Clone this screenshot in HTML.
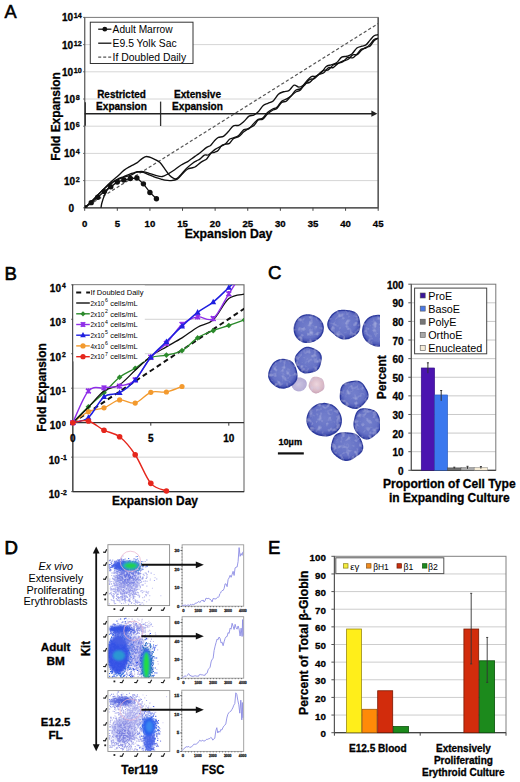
<!DOCTYPE html>
<html><head><meta charset="utf-8"><style>
html,body{margin:0;padding:0;background:#fff;width:520px;height:782px;overflow:hidden}
svg{display:block}
text{font-family:"Liberation Sans", sans-serif}
text[font-weight="bold"]{stroke:#000;stroke-width:0.3px;paint-order:stroke}
</style></head><body>
<svg width="520" height="782" viewBox="0 0 520 782" font-family='"Liberation Sans", sans-serif'>
<rect width="520" height="782" fill="#fff"/>
<text x="4.6" y="17.8" font-size="18.2" stroke="#000" stroke-width="0.55">A</text>
<line x1="84.7" y1="180.6" x2="378.2" y2="180.6" stroke="#d6d6d6" stroke-width="1"/>
<line x1="84.7" y1="153.4" x2="378.2" y2="153.4" stroke="#d6d6d6" stroke-width="1"/>
<line x1="84.7" y1="126.2" x2="378.2" y2="126.2" stroke="#d6d6d6" stroke-width="1"/>
<line x1="84.7" y1="99" x2="378.2" y2="99" stroke="#d6d6d6" stroke-width="1"/>
<line x1="84.7" y1="71.8" x2="378.2" y2="71.8" stroke="#d6d6d6" stroke-width="1"/>
<line x1="84.7" y1="44.6" x2="378.2" y2="44.6" stroke="#d6d6d6" stroke-width="1"/>
<rect x="84.7" y="17.4" width="293.5" height="190.4" fill="none" stroke="#7a7a7a" stroke-width="1"/>
<line x1="378.2" y1="17.4" x2="378.2" y2="207.8" stroke="#555" stroke-width="1.4"/>
<line x1="84.7" y1="207.8" x2="378.2" y2="207.8" stroke="#444" stroke-width="1.3"/>
<line x1="84.7" y1="17.4" x2="84.7" y2="207.8" stroke="#666" stroke-width="1.1"/>
<line x1="83.2" y1="207.8" x2="84.7" y2="207.8" stroke="#555" stroke-width="1"/>
<line x1="83.2" y1="180.6" x2="84.7" y2="180.6" stroke="#555" stroke-width="1"/>
<line x1="83.2" y1="153.4" x2="84.7" y2="153.4" stroke="#555" stroke-width="1"/>
<line x1="83.2" y1="126.2" x2="84.7" y2="126.2" stroke="#555" stroke-width="1"/>
<line x1="83.2" y1="99" x2="84.7" y2="99" stroke="#555" stroke-width="1"/>
<line x1="83.2" y1="71.8" x2="84.7" y2="71.8" stroke="#555" stroke-width="1"/>
<line x1="83.2" y1="44.6" x2="84.7" y2="44.6" stroke="#555" stroke-width="1"/>
<line x1="83.2" y1="17.4" x2="84.7" y2="17.4" stroke="#555" stroke-width="1"/>
<line x1="84.7" y1="207.8" x2="84.7" y2="210.8" stroke="#444" stroke-width="1"/>
<line x1="117.31" y1="207.8" x2="117.31" y2="210.8" stroke="#444" stroke-width="1"/>
<line x1="149.92" y1="207.8" x2="149.92" y2="210.8" stroke="#444" stroke-width="1"/>
<line x1="182.53" y1="207.8" x2="182.53" y2="210.8" stroke="#444" stroke-width="1"/>
<line x1="215.14" y1="207.8" x2="215.14" y2="210.8" stroke="#444" stroke-width="1"/>
<line x1="247.76" y1="207.8" x2="247.76" y2="210.8" stroke="#444" stroke-width="1"/>
<line x1="280.37" y1="207.8" x2="280.37" y2="210.8" stroke="#444" stroke-width="1"/>
<line x1="312.98" y1="207.8" x2="312.98" y2="210.8" stroke="#444" stroke-width="1"/>
<line x1="345.59" y1="207.8" x2="345.59" y2="210.8" stroke="#444" stroke-width="1"/>
<line x1="378.2" y1="207.8" x2="378.2" y2="210.8" stroke="#444" stroke-width="1"/>
<text x="71.3" y="212.3" font-size="10" font-weight="bold" text-anchor="middle">0</text>
<text x="71.8" y="184.6" font-size="10" font-weight="bold" text-anchor="middle">10<tspan font-size="7.2" dx="0.6" dy="-3.1">2</tspan></text>
<text x="71.8" y="157.4" font-size="10" font-weight="bold" text-anchor="middle">10<tspan font-size="7.2" dx="0.6" dy="-3.1">4</tspan></text>
<text x="71.8" y="130.2" font-size="10" font-weight="bold" text-anchor="middle">10<tspan font-size="7.2" dx="0.6" dy="-3.1">6</tspan></text>
<text x="71.8" y="103" font-size="10" font-weight="bold" text-anchor="middle">10<tspan font-size="7.2" dx="0.6" dy="-3.1">8</tspan></text>
<text x="71.8" y="75.8" font-size="10" font-weight="bold" text-anchor="middle">10<tspan font-size="7.2" dx="0.6" dy="-3.1">10</tspan></text>
<text x="71.8" y="48.6" font-size="10" font-weight="bold" text-anchor="middle">10<tspan font-size="7.2" dx="0.6" dy="-3.1">12</tspan></text>
<text x="71.8" y="21.4" font-size="10" font-weight="bold" text-anchor="middle">10<tspan font-size="7.2" dx="0.6" dy="-3.1">14</tspan></text>
<text x="84.7" y="227" font-size="9.6" font-weight="bold" text-anchor="middle">0</text>
<text x="117.31" y="227" font-size="9.6" font-weight="bold" text-anchor="middle">5</text>
<text x="149.92" y="227" font-size="9.6" font-weight="bold" text-anchor="middle">10</text>
<text x="182.53" y="227" font-size="9.6" font-weight="bold" text-anchor="middle">15</text>
<text x="215.14" y="227" font-size="9.6" font-weight="bold" text-anchor="middle">20</text>
<text x="247.76" y="227" font-size="9.6" font-weight="bold" text-anchor="middle">25</text>
<text x="280.37" y="227" font-size="9.6" font-weight="bold" text-anchor="middle">30</text>
<text x="312.98" y="227" font-size="9.6" font-weight="bold" text-anchor="middle">35</text>
<text x="345.59" y="227" font-size="9.6" font-weight="bold" text-anchor="middle">40</text>
<text x="378.2" y="227" font-size="9.6" font-weight="bold" text-anchor="middle">45</text>
<text x="228.5" y="237.6" font-size="12.4" font-weight="bold" text-anchor="middle" textLength="87.7" lengthAdjust="spacingAndGlyphs">Expansion Day</text>
<text transform="translate(59.6,116.5) rotate(-90)" x="0" y="0" font-size="12.4" font-weight="bold" text-anchor="middle" textLength="88.5" lengthAdjust="spacingAndGlyphs">Fold Expansion</text>
<line x1="85.3" y1="102.3" x2="85.3" y2="125.8" stroke="#333" stroke-width="1.3"/>
<line x1="160.6" y1="101.6" x2="160.6" y2="126" stroke="#333" stroke-width="1.3"/>
<line x1="84.7" y1="113.7" x2="373" y2="113.7" stroke="#222" stroke-width="1.5"/>
<path d="M377.4,113.7 L371.4,110.6 L371.4,116.8 Z" fill="#222"/>
<text x="121.5" y="98.4" font-size="10.2" font-weight="bold" text-anchor="middle" textLength="48.6" lengthAdjust="spacingAndGlyphs">Restricted</text>
<text x="121.5" y="110" font-size="10.2" font-weight="bold" text-anchor="middle" textLength="50.8" lengthAdjust="spacingAndGlyphs">Expansion</text>
<text x="197.5" y="98.4" font-size="10.2" font-weight="bold" text-anchor="middle" textLength="47" lengthAdjust="spacingAndGlyphs">Extensive</text>
<text x="197.5" y="110" font-size="10.2" font-weight="bold" text-anchor="middle" textLength="50.8" lengthAdjust="spacingAndGlyphs">Expansion</text>
<clipPath id="clipA"><rect x="84.7" y="17.4" width="293.5" height="190.4"/></clipPath>
<g clip-path="url(#clipA)" fill="none">
<line x1="84.7" y1="207.8" x2="378.2" y2="23.57" stroke="#555" stroke-width="1.2" stroke-dasharray="3.2,2.2"/>
<path d="M84.7,207.8 C85.79,206.85 89.05,204.17 91.22,202.09 C93.4,200 95.57,197.55 97.74,195.29 C99.92,193.02 102.09,190.71 104.27,188.49 C106.44,186.27 108.61,183.95 110.79,181.96 C112.96,179.97 115.14,178.45 117.31,176.52 C119.49,174.59 121.66,172.1 123.83,170.4 C126.01,168.7 128.18,167.57 130.36,166.32 C132.53,165.07 134.92,164.21 136.88,162.92 C138.83,161.63 140.47,159.63 142.1,158.57 C143.73,157.5 144.81,156.53 146.66,156.53 C148.51,156.53 151.01,157.62 153.18,158.57 C155.36,159.52 157.75,160.49 159.71,162.24 C161.66,163.99 163.29,166.89 164.92,169.04 C166.55,171.19 167.75,173.53 169.49,175.16 C171.23,176.79 173.62,178.72 175.36,178.83 C177.1,178.95 178.08,177.59 179.92,175.84 C181.77,174.09 184.27,170.51 186.45,168.36 C188.62,166.21 191.28,164.17 192.97,162.92 C194.65,161.67 195.36,161.56 196.56,160.88 C197.75,160.2 198.84,159.8 200.14,158.84 C201.45,157.88 202.97,155.79 204.38,155.1 C205.8,154.42 206.83,155.69 208.62,154.73 C210.42,153.77 212.97,150.82 215.14,149.35 C217.32,147.87 219.93,146.82 221.67,145.89 C223.41,144.96 224.28,144.89 225.58,143.77 C226.88,142.66 228.19,140.19 229.49,139.21 C230.8,138.22 231.88,138.49 233.41,137.86 C234.93,137.23 236.89,136.8 238.62,135.43 C240.36,134.06 242.1,130.75 243.84,129.62 C245.58,128.49 247.43,129.65 249.06,128.65 C250.69,127.66 252.1,125.18 253.63,123.64 C255.15,122.1 256.67,120.33 258.19,119.42 C259.71,118.51 261.21,119.32 262.76,118.16 C264.31,117.01 265.91,113.96 267.49,112.47 C269.06,110.98 270.64,110.1 272.21,109.23 C273.79,108.35 275.37,108.59 276.94,107.24 C278.52,105.9 280.12,102.53 281.67,101.17 C283.22,99.82 284.71,99.93 286.24,99.12 C287.76,98.3 289.28,97.71 290.8,96.26 C292.32,94.82 293.81,91.68 295.37,90.44 C296.93,89.21 298.56,89.81 300.15,88.85 C301.75,87.89 303.34,86.24 304.93,84.67 C306.53,83.1 308.16,80.43 309.72,79.45 C311.27,78.46 312.76,79.63 314.28,78.74 C315.8,77.86 317.33,75.54 318.85,74.13 C320.37,72.73 321.84,71.02 323.41,70.32 C324.99,69.63 326.67,70.86 328.31,69.96 C329.94,69.07 331.57,66.07 333.2,64.96 C334.83,63.86 336.46,63.9 338.09,63.34 C339.72,62.78 341.35,62.57 342.98,61.58 C344.61,60.59 346.24,58.01 347.87,57.38 C349.5,56.76 351.22,58.4 352.76,57.83 C354.3,57.25 355.66,55.39 357.11,53.94 C358.56,52.48 360.01,50.06 361.46,49.1 C362.91,48.14 364.39,48.95 365.81,48.17 C367.22,47.4 368.56,45.91 369.94,44.46 C371.32,43.01 372.69,40.51 374.07,39.48 C375.45,38.46 377.51,38.51 378.2,38.32" stroke="#111" stroke-width="1.35"/>
<path d="M84.7,207.8 C85.79,206.78 89.05,203.83 91.22,201.68 C93.4,199.53 95.57,197.03 97.74,194.88 C99.92,192.73 102.09,190.69 104.27,188.76 C106.44,186.83 108.61,184.79 110.79,183.32 C112.96,181.85 115.14,180.94 117.31,179.92 C119.49,178.9 121.66,177.95 123.83,177.2 C126.01,176.45 128.18,176.27 130.36,175.43 C132.53,174.59 134.7,172.8 136.88,172.17 C139.05,171.53 141.23,171.4 143.4,171.62 C145.57,171.85 147.75,172.85 149.92,173.53 C152.1,174.21 154.38,175.21 156.44,175.7 C158.51,176.2 160.36,176.84 162.31,176.52 C164.27,176.2 166.12,174.93 168.18,173.8 C170.25,172.67 172.53,171.19 174.71,169.72 C176.88,168.25 179.05,166.32 181.23,164.96 C183.4,163.6 186.07,162.56 187.75,161.56 C189.44,160.56 190.14,159.84 191.34,158.98 C192.53,158.11 193.46,157.43 194.93,156.39 C196.39,155.35 198.19,154.22 200.14,152.72 C202.1,151.22 204.93,148.58 206.67,147.37 C208.4,146.16 209.27,146.57 210.58,145.46 C211.88,144.34 213.19,142 214.49,140.66 C215.8,139.32 216.92,138.13 218.41,137.41 C219.89,136.69 221.74,137.32 223.41,136.35 C225.07,135.37 226.74,133.32 228.41,131.57 C230.07,129.82 231.7,126.88 233.41,125.83 C235.11,124.79 236.89,126.05 238.62,125.32 C240.36,124.59 242.1,122.98 243.84,121.46 C245.58,119.94 247.4,117.25 249.06,116.18 C250.72,115.11 252.21,115.79 253.79,115.03 C255.36,114.26 256.94,113.19 258.52,111.6 C260.09,110 261.67,106.81 263.25,105.43 C264.82,104.05 266.32,104.05 267.97,103.3 C269.63,102.55 271.45,102.44 273.19,100.94 C274.93,99.43 276.67,95.79 278.41,94.26 C280.15,92.73 281.89,92.34 283.63,91.74 C285.37,91.14 287.11,91.73 288.85,90.65 C290.58,89.56 292.43,85.83 294.06,85.24 C295.69,84.65 297.22,87.01 298.63,87.1 C300.04,87.2 301.24,86.76 302.54,85.81 C303.85,84.85 304.99,82.93 306.46,81.39 C307.92,79.85 309.72,77.43 311.35,76.57 C312.98,75.71 314.59,76.87 316.24,76.24 C317.89,75.61 319.57,74.4 321.24,72.78 C322.91,71.16 324.57,67.86 326.24,66.53 C327.91,65.21 329.54,65.45 331.24,64.83 C332.94,64.2 334.72,64.07 336.46,62.79 C338.2,61.52 339.94,58.27 341.68,57.18 C343.41,56.09 345.19,56.8 346.89,56.26 C348.6,55.72 350.23,55.33 351.89,53.95 C353.56,52.58 355.23,49.29 356.89,47.99 C358.56,46.7 360.38,46.69 361.89,46.18 C363.41,45.66 364.61,45.91 365.97,44.91 C367.33,43.9 368.69,41.68 370.05,40.16 C371.41,38.63 372.76,36.65 374.12,35.75 C375.48,34.85 377.52,34.93 378.2,34.77" stroke="#111" stroke-width="1.35"/>
<path d="M100.68,211.88 C100.84,210.52 100.95,206.67 101.66,203.72 C102.36,200.77 103.72,196.92 104.92,194.2 C106.11,191.48 107.53,189.37 108.83,187.4 C110.14,185.43 111.33,183.73 112.75,182.37 C114.16,181.01 115.46,180.21 117.31,179.24 C119.16,178.27 121.66,177.43 123.83,176.52 C126.01,175.61 128.67,174.42 130.36,173.8 C132.04,173.18 132.75,173.12 133.94,172.78 C135.14,172.44 135.95,171.82 137.53,171.76 C139.11,171.7 141.33,171.87 143.4,172.44 C145.47,173.01 148.24,174.48 149.92,175.16 C151.61,175.84 152.31,176.07 153.51,176.52 C154.71,176.97 155.85,177.46 157.1,177.88 C158.35,178.3 159.71,178.65 161.01,179.04 C162.31,179.42 163.29,179.93 164.92,180.19 C166.55,180.45 168.73,180.78 170.79,180.6 C172.86,180.42 175.36,180.26 177.32,179.1 C179.27,177.95 180.79,175.34 182.53,173.66 C184.27,171.99 186.28,169.98 187.75,169.04 C189.22,168.1 190.14,168.36 191.34,168.02 C192.53,167.68 193.68,167.68 194.93,167 C196.18,166.32 197.53,164.91 198.84,163.94 C200.14,162.97 201.45,161.99 202.75,161.16 C204.06,160.33 205.36,160.19 206.67,158.95 C207.97,157.7 209.27,154.8 210.58,153.69 C211.88,152.59 213.24,152.86 214.49,152.32 C215.74,151.78 216.88,151.61 218.08,150.47 C219.28,149.34 220.42,146.59 221.67,145.53 C222.92,144.47 224.28,144.51 225.58,144.14 C226.88,143.77 228.19,144.23 229.49,143.33 C230.8,142.43 231.88,139.84 233.41,138.73 C234.93,137.62 236.89,137.82 238.62,136.67 C240.36,135.51 242.1,133.25 243.84,131.81 C245.58,130.38 247.43,129.04 249.06,128.05 C250.69,127.05 252.1,127.18 253.63,125.85 C255.15,124.52 256.67,121.2 258.19,120.08 C259.71,118.96 261.21,120.11 262.76,119.11 C264.31,118.11 265.91,115.51 267.49,114.07 C269.06,112.64 270.64,111.42 272.21,110.48 C273.79,109.53 275.37,109.76 276.94,108.42 C278.52,107.07 280.12,103.6 281.67,102.4 C283.22,101.2 284.71,102.23 286.24,101.2 C287.76,100.17 289.28,97.72 290.8,96.23 C292.32,94.73 293.81,93.24 295.37,92.24 C296.93,91.24 298.56,91.62 300.15,90.22 C301.75,88.82 303.34,85.12 304.93,83.82 C306.53,82.51 308.16,83.38 309.72,82.39 C311.27,81.4 312.76,79.21 314.28,77.87 C315.8,76.52 317.33,75.13 318.85,74.33 C320.37,73.53 321.84,74.15 323.41,73.06 C324.99,71.97 326.67,68.72 328.31,67.8 C329.94,66.89 331.57,68.31 333.2,67.57 C334.83,66.82 336.46,64.43 338.09,63.34 C339.72,62.24 341.35,61.64 342.98,61 C344.61,60.36 346.24,60.53 347.87,59.52 C349.5,58.5 351.22,55.7 352.76,54.9 C354.3,54.09 355.66,55.44 357.11,54.67 C358.56,53.91 360.01,51.51 361.46,50.29 C362.91,49.07 364.39,48.05 365.81,47.36 C367.22,46.67 368.56,47.28 369.94,46.17 C371.32,45.06 372.69,42 374.07,40.69 C375.45,39.37 377.51,38.69 378.2,38.29" stroke="#111" stroke-width="1.35"/>
<path d="M84.7,207.8 L91.22,202.63 L97.74,197.19 L104.27,191.62 L110.79,186.86 L117.31,181.96 L123.83,180.06 L130.36,178.56 L136.88,178.02 L143.4,183.86 L149.92,192.43 L156.44,198.82" stroke="#111" stroke-width="1.3"/>
<circle cx="84.7" cy="207.8" r="2.7" fill="#111"/>
<circle cx="91.22" cy="202.63" r="2.7" fill="#111"/>
<circle cx="97.74" cy="197.19" r="2.7" fill="#111"/>
<circle cx="104.27" cy="191.62" r="2.7" fill="#111"/>
<circle cx="110.79" cy="186.86" r="2.7" fill="#111"/>
<circle cx="117.31" cy="181.96" r="2.7" fill="#111"/>
<circle cx="123.83" cy="180.06" r="2.7" fill="#111"/>
<circle cx="130.36" cy="178.56" r="2.7" fill="#111"/>
<circle cx="136.88" cy="178.02" r="2.7" fill="#111"/>
<circle cx="143.4" cy="183.86" r="2.7" fill="#111"/>
<circle cx="149.92" cy="192.43" r="2.7" fill="#111"/>
<circle cx="156.44" cy="198.82" r="2.7" fill="#111"/>
</g>
<rect x="90.3" y="22.2" width="102.7" height="41.3" fill="#fff" stroke="#333" stroke-width="1"/>
<line x1="98.2" y1="29.2" x2="111.4" y2="29.2" stroke="#111" stroke-width="1.3"/>
<circle cx="104.8" cy="29.2" r="2.4" fill="#111"/>
<line x1="98.2" y1="43.2" x2="111.4" y2="43.2" stroke="#111" stroke-width="1.3"/>
<line x1="98.2" y1="57.2" x2="111.4" y2="57.2" stroke="#555" stroke-width="1.2" stroke-dasharray="3,2"/>
<text x="112.6" y="32.9" font-size="10.3" textLength="60" lengthAdjust="spacingAndGlyphs">Adult Marrow</text>
<text x="112.6" y="46.9" font-size="10.3" textLength="64" lengthAdjust="spacingAndGlyphs">E9.5 Yolk Sac</text>
<text x="112.6" y="60.9" font-size="10.3" textLength="73.5" lengthAdjust="spacingAndGlyphs">If Doubled Daily</text>
<text x="4.4" y="280.4" font-size="18.6" stroke="#000" stroke-width="0.6">B</text>
<line x1="72.8" y1="319.27" x2="244" y2="319.27" stroke="#d2d2d2" stroke-width="1"/>
<line x1="72.8" y1="353.74" x2="244" y2="353.74" stroke="#d2d2d2" stroke-width="1"/>
<line x1="72.8" y1="388.21" x2="244" y2="388.21" stroke="#d2d2d2" stroke-width="1"/>
<line x1="72.8" y1="457.15" x2="244" y2="457.15" stroke="#d2d2d2" stroke-width="1"/>
<rect x="72.8" y="284.8" width="171.2" height="206.82" fill="none" stroke="#6a6a6a" stroke-width="1.1"/>
<line x1="72.8" y1="422.68" x2="244" y2="422.68" stroke="#333" stroke-width="1.3"/>
<line x1="72.8" y1="491.62" x2="244" y2="491.62" stroke="#333" stroke-width="1.3"/>
<line x1="72.8" y1="284.8" x2="72.8" y2="491.62" stroke="#444" stroke-width="1.2"/>
<line x1="72.8" y1="422.68" x2="72.8" y2="425.68" stroke="#333" stroke-width="1"/>
<line x1="150.8" y1="422.68" x2="150.8" y2="425.68" stroke="#333" stroke-width="1"/>
<line x1="228.8" y1="422.68" x2="228.8" y2="425.68" stroke="#333" stroke-width="1"/>
<line x1="71.3" y1="491.62" x2="72.8" y2="491.62" stroke="#444" stroke-width="1"/>
<line x1="71.3" y1="457.15" x2="72.8" y2="457.15" stroke="#444" stroke-width="1"/>
<line x1="71.3" y1="422.68" x2="72.8" y2="422.68" stroke="#444" stroke-width="1"/>
<line x1="71.3" y1="388.21" x2="72.8" y2="388.21" stroke="#444" stroke-width="1"/>
<line x1="71.3" y1="353.74" x2="72.8" y2="353.74" stroke="#444" stroke-width="1"/>
<line x1="71.3" y1="319.27" x2="72.8" y2="319.27" stroke="#444" stroke-width="1"/>
<line x1="71.3" y1="284.8" x2="72.8" y2="284.8" stroke="#444" stroke-width="1"/>
<text x="57.8" y="498.42" font-size="10" font-weight="bold" text-anchor="middle">10<tspan font-size="6.8" dx="1.0" dy="-3.5">-2</tspan></text>
<text x="57.8" y="463.95" font-size="10" font-weight="bold" text-anchor="middle">10<tspan font-size="6.8" dx="1.0" dy="-3.5">-1</tspan></text>
<text x="57.8" y="429.48" font-size="10" font-weight="bold" text-anchor="middle">10<tspan font-size="6.8" dx="1.0" dy="-3.5">0</tspan></text>
<text x="57.8" y="395.01" font-size="10" font-weight="bold" text-anchor="middle">10<tspan font-size="6.8" dx="1.0" dy="-3.5">1</tspan></text>
<text x="57.8" y="360.54" font-size="10" font-weight="bold" text-anchor="middle">10<tspan font-size="6.8" dx="1.0" dy="-3.5">2</tspan></text>
<text x="57.8" y="326.07" font-size="10" font-weight="bold" text-anchor="middle">10<tspan font-size="6.8" dx="1.0" dy="-3.5">3</tspan></text>
<text x="57.8" y="291.6" font-size="10" font-weight="bold" text-anchor="middle">10<tspan font-size="6.8" dx="1.0" dy="-3.5">4</tspan></text>
<text x="72.8" y="441.8" font-size="10" font-weight="bold" text-anchor="middle">0</text>
<text x="150.8" y="441.8" font-size="10" font-weight="bold" text-anchor="middle">5</text>
<text x="228.8" y="441.8" font-size="10" font-weight="bold" text-anchor="middle">10</text>
<text x="155" y="505.2" font-size="12.6" font-weight="bold" text-anchor="middle" textLength="86" lengthAdjust="spacingAndGlyphs">Expansion Day</text>
<text transform="translate(45.8,387.5) rotate(-90)" x="0" y="0" font-size="12.4" font-weight="bold" text-anchor="middle" textLength="88.3" lengthAdjust="spacingAndGlyphs">Fold Expansion</text>
<clipPath id="clipB"><rect x="68.8" y="284.8" width="175.2" height="210.82"/></clipPath>
<g clip-path="url(#clipB)" fill="none">
<line x1="72.8" y1="422.68" x2="244.4" y2="308.54" stroke="#111" stroke-width="2" stroke-dasharray="5,3.4"/>
<path d="M72.8,422.68 C75.4,420.84 83.2,414.12 88.4,411.65 C93.6,409.18 98.8,409.81 104,407.86 C109.2,405.9 114.4,400.73 119.6,399.93 C124.8,399.13 130,404.3 135.2,403.03 C140.4,401.77 145.6,394.18 150.8,392.35 C156,390.51 161.2,392.98 166.4,392 C171.6,391.03 179.4,387.41 182,386.49" stroke="#f39a2e" stroke-width="1.3"/>
<circle cx="72.8" cy="422.68" r="2.6" fill="#f39a2e"/>
<circle cx="88.4" cy="411.65" r="2.6" fill="#f39a2e"/>
<circle cx="104" cy="407.86" r="2.6" fill="#f39a2e"/>
<circle cx="119.6" cy="399.93" r="2.6" fill="#f39a2e"/>
<circle cx="135.2" cy="403.03" r="2.6" fill="#f39a2e"/>
<circle cx="150.8" cy="392.35" r="2.6" fill="#f39a2e"/>
<circle cx="166.4" cy="392" r="2.6" fill="#f39a2e"/>
<circle cx="182" cy="386.49" r="2.6" fill="#f39a2e"/>
<path d="M72.8,422.68 C75.4,420.04 83.2,411.82 88.4,406.82 C93.6,401.83 98.8,397.63 104,392.69 C109.2,387.75 114.4,381.26 119.6,377.18 C124.8,373.1 130,371.49 135.2,368.22 C140.4,364.94 145.6,359.71 150.8,357.53 C156,355.35 161.2,356.27 166.4,355.12 C171.6,353.97 176.8,353.51 182,350.64 C187.2,347.77 192.4,341.22 197.6,337.88 C202.8,334.55 208,332.71 213.2,330.65 C218.4,328.58 223.6,327.26 228.8,325.47 C234,323.69 241.8,320.88 244.4,319.96" stroke="#2b8a2b" stroke-width="1.4"/>
<path d="M72.8,419.88 L75.6,422.68 L72.8,425.48 L70,422.68 Z" fill="#2b8a2b"/>
<path d="M88.4,404.02 L91.2,406.82 L88.4,409.62 L85.6,406.82 Z" fill="#2b8a2b"/>
<path d="M104,389.89 L106.8,392.69 L104,395.49 L101.2,392.69 Z" fill="#2b8a2b"/>
<path d="M119.6,374.38 L122.4,377.18 L119.6,379.98 L116.8,377.18 Z" fill="#2b8a2b"/>
<path d="M135.2,365.42 L138,368.22 L135.2,371.02 L132.4,368.22 Z" fill="#2b8a2b"/>
<path d="M150.8,354.73 L153.6,357.53 L150.8,360.33 L148,357.53 Z" fill="#2b8a2b"/>
<path d="M166.4,352.32 L169.2,355.12 L166.4,357.92 L163.6,355.12 Z" fill="#2b8a2b"/>
<path d="M182,347.84 L184.8,350.64 L182,353.44 L179.2,350.64 Z" fill="#2b8a2b"/>
<path d="M197.6,335.08 L200.4,337.88 L197.6,340.68 L194.8,337.88 Z" fill="#2b8a2b"/>
<path d="M213.2,327.85 L216,330.65 L213.2,333.45 L210.4,330.65 Z" fill="#2b8a2b"/>
<path d="M228.8,322.67 L231.6,325.47 L228.8,328.27 L226,325.47 Z" fill="#2b8a2b"/>
<path d="M244.4,317.16 L247.2,319.96 L244.4,322.76 L241.6,319.96 Z" fill="#2b8a2b"/>
<path d="M72.8,422.68 C75.4,420.09 83.2,412.45 88.4,407.17 C93.6,401.88 98.8,394.7 104,390.97 C109.2,387.23 114.4,388.21 119.6,384.76 C124.8,381.32 130,375.05 135.2,370.29 C140.4,365.52 145.6,360.06 150.8,356.15 C156,352.25 161.2,349.89 166.4,346.85 C171.6,343.8 176.8,341.16 182,337.88 C187.2,334.61 192.4,330.19 197.6,327.2 C202.8,324.21 208,324.73 213.2,319.96 C218.4,315.19 223.6,302.9 228.8,298.59 C234,294.28 241.8,294.85 244.4,294.11" stroke="#111" stroke-width="1.3"/>
<path d="M72.8,422.68 C75.4,417.39 83.2,396.77 88.4,390.97 C93.6,385.17 98.8,388.67 104,387.87 C109.2,387.06 114.4,387.46 119.6,386.14 C124.8,384.82 130,384.76 135.2,379.94 C140.4,375.11 145.6,363.28 150.8,357.19 C156,351.1 161.2,348.86 166.4,343.4 C171.6,337.94 176.8,328.86 182,324.44 C187.2,320.02 192.4,317.83 197.6,316.86 C202.8,315.88 208,322.43 213.2,318.58 C218.4,314.73 223.6,301.98 228.8,293.76 C234,285.55 241.8,273.37 244.4,269.29" stroke="#8f2ee8" stroke-width="1.4"/>
<path d="M70.4,420.28 L75.2,425.08 M75.2,420.28 L70.4,425.08 M72.8,420.04 L72.8,425.32" stroke="#8f2ee8" stroke-width="1.6" fill="none"/>
<path d="M86,388.57 L90.8,393.37 M90.8,388.57 L86,393.37 M88.4,388.33 L88.4,393.61" stroke="#8f2ee8" stroke-width="1.6" fill="none"/>
<path d="M101.6,385.47 L106.4,390.27 M106.4,385.47 L101.6,390.27 M104,385.23 L104,390.51" stroke="#8f2ee8" stroke-width="1.6" fill="none"/>
<path d="M117.2,383.74 L122,388.54 M122,383.74 L117.2,388.54 M119.6,383.5 L119.6,388.78" stroke="#8f2ee8" stroke-width="1.6" fill="none"/>
<path d="M132.8,377.54 L137.6,382.34 M137.6,377.54 L132.8,382.34 M135.2,377.3 L135.2,382.58" stroke="#8f2ee8" stroke-width="1.6" fill="none"/>
<path d="M148.4,354.79 L153.2,359.59 M153.2,354.79 L148.4,359.59 M150.8,354.55 L150.8,359.83" stroke="#8f2ee8" stroke-width="1.6" fill="none"/>
<path d="M164,341 L168.8,345.8 M168.8,341 L164,345.8 M166.4,340.76 L166.4,346.04" stroke="#8f2ee8" stroke-width="1.6" fill="none"/>
<path d="M179.6,322.04 L184.4,326.84 M184.4,322.04 L179.6,326.84 M182,321.8 L182,327.08" stroke="#8f2ee8" stroke-width="1.6" fill="none"/>
<path d="M195.2,314.46 L200,319.26 M200,314.46 L195.2,319.26 M197.6,314.22 L197.6,319.5" stroke="#8f2ee8" stroke-width="1.6" fill="none"/>
<path d="M210.8,316.18 L215.6,320.98 M215.6,316.18 L210.8,320.98 M213.2,315.94 L213.2,321.22" stroke="#8f2ee8" stroke-width="1.6" fill="none"/>
<path d="M226.4,291.36 L231.2,296.16 M231.2,291.36 L226.4,296.16 M228.8,291.12 L228.8,296.4" stroke="#8f2ee8" stroke-width="1.6" fill="none"/>
<path d="M242,266.89 L246.8,271.69 M246.8,266.89 L242,271.69 M244.4,266.65 L244.4,271.93" stroke="#8f2ee8" stroke-width="1.6" fill="none"/>
<path d="M72.8,422.68 C75.4,421.82 83.2,421.82 88.4,417.51 C93.6,413.2 98.8,400.96 104,396.83 C109.2,392.69 114.4,395.51 119.6,392.69 C124.8,389.88 130,385.85 135.2,379.94 C140.4,374.02 145.6,363.56 150.8,357.19 C156,350.81 161.2,346.85 166.4,341.68 C171.6,336.5 176.8,331.05 182,326.16 C187.2,321.28 192.4,316.4 197.6,312.38 C202.8,308.35 208,306.17 213.2,302.04 C218.4,297.9 223.6,292.44 228.8,287.56 C234,282.67 241.8,275.21 244.4,272.74" stroke="#1f1fe0" stroke-width="1.5"/>
<path d="M72.8,419.38 L75.8,424.93 L69.8,424.93 Z" fill="#1f1fe0"/>
<path d="M88.4,414.21 L91.4,419.76 L85.4,419.76 Z" fill="#1f1fe0"/>
<path d="M104,393.53 L107,399.08 L101,399.08 Z" fill="#1f1fe0"/>
<path d="M119.6,389.39 L122.6,394.94 L116.6,394.94 Z" fill="#1f1fe0"/>
<path d="M135.2,376.64 L138.2,382.19 L132.2,382.19 Z" fill="#1f1fe0"/>
<path d="M150.8,353.89 L153.8,359.44 L147.8,359.44 Z" fill="#1f1fe0"/>
<path d="M166.4,338.38 L169.4,343.93 L163.4,343.93 Z" fill="#1f1fe0"/>
<path d="M182,322.86 L185,328.41 L179,328.41 Z" fill="#1f1fe0"/>
<path d="M197.6,309.08 L200.6,314.63 L194.6,314.63 Z" fill="#1f1fe0"/>
<path d="M213.2,298.74 L216.2,304.29 L210.2,304.29 Z" fill="#1f1fe0"/>
<path d="M228.8,284.26 L231.8,289.81 L225.8,289.81 Z" fill="#1f1fe0"/>
<path d="M244.4,269.44 L247.4,274.99 L241.4,274.99 Z" fill="#1f1fe0"/>
<path d="M72.8,422.68 C75.4,422.39 83.2,419.69 88.4,420.96 C93.6,422.22 98.8,427.62 104,430.26 C109.2,432.91 114.4,432.73 119.6,436.81 C124.8,440.89 130,446.98 135.2,454.74 C140.4,462.49 145.6,477.31 150.8,483.35 C156,489.38 163.8,489.67 166.4,490.93" stroke="#e5261c" stroke-width="1.4"/>
<circle cx="72.8" cy="422.68" r="2.8" fill="#e5261c"/>
<circle cx="88.4" cy="420.96" r="2.8" fill="#e5261c"/>
<circle cx="104" cy="430.26" r="2.8" fill="#e5261c"/>
<circle cx="119.6" cy="436.81" r="2.8" fill="#e5261c"/>
<circle cx="135.2" cy="454.74" r="2.8" fill="#e5261c"/>
<circle cx="150.8" cy="483.35" r="2.8" fill="#e5261c"/>
<circle cx="166.4" cy="490.93" r="2.8" fill="#e5261c"/>
</g>
<rect x="73.4" y="285.4" width="71.4" height="76" fill="#fff"/>
<line x1="76.2" y1="292.5" x2="81.2" y2="292.5" stroke="#111" stroke-width="2"/>
<line x1="86.2" y1="292.5" x2="90" y2="292.5" stroke="#111" stroke-width="2"/>
<text x="90.6" y="295.3" font-size="7.8" textLength="52.8" lengthAdjust="spacingAndGlyphs">If Doubled Daily</text>
<line x1="76.2" y1="303" x2="89.8" y2="303" stroke="#111" stroke-width="1.4"/>
<text x="90.4" y="305.7" font-size="7.6" textLength="13.9" lengthAdjust="spacingAndGlyphs">2x10</text>
<text x="105" y="302.2" font-size="5.2">6</text>
<text x="110.2" y="305.7" font-size="7.6" textLength="27.4" lengthAdjust="spacingAndGlyphs">cells/mL</text>
<line x1="76.2" y1="313.8" x2="89.8" y2="313.8" stroke="#2b8a2b" stroke-width="1.4"/>
<path d="M83,311.2 L85.6,313.8 L83,316.4 L80.4,313.8 Z" fill="#2b8a2b"/>
<text x="90.4" y="316.5" font-size="7.6" textLength="13.9" lengthAdjust="spacingAndGlyphs">2x10</text>
<text x="105" y="313" font-size="5.2">2</text>
<text x="110.2" y="316.5" font-size="7.6" textLength="27.4" lengthAdjust="spacingAndGlyphs">cells/mL</text>
<line x1="76.2" y1="324.5" x2="89.8" y2="324.5" stroke="#8f2ee8" stroke-width="1.4"/>
<path d="M80.8,322.3 L85.2,326.7 M85.2,322.3 L80.8,326.7 M83,322.08 L83,326.92" stroke="#8f2ee8" stroke-width="1.6" fill="none"/>
<text x="90.4" y="327.2" font-size="7.6" textLength="13.9" lengthAdjust="spacingAndGlyphs">2x10</text>
<text x="105" y="323.7" font-size="5.2">4</text>
<text x="110.2" y="327.2" font-size="7.6" textLength="27.4" lengthAdjust="spacingAndGlyphs">cells/mL</text>
<line x1="76.2" y1="335.2" x2="89.8" y2="335.2" stroke="#1f1fe0" stroke-width="1.4"/>
<path d="M83,332.12 L85.8,337.3 L80.2,337.3 Z" fill="#1f1fe0"/>
<text x="90.4" y="337.9" font-size="7.6" textLength="13.9" lengthAdjust="spacingAndGlyphs">2x10</text>
<text x="105" y="334.4" font-size="5.2">5</text>
<text x="110.2" y="337.9" font-size="7.6" textLength="27.4" lengthAdjust="spacingAndGlyphs">cells/mL</text>
<line x1="76.2" y1="345.9" x2="89.8" y2="345.9" stroke="#f39a2e" stroke-width="1.4"/>
<circle cx="83" cy="345.9" r="2.6" fill="#f39a2e"/>
<text x="90.4" y="348.6" font-size="7.6" textLength="13.9" lengthAdjust="spacingAndGlyphs">4x10</text>
<text x="105" y="345.1" font-size="5.2">6</text>
<text x="110.2" y="348.6" font-size="7.6" textLength="27.4" lengthAdjust="spacingAndGlyphs">cells/mL</text>
<line x1="76.2" y1="356.7" x2="89.8" y2="356.7" stroke="#e5261c" stroke-width="1.4"/>
<circle cx="83" cy="356.7" r="2.6" fill="#e5261c"/>
<text x="90.4" y="359.4" font-size="7.6" textLength="13.9" lengthAdjust="spacingAndGlyphs">2x10</text>
<text x="105" y="355.9" font-size="5.2">7</text>
<text x="110.2" y="359.4" font-size="7.6" textLength="27.4" lengthAdjust="spacingAndGlyphs">cells/mL</text>
<text x="268" y="279.4" font-size="18.6" stroke="#000" stroke-width="0.6">C</text>
<defs>
<radialGradient id="cellg" cx="50%" cy="45%" r="55%">
<stop offset="0" stop-color="#7480cc"/><stop offset="0.7" stop-color="#6672c6"/><stop offset="0.9" stop-color="#4c58b6"/><stop offset="1" stop-color="#303ea0"/>
</radialGradient>
<radialGradient id="pink1" cx="50%" cy="50%" r="55%"><stop offset="0" stop-color="#cbc3e0"/><stop offset="0.8" stop-color="#b7aed6"/><stop offset="1" stop-color="#a89ccc"/></radialGradient>
<radialGradient id="pink2" cx="50%" cy="45%" r="55%"><stop offset="0" stop-color="#ecd6de"/><stop offset="0.75" stop-color="#d9b9c6"/><stop offset="1" stop-color="#c9a2b6"/></radialGradient>
<filter id="ctex" x="-10%" y="-10%" width="120%" height="120%">
<feTurbulence type="fractalNoise" baseFrequency="0.22" numOctaves="2" seed="7" result="n"/>
<feColorMatrix in="n" type="matrix" values="0 0 0 0 0.62  0 0 0 0 0.66  0 0 0 0 0.9  0 0 0 1.0 -0.5" result="w"/>
<feComposite in="w" in2="SourceGraphic" operator="in" result="wi"/>
<feMerge result="m"><feMergeNode in="SourceGraphic"/><feMergeNode in="wi"/></feMerge>
<feGaussianBlur in="m" stdDeviation="0.45"/>
</filter>
<clipPath id="clipImgC"><rect x="250" y="300" width="130" height="170"/></clipPath>
</defs>
<g clip-path="url(#clipImgC)"><g filter="url(#ctex)">
<path d="M306.75,384.3 C306.72,384.48 306.66,385.03 306.57,385.39 C306.48,385.74 306.36,386.09 306.21,386.43 C306.07,386.77 305.9,387.1 305.72,387.41 C305.53,387.73 305.32,388.03 305.09,388.32 C304.86,388.61 304.61,388.9 304.34,389.16 C304.08,389.42 303.79,389.68 303.48,389.91 C303.17,390.13 302.84,390.35 302.5,390.54 C302.15,390.73 301.78,390.89 301.4,391.03 C301.03,391.16 300.63,391.27 300.23,391.35 C299.83,391.42 299.41,391.46 299,391.46 C298.59,391.47 298.17,391.44 297.77,391.37 C297.36,391.31 296.96,391.2 296.58,391.07 C296.2,390.94 295.83,390.77 295.48,390.58 C295.13,390.39 294.8,390.17 294.5,389.94 C294.19,389.7 293.91,389.44 293.64,389.17 C293.38,388.9 293.14,388.61 292.92,388.31 C292.7,388.02 292.51,387.71 292.33,387.39 C292.15,387.07 291.99,386.75 291.86,386.41 C291.72,386.07 291.6,385.73 291.52,385.38 C291.43,385.03 291.36,384.66 291.33,384.3 C291.3,383.94 291.3,383.56 291.33,383.2 C291.36,382.83 291.43,382.45 291.53,382.09 C291.64,381.73 291.78,381.37 291.96,381.04 C292.13,380.7 292.35,380.37 292.6,380.07 C292.84,379.77 293.12,379.49 293.43,379.23 C293.73,378.98 294.06,378.75 294.41,378.55 C294.75,378.36 295.12,378.19 295.49,378.04 C295.87,377.9 296.26,377.79 296.64,377.7 C297.03,377.62 297.43,377.56 297.82,377.52 C298.21,377.48 298.61,377.47 299,377.48 C299.39,377.49 299.78,377.52 300.17,377.57 C300.56,377.62 300.95,377.69 301.33,377.79 C301.71,377.88 302.09,378 302.45,378.14 C302.82,378.28 303.18,378.45 303.52,378.64 C303.86,378.83 304.2,379.05 304.5,379.3 C304.81,379.54 305.1,379.81 305.35,380.1 C305.61,380.39 305.84,380.71 306.03,381.04 C306.22,381.38 306.37,381.73 306.49,382.09 C306.61,382.44 306.69,382.82 306.73,383.19 C306.77,383.56 306.75,384.11 306.75,384.3Z" fill="url(#pink1)"/>
<path d="M324.31,385 C324.32,385.22 324.4,385.87 324.39,386.31 C324.38,386.75 324.35,387.21 324.25,387.65 C324.16,388.08 324.01,388.52 323.82,388.91 C323.62,389.3 323.35,389.68 323.07,390 C322.79,390.33 322.45,390.61 322.11,390.87 C321.78,391.12 321.42,391.33 321.07,391.54 C320.72,391.75 320.36,391.93 320.01,392.11 C319.65,392.3 319.3,392.48 318.93,392.65 C318.57,392.81 318.2,392.99 317.81,393.12 C317.42,393.24 317.01,393.36 316.6,393.41 C316.19,393.46 315.76,393.47 315.35,393.41 C314.94,393.35 314.52,393.23 314.14,393.07 C313.75,392.9 313.38,392.67 313.04,392.43 C312.7,392.2 312.38,391.91 312.07,391.63 C311.77,391.35 311.48,391.05 311.2,390.75 C310.91,390.45 310.63,390.14 310.37,389.82 C310.11,389.49 309.84,389.15 309.62,388.79 C309.39,388.42 309.17,388.03 309.02,387.62 C308.87,387.21 308.75,386.77 308.69,386.33 C308.64,385.9 308.64,385.44 308.69,385 C308.73,384.56 308.84,384.13 308.96,383.71 C309.08,383.3 309.24,382.9 309.4,382.51 C309.55,382.12 309.72,381.74 309.9,381.36 C310.07,380.99 310.24,380.61 310.44,380.23 C310.63,379.86 310.83,379.47 311.07,379.12 C311.32,378.77 311.58,378.41 311.89,378.11 C312.2,377.81 312.55,377.53 312.92,377.32 C313.3,377.12 313.71,376.97 314.12,376.87 C314.52,376.77 314.96,376.74 315.37,376.74 C315.78,376.73 316.2,376.78 316.6,376.83 C317,376.88 317.39,376.96 317.79,377.04 C318.18,377.12 318.56,377.2 318.95,377.3 C319.34,377.41 319.73,377.51 320.11,377.67 C320.49,377.82 320.88,377.99 321.23,378.22 C321.58,378.44 321.93,378.71 322.22,379.02 C322.51,379.33 322.77,379.69 322.99,380.06 C323.2,380.43 323.37,380.85 323.52,381.25 C323.66,381.65 323.76,382.07 323.87,382.49 C323.97,382.9 324.04,383.31 324.12,383.73 C324.19,384.15 324.28,384.79 324.31,385Z" fill="url(#pink2)"/>
<path d="M323.26,328.6 C323.21,328.98 323.14,330.14 322.97,330.88 C322.8,331.62 322.56,332.35 322.26,333.04 C321.96,333.73 321.6,334.4 321.19,335.02 C320.79,335.64 320.32,336.23 319.83,336.77 C319.34,337.32 318.81,337.82 318.26,338.29 C317.71,338.75 317.12,339.18 316.53,339.57 C315.93,339.96 315.31,340.31 314.67,340.63 C314.04,340.94 313.38,341.23 312.71,341.47 C312.04,341.71 311.35,341.92 310.65,342.08 C309.95,342.24 309.23,342.36 308.5,342.42 C307.77,342.48 307.03,342.49 306.29,342.44 C305.56,342.39 304.81,342.28 304.08,342.1 C303.36,341.93 302.63,341.69 301.94,341.39 C301.25,341.08 300.57,340.71 299.95,340.29 C299.32,339.86 298.73,339.37 298.19,338.84 C297.65,338.31 297.15,337.72 296.72,337.1 C296.28,336.48 295.9,335.81 295.58,335.13 C295.26,334.46 295,333.74 294.8,333.02 C294.59,332.3 294.45,331.56 294.36,330.82 C294.27,330.09 294.24,329.34 294.26,328.6 C294.28,327.86 294.36,327.12 294.49,326.4 C294.62,325.67 294.8,324.95 295.03,324.25 C295.26,323.56 295.54,322.87 295.88,322.21 C296.21,321.56 296.6,320.92 297.03,320.32 C297.46,319.73 297.95,319.16 298.47,318.64 C298.99,318.12 299.57,317.64 300.17,317.22 C300.78,316.8 301.43,316.42 302.09,316.11 C302.76,315.8 303.46,315.54 304.16,315.34 C304.86,315.14 305.59,315 306.32,314.91 C307.04,314.82 307.77,314.79 308.5,314.81 C309.23,314.83 309.95,314.9 310.67,315.02 C311.38,315.13 312.09,315.3 312.78,315.51 C313.48,315.72 314.16,315.97 314.83,316.27 C315.49,316.57 316.14,316.91 316.77,317.3 C317.39,317.69 318,318.13 318.56,318.61 C319.13,319.09 319.68,319.62 320.17,320.18 C320.65,320.75 321.11,321.37 321.5,322.02 C321.89,322.67 322.23,323.37 322.5,324.08 C322.77,324.8 322.97,325.55 323.1,326.3 C323.23,327.06 323.23,328.22 323.26,328.6Z" fill="url(#cellg)" stroke="#2d3b9e" stroke-width="1.3"/>
<path d="M359.28,321.58 C359.33,321.93 359.48,322.97 359.54,323.68 C359.61,324.4 359.69,325.12 359.69,325.86 C359.69,326.59 359.67,327.36 359.54,328.11 C359.41,328.86 359.22,329.63 358.92,330.36 C358.62,331.08 358.21,331.8 357.73,332.46 C357.26,333.11 356.67,333.73 356.05,334.29 C355.44,334.84 354.74,335.34 354.03,335.8 C353.33,336.26 352.57,336.67 351.81,337.03 C351.04,337.4 350.25,337.74 349.44,338.01 C348.63,338.28 347.79,338.52 346.95,338.67 C346.11,338.82 345.23,338.92 344.39,338.9 C343.54,338.89 342.67,338.78 341.86,338.59 C341.06,338.4 340.27,338.1 339.55,337.75 C338.82,337.41 338.16,336.97 337.53,336.53 C336.9,336.1 336.34,335.61 335.77,335.15 C335.21,334.69 334.69,334.22 334.14,333.76 C333.6,333.3 333.05,332.85 332.5,332.37 C331.95,331.89 331.37,331.41 330.84,330.87 C330.32,330.32 329.78,329.74 329.35,329.1 C328.93,328.47 328.54,327.76 328.29,327.04 C328.04,326.32 327.89,325.53 327.85,324.76 C327.82,323.99 327.92,323.2 328.08,322.43 C328.25,321.67 328.53,320.91 328.84,320.19 C329.16,319.46 329.55,318.76 329.96,318.08 C330.38,317.4 330.83,316.74 331.33,316.11 C331.83,315.47 332.35,314.85 332.94,314.29 C333.53,313.72 334.17,313.17 334.85,312.7 C335.54,312.24 336.29,311.82 337.07,311.49 C337.84,311.16 338.67,310.92 339.49,310.74 C340.3,310.56 341.15,310.47 341.97,310.42 C342.79,310.36 343.61,310.38 344.41,310.4 C345.22,310.42 346.01,310.48 346.8,310.55 C347.6,310.62 348.39,310.7 349.19,310.83 C349.98,310.96 350.8,311.09 351.58,311.32 C352.36,311.55 353.15,311.82 353.87,312.18 C354.58,312.55 355.28,313 355.86,313.52 C356.45,314.04 356.96,314.65 357.38,315.29 C357.8,315.93 358.11,316.64 358.37,317.33 C358.62,318.03 358.78,318.76 358.94,319.46 C359.09,320.17 359.23,321.22 359.28,321.58Z" fill="url(#cellg)" stroke="#2d3b9e" stroke-width="1.3"/>
<path d="M394.52,330.8 C394.52,331.21 394.61,332.46 394.52,333.27 C394.43,334.09 394.26,334.92 394,335.71 C393.74,336.5 393.39,337.27 392.98,337.99 C392.57,338.71 392.07,339.4 391.54,340.03 C391.01,340.67 390.41,341.26 389.79,341.81 C389.17,342.35 388.51,342.85 387.83,343.31 C387.14,343.77 386.42,344.18 385.68,344.54 C384.94,344.9 384.17,345.22 383.39,345.46 C382.6,345.71 381.79,345.9 380.97,346.01 C380.16,346.12 379.32,346.16 378.5,346.14 C377.68,346.11 376.85,346 376.06,345.84 C375.26,345.69 374.47,345.46 373.7,345.19 C372.94,344.92 372.2,344.59 371.48,344.23 C370.76,343.87 370.06,343.47 369.39,343.02 C368.72,342.58 368.07,342.09 367.46,341.56 C366.85,341.03 366.27,340.45 365.76,339.82 C365.24,339.2 364.77,338.52 364.38,337.81 C363.99,337.11 363.66,336.35 363.41,335.58 C363.16,334.81 362.99,334.01 362.88,333.21 C362.77,332.41 362.75,331.6 362.76,330.8 C362.78,330 362.87,329.2 362.99,328.41 C363.12,327.61 363.29,326.83 363.51,326.05 C363.74,325.28 364.01,324.51 364.34,323.77 C364.67,323.02 365.05,322.28 365.5,321.6 C365.96,320.91 366.48,320.24 367.05,319.64 C367.63,319.05 368.28,318.49 368.97,318.01 C369.66,317.54 370.41,317.13 371.18,316.79 C371.94,316.45 372.75,316.19 373.56,315.99 C374.37,315.78 375.2,315.65 376.02,315.57 C376.85,315.49 377.68,315.46 378.5,315.49 C379.32,315.52 380.14,315.6 380.95,315.73 C381.75,315.87 382.56,316.06 383.33,316.32 C384.1,316.57 384.86,316.89 385.58,317.26 C386.29,317.64 386.98,318.08 387.62,318.56 C388.26,319.05 388.86,319.59 389.41,320.17 C389.96,320.74 390.47,321.36 390.93,322 C391.4,322.63 391.83,323.3 392.21,323.99 C392.6,324.68 392.96,325.39 393.27,326.12 C393.58,326.86 393.86,327.62 394.07,328.4 C394.28,329.18 394.45,330.4 394.52,330.8Z" fill="url(#cellg)" stroke="#2d3b9e" stroke-width="1.3"/>
<path d="M320.01,364.43 C319.91,364.73 319.66,365.67 319.41,366.27 C319.16,366.87 318.88,367.48 318.51,368.02 C318.14,368.57 317.7,369.09 317.22,369.54 C316.73,369.98 316.16,370.36 315.58,370.68 C315.01,371 314.38,371.24 313.76,371.46 C313.14,371.67 312.5,371.82 311.87,371.98 C311.24,372.13 310.62,372.26 309.97,372.38 C309.33,372.5 308.69,372.62 308.02,372.69 C307.36,372.76 306.67,372.82 305.98,372.8 C305.3,372.77 304.59,372.69 303.92,372.51 C303.25,372.33 302.58,372.06 301.98,371.72 C301.38,371.37 300.82,370.91 300.33,370.43 C299.84,369.95 299.41,369.39 299.02,368.83 C298.64,368.28 298.31,367.68 297.99,367.11 C297.67,366.53 297.39,365.95 297.11,365.36 C296.82,364.77 296.54,364.19 296.29,363.57 C296.05,362.96 295.8,362.33 295.63,361.69 C295.47,361.04 295.34,360.35 295.31,359.68 C295.29,359.01 295.35,358.31 295.5,357.66 C295.65,357.01 295.92,356.36 296.22,355.77 C296.53,355.17 296.93,354.62 297.34,354.1 C297.74,353.59 298.21,353.12 298.65,352.66 C299.1,352.19 299.56,351.76 300.02,351.33 C300.48,350.89 300.94,350.46 301.44,350.05 C301.94,349.63 302.45,349.21 303,348.86 C303.56,348.51 304.16,348.17 304.78,347.93 C305.41,347.69 306.08,347.52 306.75,347.44 C307.42,347.36 308.12,347.38 308.79,347.45 C309.45,347.53 310.12,347.7 310.76,347.89 C311.4,348.07 312.02,348.32 312.63,348.57 C313.25,348.81 313.84,349.08 314.44,349.36 C315.04,349.65 315.65,349.93 316.24,350.27 C316.82,350.6 317.43,350.96 317.97,351.39 C318.51,351.82 319.04,352.31 319.48,352.85 C319.91,353.39 320.28,354.01 320.55,354.65 C320.82,355.29 320.99,355.99 321.08,356.67 C321.17,357.34 321.16,358.05 321.12,358.72 C321.08,359.39 320.96,360.05 320.85,360.69 C320.74,361.33 320.6,361.95 320.46,362.57 C320.32,363.2 320.08,364.12 320.01,364.43Z" fill="url(#cellg)" stroke="#2d3b9e" stroke-width="1.3"/>
<path d="M296.76,373.8 C296.79,374.17 296.93,375.27 296.91,376.02 C296.89,376.76 296.83,377.54 296.66,378.27 C296.5,379.01 296.25,379.75 295.92,380.43 C295.59,381.11 295.17,381.77 294.7,382.36 C294.23,382.95 293.67,383.49 293.1,383.98 C292.54,384.47 291.92,384.89 291.29,385.29 C290.67,385.69 290.02,386.04 289.36,386.36 C288.7,386.68 288.02,386.97 287.33,387.22 C286.64,387.46 285.93,387.67 285.2,387.81 C284.48,387.95 283.74,388.05 283,388.06 C282.26,388.07 281.51,388.01 280.79,387.88 C280.06,387.75 279.34,387.53 278.65,387.28 C277.96,387.02 277.3,386.68 276.66,386.33 C276.02,385.97 275.41,385.57 274.82,385.14 C274.22,384.72 273.65,384.26 273.1,383.77 C272.55,383.28 272.01,382.76 271.52,382.2 C271.04,381.63 270.56,381.03 270.18,380.38 C269.79,379.73 269.45,379.03 269.21,378.31 C268.98,377.59 268.82,376.83 268.75,376.07 C268.68,375.32 268.72,374.54 268.81,373.8 C268.9,373.06 269.08,372.32 269.29,371.61 C269.49,370.91 269.76,370.23 270.04,369.56 C270.31,368.89 270.61,368.25 270.93,367.61 C271.25,366.97 271.58,366.33 271.95,365.72 C272.33,365.1 272.72,364.48 273.17,363.9 C273.63,363.33 274.12,362.76 274.68,362.26 C275.23,361.77 275.85,361.31 276.49,360.94 C277.14,360.57 277.85,360.26 278.56,360.02 C279.27,359.79 280.02,359.64 280.76,359.54 C281.5,359.43 282.25,359.4 283,359.41 C283.75,359.42 284.5,359.49 285.23,359.6 C285.97,359.7 286.71,359.86 287.43,360.07 C288.15,360.29 288.86,360.55 289.53,360.89 C290.2,361.22 290.86,361.63 291.44,362.09 C292.03,362.56 292.58,363.1 293.05,363.68 C293.52,364.25 293.93,364.9 294.29,365.54 C294.64,366.19 294.93,366.87 295.19,367.55 C295.45,368.22 295.66,368.91 295.85,369.59 C296.05,370.28 296.23,370.97 296.38,371.67 C296.53,372.37 296.7,373.44 296.76,373.8Z" fill="url(#cellg)" stroke="#2d3b9e" stroke-width="1.3"/>
<path d="M367.94,394.5 C367.93,394.85 368,395.92 367.88,396.6 C367.76,397.29 367.51,397.98 367.22,398.61 C366.93,399.25 366.52,399.85 366.13,400.42 C365.73,400.99 365.27,401.52 364.82,402.05 C364.38,402.58 363.93,403.09 363.46,403.61 C362.99,404.12 362.53,404.65 362,405.15 C361.48,405.64 360.94,406.16 360.33,406.58 C359.72,407.01 359.05,407.41 358.35,407.69 C357.64,407.97 356.87,408.17 356.11,408.25 C355.35,408.33 354.55,408.29 353.8,408.18 C353.05,408.08 352.3,407.85 351.6,407.62 C350.89,407.38 350.22,407.08 349.56,406.79 C348.91,406.5 348.28,406.2 347.64,405.89 C347.01,405.58 346.37,405.29 345.75,404.94 C345.13,404.6 344.49,404.25 343.91,403.82 C343.34,403.39 342.76,402.92 342.3,402.38 C341.83,401.84 341.42,401.22 341.12,400.59 C340.83,399.96 340.63,399.25 340.5,398.57 C340.37,397.89 340.36,397.19 340.35,396.51 C340.35,395.83 340.42,395.16 340.46,394.5 C340.51,393.84 340.57,393.2 340.63,392.53 C340.7,391.87 340.74,391.21 340.85,390.53 C340.95,389.86 341.06,389.15 341.27,388.48 C341.48,387.81 341.74,387.11 342.11,386.49 C342.48,385.87 342.95,385.27 343.48,384.77 C344.02,384.27 344.66,383.84 345.31,383.49 C345.96,383.13 346.69,382.87 347.39,382.63 C348.09,382.4 348.81,382.24 349.52,382.08 C350.23,381.91 350.93,381.78 351.64,381.65 C352.35,381.52 353.07,381.38 353.8,381.3 C354.53,381.21 355.29,381.13 356.04,381.16 C356.79,381.18 357.57,381.25 358.3,381.44 C359.03,381.63 359.76,381.92 360.4,382.28 C361.05,382.65 361.64,383.14 362.16,383.65 C362.69,384.15 363.12,384.75 363.54,385.32 C363.95,385.89 364.28,386.5 364.63,387.08 C364.98,387.66 365.29,388.24 365.62,388.82 C365.95,389.4 366.29,389.97 366.59,390.58 C366.9,391.19 367.22,391.81 367.45,392.46 C367.67,393.12 367.86,394.16 367.94,394.5Z" fill="url(#cellg)" stroke="#2d3b9e" stroke-width="1.3"/>
<path d="M340.85,424.26 C340.71,424.65 340.36,425.86 340.01,426.62 C339.66,427.38 339.24,428.11 338.76,428.8 C338.29,429.49 337.74,430.15 337.16,430.76 C336.57,431.37 335.92,431.94 335.24,432.45 C334.55,432.97 333.82,433.43 333.05,433.84 C332.29,434.24 331.48,434.6 330.65,434.88 C329.82,435.17 328.95,435.39 328.08,435.55 C327.21,435.71 326.31,435.8 325.42,435.82 C324.53,435.85 323.62,435.81 322.73,435.72 C321.84,435.62 320.94,435.46 320.06,435.24 C319.19,435.02 318.32,434.74 317.48,434.41 C316.64,434.07 315.81,433.68 315.02,433.23 C314.23,432.78 313.47,432.27 312.76,431.71 C312.05,431.15 311.38,430.52 310.78,429.86 C310.18,429.19 309.63,428.47 309.17,427.71 C308.7,426.96 308.3,426.16 307.99,425.35 C307.68,424.54 307.44,423.69 307.28,422.85 C307.13,422.01 307.05,421.16 307.04,420.32 C307.03,419.48 307.09,418.63 307.21,417.81 C307.33,416.99 307.52,416.18 307.77,415.4 C308.01,414.61 308.31,413.84 308.67,413.1 C309.02,412.36 309.43,411.64 309.89,410.96 C310.36,410.27 310.88,409.62 311.44,409.01 C312.01,408.4 312.63,407.82 313.29,407.29 C313.95,406.77 314.66,406.28 315.41,405.85 C316.15,405.43 316.94,405.04 317.75,404.72 C318.57,404.41 319.42,404.14 320.29,403.94 C321.16,403.74 322.06,403.6 322.96,403.54 C323.86,403.47 324.79,403.47 325.7,403.55 C326.61,403.63 327.54,403.79 328.43,404.02 C329.32,404.25 330.21,404.56 331.04,404.94 C331.88,405.31 332.69,405.77 333.45,406.27 C334.2,406.78 334.92,407.35 335.57,407.96 C336.23,408.57 336.84,409.23 337.38,409.92 C337.93,410.61 338.43,411.33 338.87,412.08 C339.3,412.82 339.69,413.6 340.02,414.39 C340.34,415.17 340.62,415.98 340.82,416.8 C341.03,417.62 341.18,418.45 341.25,419.29 C341.32,420.12 341.33,420.97 341.27,421.79 C341.2,422.62 340.92,423.85 340.85,424.26Z" fill="url(#cellg)" stroke="#2d3b9e" stroke-width="1.3"/>
<path d="M379.56,420.03 C379.65,420.42 379.93,421.56 380.05,422.34 C380.18,423.12 380.29,423.91 380.31,424.69 C380.34,425.48 380.32,426.29 380.2,427.05 C380.08,427.81 379.87,428.57 379.59,429.26 C379.31,429.95 378.92,430.6 378.5,431.18 C378.09,431.77 377.59,432.27 377.1,432.75 C376.61,433.23 376.08,433.64 375.58,434.06 C375.07,434.48 374.57,434.86 374.06,435.27 C373.55,435.68 373.05,436.1 372.52,436.51 C371.98,436.92 371.43,437.36 370.83,437.71 C370.24,438.06 369.59,438.42 368.92,438.63 C368.25,438.84 367.52,438.99 366.8,439 C366.09,439 365.33,438.88 364.63,438.66 C363.93,438.44 363.23,438.08 362.58,437.69 C361.93,437.29 361.32,436.79 360.74,436.29 C360.15,435.79 359.61,435.24 359.09,434.69 C358.56,434.14 358.05,433.57 357.57,432.98 C357.09,432.38 356.62,431.77 356.2,431.12 C355.78,430.46 355.38,429.77 355.07,429.05 C354.76,428.33 354.5,427.56 354.34,426.79 C354.17,426.03 354.09,425.22 354.07,424.45 C354.05,423.68 354.13,422.9 354.22,422.16 C354.31,421.41 354.47,420.69 354.62,419.98 C354.76,419.26 354.93,418.57 355.11,417.86 C355.29,417.16 355.46,416.45 355.69,415.75 C355.91,415.04 356.14,414.31 356.46,413.64 C356.77,412.96 357.13,412.27 357.58,411.69 C358.03,411.11 358.56,410.57 359.13,410.16 C359.71,409.75 360.37,409.44 361.03,409.22 C361.7,409 362.41,408.91 363.1,408.86 C363.79,408.81 364.49,408.87 365.17,408.91 C365.85,408.96 366.52,409.05 367.18,409.14 C367.85,409.23 368.5,409.31 369.17,409.43 C369.84,409.54 370.52,409.65 371.2,409.84 C371.87,410.03 372.57,410.25 373.23,410.58 C373.89,410.9 374.55,411.3 375.14,411.79 C375.73,412.27 376.28,412.86 376.76,413.49 C377.23,414.11 377.64,414.83 378,415.54 C378.36,416.25 378.64,417.01 378.9,417.76 C379.16,418.51 379.45,419.65 379.56,420.03Z" fill="url(#cellg)" stroke="#2d3b9e" stroke-width="1.3"/>
<path d="M362.57,446 C362.58,446.37 362.7,447.49 362.61,448.21 C362.52,448.94 362.31,449.69 362.01,450.37 C361.7,451.05 361.25,451.7 360.76,452.29 C360.27,452.87 359.66,453.39 359.07,453.88 C358.48,454.37 357.84,454.79 357.23,455.22 C356.62,455.65 356.02,456.05 355.41,456.47 C354.8,456.89 354.21,457.33 353.57,457.75 C352.94,458.17 352.29,458.63 351.58,459 C350.87,459.37 350.1,459.75 349.31,459.99 C348.51,460.23 347.64,460.4 346.8,460.43 C345.96,460.46 345.08,460.37 344.26,460.19 C343.44,460.01 342.63,459.69 341.89,459.36 C341.15,459.02 340.46,458.58 339.79,458.16 C339.13,457.74 338.51,457.28 337.9,456.83 C337.29,456.38 336.69,455.93 336.11,455.45 C335.53,454.97 334.94,454.49 334.41,453.96 C333.88,453.42 333.36,452.85 332.95,452.24 C332.54,451.62 332.19,450.95 331.95,450.26 C331.72,449.58 331.59,448.85 331.53,448.14 C331.48,447.43 331.55,446.7 331.63,446 C331.71,445.3 331.88,444.61 332.03,443.93 C332.18,443.25 332.35,442.59 332.54,441.9 C332.72,441.22 332.89,440.53 333.13,439.84 C333.36,439.15 333.61,438.43 333.96,437.76 C334.32,437.08 334.74,436.39 335.27,435.81 C335.8,435.23 336.44,434.67 337.14,434.25 C337.84,433.83 338.66,433.5 339.46,433.27 C340.27,433.05 341.15,432.95 341.98,432.88 C342.81,432.81 343.64,432.84 344.45,432.86 C345.25,432.88 346.02,432.94 346.8,432.98 C347.58,433.02 348.33,433.05 349.11,433.1 C349.89,433.15 350.68,433.18 351.47,433.28 C352.27,433.39 353.09,433.52 353.86,433.75 C354.63,433.99 355.41,434.29 356.1,434.69 C356.79,435.08 357.43,435.58 357.99,436.11 C358.54,436.64 359.01,437.27 359.43,437.89 C359.85,438.51 360.18,439.17 360.5,439.83 C360.82,440.48 361.1,441.15 361.36,441.82 C361.62,442.49 361.88,443.16 362.08,443.86 C362.28,444.56 362.49,445.64 362.57,446Z" fill="url(#cellg)" stroke="#2d3b9e" stroke-width="1.3"/>
</g></g>
<text x="278.4" y="445" font-size="9" font-weight="bold" textLength="23.7" lengthAdjust="spacingAndGlyphs">10&#181;m</text>
<rect x="277.9" y="452.3" width="25.9" height="2.2" fill="#111"/>
<line x1="411.3" y1="451.69" x2="495.8" y2="451.69" stroke="#c9c9c9" stroke-width="1"/>
<line x1="411.3" y1="433.08" x2="495.8" y2="433.08" stroke="#c9c9c9" stroke-width="1"/>
<line x1="411.3" y1="414.47" x2="495.8" y2="414.47" stroke="#c9c9c9" stroke-width="1"/>
<line x1="411.3" y1="395.86" x2="495.8" y2="395.86" stroke="#c9c9c9" stroke-width="1"/>
<line x1="411.3" y1="377.25" x2="495.8" y2="377.25" stroke="#c9c9c9" stroke-width="1"/>
<line x1="411.3" y1="358.64" x2="495.8" y2="358.64" stroke="#c9c9c9" stroke-width="1"/>
<line x1="411.3" y1="340.03" x2="495.8" y2="340.03" stroke="#c9c9c9" stroke-width="1"/>
<line x1="411.3" y1="321.42" x2="495.8" y2="321.42" stroke="#c9c9c9" stroke-width="1"/>
<line x1="411.3" y1="302.81" x2="495.8" y2="302.81" stroke="#c9c9c9" stroke-width="1"/>
<rect x="411.3" y="284.2" width="84.5" height="186.1" fill="none" stroke="#777" stroke-width="1"/>
<line x1="411.3" y1="284.2" x2="411.3" y2="470.3" stroke="#555" stroke-width="1.1"/>
<line x1="411.3" y1="470.3" x2="495.8" y2="470.3" stroke="#444" stroke-width="1.3"/>
<line x1="408.3" y1="470.3" x2="411.3" y2="470.3" stroke="#555" stroke-width="1"/>
<text x="403.6" y="474.9" font-size="10" font-weight="bold" text-anchor="end">0</text>
<line x1="408.3" y1="451.69" x2="411.3" y2="451.69" stroke="#555" stroke-width="1"/>
<text x="403.6" y="456.29" font-size="10" font-weight="bold" text-anchor="end">10</text>
<line x1="408.3" y1="433.08" x2="411.3" y2="433.08" stroke="#555" stroke-width="1"/>
<text x="403.6" y="437.68" font-size="10" font-weight="bold" text-anchor="end">20</text>
<line x1="408.3" y1="414.47" x2="411.3" y2="414.47" stroke="#555" stroke-width="1"/>
<text x="403.6" y="419.07" font-size="10" font-weight="bold" text-anchor="end">30</text>
<line x1="408.3" y1="395.86" x2="411.3" y2="395.86" stroke="#555" stroke-width="1"/>
<text x="403.6" y="400.46" font-size="10" font-weight="bold" text-anchor="end">40</text>
<line x1="408.3" y1="377.25" x2="411.3" y2="377.25" stroke="#555" stroke-width="1"/>
<text x="403.6" y="381.85" font-size="10" font-weight="bold" text-anchor="end">50</text>
<line x1="408.3" y1="358.64" x2="411.3" y2="358.64" stroke="#555" stroke-width="1"/>
<text x="403.6" y="363.24" font-size="10" font-weight="bold" text-anchor="end">60</text>
<line x1="408.3" y1="340.03" x2="411.3" y2="340.03" stroke="#555" stroke-width="1"/>
<text x="403.6" y="344.63" font-size="10" font-weight="bold" text-anchor="end">70</text>
<line x1="408.3" y1="321.42" x2="411.3" y2="321.42" stroke="#555" stroke-width="1"/>
<text x="403.6" y="326.02" font-size="10" font-weight="bold" text-anchor="end">80</text>
<line x1="408.3" y1="302.81" x2="411.3" y2="302.81" stroke="#555" stroke-width="1"/>
<text x="403.6" y="307.41" font-size="10" font-weight="bold" text-anchor="end">90</text>
<line x1="408.3" y1="284.2" x2="411.3" y2="284.2" stroke="#555" stroke-width="1"/>
<text x="403.6" y="288.8" font-size="10" font-weight="bold" text-anchor="end">100</text>
<rect x="421.2" y="367.94" width="13.5" height="102.36" fill="#4b14b0" stroke="#2c0a78" stroke-width="0.5"/>
<rect x="434.7" y="394.93" width="13" height="75.37" fill="#3b78ee" stroke="#2450b0" stroke-width="0.5"/>
<rect x="447.7" y="467.88" width="13.3" height="2.42" fill="#6e6e6e" stroke="#444" stroke-width="0.5"/>
<rect x="461" y="467.69" width="13.2" height="2.61" fill="#a9a9a9" stroke="#666" stroke-width="0.5"/>
<rect x="474.2" y="467.32" width="13.4" height="2.98" fill="#f6ecd6" stroke="#888" stroke-width="0.5"/>
<line x1="427.9" y1="362.8" x2="427.9" y2="373.2" stroke="#333" stroke-width="1"/>
<line x1="426.9" y1="362.8" x2="428.9" y2="362.8" stroke="#333" stroke-width="1"/>
<line x1="441.2" y1="390.5" x2="441.2" y2="400.9" stroke="#333" stroke-width="1"/>
<line x1="440.2" y1="390.5" x2="442.2" y2="390.5" stroke="#333" stroke-width="1"/>
<line x1="454.3" y1="467.2" x2="454.3" y2="468.5" stroke="#333" stroke-width="1"/>
<line x1="453.3" y1="467.2" x2="455.3" y2="467.2" stroke="#333" stroke-width="1"/>
<line x1="467.5" y1="466.3" x2="467.5" y2="468.8" stroke="#333" stroke-width="1"/>
<line x1="466.5" y1="466.3" x2="468.5" y2="466.3" stroke="#333" stroke-width="1"/>
<line x1="480.9" y1="466.6" x2="480.9" y2="468.6" stroke="#333" stroke-width="1"/>
<line x1="479.9" y1="466.6" x2="481.9" y2="466.6" stroke="#333" stroke-width="1"/>
<rect x="414.6" y="288.1" width="72.1" height="65.7" fill="#fff" stroke="#444" stroke-width="1"/>
<rect x="420.2" y="293" width="5" height="5" fill="#3a159a" stroke="#555" stroke-width="0.6"/>
<text x="428.2" y="299.8" font-size="10.8">ProE</text>
<rect x="420.2" y="306.1" width="5" height="5" fill="#4b7ae6" stroke="#555" stroke-width="0.6"/>
<text x="428.2" y="312.9" font-size="10.8">BasoE</text>
<rect x="420.2" y="319.2" width="5" height="5" fill="#777" stroke="#555" stroke-width="0.6"/>
<text x="428.2" y="326" font-size="10.8">PolyE</text>
<rect x="420.2" y="332.3" width="5" height="5" fill="#a8a8a8" stroke="#555" stroke-width="0.6"/>
<text x="428.2" y="339.1" font-size="10.8">OrthoE</text>
<rect x="420.2" y="345.4" width="5" height="5" fill="#f6ecd8" stroke="#555" stroke-width="0.6"/>
<text x="428.2" y="352.2" font-size="10.8">Enucleated</text>
<text transform="translate(385.6,377.2) rotate(-90)" font-size="12" font-weight="bold" text-anchor="middle" textLength="43.9" lengthAdjust="spacingAndGlyphs">Percent</text>
<text x="449.3" y="487.6" font-size="12" font-weight="bold" text-anchor="middle" textLength="132.7" lengthAdjust="spacingAndGlyphs">Proportion of Cell Type</text>
<text x="449.3" y="502" font-size="12" font-weight="bold" text-anchor="middle">in Expanding Culture</text>
<text x="4.4" y="553.5" font-size="18.6" stroke="#000" stroke-width="0.75">D</text>
<text x="55.8" y="569.6" font-size="10.8" font-style="italic" text-anchor="middle" textLength="34.6" lengthAdjust="spacingAndGlyphs">Ex vivo</text>
<text x="55.8" y="581.6" font-size="10.8" text-anchor="middle" textLength="54.6" lengthAdjust="spacingAndGlyphs">Extensively</text>
<text x="55.6" y="593.6" font-size="10.8" text-anchor="middle" textLength="58.1" lengthAdjust="spacingAndGlyphs">Proliferating</text>
<text x="55.5" y="605.4" font-size="10.8" text-anchor="middle" textLength="64" lengthAdjust="spacingAndGlyphs">Erythroblasts</text>
<text x="55.6" y="651.3" font-size="11.8" font-weight="bold" text-anchor="middle" textLength="29.6" lengthAdjust="spacingAndGlyphs">Adult</text>
<text x="55.6" y="665" font-size="11.8" font-weight="bold" text-anchor="middle">BM</text>
<text x="55.6" y="725.6" font-size="11.8" font-weight="bold" text-anchor="middle" textLength="29.6" lengthAdjust="spacingAndGlyphs">E12.5</text>
<text x="55.6" y="739" font-size="11.8" font-weight="bold" text-anchor="middle">FL</text>
<text transform="translate(90.2,648.6) rotate(-90)" font-size="12.2" font-weight="bold" text-anchor="middle" textLength="15" lengthAdjust="spacingAndGlyphs">Kit</text>
<line x1="96.2" y1="552" x2="96.2" y2="746" stroke="#111" stroke-width="1.8"/>
<path d="M96.2,546.6 L92.8,553.6 L99.6,553.6 Z" fill="#111"/>
<path d="M96.2,751.2 L92.8,744.2 L99.6,744.2 Z" fill="#111"/>
<text x="139.6" y="774" font-size="12" font-weight="bold" text-anchor="middle" textLength="36.5" lengthAdjust="spacingAndGlyphs">Ter119</text>
<text x="213.1" y="774.1" font-size="12" font-weight="bold" text-anchor="middle" textLength="22.6" lengthAdjust="spacingAndGlyphs">FSC</text>
<defs><filter id="fblur" x="-20%" y="-20%" width="140%" height="140%"><feGaussianBlur stdDeviation="1.3"/></filter></defs>
<clipPath id="clipD0"><rect x="107.9" y="544.7" width="61.7" height="60.9"/></clipPath>
<g clip-path="url(#clipD0)"><g filter="url(#fblur)"><ellipse cx="126.9" cy="580.7" rx="13" ry="14" fill="#b4b6f0" opacity="0.5"/></g>
<path fill="#8c94e7" d="M116.2 579.7h1.1v1.1h-1.1zM132.7 582.9h1.1v1.1h-1.1zM113.7 578.6h1.1v1.1h-1.1zM137.8 579.4h1.1v1.1h-1.1zM133.5 584.4h1.1v1.1h-1.1zM117.3 571.3h1.1v1.1h-1.1zM119.4 568.4h1.1v1.1h-1.1zM134.5 583.0h1.1v1.1h-1.1zM126.4 564.9h1.1v1.1h-1.1zM115.1 580.5h1.1v1.1h-1.1zM127.6 565.9h1.1v1.1h-1.1zM137.9 578.5h1.1v1.1h-1.1zM136.2 570.6h1.1v1.1h-1.1zM137.9 573.1h1.1v1.1h-1.1zM137.6 574.1h1.1v1.1h-1.1zM127.6 584.1h1.1v1.1h-1.1zM137.6 579.6h1.1v1.1h-1.1zM117.3 579.7h1.1v1.1h-1.1zM126.4 566.5h1.1v1.1h-1.1zM132.2 568.0h1.1v1.1h-1.1zM132.9 585.2h1.1v1.1h-1.1zM118.1 570.2h1.1v1.1h-1.1zM128.6 584.3h1.1v1.1h-1.1zM123.2 584.5h1.1v1.1h-1.1zM138.9 579.3h1.1v1.1h-1.1zM138.5 573.5h1.1v1.1h-1.1zM136.7 581.6h1.1v1.1h-1.1zM120.6 568.3h1.1v1.1h-1.1zM137.9 576.6h1.1v1.1h-1.1zM116.1 581.3h1.1v1.1h-1.1zM116.8 579.0h1.1v1.1h-1.1zM124.9 584.5h1.1v1.1h-1.1zM115.3 578.5h1.1v1.1h-1.1zM123.9 584.4h1.1v1.1h-1.1zM127.6 585.2h1.1v1.1h-1.1zM137.4 578.9h1.1v1.1h-1.1zM122.5 567.1h1.1v1.1h-1.1zM117.0 568.8h1.1v1.1h-1.1zM139.1 573.0h1.1v1.1h-1.1zM124.5 586.4h1.1v1.1h-1.1zM127.5 565.8h1.1v1.1h-1.1zM137.0 572.6h1.1v1.1h-1.1zM137.9 572.3h1.1v1.1h-1.1zM139.3 572.3h1.1v1.1h-1.1zM136.1 571.5h1.1v1.1h-1.1zM118.6 584.2h1.1v1.1h-1.1zM137.4 578.4h1.1v1.1h-1.1zM138.0 571.2h1.1v1.1h-1.1zM123.2 567.1h1.1v1.1h-1.1zM129.4 565.2h1.1v1.1h-1.1zM118.2 568.5h1.1v1.1h-1.1zM137.0 582.0h1.1v1.1h-1.1zM120.2 584.2h1.1v1.1h-1.1zM139.7 576.0h1.1v1.1h-1.1zM137.9 569.5h1.1v1.1h-1.1zM123.8 567.2h1.1v1.1h-1.1zM122.8 585.5h1.1v1.1h-1.1zM116.2 575.5h1.1v1.1h-1.1zM120.1 566.2h1.1v1.1h-1.1zM132.9 566.1h1.1v1.1h-1.1zM132.5 585.1h1.1v1.1h-1.1zM130.9 567.1h1.1v1.1h-1.1zM117.7 571.1h1.1v1.1h-1.1zM116.9 571.6h1.1v1.1h-1.1zM121.2 566.8h1.1v1.1h-1.1zM119.2 581.9h1.1v1.1h-1.1zM117.0 570.7h1.1v1.1h-1.1zM117.5 580.5h1.1v1.1h-1.1zM115.6 575.0h1.1v1.1h-1.1zM113.7 575.7h1.1v1.1h-1.1zM140.2 573.0h1.1v1.1h-1.1zM118.7 584.3h1.1v1.1h-1.1zM126.6 584.9h1.1v1.1h-1.1zM139.7 577.1h1.1v1.1h-1.1zM117.2 580.9h1.1v1.1h-1.1zM130.7 584.2h1.1v1.1h-1.1zM113.7 578.9h1.1v1.1h-1.1zM118.5 581.7h1.1v1.1h-1.1zM116.9 572.7h1.1v1.1h-1.1zM137.9 571.3h1.1v1.1h-1.1zM114.7 572.1h1.1v1.1h-1.1zM129.9 584.6h1.1v1.1h-1.1zM136.2 581.3h1.1v1.1h-1.1zM119.5 569.0h1.1v1.1h-1.1zM132.8 583.9h1.1v1.1h-1.1zM125.9 567.4h1.1v1.1h-1.1zM139.5 574.4h1.1v1.1h-1.1zM119.5 569.4h1.1v1.1h-1.1zM121.9 566.6h1.1v1.1h-1.1zM119.6 582.1h1.1v1.1h-1.1zM113.5 575.7h1.1v1.1h-1.1zM115.8 570.6h1.1v1.1h-1.1zM138.1 579.0h1.1v1.1h-1.1zM114.7 576.9h1.1v1.1h-1.1zM120.2 583.0h1.1v1.1h-1.1zM116.9 580.6h1.1v1.1h-1.1zM116.3 579.7h1.1v1.1h-1.1zM121.0 582.8h1.1v1.1h-1.1zM133.7 567.4h1.1v1.1h-1.1zM120.0 566.8h1.1v1.1h-1.1z"/><path fill="#357ec8" d="M134.7 561.0h1.1v1.1h-1.1zM126.1 569.3h1.1v1.1h-1.1zM122.9 561.1h1.1v1.1h-1.1zM138.8 563.4h1.1v1.1h-1.1zM132.1 561.0h1.1v1.1h-1.1zM136.0 569.3h1.1v1.1h-1.1zM138.4 561.3h1.1v1.1h-1.1zM128.8 569.5h1.1v1.1h-1.1zM137.2 569.8h1.1v1.1h-1.1zM139.3 563.4h1.1v1.1h-1.1zM140.3 568.3h1.1v1.1h-1.1zM130.2 561.4h1.1v1.1h-1.1zM142.2 564.9h1.1v1.1h-1.1zM123.5 568.8h1.1v1.1h-1.1zM134.6 561.0h1.1v1.1h-1.1zM129.4 561.2h1.1v1.1h-1.1zM139.1 567.9h1.1v1.1h-1.1zM142.9 564.8h1.1v1.1h-1.1zM119.6 564.5h1.1v1.1h-1.1zM140.9 562.7h1.1v1.1h-1.1zM138.8 568.3h1.1v1.1h-1.1zM121.4 568.3h1.1v1.1h-1.1zM121.4 563.5h1.1v1.1h-1.1zM123.8 568.9h1.1v1.1h-1.1zM120.5 567.1h1.1v1.1h-1.1zM122.0 562.8h1.1v1.1h-1.1zM141.9 565.9h1.1v1.1h-1.1zM124.5 561.4h1.1v1.1h-1.1zM117.8 564.5h1.1v1.1h-1.1zM134.8 570.7h1.1v1.1h-1.1zM126.7 569.3h1.1v1.1h-1.1zM134.5 569.6h1.1v1.1h-1.1zM123.6 561.1h1.1v1.1h-1.1zM143.0 564.5h1.1v1.1h-1.1zM121.5 567.7h1.1v1.1h-1.1zM136.5 561.8h1.1v1.1h-1.1zM142.2 564.5h1.1v1.1h-1.1zM125.4 562.1h1.1v1.1h-1.1zM125.6 560.5h1.1v1.1h-1.1zM138.0 569.7h1.1v1.1h-1.1zM141.7 564.3h1.1v1.1h-1.1zM135.4 561.5h1.1v1.1h-1.1zM123.0 562.4h1.1v1.1h-1.1zM120.7 566.3h1.1v1.1h-1.1zM138.7 567.5h1.1v1.1h-1.1zM132.4 569.8h1.1v1.1h-1.1zM128.8 560.3h1.1v1.1h-1.1zM121.3 566.7h1.1v1.1h-1.1zM138.8 567.6h1.1v1.1h-1.1zM123.8 569.0h1.1v1.1h-1.1zM139.1 569.5h1.1v1.1h-1.1zM119.9 566.9h1.1v1.1h-1.1zM124.2 568.8h1.1v1.1h-1.1zM121.4 564.4h1.1v1.1h-1.1zM123.2 562.2h1.1v1.1h-1.1zM133.2 560.7h1.1v1.1h-1.1zM138.6 568.3h1.1v1.1h-1.1zM119.5 566.8h1.1v1.1h-1.1zM121.2 566.6h1.1v1.1h-1.1zM118.6 563.9h1.1v1.1h-1.1zM119.3 568.0h1.1v1.1h-1.1zM123.6 562.6h1.1v1.1h-1.1zM121.1 567.8h1.1v1.1h-1.1zM123.0 561.7h1.1v1.1h-1.1zM140.8 563.5h1.1v1.1h-1.1zM123.7 569.2h1.1v1.1h-1.1zM118.6 563.5h1.1v1.1h-1.1z"/><path fill="#3a6ae6" d="M130.4 571.9h1.1v1.1h-1.1zM117.4 564.6h1.1v1.1h-1.1zM136.1 571.3h1.1v1.1h-1.1zM118.0 560.1h1.1v1.1h-1.1zM122.7 561.0h1.1v1.1h-1.1zM132.4 572.5h1.1v1.1h-1.1zM115.5 566.9h1.1v1.1h-1.1zM142.3 568.8h1.1v1.1h-1.1zM135.4 559.7h1.1v1.1h-1.1zM127.3 573.7h1.1v1.1h-1.1zM141.3 561.0h1.1v1.1h-1.1zM115.5 567.3h1.1v1.1h-1.1zM146.5 565.9h1.1v1.1h-1.1zM138.1 572.7h1.1v1.1h-1.1zM119.9 560.9h1.1v1.1h-1.1zM134.9 571.3h1.1v1.1h-1.1zM146.4 564.8h1.1v1.1h-1.1zM122.9 570.4h1.1v1.1h-1.1zM122.2 570.1h1.1v1.1h-1.1zM122.7 559.3h1.1v1.1h-1.1zM135.5 558.9h1.1v1.1h-1.1zM131.9 575.4h1.1v1.1h-1.1zM128.1 558.0h1.1v1.1h-1.1zM126.5 572.1h1.1v1.1h-1.1zM136.6 555.9h1.1v1.1h-1.1zM137.1 558.4h1.1v1.1h-1.1z"/><path fill="#bcbdf0" d="M145.9 595.2h1.1v1.1h-1.1zM120.3 569.2h1.1v1.1h-1.1zM145.7 591.8h1.1v1.1h-1.1zM140.6 602.4h1.1v1.1h-1.1zM113.6 602.1h1.1v1.1h-1.1zM109.7 581.5h1.1v1.1h-1.1zM125.5 571.5h1.1v1.1h-1.1zM115.0 576.0h1.1v1.1h-1.1zM111.1 574.9h1.1v1.1h-1.1zM146.7 591.7h1.1v1.1h-1.1zM113.4 575.1h1.1v1.1h-1.1zM118.6 571.7h1.1v1.1h-1.1zM135.0 576.6h1.1v1.1h-1.1zM108.8 583.3h1.1v1.1h-1.1zM116.1 573.0h1.1v1.1h-1.1zM135.5 575.4h1.1v1.1h-1.1zM136.1 602.0h1.1v1.1h-1.1zM133.3 572.0h1.1v1.1h-1.1zM131.8 574.9h1.1v1.1h-1.1zM124.2 570.8h1.1v1.1h-1.1zM139.1 603.9h1.1v1.1h-1.1zM143.4 590.8h1.1v1.1h-1.1zM142.1 602.2h1.1v1.1h-1.1zM132.9 575.6h1.1v1.1h-1.1zM115.1 602.9h1.1v1.1h-1.1zM123.0 569.5h1.1v1.1h-1.1zM109.2 581.3h1.1v1.1h-1.1zM116.0 576.2h1.1v1.1h-1.1zM145.6 590.8h1.1v1.1h-1.1zM138.0 578.3h1.1v1.1h-1.1zM142.4 584.8h1.1v1.1h-1.1zM142.2 597.1h1.1v1.1h-1.1zM123.6 573.5h1.1v1.1h-1.1zM142.2 592.0h1.1v1.1h-1.1zM139.1 601.9h1.1v1.1h-1.1zM135.7 576.3h1.1v1.1h-1.1zM145.0 594.3h1.1v1.1h-1.1zM114.5 572.5h1.1v1.1h-1.1zM121.0 570.7h1.1v1.1h-1.1zM125.4 572.6h1.1v1.1h-1.1zM140.1 604.1h1.1v1.1h-1.1zM110.7 599.1h1.1v1.1h-1.1zM132.8 573.8h1.1v1.1h-1.1zM129.7 570.7h1.1v1.1h-1.1zM137.1 576.7h1.1v1.1h-1.1zM121.5 574.2h1.1v1.1h-1.1zM117.7 569.7h1.1v1.1h-1.1zM109.3 578.6h1.1v1.1h-1.1zM148.1 591.2h1.1v1.1h-1.1zM117.0 571.8h1.1v1.1h-1.1zM118.9 573.1h1.1v1.1h-1.1zM146.3 585.6h1.1v1.1h-1.1zM147.5 591.7h1.1v1.1h-1.1zM142.6 584.1h1.1v1.1h-1.1zM144.0 596.3h1.1v1.1h-1.1zM138.3 601.6h1.1v1.1h-1.1zM143.2 580.8h1.1v1.1h-1.1zM111.5 599.8h1.1v1.1h-1.1zM144.6 582.7h1.1v1.1h-1.1zM121.5 574.2h1.1v1.1h-1.1zM145.6 594.1h1.1v1.1h-1.1zM127.8 573.4h1.1v1.1h-1.1zM114.1 603.1h1.1v1.1h-1.1zM136.8 602.6h1.1v1.1h-1.1zM108.8 603.3h1.1v1.1h-1.1zM143.6 599.8h1.1v1.1h-1.1zM141.8 592.1h1.1v1.1h-1.1zM137.3 601.8h1.1v1.1h-1.1zM128.1 571.9h1.1v1.1h-1.1zM109.1 582.7h1.1v1.1h-1.1zM134.9 603.7h1.1v1.1h-1.1zM109.7 580.7h1.1v1.1h-1.1zM147.4 593.1h1.1v1.1h-1.1zM141.4 584.3h1.1v1.1h-1.1zM111.6 599.8h1.1v1.1h-1.1zM113.3 572.8h1.1v1.1h-1.1z"/><path fill="#717ce2" d="M121.5 579.6h1.1v1.1h-1.1zM127.1 581.3h1.1v1.1h-1.1zM128.9 578.9h1.1v1.1h-1.1zM122.6 572.3h1.1v1.1h-1.1zM125.7 580.1h1.1v1.1h-1.1zM121.8 578.6h1.1v1.1h-1.1zM129.6 578.2h1.1v1.1h-1.1zM120.8 574.6h1.1v1.1h-1.1zM120.8 577.2h1.1v1.1h-1.1zM123.9 570.8h1.1v1.1h-1.1zM124.3 579.9h1.1v1.1h-1.1zM131.9 573.7h1.1v1.1h-1.1zM126.4 570.4h1.1v1.1h-1.1zM122.6 573.6h1.1v1.1h-1.1zM121.1 571.9h1.1v1.1h-1.1zM129.9 570.8h1.1v1.1h-1.1zM129.2 572.2h1.1v1.1h-1.1zM119.6 574.0h1.1v1.1h-1.1zM120.0 578.2h1.1v1.1h-1.1zM123.7 579.9h1.1v1.1h-1.1zM133.4 578.4h1.1v1.1h-1.1zM121.4 574.5h1.1v1.1h-1.1zM120.4 573.3h1.1v1.1h-1.1zM122.0 572.3h1.1v1.1h-1.1zM122.2 574.9h1.1v1.1h-1.1zM129.4 579.3h1.1v1.1h-1.1zM121.6 575.7h1.1v1.1h-1.1zM120.2 578.3h1.1v1.1h-1.1zM126.5 580.2h1.1v1.1h-1.1zM119.7 576.0h1.1v1.1h-1.1zM128.9 572.2h1.1v1.1h-1.1zM122.0 578.8h1.1v1.1h-1.1zM132.0 573.7h1.1v1.1h-1.1zM129.7 571.6h1.1v1.1h-1.1zM121.5 576.8h1.1v1.1h-1.1zM133.2 574.7h1.1v1.1h-1.1zM128.3 571.1h1.1v1.1h-1.1zM121.7 577.3h1.1v1.1h-1.1zM122.2 576.9h1.1v1.1h-1.1zM122.5 573.3h1.1v1.1h-1.1zM131.7 576.6h1.1v1.1h-1.1zM133.2 574.4h1.1v1.1h-1.1zM124.2 571.1h1.1v1.1h-1.1zM130.7 570.9h1.1v1.1h-1.1zM133.0 573.6h1.1v1.1h-1.1zM122.1 573.8h1.1v1.1h-1.1zM132.1 572.8h1.1v1.1h-1.1zM126.2 581.2h1.1v1.1h-1.1zM127.2 580.0h1.1v1.1h-1.1zM120.6 572.7h1.1v1.1h-1.1zM126.3 579.9h1.1v1.1h-1.1zM124.7 581.1h1.1v1.1h-1.1zM126.5 581.5h1.1v1.1h-1.1zM132.3 577.9h1.1v1.1h-1.1zM132.0 577.0h1.1v1.1h-1.1zM131.0 572.9h1.1v1.1h-1.1zM119.9 576.5h1.1v1.1h-1.1zM123.1 578.3h1.1v1.1h-1.1zM122.5 574.9h1.1v1.1h-1.1zM132.5 576.1h1.1v1.1h-1.1zM124.9 579.1h1.1v1.1h-1.1zM131.2 573.1h1.1v1.1h-1.1zM133.9 575.1h1.1v1.1h-1.1zM131.0 577.8h1.1v1.1h-1.1zM119.7 576.7h1.1v1.1h-1.1zM126.8 581.5h1.1v1.1h-1.1zM133.1 578.8h1.1v1.1h-1.1zM120.0 576.6h1.1v1.1h-1.1zM122.9 578.8h1.1v1.1h-1.1zM132.5 579.3h1.1v1.1h-1.1zM123.6 580.7h1.1v1.1h-1.1zM122.0 571.4h1.1v1.1h-1.1zM121.5 572.1h1.1v1.1h-1.1zM127.7 581.5h1.1v1.1h-1.1zM123.6 571.1h1.1v1.1h-1.1zM121.3 575.6h1.1v1.1h-1.1zM132.1 577.3h1.1v1.1h-1.1zM125.4 579.8h1.1v1.1h-1.1zM121.9 575.7h1.1v1.1h-1.1zM125.9 572.3h1.1v1.1h-1.1zM123.3 571.4h1.1v1.1h-1.1zM134.3 575.6h1.1v1.1h-1.1zM121.3 571.9h1.1v1.1h-1.1zM124.0 572.5h1.1v1.1h-1.1zM121.2 573.5h1.1v1.1h-1.1zM132.0 576.0h1.1v1.1h-1.1zM133.0 573.0h1.1v1.1h-1.1zM122.4 574.9h1.1v1.1h-1.1zM121.0 576.8h1.1v1.1h-1.1zM121.7 579.7h1.1v1.1h-1.1zM127.6 579.3h1.1v1.1h-1.1zM122.5 575.3h1.1v1.1h-1.1zM123.8 579.3h1.1v1.1h-1.1zM125.8 570.6h1.1v1.1h-1.1zM130.8 577.5h1.1v1.1h-1.1zM123.7 572.6h1.1v1.1h-1.1zM132.9 578.3h1.1v1.1h-1.1zM128.6 580.1h1.1v1.1h-1.1zM119.9 576.3h1.1v1.1h-1.1zM119.6 576.6h1.1v1.1h-1.1zM121.9 578.1h1.1v1.1h-1.1zM127.8 580.4h1.1v1.1h-1.1zM131.9 572.4h1.1v1.1h-1.1z"/><path fill="#9aa0e9" d="M137.2 584.6h1.1v1.1h-1.1zM139.8 565.7h1.1v1.1h-1.1zM123.9 563.3h1.1v1.1h-1.1zM132.5 564.6h1.1v1.1h-1.1zM142.7 573.7h1.1v1.1h-1.1zM108.5 580.2h1.1v1.1h-1.1zM109.5 569.3h1.1v1.1h-1.1zM140.7 569.6h1.1v1.1h-1.1zM141.7 567.4h1.1v1.1h-1.1zM132.7 562.9h1.1v1.1h-1.1zM131.2 586.9h1.1v1.1h-1.1zM126.5 587.4h1.1v1.1h-1.1zM122.4 564.3h1.1v1.1h-1.1zM138.5 582.7h1.1v1.1h-1.1zM129.2 564.8h1.1v1.1h-1.1zM119.5 586.7h1.1v1.1h-1.1zM144.7 572.5h1.1v1.1h-1.1zM112.7 578.7h1.1v1.1h-1.1zM116.6 585.5h1.1v1.1h-1.1zM141.1 581.2h1.1v1.1h-1.1zM141.8 577.5h1.1v1.1h-1.1zM141.2 569.3h1.1v1.1h-1.1zM132.0 563.6h1.1v1.1h-1.1zM139.8 585.7h1.1v1.1h-1.1zM135.7 584.8h1.1v1.1h-1.1zM136.5 563.4h1.1v1.1h-1.1zM135.4 565.5h1.1v1.1h-1.1zM121.7 564.9h1.1v1.1h-1.1zM138.0 567.8h1.1v1.1h-1.1zM133.4 561.8h1.1v1.1h-1.1zM117.3 585.0h1.1v1.1h-1.1zM113.4 571.4h1.1v1.1h-1.1zM110.7 569.4h1.1v1.1h-1.1zM138.0 567.1h1.1v1.1h-1.1zM130.9 564.5h1.1v1.1h-1.1zM131.6 586.3h1.1v1.1h-1.1zM140.0 580.0h1.1v1.1h-1.1zM129.6 564.9h1.1v1.1h-1.1zM119.9 585.9h1.1v1.1h-1.1zM142.4 577.7h1.1v1.1h-1.1zM141.4 578.3h1.1v1.1h-1.1zM114.5 565.9h1.1v1.1h-1.1zM138.0 568.3h1.1v1.1h-1.1zM117.6 567.1h1.1v1.1h-1.1zM121.2 585.7h1.1v1.1h-1.1zM140.0 570.6h1.1v1.1h-1.1zM120.0 585.5h1.1v1.1h-1.1zM120.0 585.5h1.1v1.1h-1.1zM129.3 564.7h1.1v1.1h-1.1zM135.0 586.2h1.1v1.1h-1.1zM112.8 578.4h1.1v1.1h-1.1zM127.8 561.6h1.1v1.1h-1.1zM143.6 574.7h1.1v1.1h-1.1zM129.7 562.2h1.1v1.1h-1.1zM135.4 564.8h1.1v1.1h-1.1zM145.7 577.9h1.1v1.1h-1.1zM140.3 581.9h1.1v1.1h-1.1zM126.4 561.6h1.1v1.1h-1.1zM126.0 564.7h1.1v1.1h-1.1zM131.5 564.0h1.1v1.1h-1.1zM116.2 566.6h1.1v1.1h-1.1zM130.8 586.3h1.1v1.1h-1.1zM144.8 580.4h1.1v1.1h-1.1zM140.0 579.6h1.1v1.1h-1.1zM112.0 577.7h1.1v1.1h-1.1zM110.0 570.1h1.1v1.1h-1.1zM115.8 583.4h1.1v1.1h-1.1zM142.1 578.5h1.1v1.1h-1.1zM137.0 584.5h1.1v1.1h-1.1zM132.0 565.0h1.1v1.1h-1.1zM124.0 587.4h1.1v1.1h-1.1zM142.4 576.6h1.1v1.1h-1.1zM129.3 586.7h1.1v1.1h-1.1zM109.7 569.3h1.1v1.1h-1.1zM114.1 569.6h1.1v1.1h-1.1zM112.4 585.2h1.1v1.1h-1.1z"/><path fill="#b1b3ee" d="M139.8 587.1h1.1v1.1h-1.1zM119.4 601.3h1.1v1.1h-1.1zM117.5 579.4h1.1v1.1h-1.1zM133.3 600.2h1.1v1.1h-1.1zM138.5 580.4h1.1v1.1h-1.1zM113.0 597.9h1.1v1.1h-1.1zM130.9 602.8h1.1v1.1h-1.1zM111.0 583.2h1.1v1.1h-1.1zM113.1 594.9h1.1v1.1h-1.1zM114.9 579.5h1.1v1.1h-1.1zM113.4 600.3h1.1v1.1h-1.1zM111.2 580.9h1.1v1.1h-1.1zM138.5 588.7h1.1v1.1h-1.1zM133.8 579.1h1.1v1.1h-1.1zM137.4 582.4h1.1v1.1h-1.1zM116.7 599.9h1.1v1.1h-1.1zM120.1 576.9h1.1v1.1h-1.1zM124.3 575.1h1.1v1.1h-1.1zM116.0 580.2h1.1v1.1h-1.1zM118.1 576.2h1.1v1.1h-1.1zM118.8 577.9h1.1v1.1h-1.1zM134.9 601.1h1.1v1.1h-1.1zM113.0 596.8h1.1v1.1h-1.1zM133.6 603.0h1.1v1.1h-1.1zM118.3 600.1h1.1v1.1h-1.1zM113.2 599.8h1.1v1.1h-1.1zM110.7 583.7h1.1v1.1h-1.1zM118.7 578.5h1.1v1.1h-1.1zM110.2 586.5h1.1v1.1h-1.1zM139.1 595.4h1.1v1.1h-1.1zM118.4 599.9h1.1v1.1h-1.1zM111.7 594.9h1.1v1.1h-1.1zM138.2 594.6h1.1v1.1h-1.1zM110.8 591.7h1.1v1.1h-1.1zM128.1 577.1h1.1v1.1h-1.1zM110.2 593.2h1.1v1.1h-1.1zM125.3 577.3h1.1v1.1h-1.1zM135.2 601.9h1.1v1.1h-1.1zM126.4 574.4h1.1v1.1h-1.1zM122.2 575.3h1.1v1.1h-1.1zM135.1 599.8h1.1v1.1h-1.1zM129.5 601.1h1.1v1.1h-1.1zM113.8 582.9h1.1v1.1h-1.1zM123.2 602.7h1.1v1.1h-1.1zM134.9 580.3h1.1v1.1h-1.1zM138.8 596.6h1.1v1.1h-1.1zM138.5 583.6h1.1v1.1h-1.1zM112.3 595.8h1.1v1.1h-1.1zM114.0 583.1h1.1v1.1h-1.1zM114.8 581.8h1.1v1.1h-1.1zM133.7 580.3h1.1v1.1h-1.1zM136.4 583.1h1.1v1.1h-1.1zM109.8 587.7h1.1v1.1h-1.1zM111.2 589.3h1.1v1.1h-1.1zM121.0 602.9h1.1v1.1h-1.1zM128.9 601.1h1.1v1.1h-1.1zM113.8 600.6h1.1v1.1h-1.1zM111.9 596.2h1.1v1.1h-1.1zM133.0 576.3h1.1v1.1h-1.1zM125.8 577.1h1.1v1.1h-1.1zM129.4 576.9h1.1v1.1h-1.1zM129.8 576.3h1.1v1.1h-1.1zM137.0 600.4h1.1v1.1h-1.1zM134.6 599.2h1.1v1.1h-1.1zM125.7 575.7h1.1v1.1h-1.1zM109.4 593.0h1.1v1.1h-1.1zM120.6 575.0h1.1v1.1h-1.1zM113.0 581.5h1.1v1.1h-1.1zM110.4 592.9h1.1v1.1h-1.1zM126.8 576.7h1.1v1.1h-1.1zM111.6 585.9h1.1v1.1h-1.1zM111.0 594.1h1.1v1.1h-1.1zM113.0 578.7h1.1v1.1h-1.1zM117.0 578.1h1.1v1.1h-1.1zM109.0 593.2h1.1v1.1h-1.1zM117.2 599.3h1.1v1.1h-1.1zM140.3 590.6h1.1v1.1h-1.1zM113.4 600.7h1.1v1.1h-1.1zM113.2 596.0h1.1v1.1h-1.1zM141.5 590.1h1.1v1.1h-1.1zM138.3 582.6h1.1v1.1h-1.1zM138.7 585.2h1.1v1.1h-1.1zM121.8 574.5h1.1v1.1h-1.1zM117.9 577.1h1.1v1.1h-1.1zM111.1 588.0h1.1v1.1h-1.1zM138.8 596.1h1.1v1.1h-1.1zM137.7 591.9h1.1v1.1h-1.1zM111.2 589.1h1.1v1.1h-1.1zM113.1 583.1h1.1v1.1h-1.1zM116.3 598.6h1.1v1.1h-1.1zM128.0 603.8h1.1v1.1h-1.1zM114.1 579.8h1.1v1.1h-1.1zM131.2 602.0h1.1v1.1h-1.1zM137.2 594.6h1.1v1.1h-1.1zM139.0 595.6h1.1v1.1h-1.1zM125.1 602.2h1.1v1.1h-1.1zM138.4 588.7h1.1v1.1h-1.1zM113.7 596.5h1.1v1.1h-1.1zM137.7 592.5h1.1v1.1h-1.1zM118.2 579.5h1.1v1.1h-1.1zM110.1 589.3h1.1v1.1h-1.1zM131.2 577.4h1.1v1.1h-1.1zM119.7 578.1h1.1v1.1h-1.1zM135.7 600.6h1.1v1.1h-1.1zM110.0 592.5h1.1v1.1h-1.1z"/><path fill="#4964e6" d="M126.7 565.2h1.1v1.1h-1.1zM124.0 567.3h1.1v1.1h-1.1zM128.4 566.0h1.1v1.1h-1.1zM117.2 566.0h1.1v1.1h-1.1zM126.3 564.8h1.1v1.1h-1.1zM123.9 567.7h1.1v1.1h-1.1zM121.4 567.2h1.1v1.1h-1.1zM127.2 565.6h1.1v1.1h-1.1zM121.3 563.3h1.1v1.1h-1.1zM122.3 563.3h1.1v1.1h-1.1zM126.8 567.1h1.1v1.1h-1.1zM128.1 565.8h1.1v1.1h-1.1zM128.2 565.6h1.1v1.1h-1.1zM124.9 563.5h1.1v1.1h-1.1zM120.4 563.4h1.1v1.1h-1.1zM117.3 563.1h1.1v1.1h-1.1zM117.9 566.5h1.1v1.1h-1.1zM117.9 566.0h1.1v1.1h-1.1zM117.4 566.9h1.1v1.1h-1.1zM124.5 563.4h1.1v1.1h-1.1zM121.0 563.1h1.1v1.1h-1.1zM118.0 564.1h1.1v1.1h-1.1zM118.3 564.2h1.1v1.1h-1.1zM119.4 567.4h1.1v1.1h-1.1zM128.5 566.1h1.1v1.1h-1.1zM119.9 567.2h1.1v1.1h-1.1zM116.0 565.4h1.1v1.1h-1.1zM123.5 567.3h1.1v1.1h-1.1zM116.4 564.7h1.1v1.1h-1.1zM121.2 567.6h1.1v1.1h-1.1zM116.2 566.4h1.1v1.1h-1.1zM120.0 563.1h1.1v1.1h-1.1zM123.5 566.9h1.1v1.1h-1.1zM122.5 567.3h1.1v1.1h-1.1zM118.6 563.1h1.1v1.1h-1.1zM121.8 567.5h1.1v1.1h-1.1zM125.4 566.0h1.1v1.1h-1.1zM114.7 564.9h1.1v1.1h-1.1zM120.6 566.7h1.1v1.1h-1.1zM125.2 567.1h1.1v1.1h-1.1zM118.8 562.8h1.1v1.1h-1.1zM128.2 565.4h1.1v1.1h-1.1zM116.3 563.4h1.1v1.1h-1.1zM126.2 566.1h1.1v1.1h-1.1zM127.1 565.9h1.1v1.1h-1.1zM125.6 566.5h1.1v1.1h-1.1zM117.8 567.4h1.1v1.1h-1.1zM122.2 562.7h1.1v1.1h-1.1zM118.3 566.1h1.1v1.1h-1.1zM120.5 563.2h1.1v1.1h-1.1zM127.7 563.9h1.1v1.1h-1.1zM126.1 564.5h1.1v1.1h-1.1zM115.2 564.6h1.1v1.1h-1.1zM123.8 563.5h1.1v1.1h-1.1zM126.4 564.8h1.1v1.1h-1.1zM116.8 565.4h1.1v1.1h-1.1zM124.9 567.6h1.1v1.1h-1.1zM118.2 566.5h1.1v1.1h-1.1zM124.6 566.8h1.1v1.1h-1.1zM122.1 566.8h1.1v1.1h-1.1zM118.3 566.0h1.1v1.1h-1.1zM115.3 564.4h1.1v1.1h-1.1zM126.2 567.4h1.1v1.1h-1.1z"/><path fill="#a6a8ec" d="M121.5 598.7h1.1v1.1h-1.1zM136.0 586.3h1.1v1.1h-1.1zM127.1 578.4h1.1v1.1h-1.1zM120.2 597.3h1.1v1.1h-1.1zM112.8 590.7h1.1v1.1h-1.1zM136.3 587.2h1.1v1.1h-1.1zM128.5 598.4h1.1v1.1h-1.1zM114.7 589.1h1.1v1.1h-1.1zM114.9 584.6h1.1v1.1h-1.1zM132.6 596.7h1.1v1.1h-1.1zM126.4 580.7h1.1v1.1h-1.1zM133.2 597.8h1.1v1.1h-1.1zM135.6 585.2h1.1v1.1h-1.1zM125.9 579.6h1.1v1.1h-1.1zM134.5 594.0h1.1v1.1h-1.1zM129.3 580.5h1.1v1.1h-1.1zM137.0 591.7h1.1v1.1h-1.1zM132.4 580.3h1.1v1.1h-1.1zM129.1 599.5h1.1v1.1h-1.1zM131.3 579.8h1.1v1.1h-1.1zM125.4 599.8h1.1v1.1h-1.1zM122.2 598.6h1.1v1.1h-1.1zM114.1 584.2h1.1v1.1h-1.1zM117.5 595.9h1.1v1.1h-1.1zM130.6 581.6h1.1v1.1h-1.1zM115.7 591.2h1.1v1.1h-1.1zM115.4 591.5h1.1v1.1h-1.1zM118.8 597.1h1.1v1.1h-1.1zM125.9 580.0h1.1v1.1h-1.1zM135.6 593.4h1.1v1.1h-1.1zM134.0 583.3h1.1v1.1h-1.1zM129.7 582.1h1.1v1.1h-1.1zM112.6 588.5h1.1v1.1h-1.1zM117.2 580.4h1.1v1.1h-1.1zM128.6 600.0h1.1v1.1h-1.1zM126.1 579.7h1.1v1.1h-1.1zM133.0 581.4h1.1v1.1h-1.1zM136.8 586.1h1.1v1.1h-1.1zM116.6 584.1h1.1v1.1h-1.1zM129.6 581.7h1.1v1.1h-1.1zM114.6 592.5h1.1v1.1h-1.1zM116.0 595.6h1.1v1.1h-1.1zM124.7 600.7h1.1v1.1h-1.1zM134.0 592.7h1.1v1.1h-1.1zM133.4 594.2h1.1v1.1h-1.1zM133.2 583.9h1.1v1.1h-1.1zM122.1 599.2h1.1v1.1h-1.1zM134.6 583.9h1.1v1.1h-1.1zM136.8 588.9h1.1v1.1h-1.1zM119.8 579.9h1.1v1.1h-1.1zM135.4 591.8h1.1v1.1h-1.1zM129.7 581.4h1.1v1.1h-1.1zM118.2 596.9h1.1v1.1h-1.1zM127.6 599.8h1.1v1.1h-1.1zM128.3 598.7h1.1v1.1h-1.1zM115.6 592.6h1.1v1.1h-1.1zM130.4 596.7h1.1v1.1h-1.1zM123.3 599.2h1.1v1.1h-1.1zM114.8 587.6h1.1v1.1h-1.1zM114.7 584.7h1.1v1.1h-1.1zM130.2 580.6h1.1v1.1h-1.1zM119.3 599.6h1.1v1.1h-1.1zM135.8 589.6h1.1v1.1h-1.1zM115.1 585.1h1.1v1.1h-1.1zM118.1 597.9h1.1v1.1h-1.1zM134.2 585.4h1.1v1.1h-1.1zM135.8 585.8h1.1v1.1h-1.1zM126.3 578.4h1.1v1.1h-1.1zM121.5 599.7h1.1v1.1h-1.1zM124.4 598.3h1.1v1.1h-1.1zM131.2 581.0h1.1v1.1h-1.1zM133.2 594.7h1.1v1.1h-1.1zM112.3 589.1h1.1v1.1h-1.1zM133.7 592.7h1.1v1.1h-1.1zM134.1 588.1h1.1v1.1h-1.1zM134.5 589.2h1.1v1.1h-1.1zM134.3 590.3h1.1v1.1h-1.1zM115.9 584.8h1.1v1.1h-1.1zM113.9 585.1h1.1v1.1h-1.1zM129.6 579.2h1.1v1.1h-1.1zM121.4 598.2h1.1v1.1h-1.1zM135.9 594.0h1.1v1.1h-1.1zM116.2 583.1h1.1v1.1h-1.1zM114.5 591.2h1.1v1.1h-1.1zM127.6 600.4h1.1v1.1h-1.1zM119.6 580.4h1.1v1.1h-1.1zM113.4 588.3h1.1v1.1h-1.1zM135.8 583.9h1.1v1.1h-1.1zM130.9 582.7h1.1v1.1h-1.1zM113.8 590.8h1.1v1.1h-1.1zM113.6 593.8h1.1v1.1h-1.1zM134.3 596.1h1.1v1.1h-1.1zM132.4 596.2h1.1v1.1h-1.1zM116.3 594.3h1.1v1.1h-1.1zM128.4 581.0h1.1v1.1h-1.1zM134.4 589.8h1.1v1.1h-1.1zM132.2 598.5h1.1v1.1h-1.1zM134.8 592.9h1.1v1.1h-1.1zM120.6 578.7h1.1v1.1h-1.1zM124.2 600.3h1.1v1.1h-1.1zM123.7 598.8h1.1v1.1h-1.1zM132.9 595.9h1.1v1.1h-1.1zM130.9 581.8h1.1v1.1h-1.1zM117.2 596.8h1.1v1.1h-1.1zM129.4 598.3h1.1v1.1h-1.1zM118.1 583.2h1.1v1.1h-1.1zM132.5 594.7h1.1v1.1h-1.1zM119.8 580.4h1.1v1.1h-1.1zM122.5 579.0h1.1v1.1h-1.1zM115.8 598.0h1.1v1.1h-1.1zM116.7 583.5h1.1v1.1h-1.1zM124.6 599.0h1.1v1.1h-1.1zM125.6 580.3h1.1v1.1h-1.1zM128.0 579.3h1.1v1.1h-1.1zM126.0 581.3h1.1v1.1h-1.1zM124.3 598.5h1.1v1.1h-1.1zM129.4 600.8h1.1v1.1h-1.1zM122.7 581.0h1.1v1.1h-1.1zM123.0 578.4h1.1v1.1h-1.1zM133.0 597.1h1.1v1.1h-1.1zM135.5 586.5h1.1v1.1h-1.1zM134.9 587.5h1.1v1.1h-1.1z"/><path fill="#9b9eea" d="M129.2 595.6h1.1v1.1h-1.1zM130.4 593.1h1.1v1.1h-1.1zM133.9 588.7h1.1v1.1h-1.1zM131.7 587.7h1.1v1.1h-1.1zM129.8 585.4h1.1v1.1h-1.1zM125.1 597.2h1.1v1.1h-1.1zM123.9 584.6h1.1v1.1h-1.1zM121.8 581.8h1.1v1.1h-1.1zM122.3 596.6h1.1v1.1h-1.1zM122.1 582.6h1.1v1.1h-1.1zM119.6 591.2h1.1v1.1h-1.1zM131.6 594.3h1.1v1.1h-1.1zM120.1 582.6h1.1v1.1h-1.1zM121.5 593.3h1.1v1.1h-1.1zM124.5 595.6h1.1v1.1h-1.1zM124.1 594.5h1.1v1.1h-1.1zM127.1 597.0h1.1v1.1h-1.1zM128.4 586.2h1.1v1.1h-1.1zM130.5 586.6h1.1v1.1h-1.1zM122.9 585.4h1.1v1.1h-1.1zM120.8 586.4h1.1v1.1h-1.1zM129.8 594.6h1.1v1.1h-1.1zM122.5 583.6h1.1v1.1h-1.1zM119.6 588.2h1.1v1.1h-1.1zM118.2 587.8h1.1v1.1h-1.1zM121.8 597.1h1.1v1.1h-1.1zM117.5 588.9h1.1v1.1h-1.1zM124.0 595.8h1.1v1.1h-1.1zM128.5 594.2h1.1v1.1h-1.1zM120.9 584.1h1.1v1.1h-1.1zM117.6 593.9h1.1v1.1h-1.1zM130.1 589.3h1.1v1.1h-1.1zM123.1 582.9h1.1v1.1h-1.1zM130.1 590.3h1.1v1.1h-1.1zM132.1 593.9h1.1v1.1h-1.1zM130.7 587.8h1.1v1.1h-1.1zM117.0 589.3h1.1v1.1h-1.1zM131.9 590.1h1.1v1.1h-1.1zM120.4 586.5h1.1v1.1h-1.1zM119.9 593.5h1.1v1.1h-1.1zM117.3 587.1h1.1v1.1h-1.1zM117.6 587.1h1.1v1.1h-1.1zM119.0 583.7h1.1v1.1h-1.1zM130.7 587.1h1.1v1.1h-1.1zM126.2 596.3h1.1v1.1h-1.1zM121.5 585.3h1.1v1.1h-1.1zM132.8 591.8h1.1v1.1h-1.1zM117.6 587.7h1.1v1.1h-1.1zM129.6 594.9h1.1v1.1h-1.1zM124.9 582.4h1.1v1.1h-1.1zM117.7 590.2h1.1v1.1h-1.1zM132.3 590.9h1.1v1.1h-1.1zM124.4 598.0h1.1v1.1h-1.1zM116.9 593.8h1.1v1.1h-1.1zM129.3 586.2h1.1v1.1h-1.1zM129.7 594.6h1.1v1.1h-1.1zM132.5 588.3h1.1v1.1h-1.1zM121.7 595.9h1.1v1.1h-1.1zM129.3 596.1h1.1v1.1h-1.1zM118.2 590.7h1.1v1.1h-1.1zM125.7 584.7h1.1v1.1h-1.1zM129.9 588.8h1.1v1.1h-1.1zM117.6 592.5h1.1v1.1h-1.1zM116.7 590.2h1.1v1.1h-1.1zM121.2 584.6h1.1v1.1h-1.1zM126.5 596.5h1.1v1.1h-1.1zM130.5 586.9h1.1v1.1h-1.1zM117.0 587.6h1.1v1.1h-1.1zM118.6 585.9h1.1v1.1h-1.1zM124.2 584.3h1.1v1.1h-1.1zM133.6 590.3h1.1v1.1h-1.1zM117.1 587.5h1.1v1.1h-1.1zM117.1 590.7h1.1v1.1h-1.1zM120.2 593.1h1.1v1.1h-1.1zM133.2 593.1h1.1v1.1h-1.1zM122.5 595.0h1.1v1.1h-1.1zM120.9 596.3h1.1v1.1h-1.1zM119.0 586.1h1.1v1.1h-1.1zM117.6 589.9h1.1v1.1h-1.1zM131.5 592.5h1.1v1.1h-1.1zM130.7 586.4h1.1v1.1h-1.1zM119.5 584.5h1.1v1.1h-1.1zM125.6 595.2h1.1v1.1h-1.1zM131.1 589.9h1.1v1.1h-1.1zM116.4 588.9h1.1v1.1h-1.1zM122.2 593.7h1.1v1.1h-1.1zM123.8 597.6h1.1v1.1h-1.1zM129.3 595.9h1.1v1.1h-1.1zM119.8 591.8h1.1v1.1h-1.1zM123.6 582.0h1.1v1.1h-1.1zM119.1 589.6h1.1v1.1h-1.1zM121.3 594.5h1.1v1.1h-1.1zM132.8 590.7h1.1v1.1h-1.1zM128.2 593.9h1.1v1.1h-1.1zM116.5 589.2h1.1v1.1h-1.1zM120.2 596.0h1.1v1.1h-1.1zM126.6 596.2h1.1v1.1h-1.1zM125.4 595.7h1.1v1.1h-1.1zM128.4 585.0h1.1v1.1h-1.1zM129.3 595.0h1.1v1.1h-1.1zM123.6 596.2h1.1v1.1h-1.1zM116.7 587.1h1.1v1.1h-1.1zM130.4 583.0h1.1v1.1h-1.1z"/><path fill="#7f88e4" d="M137.2 577.6h1.1v1.1h-1.1zM118.1 577.4h1.1v1.1h-1.1zM131.8 582.2h1.1v1.1h-1.1zM117.1 575.6h1.1v1.1h-1.1zM126.0 582.3h1.1v1.1h-1.1zM135.4 578.8h1.1v1.1h-1.1zM126.1 583.2h1.1v1.1h-1.1zM116.7 576.9h1.1v1.1h-1.1zM127.0 567.8h1.1v1.1h-1.1zM133.8 571.2h1.1v1.1h-1.1zM118.8 572.0h1.1v1.1h-1.1zM124.7 569.2h1.1v1.1h-1.1zM132.8 582.4h1.1v1.1h-1.1zM135.3 580.0h1.1v1.1h-1.1zM119.4 576.9h1.1v1.1h-1.1zM118.9 577.6h1.1v1.1h-1.1zM119.9 580.0h1.1v1.1h-1.1zM131.3 581.9h1.1v1.1h-1.1zM118.3 580.0h1.1v1.1h-1.1zM133.4 570.6h1.1v1.1h-1.1zM122.4 570.4h1.1v1.1h-1.1zM134.5 577.9h1.1v1.1h-1.1zM121.7 570.7h1.1v1.1h-1.1zM134.6 572.3h1.1v1.1h-1.1zM134.7 577.1h1.1v1.1h-1.1zM130.8 569.4h1.1v1.1h-1.1zM134.7 570.3h1.1v1.1h-1.1zM119.3 580.4h1.1v1.1h-1.1zM127.4 583.6h1.1v1.1h-1.1zM132.6 569.9h1.1v1.1h-1.1zM126.2 583.2h1.1v1.1h-1.1zM122.7 582.5h1.1v1.1h-1.1zM120.1 572.3h1.1v1.1h-1.1zM136.5 578.8h1.1v1.1h-1.1zM136.1 572.1h1.1v1.1h-1.1zM135.5 575.2h1.1v1.1h-1.1zM117.3 577.2h1.1v1.1h-1.1zM133.0 579.6h1.1v1.1h-1.1zM121.8 581.3h1.1v1.1h-1.1zM121.9 569.8h1.1v1.1h-1.1zM130.8 568.4h1.1v1.1h-1.1zM134.1 581.7h1.1v1.1h-1.1zM131.5 582.1h1.1v1.1h-1.1zM133.6 582.0h1.1v1.1h-1.1zM118.3 574.8h1.1v1.1h-1.1zM125.4 569.4h1.1v1.1h-1.1zM136.3 578.6h1.1v1.1h-1.1zM116.4 576.8h1.1v1.1h-1.1zM133.7 569.6h1.1v1.1h-1.1zM135.6 579.7h1.1v1.1h-1.1zM134.8 574.4h1.1v1.1h-1.1zM132.6 581.9h1.1v1.1h-1.1zM129.0 582.2h1.1v1.1h-1.1zM126.7 567.5h1.1v1.1h-1.1zM124.2 583.3h1.1v1.1h-1.1zM127.8 581.8h1.1v1.1h-1.1zM134.9 577.1h1.1v1.1h-1.1zM117.6 577.8h1.1v1.1h-1.1zM133.7 578.9h1.1v1.1h-1.1zM121.1 579.7h1.1v1.1h-1.1zM122.7 581.1h1.1v1.1h-1.1zM118.6 578.6h1.1v1.1h-1.1zM135.8 572.2h1.1v1.1h-1.1zM128.0 569.8h1.1v1.1h-1.1zM123.4 581.8h1.1v1.1h-1.1zM124.5 583.5h1.1v1.1h-1.1zM125.5 569.8h1.1v1.1h-1.1zM127.0 569.7h1.1v1.1h-1.1zM134.7 570.5h1.1v1.1h-1.1zM119.2 574.8h1.1v1.1h-1.1zM118.5 577.9h1.1v1.1h-1.1zM126.0 569.3h1.1v1.1h-1.1zM134.0 581.5h1.1v1.1h-1.1zM120.9 579.8h1.1v1.1h-1.1zM130.2 582.5h1.1v1.1h-1.1zM126.4 582.7h1.1v1.1h-1.1zM129.8 568.0h1.1v1.1h-1.1zM117.3 574.2h1.1v1.1h-1.1zM126.1 583.2h1.1v1.1h-1.1zM133.1 572.1h1.1v1.1h-1.1zM131.9 569.5h1.1v1.1h-1.1zM123.3 582.4h1.1v1.1h-1.1zM133.2 571.3h1.1v1.1h-1.1zM119.4 578.0h1.1v1.1h-1.1zM118.3 580.1h1.1v1.1h-1.1zM120.2 578.8h1.1v1.1h-1.1zM120.5 579.6h1.1v1.1h-1.1zM124.2 582.6h1.1v1.1h-1.1zM117.4 577.6h1.1v1.1h-1.1zM133.0 571.4h1.1v1.1h-1.1zM135.1 572.7h1.1v1.1h-1.1zM135.5 571.7h1.1v1.1h-1.1zM116.9 578.2h1.1v1.1h-1.1zM130.6 568.7h1.1v1.1h-1.1zM132.2 582.6h1.1v1.1h-1.1zM129.7 582.6h1.1v1.1h-1.1zM123.1 569.4h1.1v1.1h-1.1zM123.1 568.7h1.1v1.1h-1.1zM125.0 581.4h1.1v1.1h-1.1zM119.3 574.2h1.1v1.1h-1.1zM128.9 583.2h1.1v1.1h-1.1zM126.4 581.9h1.1v1.1h-1.1z"/><path fill="#26bb6e" d="M128.0 564.7h1.1v1.1h-1.1zM131.6 567.0h1.1v1.1h-1.1zM134.2 565.2h1.1v1.1h-1.1zM125.7 565.9h1.1v1.1h-1.1zM126.7 566.5h1.1v1.1h-1.1zM134.6 566.4h1.1v1.1h-1.1zM128.3 567.4h1.1v1.1h-1.1zM129.3 564.0h1.1v1.1h-1.1zM133.8 567.1h1.1v1.1h-1.1zM127.3 564.4h1.1v1.1h-1.1zM133.8 565.6h1.1v1.1h-1.1zM132.3 564.0h1.1v1.1h-1.1zM130.8 567.2h1.1v1.1h-1.1zM132.9 567.2h1.1v1.1h-1.1zM129.9 566.7h1.1v1.1h-1.1zM126.0 564.5h1.1v1.1h-1.1zM133.9 564.1h1.1v1.1h-1.1zM133.8 565.2h1.1v1.1h-1.1zM130.5 566.8h1.1v1.1h-1.1zM133.1 566.5h1.1v1.1h-1.1zM129.2 563.8h1.1v1.1h-1.1zM134.1 565.4h1.1v1.1h-1.1zM133.2 565.3h1.1v1.1h-1.1zM132.9 567.0h1.1v1.1h-1.1zM130.0 567.0h1.1v1.1h-1.1zM128.4 566.6h1.1v1.1h-1.1zM132.0 564.4h1.1v1.1h-1.1zM133.7 566.0h1.1v1.1h-1.1zM128.9 566.7h1.1v1.1h-1.1zM133.0 564.2h1.1v1.1h-1.1zM133.8 566.4h1.1v1.1h-1.1zM126.1 564.8h1.1v1.1h-1.1zM135.3 565.7h1.1v1.1h-1.1zM127.1 564.6h1.1v1.1h-1.1zM133.9 565.6h1.1v1.1h-1.1zM132.5 564.4h1.1v1.1h-1.1zM131.8 566.6h1.1v1.1h-1.1zM133.6 565.3h1.1v1.1h-1.1zM133.3 563.8h1.1v1.1h-1.1zM129.2 564.4h1.1v1.1h-1.1zM127.8 564.0h1.1v1.1h-1.1zM126.7 566.0h1.1v1.1h-1.1zM125.4 565.5h1.1v1.1h-1.1zM129.5 566.7h1.1v1.1h-1.1zM134.9 565.1h1.1v1.1h-1.1zM128.7 566.5h1.1v1.1h-1.1zM130.7 567.2h1.1v1.1h-1.1zM130.7 563.3h1.1v1.1h-1.1zM127.7 565.0h1.1v1.1h-1.1zM127.6 565.4h1.1v1.1h-1.1zM127.6 564.4h1.1v1.1h-1.1zM133.6 564.1h1.1v1.1h-1.1zM127.8 566.4h1.1v1.1h-1.1zM126.7 566.0h1.1v1.1h-1.1zM129.7 564.2h1.1v1.1h-1.1z"/><path fill="#22d050" d="M129.8 565.6h1.1v1.1h-1.1zM129.0 566.1h1.1v1.1h-1.1zM132.7 565.4h1.1v1.1h-1.1zM129.5 564.8h1.1v1.1h-1.1zM128.7 565.1h1.1v1.1h-1.1zM130.9 564.7h1.1v1.1h-1.1zM128.6 566.2h1.1v1.1h-1.1zM131.5 566.2h1.1v1.1h-1.1zM132.6 565.8h1.1v1.1h-1.1zM132.3 565.9h1.1v1.1h-1.1zM128.6 566.0h1.1v1.1h-1.1zM129.1 565.5h1.1v1.1h-1.1zM129.5 564.6h1.1v1.1h-1.1zM132.1 565.2h1.1v1.1h-1.1zM132.1 565.2h1.1v1.1h-1.1zM128.0 565.6h1.1v1.1h-1.1zM128.1 565.9h1.1v1.1h-1.1zM131.2 566.5h1.1v1.1h-1.1zM129.4 565.0h1.1v1.1h-1.1zM128.7 565.1h1.1v1.1h-1.1zM129.2 566.5h1.1v1.1h-1.1zM131.2 565.7h1.1v1.1h-1.1zM130.3 565.2h1.1v1.1h-1.1z"/><path fill="#687ae7" d="M110.6 566.6h1.1v1.1h-1.1zM122.9 569.6h1.1v1.1h-1.1zM128.6 568.9h1.1v1.1h-1.1zM127.6 569.3h1.1v1.1h-1.1zM115.8 560.8h1.1v1.1h-1.1zM109.8 567.1h1.1v1.1h-1.1zM117.0 561.8h1.1v1.1h-1.1zM134.6 565.1h1.1v1.1h-1.1zM109.7 564.0h1.1v1.1h-1.1zM134.6 566.4h1.1v1.1h-1.1zM133.4 567.4h1.1v1.1h-1.1zM131.6 562.7h1.1v1.1h-1.1zM124.8 569.5h1.1v1.1h-1.1zM128.0 568.4h1.1v1.1h-1.1zM128.6 561.9h1.1v1.1h-1.1zM122.7 569.8h1.1v1.1h-1.1zM115.8 561.2h1.1v1.1h-1.1zM113.9 561.3h1.1v1.1h-1.1zM125.2 569.3h1.1v1.1h-1.1zM135.5 566.2h1.1v1.1h-1.1zM109.0 563.9h1.1v1.1h-1.1zM114.5 561.9h1.1v1.1h-1.1zM132.1 566.4h1.1v1.1h-1.1zM134.7 566.7h1.1v1.1h-1.1zM127.7 561.0h1.1v1.1h-1.1zM114.7 561.8h1.1v1.1h-1.1zM119.9 569.9h1.1v1.1h-1.1zM130.2 567.7h1.1v1.1h-1.1zM127.9 561.6h1.1v1.1h-1.1zM133.2 563.7h1.1v1.1h-1.1zM123.2 569.1h1.1v1.1h-1.1zM114.9 568.1h1.1v1.1h-1.1zM111.0 563.1h1.1v1.1h-1.1zM134.1 563.7h1.1v1.1h-1.1zM127.6 561.6h1.1v1.1h-1.1zM114.0 567.8h1.1v1.1h-1.1zM125.7 569.6h1.1v1.1h-1.1zM122.5 561.2h1.1v1.1h-1.1zM118.5 569.6h1.1v1.1h-1.1zM118.9 560.6h1.1v1.1h-1.1zM115.3 568.2h1.1v1.1h-1.1zM110.9 566.8h1.1v1.1h-1.1zM125.2 561.3h1.1v1.1h-1.1zM128.6 568.3h1.1v1.1h-1.1zM130.0 567.8h1.1v1.1h-1.1zM127.9 561.5h1.1v1.1h-1.1zM133.5 564.8h1.1v1.1h-1.1zM111.2 566.3h1.1v1.1h-1.1zM133.5 562.6h1.1v1.1h-1.1zM132.6 563.4h1.1v1.1h-1.1zM129.9 568.4h1.1v1.1h-1.1zM118.8 569.4h1.1v1.1h-1.1zM132.7 564.7h1.1v1.1h-1.1zM117.5 561.7h1.1v1.1h-1.1zM109.7 566.7h1.1v1.1h-1.1zM128.3 568.7h1.1v1.1h-1.1zM131.6 567.1h1.1v1.1h-1.1zM116.7 561.8h1.1v1.1h-1.1zM108.6 564.2h1.1v1.1h-1.1zM122.1 560.8h1.1v1.1h-1.1zM108.6 565.6h1.1v1.1h-1.1zM113.9 561.4h1.1v1.1h-1.1zM132.3 563.8h1.1v1.1h-1.1z"/><path fill="#3092aa" d="M136.5 562.7h1.1v1.1h-1.1zM128.0 562.6h1.1v1.1h-1.1zM134.9 562.7h1.1v1.1h-1.1zM137.4 563.5h1.1v1.1h-1.1zM138.6 566.3h1.1v1.1h-1.1zM121.7 565.0h1.1v1.1h-1.1zM126.4 568.5h1.1v1.1h-1.1zM134.9 568.2h1.1v1.1h-1.1zM133.0 568.4h1.1v1.1h-1.1zM123.3 563.9h1.1v1.1h-1.1zM124.6 567.6h1.1v1.1h-1.1zM127.0 568.9h1.1v1.1h-1.1zM137.7 567.1h1.1v1.1h-1.1zM139.6 566.1h1.1v1.1h-1.1zM133.2 568.5h1.1v1.1h-1.1zM125.1 568.2h1.1v1.1h-1.1zM138.3 565.4h1.1v1.1h-1.1zM137.5 564.5h1.1v1.1h-1.1zM122.9 564.7h1.1v1.1h-1.1zM137.7 564.3h1.1v1.1h-1.1zM136.2 567.9h1.1v1.1h-1.1zM123.5 567.8h1.1v1.1h-1.1zM138.4 567.5h1.1v1.1h-1.1zM133.6 561.9h1.1v1.1h-1.1zM138.9 565.9h1.1v1.1h-1.1zM123.2 567.3h1.1v1.1h-1.1zM128.0 568.6h1.1v1.1h-1.1zM136.6 562.9h1.1v1.1h-1.1zM130.0 562.3h1.1v1.1h-1.1zM122.1 567.3h1.1v1.1h-1.1zM136.0 568.0h1.1v1.1h-1.1zM128.2 568.5h1.1v1.1h-1.1zM133.8 568.9h1.1v1.1h-1.1zM136.4 567.2h1.1v1.1h-1.1zM134.7 563.1h1.1v1.1h-1.1zM124.3 568.5h1.1v1.1h-1.1zM134.8 562.0h1.1v1.1h-1.1zM134.4 568.3h1.1v1.1h-1.1zM124.3 563.7h1.1v1.1h-1.1zM131.9 568.7h1.1v1.1h-1.1zM138.8 564.8h1.1v1.1h-1.1zM122.3 567.5h1.1v1.1h-1.1zM130.1 569.1h1.1v1.1h-1.1zM127.4 561.8h1.1v1.1h-1.1zM133.5 569.3h1.1v1.1h-1.1zM130.3 569.3h1.1v1.1h-1.1zM132.1 568.6h1.1v1.1h-1.1zM127.0 562.7h1.1v1.1h-1.1zM132.4 562.3h1.1v1.1h-1.1zM123.5 566.9h1.1v1.1h-1.1zM123.6 564.5h1.1v1.1h-1.1zM121.8 564.7h1.1v1.1h-1.1zM134.6 562.9h1.1v1.1h-1.1zM127.4 568.9h1.1v1.1h-1.1zM132.0 568.7h1.1v1.1h-1.1zM132.2 562.4h1.1v1.1h-1.1zM123.2 564.7h1.1v1.1h-1.1zM139.5 565.5h1.1v1.1h-1.1zM132.3 568.6h1.1v1.1h-1.1zM134.4 562.9h1.1v1.1h-1.1zM137.7 563.6h1.1v1.1h-1.1zM125.4 563.0h1.1v1.1h-1.1zM128.0 562.1h1.1v1.1h-1.1z"/><path fill="#6470e0" d="M124.3 574.2h1.1v1.1h-1.1zM128.0 574.8h1.1v1.1h-1.1zM125.5 575.5h1.1v1.1h-1.1zM127.8 575.8h1.1v1.1h-1.1zM129.0 578.0h1.1v1.1h-1.1zM125.4 574.7h1.1v1.1h-1.1zM123.9 574.9h1.1v1.1h-1.1zM127.5 576.5h1.1v1.1h-1.1zM130.2 576.0h1.1v1.1h-1.1zM129.1 573.9h1.1v1.1h-1.1zM127.6 575.7h1.1v1.1h-1.1zM127.1 578.8h1.1v1.1h-1.1zM127.7 574.8h1.1v1.1h-1.1zM126.4 574.2h1.1v1.1h-1.1zM127.1 574.3h1.1v1.1h-1.1zM128.1 578.4h1.1v1.1h-1.1zM125.5 578.4h1.1v1.1h-1.1zM125.9 573.9h1.1v1.1h-1.1zM128.9 577.5h1.1v1.1h-1.1zM129.5 576.0h1.1v1.1h-1.1zM124.6 577.0h1.1v1.1h-1.1zM129.2 577.1h1.1v1.1h-1.1zM124.8 576.4h1.1v1.1h-1.1zM129.5 575.3h1.1v1.1h-1.1zM124.8 575.9h1.1v1.1h-1.1zM129.2 574.9h1.1v1.1h-1.1zM123.9 574.2h1.1v1.1h-1.1zM128.7 576.7h1.1v1.1h-1.1zM127.6 573.6h1.1v1.1h-1.1zM125.4 575.5h1.1v1.1h-1.1zM130.4 577.1h1.1v1.1h-1.1zM124.1 576.2h1.1v1.1h-1.1zM128.6 578.2h1.1v1.1h-1.1zM129.2 573.3h1.1v1.1h-1.1zM124.9 574.4h1.1v1.1h-1.1zM126.8 573.0h1.1v1.1h-1.1zM126.6 573.0h1.1v1.1h-1.1zM125.6 575.8h1.1v1.1h-1.1zM125.8 574.9h1.1v1.1h-1.1zM125.4 578.4h1.1v1.1h-1.1z"/><path fill="#9094e8" d="M122.4 591.1h1.1v1.1h-1.1zM124.2 586.1h1.1v1.1h-1.1zM125.9 588.1h1.1v1.1h-1.1zM123.3 592.5h1.1v1.1h-1.1zM127.7 589.7h1.1v1.1h-1.1zM120.6 588.9h1.1v1.1h-1.1zM128.4 591.7h1.1v1.1h-1.1zM125.3 591.2h1.1v1.1h-1.1zM127.4 587.5h1.1v1.1h-1.1zM122.9 586.9h1.1v1.1h-1.1zM126.3 592.8h1.1v1.1h-1.1zM123.0 588.9h1.1v1.1h-1.1zM125.6 588.6h1.1v1.1h-1.1zM121.5 590.2h1.1v1.1h-1.1zM121.9 586.7h1.1v1.1h-1.1zM127.3 585.8h1.1v1.1h-1.1zM124.3 591.9h1.1v1.1h-1.1zM128.6 587.7h1.1v1.1h-1.1zM129.1 589.7h1.1v1.1h-1.1zM123.4 586.7h1.1v1.1h-1.1zM128.8 592.5h1.1v1.1h-1.1zM123.1 590.9h1.1v1.1h-1.1zM123.2 590.0h1.1v1.1h-1.1zM122.5 593.1h1.1v1.1h-1.1zM126.4 591.9h1.1v1.1h-1.1zM127.7 589.1h1.1v1.1h-1.1zM129.4 590.3h1.1v1.1h-1.1zM128.6 590.8h1.1v1.1h-1.1zM123.8 590.1h1.1v1.1h-1.1zM124.0 593.1h1.1v1.1h-1.1zM126.0 592.6h1.1v1.1h-1.1zM127.0 591.5h1.1v1.1h-1.1zM123.3 592.4h1.1v1.1h-1.1zM127.7 589.1h1.1v1.1h-1.1zM121.5 589.8h1.1v1.1h-1.1zM124.4 592.8h1.1v1.1h-1.1zM120.8 587.5h1.1v1.1h-1.1zM121.1 592.5h1.1v1.1h-1.1z"/><path fill="#3a5ae6" d="M119.1 565.0h1.1v1.1h-1.1zM120.4 564.7h1.1v1.1h-1.1zM121.9 565.8h1.1v1.1h-1.1zM122.5 565.0h1.1v1.1h-1.1zM122.4 566.4h1.1v1.1h-1.1zM125.3 564.5h1.1v1.1h-1.1zM122.2 566.4h1.1v1.1h-1.1zM125.4 565.2h1.1v1.1h-1.1zM124.3 564.8h1.1v1.1h-1.1zM119.2 566.0h1.1v1.1h-1.1zM124.1 565.7h1.1v1.1h-1.1zM123.5 564.3h1.1v1.1h-1.1zM120.3 565.6h1.1v1.1h-1.1zM119.6 564.2h1.1v1.1h-1.1zM123.9 564.4h1.1v1.1h-1.1zM125.3 565.5h1.1v1.1h-1.1zM124.3 564.3h1.1v1.1h-1.1zM120.7 566.1h1.1v1.1h-1.1zM119.3 566.3h1.1v1.1h-1.1zM123.3 565.0h1.1v1.1h-1.1zM120.2 564.3h1.1v1.1h-1.1zM123.8 564.6h1.1v1.1h-1.1zM119.0 565.4h1.1v1.1h-1.1zM118.8 564.2h1.1v1.1h-1.1zM121.2 565.9h1.1v1.1h-1.1zM122.3 566.4h1.1v1.1h-1.1zM120.6 565.1h1.1v1.1h-1.1zM120.7 566.6h1.1v1.1h-1.1zM125.6 564.6h1.1v1.1h-1.1zM125.1 565.6h1.1v1.1h-1.1z"/><path fill="#596fe6" d="M129.6 567.4h1.1v1.1h-1.1zM114.1 563.2h1.1v1.1h-1.1zM120.5 562.5h1.1v1.1h-1.1zM115.2 562.4h1.1v1.1h-1.1zM114.8 567.7h1.1v1.1h-1.1zM117.0 563.0h1.1v1.1h-1.1zM116.4 562.3h1.1v1.1h-1.1zM126.1 568.0h1.1v1.1h-1.1zM113.5 565.5h1.1v1.1h-1.1zM116.2 567.9h1.1v1.1h-1.1zM117.6 562.8h1.1v1.1h-1.1zM127.1 567.2h1.1v1.1h-1.1zM120.8 568.0h1.1v1.1h-1.1zM122.8 568.8h1.1v1.1h-1.1zM121.1 568.8h1.1v1.1h-1.1zM112.1 566.6h1.1v1.1h-1.1zM129.0 566.8h1.1v1.1h-1.1zM117.4 568.2h1.1v1.1h-1.1zM123.9 562.5h1.1v1.1h-1.1zM114.8 566.9h1.1v1.1h-1.1zM130.3 564.2h1.1v1.1h-1.1zM120.6 561.5h1.1v1.1h-1.1zM124.2 568.3h1.1v1.1h-1.1zM112.7 565.6h1.1v1.1h-1.1zM125.9 568.4h1.1v1.1h-1.1zM114.8 566.9h1.1v1.1h-1.1zM123.4 568.0h1.1v1.1h-1.1zM129.0 567.2h1.1v1.1h-1.1zM121.6 568.6h1.1v1.1h-1.1zM113.2 564.1h1.1v1.1h-1.1zM112.0 566.0h1.1v1.1h-1.1zM121.5 568.4h1.1v1.1h-1.1zM128.0 567.2h1.1v1.1h-1.1zM112.9 564.8h1.1v1.1h-1.1zM126.8 562.8h1.1v1.1h-1.1zM114.4 564.0h1.1v1.1h-1.1zM124.6 568.0h1.1v1.1h-1.1zM117.5 567.4h1.1v1.1h-1.1zM130.1 563.7h1.1v1.1h-1.1zM116.9 562.0h1.1v1.1h-1.1zM132.0 565.2h1.1v1.1h-1.1zM128.0 563.6h1.1v1.1h-1.1zM117.2 562.7h1.1v1.1h-1.1zM118.2 561.8h1.1v1.1h-1.1zM118.5 561.7h1.1v1.1h-1.1zM129.3 563.7h1.1v1.1h-1.1zM115.7 567.8h1.1v1.1h-1.1zM114.7 563.2h1.1v1.1h-1.1zM130.6 566.1h1.1v1.1h-1.1zM124.1 568.4h1.1v1.1h-1.1zM124.0 562.5h1.1v1.1h-1.1zM119.7 561.5h1.1v1.1h-1.1zM112.4 564.8h1.1v1.1h-1.1zM111.3 565.0h1.1v1.1h-1.1zM116.1 568.3h1.1v1.1h-1.1zM121.6 568.0h1.1v1.1h-1.1z"/><path fill="#a8acec" d="M115.3 563.3h1.1v1.1h-1.1zM133.2 558.3h1.1v1.1h-1.1zM122.4 555.5h1.1v1.1h-1.1zM137.0 562.2h1.1v1.1h-1.1zM134.7 591.8h1.1v1.1h-1.1zM134.2 558.3h1.1v1.1h-1.1zM146.5 580.7h1.1v1.1h-1.1zM108.9 584.0h1.1v1.1h-1.1zM136.3 588.9h1.1v1.1h-1.1zM129.2 560.2h1.1v1.1h-1.1zM146.4 576.9h1.1v1.1h-1.1zM121.1 557.6h1.1v1.1h-1.1zM144.6 560.9h1.1v1.1h-1.1zM115.7 561.8h1.1v1.1h-1.1zM135.5 556.2h1.1v1.1h-1.1zM114.8 589.6h1.1v1.1h-1.1zM142.4 561.2h1.1v1.1h-1.1zM147.9 570.8h1.1v1.1h-1.1zM148.0 571.3h1.1v1.1h-1.1zM113.9 562.1h1.1v1.1h-1.1zM145.9 572.7h1.1v1.1h-1.1zM146.3 574.3h1.1v1.1h-1.1zM133.6 560.9h1.1v1.1h-1.1zM120.7 559.3h1.1v1.1h-1.1zM146.4 576.3h1.1v1.1h-1.1zM113.5 588.7h1.1v1.1h-1.1zM153.9 579.9h1.1v1.1h-1.1zM112.2 559.6h1.1v1.1h-1.1zM156.2 578.5h1.1v1.1h-1.1zM112.7 593.1h1.1v1.1h-1.1zM150.6 572.6h1.1v1.1h-1.1zM122.8 593.2h1.1v1.1h-1.1z"/><path fill="#7885e7" d="M135.0 562.4h1.1v1.1h-1.1zM140.7 565.2h1.1v1.1h-1.1zM135.0 568.4h1.1v1.1h-1.1zM131.3 561.5h1.1v1.1h-1.1zM129.4 559.9h1.1v1.1h-1.1zM136.4 567.1h1.1v1.1h-1.1zM117.4 559.6h1.1v1.1h-1.1zM116.5 571.1h1.1v1.1h-1.1zM138.7 565.5h1.1v1.1h-1.1zM136.0 563.4h1.1v1.1h-1.1zM135.4 567.1h1.1v1.1h-1.1zM117.0 559.5h1.1v1.1h-1.1zM137.1 565.3h1.1v1.1h-1.1zM129.3 560.1h1.1v1.1h-1.1zM137.2 562.2h1.1v1.1h-1.1zM114.6 560.8h1.1v1.1h-1.1zM118.1 560.2h1.1v1.1h-1.1zM128.9 560.0h1.1v1.1h-1.1zM114.2 560.8h1.1v1.1h-1.1zM133.4 570.1h1.1v1.1h-1.1zM137.7 562.7h1.1v1.1h-1.1zM117.3 559.9h1.1v1.1h-1.1zM109.2 568.2h1.1v1.1h-1.1zM125.4 570.9h1.1v1.1h-1.1zM129.4 571.0h1.1v1.1h-1.1zM123.5 559.4h1.1v1.1h-1.1zM134.9 563.0h1.1v1.1h-1.1zM131.2 569.3h1.1v1.1h-1.1zM110.5 561.8h1.1v1.1h-1.1zM127.3 560.2h1.1v1.1h-1.1zM134.0 561.7h1.1v1.1h-1.1zM120.6 558.4h1.1v1.1h-1.1zM119.7 570.6h1.1v1.1h-1.1zM124.6 558.4h1.1v1.1h-1.1zM120.1 558.8h1.1v1.1h-1.1zM118.7 559.1h1.1v1.1h-1.1zM139.9 566.7h1.1v1.1h-1.1zM124.5 570.7h1.1v1.1h-1.1zM118.9 560.1h1.1v1.1h-1.1zM109.2 570.1h1.1v1.1h-1.1zM136.0 568.8h1.1v1.1h-1.1zM126.7 570.5h1.1v1.1h-1.1zM121.9 572.0h1.1v1.1h-1.1zM123.6 559.4h1.1v1.1h-1.1zM135.5 561.9h1.1v1.1h-1.1zM133.5 568.4h1.1v1.1h-1.1zM136.1 563.9h1.1v1.1h-1.1zM114.3 570.4h1.1v1.1h-1.1zM129.4 560.9h1.1v1.1h-1.1zM121.3 559.6h1.1v1.1h-1.1zM116.3 560.5h1.1v1.1h-1.1zM121.0 570.6h1.1v1.1h-1.1zM111.5 560.7h1.1v1.1h-1.1zM109.9 569.0h1.1v1.1h-1.1zM108.6 567.2h1.1v1.1h-1.1zM131.6 561.6h1.1v1.1h-1.1z"/><path fill="#2ba78c" d="M129.4 562.5h1.1v1.1h-1.1zM125.5 564.4h1.1v1.1h-1.1zM124.2 564.5h1.1v1.1h-1.1zM128.1 563.0h1.1v1.1h-1.1zM125.4 566.1h1.1v1.1h-1.1zM133.7 567.6h1.1v1.1h-1.1zM136.9 566.5h1.1v1.1h-1.1zM124.8 563.9h1.1v1.1h-1.1zM124.4 566.1h1.1v1.1h-1.1zM131.1 568.3h1.1v1.1h-1.1zM124.6 566.6h1.1v1.1h-1.1zM125.6 563.7h1.1v1.1h-1.1zM125.9 564.1h1.1v1.1h-1.1zM131.1 567.7h1.1v1.1h-1.1zM137.0 565.3h1.1v1.1h-1.1zM134.0 563.2h1.1v1.1h-1.1zM125.2 564.3h1.1v1.1h-1.1zM125.2 566.8h1.1v1.1h-1.1zM130.6 562.9h1.1v1.1h-1.1zM130.0 563.2h1.1v1.1h-1.1zM125.3 566.5h1.1v1.1h-1.1zM135.7 563.6h1.1v1.1h-1.1zM125.1 563.7h1.1v1.1h-1.1zM128.8 568.1h1.1v1.1h-1.1zM135.7 564.8h1.1v1.1h-1.1zM125.6 563.8h1.1v1.1h-1.1zM134.0 567.8h1.1v1.1h-1.1zM126.1 566.7h1.1v1.1h-1.1zM124.6 564.3h1.1v1.1h-1.1zM124.9 565.4h1.1v1.1h-1.1zM135.5 565.5h1.1v1.1h-1.1zM124.5 566.6h1.1v1.1h-1.1zM126.1 563.6h1.1v1.1h-1.1zM132.7 568.1h1.1v1.1h-1.1zM126.1 564.2h1.1v1.1h-1.1zM125.4 567.3h1.1v1.1h-1.1zM124.5 567.1h1.1v1.1h-1.1zM125.4 563.6h1.1v1.1h-1.1zM124.8 564.9h1.1v1.1h-1.1zM133.9 567.3h1.1v1.1h-1.1zM126.3 564.1h1.1v1.1h-1.1zM135.9 566.4h1.1v1.1h-1.1zM130.3 563.1h1.1v1.1h-1.1zM125.2 567.5h1.1v1.1h-1.1zM136.6 565.2h1.1v1.1h-1.1zM126.0 567.4h1.1v1.1h-1.1zM124.9 564.9h1.1v1.1h-1.1zM126.3 563.1h1.1v1.1h-1.1zM125.4 564.5h1.1v1.1h-1.1zM133.6 563.4h1.1v1.1h-1.1zM128.0 563.2h1.1v1.1h-1.1zM125.8 567.6h1.1v1.1h-1.1zM135.4 566.9h1.1v1.1h-1.1zM135.4 566.9h1.1v1.1h-1.1zM128.1 563.1h1.1v1.1h-1.1zM133.6 563.6h1.1v1.1h-1.1zM127.0 567.4h1.1v1.1h-1.1zM129.6 567.9h1.1v1.1h-1.1zM129.0 562.6h1.1v1.1h-1.1zM133.4 563.1h1.1v1.1h-1.1zM123.8 566.2h1.1v1.1h-1.1zM127.6 563.7h1.1v1.1h-1.1zM135.6 564.0h1.1v1.1h-1.1z"/><path fill="#8890e8" d="M113.7 572.5h1.1v1.1h-1.1zM109.4 559.8h1.1v1.1h-1.1zM108.9 560.1h1.1v1.1h-1.1zM139.6 570.0h1.1v1.1h-1.1zM137.7 560.1h1.1v1.1h-1.1zM137.7 573.4h1.1v1.1h-1.1zM109.8 559.6h1.1v1.1h-1.1zM118.9 575.8h1.1v1.1h-1.1zM135.5 570.5h1.1v1.1h-1.1zM145.3 566.3h1.1v1.1h-1.1zM111.5 572.5h1.1v1.1h-1.1zM116.3 572.3h1.1v1.1h-1.1zM143.1 566.1h1.1v1.1h-1.1zM146.3 559.5h1.1v1.1h-1.1z"/><path fill="#c8c8f2" d="M117.3 568.1h1.1v1.1h-1.1zM123.1 563.8h1.1v1.1h-1.1zM154.5 577.1h1.1v1.1h-1.1zM149.8 578.4h1.1v1.1h-1.1zM124.3 564.7h1.1v1.1h-1.1zM153.6 574.0h1.1v1.1h-1.1zM146.1 601.2h1.1v1.1h-1.1zM160.3 595.2h1.1v1.1h-1.1zM146.8 574.0h1.1v1.1h-1.1zM141.6 565.5h1.1v1.1h-1.1zM148.6 599.3h1.1v1.1h-1.1zM128.9 568.2h1.1v1.1h-1.1zM120.6 564.3h1.1v1.1h-1.1zM126.3 567.5h1.1v1.1h-1.1zM149.6 579.7h1.1v1.1h-1.1zM149.2 595.1h1.1v1.1h-1.1zM115.0 569.5h1.1v1.1h-1.1zM131.4 566.0h1.1v1.1h-1.1zM128.3 564.0h1.1v1.1h-1.1zM151.9 587.7h1.1v1.1h-1.1zM143.1 603.7h1.1v1.1h-1.1zM116.9 560.3h1.1v1.1h-1.1zM132.9 562.0h1.1v1.1h-1.1zM120.0 565.3h1.1v1.1h-1.1z"/>
<g filter="url(#fblur)"><ellipse cx="122.9" cy="565.7" rx="10" ry="4.5" fill="#3c5ae6" opacity="0.95"/><ellipse cx="130.4" cy="565.7" rx="9.5" ry="4.4" fill="#2f7ae0" opacity="1"/><ellipse cx="130.4" cy="565.7" rx="7.5" ry="3.4" fill="#2cb4b0" opacity="1"/><ellipse cx="130.9" cy="565.7" rx="6" ry="2.8" fill="#22d050" opacity="1"/></g>
</g>
<rect x="107.9" y="544.7" width="61.7" height="60.9" fill="none" stroke="#8a8a8a" stroke-width="0.9"/>
<circle cx="130.4" cy="561.4" r="10.2" fill="none" stroke="#e8b4ce" stroke-width="0.75"/>
<path d="M103.1,552.1 L105.3,552.3 L106.7,549.3" stroke="#222" stroke-width="1.2" fill="none"/>
<path d="M103.1,565.1 L105.3,565.3 L106.7,562.3" stroke="#222" stroke-width="1.2" fill="none"/>
<path d="M103.1,579.1 L105.3,579.3 L106.7,576.3" stroke="#222" stroke-width="1.2" fill="none"/>
<path d="M103.1,594.7 L105.3,594.9 L106.7,591.9" stroke="#222" stroke-width="1.2" fill="none"/>
<rect x="104.3" y="598.5" width="1.8" height="1.8" fill="#222"/>
<rect x="113.5" y="608.2" width="1.8" height="1.8" fill="#222"/>
<path d="M119.8,610.2 L122,610.4 L123.6,607.4" stroke="#222" stroke-width="1.2" fill="none"/>
<path d="M134.2,610.2 L136.4,610.4 L138,607.4" stroke="#222" stroke-width="1.2" fill="none"/>
<path d="M147.9,610.2 L150.1,610.4 L151.7,607.4" stroke="#222" stroke-width="1.2" fill="none"/>
<path d="M160.9,610.2 L163.1,610.4 L164.7,607.4" stroke="#222" stroke-width="1.2" fill="none"/>
<clipPath id="clipD1"><rect x="107.9" y="616.5" width="61.9" height="61.4"/></clipPath>
<g clip-path="url(#clipD1)"><g filter="url(#fblur)"><ellipse cx="134.9" cy="651.5" rx="9" ry="16" fill="#a0a4ec" opacity="0.6"/></g>
<path fill="#336ee0" d="M110.8 658.1h1.1v1.1h-1.1zM127.4 656.1h1.1v1.1h-1.1zM112.7 667.9h1.1v1.1h-1.1zM129.1 652.0h1.1v1.1h-1.1zM118.0 636.1h1.1v1.1h-1.1zM120.2 676.0h1.1v1.1h-1.1zM127.4 643.0h1.1v1.1h-1.1zM116.1 638.4h1.1v1.1h-1.1zM112.4 667.2h1.1v1.1h-1.1zM123.9 668.1h1.1v1.1h-1.1zM117.6 634.7h1.1v1.1h-1.1zM121.7 637.4h1.1v1.1h-1.1zM122.4 672.6h1.1v1.1h-1.1zM111.5 663.4h1.1v1.1h-1.1zM121.7 673.5h1.1v1.1h-1.1zM128.9 654.5h1.1v1.1h-1.1zM119.2 671.5h1.1v1.1h-1.1zM127.0 660.0h1.1v1.1h-1.1zM109.2 661.8h1.1v1.1h-1.1zM118.2 672.9h1.1v1.1h-1.1zM120.4 637.5h1.1v1.1h-1.1zM115.3 637.9h1.1v1.1h-1.1zM112.0 669.5h1.1v1.1h-1.1zM119.7 637.6h1.1v1.1h-1.1zM117.0 636.1h1.1v1.1h-1.1zM110.6 651.6h1.1v1.1h-1.1zM129.1 653.2h1.1v1.1h-1.1zM109.0 652.5h1.1v1.1h-1.1zM110.7 649.9h1.1v1.1h-1.1zM112.7 666.8h1.1v1.1h-1.1zM127.6 666.3h1.1v1.1h-1.1zM108.8 653.0h1.1v1.1h-1.1zM121.4 634.6h1.1v1.1h-1.1zM123.3 637.4h1.1v1.1h-1.1zM128.1 649.7h1.1v1.1h-1.1zM110.6 664.8h1.1v1.1h-1.1zM119.8 675.1h1.1v1.1h-1.1zM128.2 645.3h1.1v1.1h-1.1zM128.5 652.2h1.1v1.1h-1.1zM129.4 653.6h1.1v1.1h-1.1zM115.0 635.2h1.1v1.1h-1.1zM108.8 655.3h1.1v1.1h-1.1zM127.9 656.7h1.1v1.1h-1.1zM118.5 636.9h1.1v1.1h-1.1zM124.8 670.4h1.1v1.1h-1.1zM120.1 673.3h1.1v1.1h-1.1zM124.6 638.7h1.1v1.1h-1.1zM114.7 673.6h1.1v1.1h-1.1zM126.0 663.3h1.1v1.1h-1.1zM127.3 651.3h1.1v1.1h-1.1zM128.7 650.3h1.1v1.1h-1.1zM115.9 672.7h1.1v1.1h-1.1zM116.5 675.1h1.1v1.1h-1.1zM121.3 635.0h1.1v1.1h-1.1zM117.8 636.3h1.1v1.1h-1.1zM109.5 650.3h1.1v1.1h-1.1zM119.8 636.1h1.1v1.1h-1.1zM111.6 645.7h1.1v1.1h-1.1zM125.0 666.4h1.1v1.1h-1.1zM114.5 670.4h1.1v1.1h-1.1zM117.8 672.7h1.1v1.1h-1.1zM108.9 656.8h1.1v1.1h-1.1zM122.8 673.2h1.1v1.1h-1.1zM112.7 637.4h1.1v1.1h-1.1zM111.1 647.5h1.1v1.1h-1.1zM123.8 671.5h1.1v1.1h-1.1zM115.1 634.5h1.1v1.1h-1.1zM116.7 671.9h1.1v1.1h-1.1zM112.5 665.1h1.1v1.1h-1.1zM110.4 651.4h1.1v1.1h-1.1zM111.8 665.2h1.1v1.1h-1.1zM124.4 641.6h1.1v1.1h-1.1zM127.4 642.2h1.1v1.1h-1.1zM110.6 660.2h1.1v1.1h-1.1zM110.2 645.2h1.1v1.1h-1.1zM127.5 649.8h1.1v1.1h-1.1zM122.4 669.4h1.1v1.1h-1.1zM119.8 636.5h1.1v1.1h-1.1zM128.3 659.3h1.1v1.1h-1.1zM121.2 633.3h1.1v1.1h-1.1zM126.3 643.5h1.1v1.1h-1.1zM114.7 671.7h1.1v1.1h-1.1zM123.7 635.5h1.1v1.1h-1.1zM118.1 673.4h1.1v1.1h-1.1zM110.6 641.3h1.1v1.1h-1.1zM110.5 663.3h1.1v1.1h-1.1zM128.0 659.8h1.1v1.1h-1.1zM121.5 673.9h1.1v1.1h-1.1zM109.4 664.9h1.1v1.1h-1.1zM128.1 653.6h1.1v1.1h-1.1zM115.5 637.6h1.1v1.1h-1.1zM120.0 635.9h1.1v1.1h-1.1zM109.9 650.7h1.1v1.1h-1.1zM108.7 660.4h1.1v1.1h-1.1zM125.0 668.7h1.1v1.1h-1.1zM127.7 647.9h1.1v1.1h-1.1zM129.3 656.7h1.1v1.1h-1.1zM110.9 660.4h1.1v1.1h-1.1zM113.0 639.5h1.1v1.1h-1.1zM128.2 663.5h1.1v1.1h-1.1zM127.1 651.2h1.1v1.1h-1.1zM115.8 672.6h1.1v1.1h-1.1zM128.1 660.4h1.1v1.1h-1.1zM111.3 640.8h1.1v1.1h-1.1zM117.2 671.9h1.1v1.1h-1.1zM123.4 637.5h1.1v1.1h-1.1zM123.9 638.8h1.1v1.1h-1.1zM127.7 648.0h1.1v1.1h-1.1zM127.5 659.7h1.1v1.1h-1.1zM127.8 649.2h1.1v1.1h-1.1zM112.3 667.0h1.1v1.1h-1.1zM110.8 649.6h1.1v1.1h-1.1zM126.4 662.7h1.1v1.1h-1.1zM113.0 639.7h1.1v1.1h-1.1zM112.3 642.7h1.1v1.1h-1.1zM128.7 653.9h1.1v1.1h-1.1zM128.8 650.5h1.1v1.1h-1.1zM124.4 670.9h1.1v1.1h-1.1zM123.6 640.1h1.1v1.1h-1.1zM127.1 666.9h1.1v1.1h-1.1zM112.2 643.0h1.1v1.1h-1.1zM116.4 674.6h1.1v1.1h-1.1zM109.9 648.5h1.1v1.1h-1.1zM129.0 648.2h1.1v1.1h-1.1zM124.3 637.9h1.1v1.1h-1.1zM108.7 649.9h1.1v1.1h-1.1zM111.2 662.0h1.1v1.1h-1.1zM117.7 672.2h1.1v1.1h-1.1zM121.2 638.3h1.1v1.1h-1.1zM109.5 661.1h1.1v1.1h-1.1zM128.2 657.9h1.1v1.1h-1.1zM112.7 668.3h1.1v1.1h-1.1zM111.2 644.1h1.1v1.1h-1.1zM127.8 646.4h1.1v1.1h-1.1zM111.1 643.1h1.1v1.1h-1.1zM122.3 636.9h1.1v1.1h-1.1zM128.0 665.5h1.1v1.1h-1.1zM121.1 637.0h1.1v1.1h-1.1zM124.3 639.0h1.1v1.1h-1.1zM110.5 659.9h1.1v1.1h-1.1zM129.1 661.0h1.1v1.1h-1.1zM110.0 647.3h1.1v1.1h-1.1zM127.4 658.5h1.1v1.1h-1.1zM128.2 654.4h1.1v1.1h-1.1zM121.0 674.6h1.1v1.1h-1.1zM110.3 659.0h1.1v1.1h-1.1zM129.5 649.7h1.1v1.1h-1.1zM118.6 638.0h1.1v1.1h-1.1zM115.3 639.3h1.1v1.1h-1.1zM118.9 673.0h1.1v1.1h-1.1zM127.5 642.3h1.1v1.1h-1.1zM116.6 634.2h1.1v1.1h-1.1zM117.2 672.3h1.1v1.1h-1.1zM112.1 643.6h1.1v1.1h-1.1zM118.8 674.4h1.1v1.1h-1.1zM113.3 667.5h1.1v1.1h-1.1zM122.4 669.9h1.1v1.1h-1.1zM116.2 670.2h1.1v1.1h-1.1zM120.1 672.6h1.1v1.1h-1.1zM127.3 648.1h1.1v1.1h-1.1zM109.1 649.5h1.1v1.1h-1.1zM127.9 650.9h1.1v1.1h-1.1zM117.7 634.3h1.1v1.1h-1.1zM125.1 666.2h1.1v1.1h-1.1zM111.8 670.9h1.1v1.1h-1.1zM127.4 644.9h1.1v1.1h-1.1zM127.6 655.1h1.1v1.1h-1.1zM127.4 649.2h1.1v1.1h-1.1zM123.2 635.3h1.1v1.1h-1.1zM109.1 646.4h1.1v1.1h-1.1zM110.2 649.1h1.1v1.1h-1.1zM124.5 670.6h1.1v1.1h-1.1zM121.9 635.8h1.1v1.1h-1.1zM109.1 651.3h1.1v1.1h-1.1zM110.5 657.6h1.1v1.1h-1.1zM114.1 639.2h1.1v1.1h-1.1zM128.4 664.3h1.1v1.1h-1.1zM127.6 651.1h1.1v1.1h-1.1zM110.1 661.5h1.1v1.1h-1.1zM121.5 637.7h1.1v1.1h-1.1zM126.1 662.9h1.1v1.1h-1.1zM125.2 668.0h1.1v1.1h-1.1zM128.0 651.0h1.1v1.1h-1.1zM127.6 667.4h1.1v1.1h-1.1zM123.1 635.4h1.1v1.1h-1.1zM127.1 667.5h1.1v1.1h-1.1zM122.6 672.3h1.1v1.1h-1.1z"/><path fill="#2a86a8" d="M148.1 676.7h1.1v1.1h-1.1zM142.9 674.2h1.1v1.1h-1.1zM150.9 671.8h1.1v1.1h-1.1zM141.6 669.1h1.1v1.1h-1.1zM149.0 650.7h1.1v1.1h-1.1zM141.5 663.2h1.1v1.1h-1.1zM142.4 657.2h1.1v1.1h-1.1zM151.5 663.0h1.1v1.1h-1.1zM141.6 658.2h1.1v1.1h-1.1zM147.7 649.2h1.1v1.1h-1.1zM151.5 659.9h1.1v1.1h-1.1zM143.9 674.8h1.1v1.1h-1.1zM151.6 667.7h1.1v1.1h-1.1zM150.0 655.3h1.1v1.1h-1.1zM151.1 668.1h1.1v1.1h-1.1zM147.3 649.3h1.1v1.1h-1.1zM149.5 648.5h1.1v1.1h-1.1zM145.4 648.2h1.1v1.1h-1.1zM143.1 652.7h1.1v1.1h-1.1zM141.8 664.4h1.1v1.1h-1.1zM142.0 671.7h1.1v1.1h-1.1zM143.6 649.5h1.1v1.1h-1.1zM141.7 663.0h1.1v1.1h-1.1zM141.8 668.8h1.1v1.1h-1.1zM150.5 670.3h1.1v1.1h-1.1zM149.7 674.5h1.1v1.1h-1.1zM142.3 657.2h1.1v1.1h-1.1zM146.0 648.7h1.1v1.1h-1.1zM151.0 660.9h1.1v1.1h-1.1zM144.5 648.3h1.1v1.1h-1.1zM141.7 661.5h1.1v1.1h-1.1zM147.5 649.0h1.1v1.1h-1.1zM151.2 657.5h1.1v1.1h-1.1zM151.3 658.1h1.1v1.1h-1.1zM142.1 667.1h1.1v1.1h-1.1zM146.5 646.8h1.1v1.1h-1.1zM144.9 650.3h1.1v1.1h-1.1zM150.0 673.4h1.1v1.1h-1.1zM148.8 675.9h1.1v1.1h-1.1zM142.7 671.1h1.1v1.1h-1.1zM142.6 672.6h1.1v1.1h-1.1zM142.1 667.0h1.1v1.1h-1.1zM143.6 647.6h1.1v1.1h-1.1zM151.0 654.1h1.1v1.1h-1.1zM142.9 652.0h1.1v1.1h-1.1zM150.7 667.1h1.1v1.1h-1.1zM150.5 659.3h1.1v1.1h-1.1zM141.3 657.6h1.1v1.1h-1.1zM141.5 665.5h1.1v1.1h-1.1zM145.4 647.2h1.1v1.1h-1.1zM143.4 652.2h1.1v1.1h-1.1zM141.9 661.3h1.1v1.1h-1.1zM151.4 663.0h1.1v1.1h-1.1zM151.2 654.9h1.1v1.1h-1.1zM141.6 656.7h1.1v1.1h-1.1zM142.4 671.1h1.1v1.1h-1.1zM141.3 669.8h1.1v1.1h-1.1zM150.6 658.1h1.1v1.1h-1.1zM142.0 672.9h1.1v1.1h-1.1zM151.0 671.9h1.1v1.1h-1.1zM142.7 651.7h1.1v1.1h-1.1zM150.9 659.7h1.1v1.1h-1.1zM142.8 654.4h1.1v1.1h-1.1zM143.0 675.2h1.1v1.1h-1.1zM144.0 650.7h1.1v1.1h-1.1zM142.6 652.7h1.1v1.1h-1.1zM151.3 658.6h1.1v1.1h-1.1zM142.0 664.6h1.1v1.1h-1.1zM142.1 664.0h1.1v1.1h-1.1zM143.6 649.5h1.1v1.1h-1.1zM141.4 665.2h1.1v1.1h-1.1zM142.8 671.9h1.1v1.1h-1.1zM141.5 671.4h1.1v1.1h-1.1zM143.5 650.6h1.1v1.1h-1.1zM141.3 663.0h1.1v1.1h-1.1zM141.4 662.3h1.1v1.1h-1.1zM150.5 669.4h1.1v1.1h-1.1zM151.1 667.3h1.1v1.1h-1.1zM142.0 670.6h1.1v1.1h-1.1zM143.7 674.5h1.1v1.1h-1.1zM147.2 647.4h1.1v1.1h-1.1zM141.8 666.7h1.1v1.1h-1.1zM150.8 664.0h1.1v1.1h-1.1zM151.6 662.5h1.1v1.1h-1.1zM150.8 667.9h1.1v1.1h-1.1zM151.1 659.9h1.1v1.1h-1.1zM143.9 649.1h1.1v1.1h-1.1zM149.3 652.3h1.1v1.1h-1.1zM144.3 676.2h1.1v1.1h-1.1zM150.5 651.5h1.1v1.1h-1.1zM149.8 675.4h1.1v1.1h-1.1zM144.8 649.1h1.1v1.1h-1.1zM142.4 657.0h1.1v1.1h-1.1z"/><path fill="#22d848" d="M146.8 658.4h1.1v1.1h-1.1zM147.8 665.7h1.1v1.1h-1.1zM147.2 661.7h1.1v1.1h-1.1zM147.2 664.9h1.1v1.1h-1.1zM146.6 661.4h1.1v1.1h-1.1zM145.5 665.9h1.1v1.1h-1.1zM147.7 660.4h1.1v1.1h-1.1zM147.3 663.3h1.1v1.1h-1.1zM145.4 663.5h1.1v1.1h-1.1zM146.2 661.0h1.1v1.1h-1.1zM147.3 666.6h1.1v1.1h-1.1zM145.5 663.2h1.1v1.1h-1.1zM145.2 664.9h1.1v1.1h-1.1zM147.1 662.7h1.1v1.1h-1.1zM146.4 659.5h1.1v1.1h-1.1zM147.8 661.4h1.1v1.1h-1.1zM147.3 662.7h1.1v1.1h-1.1zM147.8 661.9h1.1v1.1h-1.1zM146.3 664.0h1.1v1.1h-1.1zM144.9 664.7h1.1v1.1h-1.1zM145.4 663.7h1.1v1.1h-1.1zM147.4 662.1h1.1v1.1h-1.1zM147.2 664.4h1.1v1.1h-1.1zM146.9 666.2h1.1v1.1h-1.1zM145.9 663.8h1.1v1.1h-1.1zM145.1 663.2h1.1v1.1h-1.1zM147.6 660.3h1.1v1.1h-1.1zM146.2 664.4h1.1v1.1h-1.1zM146.5 665.5h1.1v1.1h-1.1zM147.9 666.0h1.1v1.1h-1.1zM145.6 660.7h1.1v1.1h-1.1zM144.9 661.6h1.1v1.1h-1.1zM147.1 660.8h1.1v1.1h-1.1zM146.1 664.8h1.1v1.1h-1.1zM147.4 665.6h1.1v1.1h-1.1zM145.9 667.2h1.1v1.1h-1.1zM148.0 662.6h1.1v1.1h-1.1zM146.1 658.3h1.1v1.1h-1.1zM146.1 664.7h1.1v1.1h-1.1zM146.6 667.3h1.1v1.1h-1.1zM145.9 661.1h1.1v1.1h-1.1zM145.5 661.4h1.1v1.1h-1.1zM146.1 665.6h1.1v1.1h-1.1zM147.0 662.8h1.1v1.1h-1.1zM147.6 664.6h1.1v1.1h-1.1zM145.8 666.1h1.1v1.1h-1.1zM145.4 665.0h1.1v1.1h-1.1zM145.4 667.0h1.1v1.1h-1.1zM146.4 667.2h1.1v1.1h-1.1zM146.0 660.9h1.1v1.1h-1.1zM146.2 662.3h1.1v1.1h-1.1zM145.8 665.3h1.1v1.1h-1.1zM147.7 660.9h1.1v1.1h-1.1z"/><path fill="#3663e3" d="M129.6 668.3h1.1v1.1h-1.1zM132.0 647.4h1.1v1.1h-1.1zM123.0 675.7h1.1v1.1h-1.1zM129.7 640.4h1.1v1.1h-1.1zM123.1 675.8h1.1v1.1h-1.1zM125.3 636.5h1.1v1.1h-1.1zM131.9 658.6h1.1v1.1h-1.1zM116.6 629.0h1.1v1.1h-1.1zM112.6 675.7h1.1v1.1h-1.1zM109.0 672.9h1.1v1.1h-1.1zM130.1 673.9h1.1v1.1h-1.1zM131.3 640.0h1.1v1.1h-1.1zM118.5 627.8h1.1v1.1h-1.1zM130.6 670.9h1.1v1.1h-1.1zM111.8 672.1h1.1v1.1h-1.1zM127.0 669.3h1.1v1.1h-1.1zM122.1 633.3h1.1v1.1h-1.1zM131.8 649.1h1.1v1.1h-1.1zM132.3 653.6h1.1v1.1h-1.1zM129.5 662.1h1.1v1.1h-1.1zM121.7 630.4h1.1v1.1h-1.1zM109.9 671.1h1.1v1.1h-1.1zM111.3 672.9h1.1v1.1h-1.1zM109.5 643.7h1.1v1.1h-1.1zM110.2 668.4h1.1v1.1h-1.1zM119.7 627.6h1.1v1.1h-1.1zM110.1 638.4h1.1v1.1h-1.1zM131.9 644.0h1.1v1.1h-1.1zM123.2 629.7h1.1v1.1h-1.1zM111.9 633.2h1.1v1.1h-1.1zM113.8 675.7h1.1v1.1h-1.1zM130.3 653.5h1.1v1.1h-1.1zM109.0 633.7h1.1v1.1h-1.1zM111.8 676.3h1.1v1.1h-1.1zM111.0 670.4h1.1v1.1h-1.1zM109.8 668.7h1.1v1.1h-1.1zM115.4 676.4h1.1v1.1h-1.1zM131.6 662.7h1.1v1.1h-1.1zM129.1 674.4h1.1v1.1h-1.1zM130.9 664.8h1.1v1.1h-1.1zM120.1 629.3h1.1v1.1h-1.1zM129.5 647.7h1.1v1.1h-1.1zM126.0 636.9h1.1v1.1h-1.1zM111.1 671.0h1.1v1.1h-1.1zM130.9 656.8h1.1v1.1h-1.1zM113.5 674.3h1.1v1.1h-1.1zM121.9 630.8h1.1v1.1h-1.1zM109.3 641.8h1.1v1.1h-1.1zM112.6 628.4h1.1v1.1h-1.1zM124.2 674.7h1.1v1.1h-1.1zM114.9 632.3h1.1v1.1h-1.1zM112.0 634.6h1.1v1.1h-1.1zM114.2 632.7h1.1v1.1h-1.1zM133.0 646.3h1.1v1.1h-1.1zM108.5 644.2h1.1v1.1h-1.1zM131.6 659.0h1.1v1.1h-1.1zM120.4 676.6h1.1v1.1h-1.1zM127.9 634.9h1.1v1.1h-1.1zM129.5 665.0h1.1v1.1h-1.1zM123.1 675.4h1.1v1.1h-1.1zM110.4 638.7h1.1v1.1h-1.1zM123.5 675.2h1.1v1.1h-1.1zM113.5 634.6h1.1v1.1h-1.1zM126.4 673.7h1.1v1.1h-1.1zM128.9 640.0h1.1v1.1h-1.1zM118.4 630.9h1.1v1.1h-1.1zM126.0 676.5h1.1v1.1h-1.1zM131.4 645.0h1.1v1.1h-1.1zM116.9 630.1h1.1v1.1h-1.1zM133.2 658.0h1.1v1.1h-1.1zM128.5 665.2h1.1v1.1h-1.1zM130.4 672.3h1.1v1.1h-1.1zM123.7 632.5h1.1v1.1h-1.1zM113.8 630.0h1.1v1.1h-1.1zM129.8 667.2h1.1v1.1h-1.1zM130.2 640.6h1.1v1.1h-1.1zM130.1 662.7h1.1v1.1h-1.1zM128.7 668.8h1.1v1.1h-1.1zM130.9 643.7h1.1v1.1h-1.1zM110.1 632.7h1.1v1.1h-1.1zM117.8 632.3h1.1v1.1h-1.1zM130.7 669.2h1.1v1.1h-1.1zM125.4 633.6h1.1v1.1h-1.1zM130.3 656.3h1.1v1.1h-1.1zM114.1 627.0h1.1v1.1h-1.1zM111.0 637.1h1.1v1.1h-1.1zM131.1 650.3h1.1v1.1h-1.1zM133.2 658.0h1.1v1.1h-1.1zM129.2 645.8h1.1v1.1h-1.1zM131.7 659.0h1.1v1.1h-1.1zM110.1 640.0h1.1v1.1h-1.1zM130.3 637.1h1.1v1.1h-1.1zM111.5 671.8h1.1v1.1h-1.1zM130.2 661.6h1.1v1.1h-1.1zM127.5 640.2h1.1v1.1h-1.1zM129.2 640.6h1.1v1.1h-1.1zM121.8 676.7h1.1v1.1h-1.1zM109.4 666.6h1.1v1.1h-1.1zM113.2 627.5h1.1v1.1h-1.1zM128.8 675.0h1.1v1.1h-1.1zM116.4 632.2h1.1v1.1h-1.1zM131.0 648.1h1.1v1.1h-1.1zM128.2 666.9h1.1v1.1h-1.1zM126.5 638.6h1.1v1.1h-1.1zM129.7 645.0h1.1v1.1h-1.1zM114.7 627.5h1.1v1.1h-1.1zM129.7 658.6h1.1v1.1h-1.1zM130.8 649.1h1.1v1.1h-1.1zM129.9 639.9h1.1v1.1h-1.1zM109.4 641.2h1.1v1.1h-1.1zM127.8 638.5h1.1v1.1h-1.1zM130.1 655.7h1.1v1.1h-1.1zM109.1 675.8h1.1v1.1h-1.1zM129.5 646.0h1.1v1.1h-1.1zM111.0 636.4h1.1v1.1h-1.1zM129.8 647.2h1.1v1.1h-1.1zM124.0 675.2h1.1v1.1h-1.1zM110.6 639.9h1.1v1.1h-1.1zM126.1 672.5h1.1v1.1h-1.1zM130.4 643.3h1.1v1.1h-1.1zM129.3 646.6h1.1v1.1h-1.1zM130.9 660.4h1.1v1.1h-1.1zM113.0 634.1h1.1v1.1h-1.1zM127.7 635.4h1.1v1.1h-1.1zM131.5 651.1h1.1v1.1h-1.1zM109.1 645.2h1.1v1.1h-1.1zM130.1 638.6h1.1v1.1h-1.1zM115.0 633.3h1.1v1.1h-1.1zM123.6 631.8h1.1v1.1h-1.1zM132.9 663.5h1.1v1.1h-1.1zM125.5 632.5h1.1v1.1h-1.1zM133.6 651.1h1.1v1.1h-1.1zM108.5 664.1h1.1v1.1h-1.1z"/><path fill="#3050e8" d="M156.3 672.4h1.1v1.1h-1.1zM145.8 637.8h1.1v1.1h-1.1zM149.6 635.2h1.1v1.1h-1.1zM154.4 646.8h1.1v1.1h-1.1zM136.2 662.6h1.1v1.1h-1.1zM137.0 662.0h1.1v1.1h-1.1zM153.8 649.6h1.1v1.1h-1.1zM139.3 674.2h1.1v1.1h-1.1zM149.9 633.0h1.1v1.1h-1.1zM156.1 657.4h1.1v1.1h-1.1zM142.6 623.7h1.1v1.1h-1.1zM153.0 644.5h1.1v1.1h-1.1zM138.6 663.3h1.1v1.1h-1.1zM138.6 654.7h1.1v1.1h-1.1zM154.7 667.4h1.1v1.1h-1.1zM136.4 667.6h1.1v1.1h-1.1zM137.3 651.5h1.1v1.1h-1.1zM153.4 674.8h1.1v1.1h-1.1zM138.3 664.0h1.1v1.1h-1.1zM140.3 646.6h1.1v1.1h-1.1zM141.0 641.5h1.1v1.1h-1.1zM142.1 635.5h1.1v1.1h-1.1zM154.4 672.3h1.1v1.1h-1.1zM140.0 648.3h1.1v1.1h-1.1zM144.5 635.0h1.1v1.1h-1.1zM155.4 645.1h1.1v1.1h-1.1zM135.6 662.0h1.1v1.1h-1.1zM150.7 623.8h1.1v1.1h-1.1zM152.8 646.6h1.1v1.1h-1.1zM154.1 648.2h1.1v1.1h-1.1zM154.4 657.4h1.1v1.1h-1.1zM137.0 669.8h1.1v1.1h-1.1zM141.4 635.1h1.1v1.1h-1.1zM144.4 636.5h1.1v1.1h-1.1z"/><path fill="#bcbcec" d="M133.2 621.9h1.1v1.1h-1.1zM131.5 628.8h1.1v1.1h-1.1zM141.2 621.5h1.1v1.1h-1.1zM134.4 631.0h1.1v1.1h-1.1zM137.1 631.4h1.1v1.1h-1.1zM131.1 628.3h1.1v1.1h-1.1zM130.8 630.4h1.1v1.1h-1.1zM145.2 626.8h1.1v1.1h-1.1zM135.4 632.4h1.1v1.1h-1.1zM132.5 630.5h1.1v1.1h-1.1zM130.2 626.3h1.1v1.1h-1.1zM132.9 621.6h1.1v1.1h-1.1zM131.0 625.2h1.1v1.1h-1.1zM130.7 629.7h1.1v1.1h-1.1zM141.8 630.9h1.1v1.1h-1.1zM140.9 630.8h1.1v1.1h-1.1zM144.3 624.0h1.1v1.1h-1.1zM144.9 629.6h1.1v1.1h-1.1zM133.1 630.3h1.1v1.1h-1.1zM129.4 626.4h1.1v1.1h-1.1zM146.9 625.8h1.1v1.1h-1.1zM134.9 630.9h1.1v1.1h-1.1zM146.0 624.9h1.1v1.1h-1.1zM129.1 624.5h1.1v1.1h-1.1zM129.6 624.3h1.1v1.1h-1.1zM132.6 622.4h1.1v1.1h-1.1z"/><path fill="#3d58e4" d="M123.4 630.8h1.1v1.1h-1.1zM123.1 630.8h1.1v1.1h-1.1zM127.5 629.8h1.1v1.1h-1.1zM123.4 630.7h1.1v1.1h-1.1zM115.6 629.2h1.1v1.1h-1.1zM125.6 628.7h1.1v1.1h-1.1zM119.9 627.7h1.1v1.1h-1.1zM120.6 630.3h1.1v1.1h-1.1zM120.8 631.1h1.1v1.1h-1.1zM122.2 627.2h1.1v1.1h-1.1zM116.7 628.5h1.1v1.1h-1.1zM121.5 627.1h1.1v1.1h-1.1zM122.9 627.2h1.1v1.1h-1.1zM127.3 629.9h1.1v1.1h-1.1zM116.3 627.5h1.1v1.1h-1.1zM126.5 630.4h1.1v1.1h-1.1zM117.5 630.8h1.1v1.1h-1.1zM116.3 628.7h1.1v1.1h-1.1zM118.6 627.7h1.1v1.1h-1.1zM116.0 629.0h1.1v1.1h-1.1zM119.2 631.1h1.1v1.1h-1.1zM126.1 630.0h1.1v1.1h-1.1zM115.5 630.2h1.1v1.1h-1.1zM117.5 627.2h1.1v1.1h-1.1zM117.1 630.4h1.1v1.1h-1.1zM114.9 628.1h1.1v1.1h-1.1zM123.9 627.1h1.1v1.1h-1.1zM121.2 630.7h1.1v1.1h-1.1zM118.3 628.0h1.1v1.1h-1.1zM121.7 630.3h1.1v1.1h-1.1zM119.7 630.2h1.1v1.1h-1.1zM117.6 627.7h1.1v1.1h-1.1zM126.1 627.4h1.1v1.1h-1.1zM123.1 630.5h1.1v1.1h-1.1zM119.5 627.1h1.1v1.1h-1.1zM122.4 630.8h1.1v1.1h-1.1zM128.2 628.5h1.1v1.1h-1.1zM124.3 630.4h1.1v1.1h-1.1zM114.3 629.6h1.1v1.1h-1.1zM117.8 630.7h1.1v1.1h-1.1zM120.2 627.3h1.1v1.1h-1.1zM113.6 628.9h1.1v1.1h-1.1zM126.4 628.1h1.1v1.1h-1.1zM115.2 628.7h1.1v1.1h-1.1zM127.0 629.4h1.1v1.1h-1.1zM125.0 629.7h1.1v1.1h-1.1zM120.7 627.6h1.1v1.1h-1.1zM116.0 628.2h1.1v1.1h-1.1zM117.1 628.0h1.1v1.1h-1.1zM113.8 628.7h1.1v1.1h-1.1zM127.1 629.2h1.1v1.1h-1.1zM117.2 628.0h1.1v1.1h-1.1zM119.0 631.0h1.1v1.1h-1.1zM114.5 628.4h1.1v1.1h-1.1z"/><path fill="#4c63e4" d="M111.4 629.6h1.1v1.1h-1.1zM125.5 626.6h1.1v1.1h-1.1zM115.4 631.5h1.1v1.1h-1.1zM123.8 631.4h1.1v1.1h-1.1zM113.8 627.0h1.1v1.1h-1.1zM110.9 629.4h1.1v1.1h-1.1zM127.9 631.0h1.1v1.1h-1.1zM127.1 627.7h1.1v1.1h-1.1zM111.3 629.1h1.1v1.1h-1.1zM113.6 630.3h1.1v1.1h-1.1zM117.8 626.7h1.1v1.1h-1.1zM115.8 631.3h1.1v1.1h-1.1zM112.2 628.3h1.1v1.1h-1.1zM110.9 628.2h1.1v1.1h-1.1zM111.8 629.0h1.1v1.1h-1.1zM130.4 628.8h1.1v1.1h-1.1zM112.0 629.6h1.1v1.1h-1.1zM117.7 626.8h1.1v1.1h-1.1zM128.9 629.8h1.1v1.1h-1.1zM128.9 630.1h1.1v1.1h-1.1zM125.6 626.8h1.1v1.1h-1.1zM129.0 629.7h1.1v1.1h-1.1zM126.6 626.6h1.1v1.1h-1.1zM126.2 631.1h1.1v1.1h-1.1zM112.1 629.1h1.1v1.1h-1.1zM128.7 627.0h1.1v1.1h-1.1zM113.5 630.2h1.1v1.1h-1.1zM128.6 630.5h1.1v1.1h-1.1zM117.4 631.3h1.1v1.1h-1.1zM123.8 631.1h1.1v1.1h-1.1zM129.7 629.8h1.1v1.1h-1.1zM112.3 629.4h1.1v1.1h-1.1zM119.6 626.0h1.1v1.1h-1.1zM111.5 629.1h1.1v1.1h-1.1zM127.0 627.3h1.1v1.1h-1.1zM117.7 626.5h1.1v1.1h-1.1zM129.2 630.3h1.1v1.1h-1.1zM125.6 631.7h1.1v1.1h-1.1zM128.3 629.7h1.1v1.1h-1.1zM123.3 626.7h1.1v1.1h-1.1zM129.9 629.6h1.1v1.1h-1.1zM124.6 631.0h1.1v1.1h-1.1zM115.7 626.9h1.1v1.1h-1.1zM129.6 628.7h1.1v1.1h-1.1zM117.2 631.5h1.1v1.1h-1.1zM124.3 631.2h1.1v1.1h-1.1zM126.9 630.6h1.1v1.1h-1.1zM129.7 627.9h1.1v1.1h-1.1zM118.8 631.6h1.1v1.1h-1.1zM126.5 626.4h1.1v1.1h-1.1zM114.5 630.8h1.1v1.1h-1.1zM113.2 629.5h1.1v1.1h-1.1zM129.5 630.4h1.1v1.1h-1.1zM129.0 630.1h1.1v1.1h-1.1zM113.1 630.2h1.1v1.1h-1.1zM125.0 626.9h1.1v1.1h-1.1zM113.9 628.1h1.1v1.1h-1.1zM123.2 631.3h1.1v1.1h-1.1zM117.5 631.1h1.1v1.1h-1.1zM117.9 626.7h1.1v1.1h-1.1zM131.5 629.0h1.1v1.1h-1.1zM114.3 631.3h1.1v1.1h-1.1z"/><path fill="#aba9ea" d="M123.5 646.9h1.1v1.1h-1.1zM139.4 666.8h1.1v1.1h-1.1zM127.6 667.8h1.1v1.1h-1.1zM141.7 634.7h1.1v1.1h-1.1zM145.6 653.3h1.1v1.1h-1.1zM123.6 654.4h1.1v1.1h-1.1zM141.5 630.1h1.1v1.1h-1.1zM144.5 645.9h1.1v1.1h-1.1zM145.8 652.5h1.1v1.1h-1.1zM144.5 658.8h1.1v1.1h-1.1zM144.2 656.9h1.1v1.1h-1.1zM135.7 668.8h1.1v1.1h-1.1zM137.9 669.5h1.1v1.1h-1.1zM125.0 644.3h1.1v1.1h-1.1zM133.7 629.4h1.1v1.1h-1.1zM131.3 668.4h1.1v1.1h-1.1zM142.0 662.6h1.1v1.1h-1.1zM126.7 665.4h1.1v1.1h-1.1zM140.5 667.2h1.1v1.1h-1.1zM130.8 628.0h1.1v1.1h-1.1zM137.7 632.3h1.1v1.1h-1.1zM125.4 654.8h1.1v1.1h-1.1zM138.8 670.6h1.1v1.1h-1.1zM135.9 669.2h1.1v1.1h-1.1zM126.4 639.3h1.1v1.1h-1.1zM124.4 660.6h1.1v1.1h-1.1zM145.8 639.0h1.1v1.1h-1.1zM141.6 633.2h1.1v1.1h-1.1zM143.3 641.4h1.1v1.1h-1.1zM123.3 649.6h1.1v1.1h-1.1zM135.9 669.3h1.1v1.1h-1.1zM134.8 668.2h1.1v1.1h-1.1zM124.3 651.2h1.1v1.1h-1.1zM125.2 662.5h1.1v1.1h-1.1zM125.6 642.4h1.1v1.1h-1.1zM125.0 640.7h1.1v1.1h-1.1zM124.7 644.2h1.1v1.1h-1.1zM139.4 669.0h1.1v1.1h-1.1zM129.5 631.0h1.1v1.1h-1.1zM145.3 657.5h1.1v1.1h-1.1zM138.1 667.6h1.1v1.1h-1.1zM124.9 642.9h1.1v1.1h-1.1zM125.9 637.6h1.1v1.1h-1.1zM138.6 628.1h1.1v1.1h-1.1zM126.2 663.6h1.1v1.1h-1.1zM143.5 659.8h1.1v1.1h-1.1zM145.0 649.6h1.1v1.1h-1.1zM130.1 666.7h1.1v1.1h-1.1zM144.4 639.7h1.1v1.1h-1.1zM141.2 636.1h1.1v1.1h-1.1zM145.1 649.9h1.1v1.1h-1.1zM145.7 647.0h1.1v1.1h-1.1zM127.3 635.7h1.1v1.1h-1.1zM142.4 661.8h1.1v1.1h-1.1zM133.3 669.2h1.1v1.1h-1.1zM135.9 667.3h1.1v1.1h-1.1zM127.1 638.4h1.1v1.1h-1.1zM131.2 631.8h1.1v1.1h-1.1zM122.6 650.2h1.1v1.1h-1.1zM125.2 648.8h1.1v1.1h-1.1zM141.0 635.8h1.1v1.1h-1.1zM138.3 632.2h1.1v1.1h-1.1zM128.0 635.0h1.1v1.1h-1.1zM133.0 626.7h1.1v1.1h-1.1zM141.8 662.1h1.1v1.1h-1.1zM142.6 664.3h1.1v1.1h-1.1zM143.1 663.6h1.1v1.1h-1.1zM124.5 653.0h1.1v1.1h-1.1zM133.0 630.4h1.1v1.1h-1.1zM143.3 660.3h1.1v1.1h-1.1zM137.5 666.8h1.1v1.1h-1.1zM141.7 636.3h1.1v1.1h-1.1zM138.9 633.0h1.1v1.1h-1.1zM127.9 637.5h1.1v1.1h-1.1zM127.6 638.0h1.1v1.1h-1.1zM124.6 644.1h1.1v1.1h-1.1zM127.6 632.7h1.1v1.1h-1.1zM123.7 653.5h1.1v1.1h-1.1zM125.1 656.5h1.1v1.1h-1.1zM131.6 667.4h1.1v1.1h-1.1zM126.6 632.6h1.1v1.1h-1.1zM125.3 644.1h1.1v1.1h-1.1zM134.5 669.0h1.1v1.1h-1.1zM133.9 671.2h1.1v1.1h-1.1zM139.3 666.5h1.1v1.1h-1.1zM126.7 660.5h1.1v1.1h-1.1zM129.6 664.6h1.1v1.1h-1.1zM146.4 655.6h1.1v1.1h-1.1zM130.8 627.9h1.1v1.1h-1.1zM144.6 651.8h1.1v1.1h-1.1zM125.4 645.3h1.1v1.1h-1.1zM138.9 665.5h1.1v1.1h-1.1zM138.1 671.1h1.1v1.1h-1.1zM146.8 653.5h1.1v1.1h-1.1zM124.9 654.4h1.1v1.1h-1.1zM124.1 643.9h1.1v1.1h-1.1zM136.7 628.0h1.1v1.1h-1.1zM128.2 663.3h1.1v1.1h-1.1zM145.8 645.5h1.1v1.1h-1.1zM146.6 649.4h1.1v1.1h-1.1zM125.4 659.9h1.1v1.1h-1.1z"/><path fill="#3079dd" d="M114.9 641.3h1.1v1.1h-1.1zM125.9 652.8h1.1v1.1h-1.1zM124.3 661.1h1.1v1.1h-1.1zM113.5 646.5h1.1v1.1h-1.1zM126.7 650.4h1.1v1.1h-1.1zM123.7 646.7h1.1v1.1h-1.1zM113.6 648.4h1.1v1.1h-1.1zM113.2 642.9h1.1v1.1h-1.1zM126.8 655.6h1.1v1.1h-1.1zM124.1 665.2h1.1v1.1h-1.1zM111.5 651.7h1.1v1.1h-1.1zM119.5 642.1h1.1v1.1h-1.1zM111.5 653.1h1.1v1.1h-1.1zM116.0 667.4h1.1v1.1h-1.1zM114.5 664.4h1.1v1.1h-1.1zM126.1 660.4h1.1v1.1h-1.1zM119.2 642.4h1.1v1.1h-1.1zM126.8 655.6h1.1v1.1h-1.1zM120.7 640.4h1.1v1.1h-1.1zM121.9 644.0h1.1v1.1h-1.1zM124.2 660.0h1.1v1.1h-1.1zM117.5 641.6h1.1v1.1h-1.1zM115.3 666.4h1.1v1.1h-1.1zM118.9 640.7h1.1v1.1h-1.1zM122.6 664.1h1.1v1.1h-1.1zM123.6 666.7h1.1v1.1h-1.1zM113.0 656.9h1.1v1.1h-1.1zM117.2 640.6h1.1v1.1h-1.1zM125.3 659.6h1.1v1.1h-1.1zM112.4 663.6h1.1v1.1h-1.1zM126.6 660.0h1.1v1.1h-1.1zM125.3 656.4h1.1v1.1h-1.1zM123.9 645.1h1.1v1.1h-1.1zM123.5 646.5h1.1v1.1h-1.1zM117.6 642.3h1.1v1.1h-1.1zM112.3 656.0h1.1v1.1h-1.1zM111.7 655.9h1.1v1.1h-1.1zM119.0 642.4h1.1v1.1h-1.1zM114.7 644.5h1.1v1.1h-1.1zM124.0 647.6h1.1v1.1h-1.1zM114.5 666.5h1.1v1.1h-1.1zM115.2 641.9h1.1v1.1h-1.1zM125.2 655.7h1.1v1.1h-1.1zM116.2 639.8h1.1v1.1h-1.1zM116.2 667.8h1.1v1.1h-1.1zM113.9 643.7h1.1v1.1h-1.1zM117.4 669.3h1.1v1.1h-1.1zM111.6 649.0h1.1v1.1h-1.1zM125.9 651.2h1.1v1.1h-1.1zM113.9 665.4h1.1v1.1h-1.1zM114.2 666.0h1.1v1.1h-1.1zM115.7 669.3h1.1v1.1h-1.1zM118.9 638.3h1.1v1.1h-1.1zM111.8 659.3h1.1v1.1h-1.1zM126.2 657.4h1.1v1.1h-1.1zM116.3 641.6h1.1v1.1h-1.1zM122.2 665.6h1.1v1.1h-1.1zM117.3 639.9h1.1v1.1h-1.1zM124.4 666.4h1.1v1.1h-1.1zM116.9 640.5h1.1v1.1h-1.1zM126.0 662.2h1.1v1.1h-1.1zM116.9 666.5h1.1v1.1h-1.1zM115.4 640.8h1.1v1.1h-1.1zM118.7 670.5h1.1v1.1h-1.1zM114.4 664.0h1.1v1.1h-1.1zM120.6 641.3h1.1v1.1h-1.1zM124.6 658.2h1.1v1.1h-1.1zM124.2 660.1h1.1v1.1h-1.1zM112.5 654.3h1.1v1.1h-1.1zM121.3 643.6h1.1v1.1h-1.1zM114.0 663.2h1.1v1.1h-1.1zM126.4 659.8h1.1v1.1h-1.1zM111.7 653.7h1.1v1.1h-1.1zM111.8 660.4h1.1v1.1h-1.1zM113.8 644.4h1.1v1.1h-1.1zM120.0 639.2h1.1v1.1h-1.1zM124.5 643.9h1.1v1.1h-1.1zM117.2 638.5h1.1v1.1h-1.1zM117.1 641.5h1.1v1.1h-1.1zM116.0 667.3h1.1v1.1h-1.1zM118.5 638.9h1.1v1.1h-1.1zM111.9 655.9h1.1v1.1h-1.1zM125.7 658.6h1.1v1.1h-1.1zM113.1 650.6h1.1v1.1h-1.1zM114.8 644.0h1.1v1.1h-1.1zM113.2 661.6h1.1v1.1h-1.1zM117.0 668.7h1.1v1.1h-1.1zM113.9 647.4h1.1v1.1h-1.1zM111.3 658.7h1.1v1.1h-1.1zM125.5 658.4h1.1v1.1h-1.1zM114.0 667.0h1.1v1.1h-1.1zM116.4 668.8h1.1v1.1h-1.1zM112.1 655.2h1.1v1.1h-1.1zM119.1 638.3h1.1v1.1h-1.1zM112.2 663.0h1.1v1.1h-1.1zM124.9 653.9h1.1v1.1h-1.1zM121.0 669.2h1.1v1.1h-1.1zM120.2 668.8h1.1v1.1h-1.1zM125.1 655.4h1.1v1.1h-1.1zM125.9 653.8h1.1v1.1h-1.1zM125.8 652.9h1.1v1.1h-1.1zM124.7 650.8h1.1v1.1h-1.1zM125.3 661.5h1.1v1.1h-1.1zM115.3 644.9h1.1v1.1h-1.1zM113.9 642.7h1.1v1.1h-1.1zM114.2 666.4h1.1v1.1h-1.1zM113.9 647.3h1.1v1.1h-1.1zM119.8 669.4h1.1v1.1h-1.1zM117.2 639.9h1.1v1.1h-1.1zM121.4 670.0h1.1v1.1h-1.1zM112.4 652.4h1.1v1.1h-1.1zM112.8 646.0h1.1v1.1h-1.1zM115.9 668.5h1.1v1.1h-1.1zM114.3 663.2h1.1v1.1h-1.1zM122.7 666.5h1.1v1.1h-1.1zM125.2 651.1h1.1v1.1h-1.1zM126.5 656.2h1.1v1.1h-1.1zM125.1 643.7h1.1v1.1h-1.1zM122.3 667.4h1.1v1.1h-1.1zM112.9 654.4h1.1v1.1h-1.1zM113.7 644.9h1.1v1.1h-1.1zM113.3 649.2h1.1v1.1h-1.1zM122.8 641.6h1.1v1.1h-1.1zM121.2 665.7h1.1v1.1h-1.1zM125.7 658.6h1.1v1.1h-1.1zM116.7 670.4h1.1v1.1h-1.1zM120.6 642.8h1.1v1.1h-1.1zM125.7 653.2h1.1v1.1h-1.1zM112.8 646.7h1.1v1.1h-1.1zM126.8 650.6h1.1v1.1h-1.1zM125.0 661.6h1.1v1.1h-1.1zM111.7 655.1h1.1v1.1h-1.1zM122.8 667.5h1.1v1.1h-1.1zM118.7 639.9h1.1v1.1h-1.1zM114.1 645.8h1.1v1.1h-1.1zM126.1 649.9h1.1v1.1h-1.1zM116.2 669.4h1.1v1.1h-1.1zM123.3 662.5h1.1v1.1h-1.1zM111.8 649.9h1.1v1.1h-1.1zM119.4 666.9h1.1v1.1h-1.1zM125.5 645.4h1.1v1.1h-1.1zM125.4 648.6h1.1v1.1h-1.1zM115.1 644.0h1.1v1.1h-1.1zM114.8 641.1h1.1v1.1h-1.1zM114.7 642.2h1.1v1.1h-1.1zM113.9 646.1h1.1v1.1h-1.1zM118.8 669.2h1.1v1.1h-1.1zM126.2 660.7h1.1v1.1h-1.1zM120.5 667.6h1.1v1.1h-1.1zM126.1 649.9h1.1v1.1h-1.1zM124.7 661.5h1.1v1.1h-1.1zM112.6 658.7h1.1v1.1h-1.1zM123.0 642.0h1.1v1.1h-1.1zM123.0 666.4h1.1v1.1h-1.1zM126.4 652.5h1.1v1.1h-1.1zM116.2 642.6h1.1v1.1h-1.1zM126.7 653.4h1.1v1.1h-1.1zM116.6 642.3h1.1v1.1h-1.1zM112.8 654.5h1.1v1.1h-1.1zM112.6 644.0h1.1v1.1h-1.1zM118.3 667.5h1.1v1.1h-1.1zM123.9 663.8h1.1v1.1h-1.1zM114.8 663.5h1.1v1.1h-1.1zM116.3 669.4h1.1v1.1h-1.1zM121.6 639.4h1.1v1.1h-1.1zM120.9 666.2h1.1v1.1h-1.1zM113.0 656.4h1.1v1.1h-1.1zM114.4 645.2h1.1v1.1h-1.1z"/><path fill="#3a58e6" d="M142.0 653.8h1.1v1.1h-1.1zM129.4 620.9h1.1v1.1h-1.1zM134.9 652.5h1.1v1.1h-1.1zM130.7 634.3h1.1v1.1h-1.1zM140.5 657.3h1.1v1.1h-1.1zM133.0 668.4h1.1v1.1h-1.1zM120.5 624.4h1.1v1.1h-1.1zM135.4 651.8h1.1v1.1h-1.1zM136.5 639.0h1.1v1.1h-1.1zM135.6 623.0h1.1v1.1h-1.1zM113.4 623.4h1.1v1.1h-1.1zM132.6 667.9h1.1v1.1h-1.1zM111.4 626.9h1.1v1.1h-1.1zM138.1 637.4h1.1v1.1h-1.1zM131.6 674.8h1.1v1.1h-1.1zM131.3 676.7h1.1v1.1h-1.1zM111.5 625.9h1.1v1.1h-1.1zM134.4 665.5h1.1v1.1h-1.1zM131.7 675.7h1.1v1.1h-1.1zM123.9 618.3h1.1v1.1h-1.1zM125.3 617.8h1.1v1.1h-1.1zM132.6 675.9h1.1v1.1h-1.1zM134.3 631.6h1.1v1.1h-1.1zM116.4 620.6h1.1v1.1h-1.1zM130.3 631.1h1.1v1.1h-1.1zM126.2 627.0h1.1v1.1h-1.1zM132.8 641.8h1.1v1.1h-1.1zM111.1 628.4h1.1v1.1h-1.1zM131.2 627.1h1.1v1.1h-1.1zM137.9 643.2h1.1v1.1h-1.1zM131.2 674.8h1.1v1.1h-1.1zM136.9 649.4h1.1v1.1h-1.1zM132.6 669.4h1.1v1.1h-1.1zM122.3 621.4h1.1v1.1h-1.1zM130.8 673.0h1.1v1.1h-1.1zM135.4 649.0h1.1v1.1h-1.1zM138.2 642.0h1.1v1.1h-1.1zM120.1 618.4h1.1v1.1h-1.1zM129.0 628.2h1.1v1.1h-1.1zM134.1 656.5h1.1v1.1h-1.1zM130.0 676.1h1.1v1.1h-1.1zM136.4 625.5h1.1v1.1h-1.1zM121.1 622.0h1.1v1.1h-1.1zM136.3 664.8h1.1v1.1h-1.1zM125.0 621.3h1.1v1.1h-1.1zM133.8 669.2h1.1v1.1h-1.1zM125.3 623.0h1.1v1.1h-1.1z"/><path fill="#9c9ee8" d="M133.1 636.9h1.1v1.1h-1.1zM136.9 664.1h1.1v1.1h-1.1zM128.2 640.0h1.1v1.1h-1.1zM140.6 638.2h1.1v1.1h-1.1zM139.5 638.6h1.1v1.1h-1.1zM142.3 639.5h1.1v1.1h-1.1zM140.6 660.3h1.1v1.1h-1.1zM138.6 664.5h1.1v1.1h-1.1zM129.3 638.4h1.1v1.1h-1.1zM134.6 664.7h1.1v1.1h-1.1zM133.4 632.9h1.1v1.1h-1.1zM129.6 639.5h1.1v1.1h-1.1zM142.3 641.9h1.1v1.1h-1.1zM129.2 657.9h1.1v1.1h-1.1zM127.5 656.9h1.1v1.1h-1.1zM138.4 663.3h1.1v1.1h-1.1zM138.3 636.1h1.1v1.1h-1.1zM127.7 658.2h1.1v1.1h-1.1zM138.1 635.7h1.1v1.1h-1.1zM129.4 663.0h1.1v1.1h-1.1zM139.9 661.1h1.1v1.1h-1.1zM137.1 663.6h1.1v1.1h-1.1zM142.0 646.9h1.1v1.1h-1.1zM127.3 643.1h1.1v1.1h-1.1zM140.4 659.8h1.1v1.1h-1.1zM127.5 658.5h1.1v1.1h-1.1zM131.0 634.7h1.1v1.1h-1.1zM142.9 653.9h1.1v1.1h-1.1zM130.5 664.8h1.1v1.1h-1.1zM126.0 654.3h1.1v1.1h-1.1zM144.1 651.7h1.1v1.1h-1.1zM128.9 656.9h1.1v1.1h-1.1zM142.8 648.6h1.1v1.1h-1.1zM143.3 644.3h1.1v1.1h-1.1zM127.6 641.9h1.1v1.1h-1.1zM126.5 649.1h1.1v1.1h-1.1zM126.1 645.7h1.1v1.1h-1.1zM132.6 633.7h1.1v1.1h-1.1zM128.1 641.7h1.1v1.1h-1.1zM138.0 663.3h1.1v1.1h-1.1zM135.9 666.6h1.1v1.1h-1.1zM140.9 643.5h1.1v1.1h-1.1zM129.4 663.1h1.1v1.1h-1.1zM142.6 640.4h1.1v1.1h-1.1zM134.3 636.8h1.1v1.1h-1.1zM141.1 661.0h1.1v1.1h-1.1zM143.6 648.5h1.1v1.1h-1.1zM129.2 640.3h1.1v1.1h-1.1zM132.8 636.7h1.1v1.1h-1.1zM127.6 642.1h1.1v1.1h-1.1zM135.2 664.5h1.1v1.1h-1.1zM140.7 639.4h1.1v1.1h-1.1zM139.3 659.2h1.1v1.1h-1.1zM127.5 643.0h1.1v1.1h-1.1zM133.1 663.6h1.1v1.1h-1.1zM128.0 645.6h1.1v1.1h-1.1zM134.7 664.7h1.1v1.1h-1.1zM142.4 642.9h1.1v1.1h-1.1zM142.4 656.6h1.1v1.1h-1.1zM142.7 646.6h1.1v1.1h-1.1zM127.9 638.0h1.1v1.1h-1.1zM129.6 636.0h1.1v1.1h-1.1zM134.5 636.6h1.1v1.1h-1.1zM142.4 656.7h1.1v1.1h-1.1zM134.3 635.8h1.1v1.1h-1.1zM141.4 660.0h1.1v1.1h-1.1zM139.0 636.6h1.1v1.1h-1.1zM138.3 661.9h1.1v1.1h-1.1zM142.2 645.9h1.1v1.1h-1.1zM141.8 657.8h1.1v1.1h-1.1zM141.9 650.5h1.1v1.1h-1.1zM137.0 663.4h1.1v1.1h-1.1zM127.7 654.7h1.1v1.1h-1.1zM142.0 638.6h1.1v1.1h-1.1zM128.4 659.5h1.1v1.1h-1.1zM135.4 634.0h1.1v1.1h-1.1zM142.2 642.5h1.1v1.1h-1.1zM132.9 663.7h1.1v1.1h-1.1zM132.6 633.0h1.1v1.1h-1.1zM139.5 663.8h1.1v1.1h-1.1zM140.5 638.3h1.1v1.1h-1.1zM129.1 662.7h1.1v1.1h-1.1zM126.2 643.0h1.1v1.1h-1.1zM126.8 643.3h1.1v1.1h-1.1zM138.8 661.6h1.1v1.1h-1.1zM131.9 662.9h1.1v1.1h-1.1zM129.6 661.2h1.1v1.1h-1.1zM126.8 655.7h1.1v1.1h-1.1zM139.3 639.7h1.1v1.1h-1.1zM138.2 660.9h1.1v1.1h-1.1zM143.5 656.0h1.1v1.1h-1.1zM138.8 662.3h1.1v1.1h-1.1zM138.3 661.8h1.1v1.1h-1.1zM138.8 636.2h1.1v1.1h-1.1z"/><path fill="#2a90d8" d="M118.3 659.7h1.1v1.1h-1.1zM120.9 657.4h1.1v1.1h-1.1zM118.4 649.3h1.1v1.1h-1.1zM116.6 656.2h1.1v1.1h-1.1zM121.7 654.5h1.1v1.1h-1.1zM120.4 649.5h1.1v1.1h-1.1zM118.9 656.6h1.1v1.1h-1.1zM120.5 656.1h1.1v1.1h-1.1zM120.3 657.9h1.1v1.1h-1.1zM118.0 649.7h1.1v1.1h-1.1zM117.7 654.3h1.1v1.1h-1.1zM117.0 651.4h1.1v1.1h-1.1zM118.9 653.8h1.1v1.1h-1.1zM120.3 649.0h1.1v1.1h-1.1zM117.8 655.8h1.1v1.1h-1.1zM117.8 659.0h1.1v1.1h-1.1zM117.1 652.3h1.1v1.1h-1.1zM117.0 649.8h1.1v1.1h-1.1zM120.9 653.7h1.1v1.1h-1.1zM116.4 657.1h1.1v1.1h-1.1zM116.7 658.4h1.1v1.1h-1.1zM117.2 658.3h1.1v1.1h-1.1zM121.3 656.1h1.1v1.1h-1.1zM120.9 658.2h1.1v1.1h-1.1zM120.2 652.9h1.1v1.1h-1.1zM119.4 660.8h1.1v1.1h-1.1zM120.0 651.4h1.1v1.1h-1.1zM118.9 657.3h1.1v1.1h-1.1zM119.4 652.4h1.1v1.1h-1.1zM117.0 658.0h1.1v1.1h-1.1zM119.4 656.7h1.1v1.1h-1.1zM120.2 653.0h1.1v1.1h-1.1zM118.6 652.0h1.1v1.1h-1.1zM119.1 649.0h1.1v1.1h-1.1zM117.4 653.8h1.1v1.1h-1.1zM118.8 657.0h1.1v1.1h-1.1zM119.4 657.8h1.1v1.1h-1.1zM120.8 656.7h1.1v1.1h-1.1zM118.4 656.1h1.1v1.1h-1.1zM119.2 654.5h1.1v1.1h-1.1zM118.9 649.4h1.1v1.1h-1.1zM118.7 651.1h1.1v1.1h-1.1zM120.9 658.3h1.1v1.1h-1.1zM121.7 655.7h1.1v1.1h-1.1zM120.2 656.8h1.1v1.1h-1.1zM117.2 650.5h1.1v1.1h-1.1zM117.7 648.6h1.1v1.1h-1.1zM120.3 649.1h1.1v1.1h-1.1zM117.3 655.6h1.1v1.1h-1.1zM119.0 655.2h1.1v1.1h-1.1zM117.2 654.7h1.1v1.1h-1.1zM117.0 651.1h1.1v1.1h-1.1zM116.6 652.3h1.1v1.1h-1.1zM116.7 656.2h1.1v1.1h-1.1zM116.5 655.8h1.1v1.1h-1.1zM120.6 654.8h1.1v1.1h-1.1zM119.6 648.8h1.1v1.1h-1.1zM120.0 655.9h1.1v1.1h-1.1zM119.0 652.9h1.1v1.1h-1.1zM115.8 654.3h1.1v1.1h-1.1zM118.8 659.4h1.1v1.1h-1.1zM118.3 653.3h1.1v1.1h-1.1zM120.1 656.6h1.1v1.1h-1.1zM121.4 654.6h1.1v1.1h-1.1zM118.9 651.3h1.1v1.1h-1.1zM119.9 658.0h1.1v1.1h-1.1zM119.2 656.8h1.1v1.1h-1.1zM120.5 655.6h1.1v1.1h-1.1zM117.9 658.6h1.1v1.1h-1.1zM117.7 649.4h1.1v1.1h-1.1zM120.7 659.0h1.1v1.1h-1.1zM117.7 655.1h1.1v1.1h-1.1zM121.0 656.9h1.1v1.1h-1.1zM118.0 659.4h1.1v1.1h-1.1zM121.2 652.7h1.1v1.1h-1.1zM120.2 659.3h1.1v1.1h-1.1zM116.2 656.8h1.1v1.1h-1.1zM115.9 653.3h1.1v1.1h-1.1zM118.2 655.2h1.1v1.1h-1.1zM119.0 660.3h1.1v1.1h-1.1zM120.9 651.9h1.1v1.1h-1.1zM117.9 648.9h1.1v1.1h-1.1zM119.5 660.0h1.1v1.1h-1.1zM117.5 653.1h1.1v1.1h-1.1zM119.5 651.7h1.1v1.1h-1.1zM119.2 650.6h1.1v1.1h-1.1zM118.1 654.3h1.1v1.1h-1.1zM117.0 651.3h1.1v1.1h-1.1zM116.6 657.2h1.1v1.1h-1.1zM120.9 657.9h1.1v1.1h-1.1zM120.0 654.3h1.1v1.1h-1.1zM121.1 656.3h1.1v1.1h-1.1zM119.9 650.8h1.1v1.1h-1.1zM118.3 652.7h1.1v1.1h-1.1zM116.8 657.0h1.1v1.1h-1.1zM117.1 650.7h1.1v1.1h-1.1zM118.1 650.1h1.1v1.1h-1.1zM117.2 653.3h1.1v1.1h-1.1zM119.9 654.9h1.1v1.1h-1.1z"/><path fill="#b9b4ec" d="M122.3 666.5h1.1v1.1h-1.1zM130.8 624.0h1.1v1.1h-1.1zM149.0 633.6h1.1v1.1h-1.1zM147.0 655.6h1.1v1.1h-1.1zM148.1 660.0h1.1v1.1h-1.1zM144.5 668.4h1.1v1.1h-1.1zM138.9 627.3h1.1v1.1h-1.1zM134.4 623.5h1.1v1.1h-1.1zM120.8 667.4h1.1v1.1h-1.1zM130.3 625.4h1.1v1.1h-1.1zM124.3 662.9h1.1v1.1h-1.1zM121.7 669.9h1.1v1.1h-1.1zM121.6 659.8h1.1v1.1h-1.1zM122.2 664.4h1.1v1.1h-1.1zM143.3 626.6h1.1v1.1h-1.1zM147.5 664.7h1.1v1.1h-1.1zM123.1 640.2h1.1v1.1h-1.1zM137.2 674.0h1.1v1.1h-1.1zM143.5 632.2h1.1v1.1h-1.1zM120.8 632.6h1.1v1.1h-1.1zM128.6 672.4h1.1v1.1h-1.1zM134.1 673.6h1.1v1.1h-1.1zM124.1 629.8h1.1v1.1h-1.1zM138.3 625.9h1.1v1.1h-1.1zM143.3 629.2h1.1v1.1h-1.1zM124.9 665.5h1.1v1.1h-1.1zM133.2 623.7h1.1v1.1h-1.1zM150.9 638.6h1.1v1.1h-1.1zM147.3 667.3h1.1v1.1h-1.1zM120.7 662.9h1.1v1.1h-1.1zM122.5 658.6h1.1v1.1h-1.1zM145.3 664.7h1.1v1.1h-1.1zM144.9 624.8h1.1v1.1h-1.1zM129.2 624.9h1.1v1.1h-1.1zM140.2 624.4h1.1v1.1h-1.1zM149.9 660.4h1.1v1.1h-1.1zM138.5 619.7h1.1v1.1h-1.1zM127.4 630.7h1.1v1.1h-1.1zM131.2 672.6h1.1v1.1h-1.1zM137.9 672.2h1.1v1.1h-1.1zM122.4 659.5h1.1v1.1h-1.1zM132.7 624.6h1.1v1.1h-1.1zM150.2 649.3h1.1v1.1h-1.1zM131.7 674.7h1.1v1.1h-1.1zM122.2 630.2h1.1v1.1h-1.1zM147.9 642.7h1.1v1.1h-1.1zM127.3 674.8h1.1v1.1h-1.1zM120.7 649.0h1.1v1.1h-1.1zM145.0 634.6h1.1v1.1h-1.1zM147.6 657.6h1.1v1.1h-1.1zM144.9 631.6h1.1v1.1h-1.1zM121.8 653.8h1.1v1.1h-1.1zM143.5 626.8h1.1v1.1h-1.1zM132.5 622.9h1.1v1.1h-1.1zM121.6 632.6h1.1v1.1h-1.1zM126.9 670.4h1.1v1.1h-1.1zM128.8 624.7h1.1v1.1h-1.1zM133.9 620.2h1.1v1.1h-1.1zM127.6 621.0h1.1v1.1h-1.1zM122.8 659.1h1.1v1.1h-1.1zM140.5 670.7h1.1v1.1h-1.1zM149.8 647.0h1.1v1.1h-1.1zM139.6 627.0h1.1v1.1h-1.1zM124.0 628.3h1.1v1.1h-1.1zM126.0 673.2h1.1v1.1h-1.1zM130.7 621.9h1.1v1.1h-1.1zM138.5 673.6h1.1v1.1h-1.1zM126.0 626.7h1.1v1.1h-1.1zM135.3 621.0h1.1v1.1h-1.1zM126.8 669.5h1.1v1.1h-1.1zM127.0 669.2h1.1v1.1h-1.1zM121.5 660.5h1.1v1.1h-1.1zM147.3 643.0h1.1v1.1h-1.1zM151.0 654.0h1.1v1.1h-1.1zM130.8 674.1h1.1v1.1h-1.1zM137.3 626.2h1.1v1.1h-1.1zM147.8 645.8h1.1v1.1h-1.1zM127.7 669.7h1.1v1.1h-1.1zM131.4 672.9h1.1v1.1h-1.1zM129.5 671.7h1.1v1.1h-1.1zM137.7 626.8h1.1v1.1h-1.1zM140.7 676.7h1.1v1.1h-1.1zM151.3 656.3h1.1v1.1h-1.1zM126.4 669.5h1.1v1.1h-1.1zM132.6 626.4h1.1v1.1h-1.1zM144.3 623.2h1.1v1.1h-1.1zM124.8 674.2h1.1v1.1h-1.1zM124.9 670.6h1.1v1.1h-1.1zM124.4 634.4h1.1v1.1h-1.1zM120.9 657.7h1.1v1.1h-1.1zM123.9 662.9h1.1v1.1h-1.1zM150.8 652.0h1.1v1.1h-1.1zM150.0 640.8h1.1v1.1h-1.1zM122.1 648.4h1.1v1.1h-1.1zM140.1 670.8h1.1v1.1h-1.1zM147.7 647.8h1.1v1.1h-1.1zM133.4 676.0h1.1v1.1h-1.1zM133.1 675.1h1.1v1.1h-1.1zM137.6 676.0h1.1v1.1h-1.1zM137.3 672.6h1.1v1.1h-1.1zM122.1 652.7h1.1v1.1h-1.1zM146.7 626.7h1.1v1.1h-1.1zM140.9 675.8h1.1v1.1h-1.1zM149.4 646.0h1.1v1.1h-1.1zM131.6 618.6h1.1v1.1h-1.1zM125.8 627.5h1.1v1.1h-1.1zM147.2 638.3h1.1v1.1h-1.1zM122.9 655.6h1.1v1.1h-1.1zM126.9 631.0h1.1v1.1h-1.1zM143.9 675.0h1.1v1.1h-1.1zM137.2 673.9h1.1v1.1h-1.1z"/><path fill="#7a84e6" d="M125.8 634.5h1.1v1.1h-1.1zM143.3 630.6h1.1v1.1h-1.1zM140.5 629.6h1.1v1.1h-1.1zM141.4 631.4h1.1v1.1h-1.1zM120.8 634.6h1.1v1.1h-1.1zM140.8 625.4h1.1v1.1h-1.1zM112.7 635.0h1.1v1.1h-1.1zM136.3 624.2h1.1v1.1h-1.1zM127.6 622.2h1.1v1.1h-1.1zM140.4 626.1h1.1v1.1h-1.1zM144.4 627.6h1.1v1.1h-1.1zM112.6 623.8h1.1v1.1h-1.1zM136.2 633.2h1.1v1.1h-1.1zM140.4 628.2h1.1v1.1h-1.1zM140.3 625.3h1.1v1.1h-1.1zM114.5 634.9h1.1v1.1h-1.1zM140.4 626.6h1.1v1.1h-1.1zM135.4 623.5h1.1v1.1h-1.1zM140.8 629.9h1.1v1.1h-1.1zM137.1 632.6h1.1v1.1h-1.1zM117.3 622.7h1.1v1.1h-1.1zM134.8 624.5h1.1v1.1h-1.1z"/><path fill="#6a79e5" d="M110.2 625.7h1.1v1.1h-1.1zM132.9 632.2h1.1v1.1h-1.1zM111.6 625.4h1.1v1.1h-1.1zM136.2 627.5h1.1v1.1h-1.1zM119.1 633.1h1.1v1.1h-1.1zM136.2 628.9h1.1v1.1h-1.1zM132.2 631.4h1.1v1.1h-1.1zM117.6 633.1h1.1v1.1h-1.1zM113.4 632.7h1.1v1.1h-1.1zM110.7 633.3h1.1v1.1h-1.1zM130.4 633.0h1.1v1.1h-1.1zM137.8 628.5h1.1v1.1h-1.1zM114.7 632.8h1.1v1.1h-1.1zM133.6 632.3h1.1v1.1h-1.1zM113.9 624.3h1.1v1.1h-1.1zM137.5 630.0h1.1v1.1h-1.1zM129.4 632.9h1.1v1.1h-1.1zM124.9 624.9h1.1v1.1h-1.1zM136.6 630.0h1.1v1.1h-1.1zM139.0 629.9h1.1v1.1h-1.1zM129.1 633.3h1.1v1.1h-1.1zM137.9 628.6h1.1v1.1h-1.1zM136.2 629.4h1.1v1.1h-1.1zM133.6 631.7h1.1v1.1h-1.1zM133.5 625.9h1.1v1.1h-1.1zM134.2 630.3h1.1v1.1h-1.1zM122.6 633.5h1.1v1.1h-1.1zM138.8 627.7h1.1v1.1h-1.1zM121.6 633.1h1.1v1.1h-1.1zM119.2 624.7h1.1v1.1h-1.1zM111.2 632.2h1.1v1.1h-1.1zM129.9 624.7h1.1v1.1h-1.1zM134.5 631.4h1.1v1.1h-1.1zM114.7 624.1h1.1v1.1h-1.1zM137.2 628.1h1.1v1.1h-1.1zM121.8 633.2h1.1v1.1h-1.1zM110.1 632.8h1.1v1.1h-1.1zM137.0 631.2h1.1v1.1h-1.1zM129.3 624.6h1.1v1.1h-1.1zM124.8 633.4h1.1v1.1h-1.1zM128.8 625.2h1.1v1.1h-1.1zM116.9 633.8h1.1v1.1h-1.1zM126.6 625.0h1.1v1.1h-1.1z"/><path fill="#a9a9e9" d="M138.1 624.5h1.1v1.1h-1.1zM139.0 629.5h1.1v1.1h-1.1zM137.3 628.9h1.1v1.1h-1.1zM135.1 624.6h1.1v1.1h-1.1zM142.4 626.5h1.1v1.1h-1.1zM140.9 624.3h1.1v1.1h-1.1zM140.2 628.6h1.1v1.1h-1.1zM139.5 624.4h1.1v1.1h-1.1zM135.7 625.1h1.1v1.1h-1.1zM134.1 626.1h1.1v1.1h-1.1zM138.6 629.3h1.1v1.1h-1.1zM138.2 629.7h1.1v1.1h-1.1zM139.2 623.3h1.1v1.1h-1.1zM141.3 625.6h1.1v1.1h-1.1zM134.3 626.8h1.1v1.1h-1.1zM134.0 624.6h1.1v1.1h-1.1zM133.9 627.1h1.1v1.1h-1.1zM141.4 627.0h1.1v1.1h-1.1zM139.7 623.8h1.1v1.1h-1.1zM133.2 627.8h1.1v1.1h-1.1zM137.3 629.4h1.1v1.1h-1.1zM140.7 628.3h1.1v1.1h-1.1z"/><path fill="#2d84da" d="M116.7 649.0h1.1v1.1h-1.1zM120.2 665.3h1.1v1.1h-1.1zM117.4 644.1h1.1v1.1h-1.1zM114.6 647.0h1.1v1.1h-1.1zM116.8 646.0h1.1v1.1h-1.1zM118.1 664.1h1.1v1.1h-1.1zM113.6 653.8h1.1v1.1h-1.1zM121.8 649.6h1.1v1.1h-1.1zM118.1 643.8h1.1v1.1h-1.1zM114.7 656.0h1.1v1.1h-1.1zM122.8 656.7h1.1v1.1h-1.1zM116.6 649.9h1.1v1.1h-1.1zM114.1 655.8h1.1v1.1h-1.1zM116.6 643.7h1.1v1.1h-1.1zM115.4 660.5h1.1v1.1h-1.1zM115.9 660.5h1.1v1.1h-1.1zM113.7 659.8h1.1v1.1h-1.1zM121.2 664.9h1.1v1.1h-1.1zM114.0 655.6h1.1v1.1h-1.1zM120.9 660.5h1.1v1.1h-1.1zM117.0 649.1h1.1v1.1h-1.1zM121.3 646.5h1.1v1.1h-1.1zM122.6 653.3h1.1v1.1h-1.1zM115.1 656.1h1.1v1.1h-1.1zM115.0 650.8h1.1v1.1h-1.1zM114.8 660.8h1.1v1.1h-1.1zM120.5 665.8h1.1v1.1h-1.1zM115.8 647.8h1.1v1.1h-1.1zM123.3 659.2h1.1v1.1h-1.1zM117.8 645.5h1.1v1.1h-1.1zM123.8 660.5h1.1v1.1h-1.1zM114.0 655.2h1.1v1.1h-1.1zM118.8 662.8h1.1v1.1h-1.1zM116.3 661.8h1.1v1.1h-1.1zM123.3 655.5h1.1v1.1h-1.1zM117.7 643.7h1.1v1.1h-1.1zM122.8 656.5h1.1v1.1h-1.1zM115.3 652.4h1.1v1.1h-1.1zM122.2 647.0h1.1v1.1h-1.1zM116.2 662.6h1.1v1.1h-1.1zM113.2 654.7h1.1v1.1h-1.1zM116.3 645.6h1.1v1.1h-1.1zM116.7 645.2h1.1v1.1h-1.1zM113.9 652.3h1.1v1.1h-1.1zM116.9 662.3h1.1v1.1h-1.1zM121.9 644.8h1.1v1.1h-1.1zM115.4 655.0h1.1v1.1h-1.1zM114.9 646.6h1.1v1.1h-1.1zM115.9 646.9h1.1v1.1h-1.1zM113.8 655.1h1.1v1.1h-1.1zM116.8 659.3h1.1v1.1h-1.1zM115.0 646.3h1.1v1.1h-1.1zM122.9 646.2h1.1v1.1h-1.1zM123.1 648.0h1.1v1.1h-1.1zM119.8 644.1h1.1v1.1h-1.1zM123.5 657.8h1.1v1.1h-1.1zM114.9 649.7h1.1v1.1h-1.1zM117.2 644.8h1.1v1.1h-1.1zM119.0 648.0h1.1v1.1h-1.1zM117.7 665.5h1.1v1.1h-1.1zM120.1 644.6h1.1v1.1h-1.1zM122.1 648.6h1.1v1.1h-1.1zM122.4 651.2h1.1v1.1h-1.1zM123.0 662.2h1.1v1.1h-1.1zM114.5 656.5h1.1v1.1h-1.1zM123.8 655.7h1.1v1.1h-1.1zM124.2 657.3h1.1v1.1h-1.1zM117.9 662.8h1.1v1.1h-1.1zM124.3 650.8h1.1v1.1h-1.1zM114.6 660.2h1.1v1.1h-1.1zM122.4 652.7h1.1v1.1h-1.1zM115.9 657.2h1.1v1.1h-1.1zM122.4 653.8h1.1v1.1h-1.1zM123.0 647.5h1.1v1.1h-1.1zM116.0 646.3h1.1v1.1h-1.1zM119.5 643.7h1.1v1.1h-1.1zM116.7 647.9h1.1v1.1h-1.1zM120.4 660.8h1.1v1.1h-1.1zM115.5 662.7h1.1v1.1h-1.1zM114.3 648.4h1.1v1.1h-1.1zM116.6 664.3h1.1v1.1h-1.1zM119.4 666.0h1.1v1.1h-1.1zM122.5 660.6h1.1v1.1h-1.1zM115.5 651.6h1.1v1.1h-1.1zM124.3 653.6h1.1v1.1h-1.1zM117.3 646.0h1.1v1.1h-1.1zM123.0 656.0h1.1v1.1h-1.1zM122.6 648.2h1.1v1.1h-1.1zM116.0 650.0h1.1v1.1h-1.1zM117.6 660.4h1.1v1.1h-1.1zM121.8 659.7h1.1v1.1h-1.1zM119.2 644.5h1.1v1.1h-1.1zM122.9 656.9h1.1v1.1h-1.1zM113.7 650.0h1.1v1.1h-1.1zM113.7 657.0h1.1v1.1h-1.1zM121.5 663.2h1.1v1.1h-1.1zM115.8 662.8h1.1v1.1h-1.1zM124.5 658.3h1.1v1.1h-1.1zM117.3 648.5h1.1v1.1h-1.1zM123.3 647.9h1.1v1.1h-1.1zM116.0 658.9h1.1v1.1h-1.1zM123.5 653.2h1.1v1.1h-1.1zM123.5 647.4h1.1v1.1h-1.1zM113.5 652.8h1.1v1.1h-1.1zM119.6 662.3h1.1v1.1h-1.1zM120.8 644.3h1.1v1.1h-1.1zM124.7 653.5h1.1v1.1h-1.1zM123.2 650.5h1.1v1.1h-1.1zM114.4 647.3h1.1v1.1h-1.1zM119.1 643.3h1.1v1.1h-1.1zM124.4 650.7h1.1v1.1h-1.1zM118.1 663.8h1.1v1.1h-1.1zM114.4 647.9h1.1v1.1h-1.1zM114.5 654.0h1.1v1.1h-1.1zM115.2 657.1h1.1v1.1h-1.1zM119.5 648.1h1.1v1.1h-1.1zM114.4 654.1h1.1v1.1h-1.1zM116.0 658.8h1.1v1.1h-1.1zM115.0 653.9h1.1v1.1h-1.1zM123.0 658.2h1.1v1.1h-1.1zM118.4 646.4h1.1v1.1h-1.1zM116.3 645.6h1.1v1.1h-1.1zM117.4 662.9h1.1v1.1h-1.1zM113.0 655.2h1.1v1.1h-1.1zM120.4 648.6h1.1v1.1h-1.1zM115.0 652.5h1.1v1.1h-1.1zM116.2 646.6h1.1v1.1h-1.1zM121.7 664.0h1.1v1.1h-1.1zM119.6 662.5h1.1v1.1h-1.1zM116.6 660.7h1.1v1.1h-1.1zM121.6 664.8h1.1v1.1h-1.1zM114.8 648.2h1.1v1.1h-1.1zM122.4 659.6h1.1v1.1h-1.1zM120.0 663.4h1.1v1.1h-1.1zM116.5 662.4h1.1v1.1h-1.1zM117.1 662.4h1.1v1.1h-1.1zM124.0 658.6h1.1v1.1h-1.1zM115.7 651.1h1.1v1.1h-1.1zM113.6 659.4h1.1v1.1h-1.1zM116.6 650.0h1.1v1.1h-1.1zM118.0 666.0h1.1v1.1h-1.1zM114.6 659.9h1.1v1.1h-1.1zM114.8 652.8h1.1v1.1h-1.1zM114.2 649.0h1.1v1.1h-1.1zM116.8 660.7h1.1v1.1h-1.1zM121.9 651.9h1.1v1.1h-1.1zM114.8 659.5h1.1v1.1h-1.1zM124.3 653.3h1.1v1.1h-1.1zM117.0 664.5h1.1v1.1h-1.1zM113.7 658.2h1.1v1.1h-1.1zM121.8 651.4h1.1v1.1h-1.1zM118.5 647.4h1.1v1.1h-1.1zM119.7 662.4h1.1v1.1h-1.1zM120.6 662.6h1.1v1.1h-1.1zM116.6 665.2h1.1v1.1h-1.1zM124.2 653.8h1.1v1.1h-1.1zM117.8 662.2h1.1v1.1h-1.1zM122.9 650.2h1.1v1.1h-1.1zM116.7 647.0h1.1v1.1h-1.1zM120.1 663.8h1.1v1.1h-1.1zM121.7 663.8h1.1v1.1h-1.1zM117.6 648.4h1.1v1.1h-1.1zM117.6 662.4h1.1v1.1h-1.1zM119.9 663.1h1.1v1.1h-1.1zM123.0 655.5h1.1v1.1h-1.1zM115.7 663.5h1.1v1.1h-1.1zM117.5 646.6h1.1v1.1h-1.1zM122.9 646.9h1.1v1.1h-1.1zM115.7 660.5h1.1v1.1h-1.1zM122.8 660.1h1.1v1.1h-1.1zM120.9 648.1h1.1v1.1h-1.1zM119.2 663.5h1.1v1.1h-1.1zM113.7 651.5h1.1v1.1h-1.1zM116.0 657.8h1.1v1.1h-1.1zM120.7 644.2h1.1v1.1h-1.1zM123.9 657.4h1.1v1.1h-1.1zM121.7 660.4h1.1v1.1h-1.1zM114.8 659.4h1.1v1.1h-1.1zM122.4 663.8h1.1v1.1h-1.1zM117.8 662.7h1.1v1.1h-1.1zM115.0 662.0h1.1v1.1h-1.1zM123.8 656.1h1.1v1.1h-1.1z"/><path fill="#b3b3eb" d="M139.6 623.3h1.1v1.1h-1.1zM134.6 622.4h1.1v1.1h-1.1zM142.7 627.7h1.1v1.1h-1.1zM141.8 629.0h1.1v1.1h-1.1zM139.1 630.5h1.1v1.1h-1.1zM136.7 630.7h1.1v1.1h-1.1zM134.2 629.1h1.1v1.1h-1.1zM135.5 630.5h1.1v1.1h-1.1zM131.7 627.9h1.1v1.1h-1.1zM142.6 628.2h1.1v1.1h-1.1zM132.0 628.5h1.1v1.1h-1.1zM141.1 630.1h1.1v1.1h-1.1zM131.4 627.6h1.1v1.1h-1.1zM132.0 628.7h1.1v1.1h-1.1z"/><path fill="#8e93e6" d="M132.6 644.1h1.1v1.1h-1.1zM131.7 660.6h1.1v1.1h-1.1zM129.4 642.4h1.1v1.1h-1.1zM137.6 660.3h1.1v1.1h-1.1zM134.2 641.7h1.1v1.1h-1.1zM130.5 655.0h1.1v1.1h-1.1zM139.8 654.3h1.1v1.1h-1.1zM132.7 638.0h1.1v1.1h-1.1zM139.7 642.5h1.1v1.1h-1.1zM130.3 645.9h1.1v1.1h-1.1zM139.7 641.2h1.1v1.1h-1.1zM139.1 643.5h1.1v1.1h-1.1zM138.5 651.7h1.1v1.1h-1.1zM130.0 643.7h1.1v1.1h-1.1zM135.1 661.6h1.1v1.1h-1.1zM129.9 649.5h1.1v1.1h-1.1zM136.9 657.3h1.1v1.1h-1.1zM140.7 652.2h1.1v1.1h-1.1zM135.7 660.9h1.1v1.1h-1.1zM129.2 644.8h1.1v1.1h-1.1zM139.1 651.4h1.1v1.1h-1.1zM138.6 648.9h1.1v1.1h-1.1zM137.7 660.3h1.1v1.1h-1.1zM137.1 661.0h1.1v1.1h-1.1zM129.0 650.1h1.1v1.1h-1.1zM138.6 655.9h1.1v1.1h-1.1zM133.8 641.0h1.1v1.1h-1.1zM132.0 659.1h1.1v1.1h-1.1zM138.3 657.5h1.1v1.1h-1.1zM139.8 646.2h1.1v1.1h-1.1zM139.5 653.7h1.1v1.1h-1.1zM136.7 638.5h1.1v1.1h-1.1zM140.5 642.9h1.1v1.1h-1.1zM131.7 660.0h1.1v1.1h-1.1zM134.9 659.5h1.1v1.1h-1.1zM139.2 652.5h1.1v1.1h-1.1zM129.5 644.1h1.1v1.1h-1.1zM131.5 638.9h1.1v1.1h-1.1zM131.0 653.5h1.1v1.1h-1.1zM130.2 657.7h1.1v1.1h-1.1zM138.9 641.8h1.1v1.1h-1.1zM139.3 642.8h1.1v1.1h-1.1zM130.1 641.1h1.1v1.1h-1.1zM140.3 654.6h1.1v1.1h-1.1zM137.8 656.6h1.1v1.1h-1.1zM135.3 642.2h1.1v1.1h-1.1zM128.6 653.8h1.1v1.1h-1.1zM131.0 651.2h1.1v1.1h-1.1zM131.2 646.0h1.1v1.1h-1.1zM140.0 645.6h1.1v1.1h-1.1zM131.2 655.8h1.1v1.1h-1.1zM132.6 640.3h1.1v1.1h-1.1zM140.3 654.4h1.1v1.1h-1.1zM131.8 658.6h1.1v1.1h-1.1zM140.6 650.0h1.1v1.1h-1.1zM135.7 660.6h1.1v1.1h-1.1zM128.5 648.8h1.1v1.1h-1.1zM138.9 652.2h1.1v1.1h-1.1zM135.6 640.8h1.1v1.1h-1.1zM133.2 642.8h1.1v1.1h-1.1zM131.3 648.1h1.1v1.1h-1.1zM135.1 658.2h1.1v1.1h-1.1zM141.0 654.6h1.1v1.1h-1.1zM136.8 639.7h1.1v1.1h-1.1zM130.4 646.6h1.1v1.1h-1.1zM138.1 643.2h1.1v1.1h-1.1zM139.7 650.6h1.1v1.1h-1.1zM128.4 651.1h1.1v1.1h-1.1zM128.3 647.9h1.1v1.1h-1.1zM130.9 641.6h1.1v1.1h-1.1zM135.4 637.7h1.1v1.1h-1.1zM135.2 640.4h1.1v1.1h-1.1zM140.9 654.2h1.1v1.1h-1.1zM130.9 658.7h1.1v1.1h-1.1zM138.3 641.3h1.1v1.1h-1.1zM140.0 644.6h1.1v1.1h-1.1zM139.3 658.0h1.1v1.1h-1.1zM134.2 659.7h1.1v1.1h-1.1zM138.6 639.8h1.1v1.1h-1.1zM140.3 649.5h1.1v1.1h-1.1zM138.4 657.1h1.1v1.1h-1.1zM139.4 650.3h1.1v1.1h-1.1zM137.3 657.0h1.1v1.1h-1.1zM138.7 647.0h1.1v1.1h-1.1zM139.6 651.5h1.1v1.1h-1.1zM138.6 640.9h1.1v1.1h-1.1zM132.7 640.6h1.1v1.1h-1.1zM130.7 649.3h1.1v1.1h-1.1zM128.9 645.5h1.1v1.1h-1.1zM140.7 651.5h1.1v1.1h-1.1zM131.0 648.7h1.1v1.1h-1.1zM131.4 639.4h1.1v1.1h-1.1zM132.3 643.0h1.1v1.1h-1.1zM132.5 638.6h1.1v1.1h-1.1zM135.0 642.4h1.1v1.1h-1.1zM136.2 641.4h1.1v1.1h-1.1zM131.2 646.8h1.1v1.1h-1.1zM141.0 649.0h1.1v1.1h-1.1zM137.3 656.6h1.1v1.1h-1.1zM134.4 658.5h1.1v1.1h-1.1zM138.5 657.2h1.1v1.1h-1.1zM139.6 652.4h1.1v1.1h-1.1zM135.1 639.9h1.1v1.1h-1.1zM141.3 652.8h1.1v1.1h-1.1zM136.6 658.6h1.1v1.1h-1.1zM140.3 645.3h1.1v1.1h-1.1zM138.7 648.1h1.1v1.1h-1.1zM138.9 650.7h1.1v1.1h-1.1zM133.2 641.1h1.1v1.1h-1.1zM140.4 648.1h1.1v1.1h-1.1zM132.5 657.6h1.1v1.1h-1.1zM140.1 651.2h1.1v1.1h-1.1zM139.0 654.5h1.1v1.1h-1.1z"/><path fill="#5b6ee5" d="M130.9 630.8h1.1v1.1h-1.1zM110.3 630.2h1.1v1.1h-1.1zM122.9 632.1h1.1v1.1h-1.1zM131.5 628.4h1.1v1.1h-1.1zM132.0 629.8h1.1v1.1h-1.1zM113.0 631.9h1.1v1.1h-1.1zM131.0 630.7h1.1v1.1h-1.1zM109.7 628.7h1.1v1.1h-1.1zM121.3 632.4h1.1v1.1h-1.1zM116.0 632.3h1.1v1.1h-1.1zM110.2 631.2h1.1v1.1h-1.1zM113.2 632.3h1.1v1.1h-1.1zM133.4 629.6h1.1v1.1h-1.1zM128.1 625.6h1.1v1.1h-1.1zM127.4 632.3h1.1v1.1h-1.1zM114.3 631.6h1.1v1.1h-1.1zM109.7 628.4h1.1v1.1h-1.1zM133.0 629.2h1.1v1.1h-1.1zM123.4 632.7h1.1v1.1h-1.1zM133.6 629.9h1.1v1.1h-1.1zM129.2 626.4h1.1v1.1h-1.1zM132.9 629.9h1.1v1.1h-1.1zM130.6 630.6h1.1v1.1h-1.1zM131.7 629.5h1.1v1.1h-1.1zM110.7 627.8h1.1v1.1h-1.1zM122.7 626.0h1.1v1.1h-1.1zM122.5 625.6h1.1v1.1h-1.1zM123.5 625.2h1.1v1.1h-1.1zM110.7 628.0h1.1v1.1h-1.1zM130.2 631.9h1.1v1.1h-1.1zM132.4 629.2h1.1v1.1h-1.1zM109.9 629.4h1.1v1.1h-1.1zM133.6 628.2h1.1v1.1h-1.1zM126.5 626.2h1.1v1.1h-1.1zM120.4 625.9h1.1v1.1h-1.1z"/><path fill="#24bc68" d="M147.9 657.8h1.1v1.1h-1.1zM144.7 660.2h1.1v1.1h-1.1zM148.3 664.3h1.1v1.1h-1.1zM145.9 655.4h1.1v1.1h-1.1zM148.9 659.1h1.1v1.1h-1.1zM148.0 656.7h1.1v1.1h-1.1zM148.8 664.4h1.1v1.1h-1.1zM144.6 660.7h1.1v1.1h-1.1zM144.4 670.9h1.1v1.1h-1.1zM143.7 659.9h1.1v1.1h-1.1zM146.7 655.2h1.1v1.1h-1.1zM144.8 656.2h1.1v1.1h-1.1zM147.6 669.4h1.1v1.1h-1.1zM146.3 671.5h1.1v1.1h-1.1zM147.5 656.8h1.1v1.1h-1.1zM143.8 662.0h1.1v1.1h-1.1zM148.5 661.3h1.1v1.1h-1.1zM147.7 670.4h1.1v1.1h-1.1zM147.9 670.0h1.1v1.1h-1.1zM146.7 671.1h1.1v1.1h-1.1zM147.0 657.1h1.1v1.1h-1.1zM148.9 664.0h1.1v1.1h-1.1zM147.2 668.6h1.1v1.1h-1.1zM148.3 660.6h1.1v1.1h-1.1zM145.6 656.4h1.1v1.1h-1.1zM144.9 669.7h1.1v1.1h-1.1zM146.3 654.3h1.1v1.1h-1.1zM148.1 664.5h1.1v1.1h-1.1zM144.7 661.7h1.1v1.1h-1.1zM148.6 659.6h1.1v1.1h-1.1zM146.3 673.5h1.1v1.1h-1.1zM147.9 658.5h1.1v1.1h-1.1zM147.4 671.5h1.1v1.1h-1.1zM144.7 665.9h1.1v1.1h-1.1zM147.7 672.1h1.1v1.1h-1.1zM144.5 659.8h1.1v1.1h-1.1zM147.5 669.8h1.1v1.1h-1.1zM144.9 668.3h1.1v1.1h-1.1zM148.2 661.1h1.1v1.1h-1.1zM148.3 661.9h1.1v1.1h-1.1zM148.8 661.8h1.1v1.1h-1.1zM147.9 667.6h1.1v1.1h-1.1zM147.0 671.8h1.1v1.1h-1.1zM144.8 661.8h1.1v1.1h-1.1zM145.9 673.2h1.1v1.1h-1.1zM149.3 660.7h1.1v1.1h-1.1zM146.8 671.4h1.1v1.1h-1.1zM144.6 664.4h1.1v1.1h-1.1zM147.7 668.4h1.1v1.1h-1.1zM143.9 660.6h1.1v1.1h-1.1zM145.0 669.1h1.1v1.1h-1.1zM143.4 664.3h1.1v1.1h-1.1zM145.4 655.5h1.1v1.1h-1.1zM144.0 667.3h1.1v1.1h-1.1zM148.0 658.1h1.1v1.1h-1.1zM148.0 670.9h1.1v1.1h-1.1zM144.8 655.2h1.1v1.1h-1.1zM143.7 666.5h1.1v1.1h-1.1zM146.5 656.4h1.1v1.1h-1.1zM144.2 664.5h1.1v1.1h-1.1zM144.5 667.5h1.1v1.1h-1.1zM145.0 655.6h1.1v1.1h-1.1zM144.1 666.7h1.1v1.1h-1.1zM148.0 668.9h1.1v1.1h-1.1zM148.2 666.3h1.1v1.1h-1.1zM144.0 661.5h1.1v1.1h-1.1zM145.1 658.4h1.1v1.1h-1.1zM143.9 660.6h1.1v1.1h-1.1zM144.7 664.6h1.1v1.1h-1.1zM146.5 653.5h1.1v1.1h-1.1zM148.7 666.1h1.1v1.1h-1.1zM149.0 665.7h1.1v1.1h-1.1zM147.8 659.3h1.1v1.1h-1.1zM148.2 658.2h1.1v1.1h-1.1zM146.6 669.0h1.1v1.1h-1.1zM144.9 658.6h1.1v1.1h-1.1zM144.9 658.0h1.1v1.1h-1.1zM147.9 672.3h1.1v1.1h-1.1zM145.2 672.2h1.1v1.1h-1.1zM144.9 655.7h1.1v1.1h-1.1zM145.9 670.3h1.1v1.1h-1.1zM144.9 666.9h1.1v1.1h-1.1zM147.1 656.0h1.1v1.1h-1.1zM149.2 665.4h1.1v1.1h-1.1zM144.6 661.7h1.1v1.1h-1.1zM146.0 672.1h1.1v1.1h-1.1zM148.1 662.0h1.1v1.1h-1.1zM148.6 661.1h1.1v1.1h-1.1zM145.0 669.3h1.1v1.1h-1.1zM146.8 670.1h1.1v1.1h-1.1zM148.9 664.7h1.1v1.1h-1.1zM147.0 656.8h1.1v1.1h-1.1zM143.7 667.0h1.1v1.1h-1.1zM147.4 672.9h1.1v1.1h-1.1zM144.0 660.9h1.1v1.1h-1.1z"/><path fill="#d0d0f0" d="M142.7 635.7h1.1v1.1h-1.1zM123.3 627.0h1.1v1.1h-1.1zM149.6 630.4h1.1v1.1h-1.1zM126.6 619.5h1.1v1.1h-1.1zM142.3 634.8h1.1v1.1h-1.1zM124.4 622.3h1.1v1.1h-1.1zM154.8 632.3h1.1v1.1h-1.1zM129.3 633.5h1.1v1.1h-1.1zM150.9 623.7h1.1v1.1h-1.1zM148.3 620.7h1.1v1.1h-1.1zM149.6 621.9h1.1v1.1h-1.1zM127.8 638.1h1.1v1.1h-1.1zM147.4 634.8h1.1v1.1h-1.1z"/><path fill="#8088e4" d="M135.3 652.1h1.1v1.1h-1.1zM136.5 648.8h1.1v1.1h-1.1zM137.7 645.9h1.1v1.1h-1.1zM133.0 649.8h1.1v1.1h-1.1zM134.5 651.9h1.1v1.1h-1.1zM137.8 652.6h1.1v1.1h-1.1zM137.6 645.8h1.1v1.1h-1.1zM132.0 645.9h1.1v1.1h-1.1zM136.3 647.8h1.1v1.1h-1.1zM136.7 645.9h1.1v1.1h-1.1zM133.7 655.1h1.1v1.1h-1.1zM132.7 652.6h1.1v1.1h-1.1zM135.7 652.6h1.1v1.1h-1.1zM134.2 648.7h1.1v1.1h-1.1zM131.7 648.7h1.1v1.1h-1.1zM135.0 649.0h1.1v1.1h-1.1zM132.8 652.4h1.1v1.1h-1.1zM133.1 645.2h1.1v1.1h-1.1zM133.6 644.6h1.1v1.1h-1.1zM134.5 644.7h1.1v1.1h-1.1zM136.8 647.1h1.1v1.1h-1.1zM133.8 647.9h1.1v1.1h-1.1zM136.5 643.6h1.1v1.1h-1.1zM136.2 645.8h1.1v1.1h-1.1zM136.2 645.7h1.1v1.1h-1.1zM135.2 653.0h1.1v1.1h-1.1zM131.8 647.0h1.1v1.1h-1.1zM134.6 648.8h1.1v1.1h-1.1zM136.8 649.9h1.1v1.1h-1.1zM134.0 646.7h1.1v1.1h-1.1zM133.9 655.9h1.1v1.1h-1.1zM135.4 655.4h1.1v1.1h-1.1zM137.0 645.7h1.1v1.1h-1.1zM133.6 649.0h1.1v1.1h-1.1zM134.8 648.5h1.1v1.1h-1.1zM132.1 649.3h1.1v1.1h-1.1zM133.8 647.0h1.1v1.1h-1.1zM134.1 651.3h1.1v1.1h-1.1zM132.7 645.2h1.1v1.1h-1.1zM134.9 649.9h1.1v1.1h-1.1zM132.2 653.2h1.1v1.1h-1.1z"/><path fill="#2d6bc8" d="M140.6 665.7h1.1v1.1h-1.1zM151.0 675.4h1.1v1.1h-1.1zM139.5 659.2h1.1v1.1h-1.1zM152.0 665.1h1.1v1.1h-1.1zM142.4 648.6h1.1v1.1h-1.1zM145.4 645.0h1.1v1.1h-1.1zM150.3 646.2h1.1v1.1h-1.1zM140.8 660.7h1.1v1.1h-1.1zM153.0 662.4h1.1v1.1h-1.1zM146.7 643.5h1.1v1.1h-1.1zM140.3 657.8h1.1v1.1h-1.1zM152.1 675.2h1.1v1.1h-1.1zM149.5 645.1h1.1v1.1h-1.1zM152.2 656.2h1.1v1.1h-1.1zM151.8 648.2h1.1v1.1h-1.1zM151.7 651.5h1.1v1.1h-1.1zM151.8 653.4h1.1v1.1h-1.1zM140.8 655.1h1.1v1.1h-1.1zM151.8 668.9h1.1v1.1h-1.1zM145.0 643.7h1.1v1.1h-1.1zM144.3 645.0h1.1v1.1h-1.1zM151.7 651.3h1.1v1.1h-1.1zM153.3 656.1h1.1v1.1h-1.1zM140.2 667.0h1.1v1.1h-1.1zM145.2 643.1h1.1v1.1h-1.1zM139.8 660.0h1.1v1.1h-1.1zM151.6 672.3h1.1v1.1h-1.1zM141.3 650.0h1.1v1.1h-1.1zM141.8 645.2h1.1v1.1h-1.1zM150.1 647.0h1.1v1.1h-1.1zM140.7 673.6h1.1v1.1h-1.1zM152.8 663.7h1.1v1.1h-1.1zM142.4 646.6h1.1v1.1h-1.1zM151.5 653.0h1.1v1.1h-1.1zM140.1 667.1h1.1v1.1h-1.1zM152.0 657.4h1.1v1.1h-1.1zM141.3 653.2h1.1v1.1h-1.1zM140.4 672.5h1.1v1.1h-1.1zM140.8 673.0h1.1v1.1h-1.1zM152.3 669.3h1.1v1.1h-1.1zM149.4 643.2h1.1v1.1h-1.1zM141.5 653.7h1.1v1.1h-1.1zM145.8 642.1h1.1v1.1h-1.1zM152.9 670.9h1.1v1.1h-1.1zM152.7 676.2h1.1v1.1h-1.1zM152.2 670.7h1.1v1.1h-1.1zM149.8 643.8h1.1v1.1h-1.1zM139.3 665.5h1.1v1.1h-1.1zM150.5 645.5h1.1v1.1h-1.1zM152.4 650.9h1.1v1.1h-1.1zM152.9 651.7h1.1v1.1h-1.1zM141.1 654.7h1.1v1.1h-1.1zM140.2 663.3h1.1v1.1h-1.1zM139.8 656.4h1.1v1.1h-1.1zM144.6 639.0h1.1v1.1h-1.1zM152.0 661.9h1.1v1.1h-1.1zM153.1 660.2h1.1v1.1h-1.1zM152.4 675.0h1.1v1.1h-1.1zM143.2 647.6h1.1v1.1h-1.1zM152.2 669.0h1.1v1.1h-1.1zM143.1 647.1h1.1v1.1h-1.1zM140.7 657.4h1.1v1.1h-1.1zM140.8 658.4h1.1v1.1h-1.1zM152.7 667.5h1.1v1.1h-1.1z"/><path fill="#c6c6ee" d="M145.0 622.1h1.1v1.1h-1.1zM147.2 624.6h1.1v1.1h-1.1zM127.8 622.4h1.1v1.1h-1.1zM127.3 629.1h1.1v1.1h-1.1zM130.2 630.1h1.1v1.1h-1.1zM149.0 629.7h1.1v1.1h-1.1zM134.4 620.4h1.1v1.1h-1.1zM129.0 631.1h1.1v1.1h-1.1zM133.5 634.1h1.1v1.1h-1.1zM148.5 622.9h1.1v1.1h-1.1zM144.7 631.8h1.1v1.1h-1.1zM128.2 621.8h1.1v1.1h-1.1zM137.2 618.5h1.1v1.1h-1.1zM142.3 632.5h1.1v1.1h-1.1zM141.2 633.4h1.1v1.1h-1.1zM125.5 628.5h1.1v1.1h-1.1zM144.6 631.0h1.1v1.1h-1.1zM142.5 632.1h1.1v1.1h-1.1zM128.1 628.5h1.1v1.1h-1.1zM128.5 624.7h1.1v1.1h-1.1zM147.7 630.7h1.1v1.1h-1.1zM148.5 624.7h1.1v1.1h-1.1zM148.8 625.4h1.1v1.1h-1.1z"/><path fill="#27a188" d="M147.6 675.6h1.1v1.1h-1.1zM147.7 676.4h1.1v1.1h-1.1zM146.5 651.5h1.1v1.1h-1.1zM147.2 653.3h1.1v1.1h-1.1zM144.9 673.6h1.1v1.1h-1.1zM144.8 654.1h1.1v1.1h-1.1zM149.1 668.5h1.1v1.1h-1.1zM148.1 651.0h1.1v1.1h-1.1zM149.2 670.9h1.1v1.1h-1.1zM149.9 664.4h1.1v1.1h-1.1zM149.6 664.8h1.1v1.1h-1.1zM143.8 673.7h1.1v1.1h-1.1zM146.1 651.8h1.1v1.1h-1.1zM148.9 654.2h1.1v1.1h-1.1zM144.3 654.5h1.1v1.1h-1.1zM149.5 658.8h1.1v1.1h-1.1zM149.8 667.6h1.1v1.1h-1.1zM149.5 665.6h1.1v1.1h-1.1zM149.6 670.3h1.1v1.1h-1.1zM143.3 665.6h1.1v1.1h-1.1zM148.0 675.9h1.1v1.1h-1.1zM149.7 660.3h1.1v1.1h-1.1zM143.7 655.0h1.1v1.1h-1.1zM145.2 674.1h1.1v1.1h-1.1zM146.9 675.3h1.1v1.1h-1.1zM149.4 660.1h1.1v1.1h-1.1zM149.5 659.5h1.1v1.1h-1.1zM146.5 675.9h1.1v1.1h-1.1zM143.1 665.7h1.1v1.1h-1.1zM147.3 674.7h1.1v1.1h-1.1zM144.7 676.4h1.1v1.1h-1.1zM142.9 662.0h1.1v1.1h-1.1zM148.3 654.0h1.1v1.1h-1.1zM143.8 674.7h1.1v1.1h-1.1zM143.6 673.4h1.1v1.1h-1.1zM145.0 673.8h1.1v1.1h-1.1zM143.3 666.2h1.1v1.1h-1.1zM150.3 658.9h1.1v1.1h-1.1zM148.5 656.0h1.1v1.1h-1.1zM143.3 662.5h1.1v1.1h-1.1zM149.4 659.7h1.1v1.1h-1.1zM146.6 674.2h1.1v1.1h-1.1zM145.9 653.1h1.1v1.1h-1.1zM147.1 675.4h1.1v1.1h-1.1zM144.9 675.4h1.1v1.1h-1.1zM144.3 674.4h1.1v1.1h-1.1zM148.0 673.4h1.1v1.1h-1.1zM145.3 653.5h1.1v1.1h-1.1zM148.1 676.4h1.1v1.1h-1.1zM142.8 662.9h1.1v1.1h-1.1zM148.5 654.4h1.1v1.1h-1.1zM147.9 653.6h1.1v1.1h-1.1zM147.3 676.2h1.1v1.1h-1.1zM144.4 672.4h1.1v1.1h-1.1zM147.4 653.4h1.1v1.1h-1.1zM143.1 664.0h1.1v1.1h-1.1zM150.4 666.4h1.1v1.1h-1.1zM144.7 654.4h1.1v1.1h-1.1zM149.5 667.9h1.1v1.1h-1.1zM149.7 667.1h1.1v1.1h-1.1zM142.5 662.0h1.1v1.1h-1.1zM145.3 651.4h1.1v1.1h-1.1zM143.0 668.1h1.1v1.1h-1.1zM146.6 675.1h1.1v1.1h-1.1zM149.7 672.1h1.1v1.1h-1.1zM143.1 655.9h1.1v1.1h-1.1zM143.1 665.9h1.1v1.1h-1.1zM149.5 668.3h1.1v1.1h-1.1zM149.5 671.4h1.1v1.1h-1.1zM147.1 675.6h1.1v1.1h-1.1zM149.9 663.9h1.1v1.1h-1.1zM149.2 659.8h1.1v1.1h-1.1zM149.3 658.7h1.1v1.1h-1.1zM143.9 654.0h1.1v1.1h-1.1zM144.1 655.5h1.1v1.1h-1.1zM150.1 669.3h1.1v1.1h-1.1zM149.0 672.8h1.1v1.1h-1.1zM148.6 651.5h1.1v1.1h-1.1zM147.2 653.5h1.1v1.1h-1.1zM145.4 673.1h1.1v1.1h-1.1zM143.8 673.5h1.1v1.1h-1.1zM149.3 653.7h1.1v1.1h-1.1zM144.4 653.9h1.1v1.1h-1.1zM149.1 668.7h1.1v1.1h-1.1zM147.7 672.6h1.1v1.1h-1.1zM142.2 663.3h1.1v1.1h-1.1zM145.6 673.6h1.1v1.1h-1.1zM149.8 664.9h1.1v1.1h-1.1zM149.3 671.8h1.1v1.1h-1.1zM150.3 662.9h1.1v1.1h-1.1zM145.9 676.3h1.1v1.1h-1.1zM150.6 661.5h1.1v1.1h-1.1zM150.0 662.6h1.1v1.1h-1.1zM149.9 665.4h1.1v1.1h-1.1zM142.7 659.9h1.1v1.1h-1.1zM149.9 669.7h1.1v1.1h-1.1zM144.7 654.9h1.1v1.1h-1.1zM149.5 657.5h1.1v1.1h-1.1zM143.4 657.0h1.1v1.1h-1.1zM146.7 675.3h1.1v1.1h-1.1z"/><path fill="#c8c0ee" d="M156.8 644.5h1.1v1.1h-1.1zM141.3 619.4h1.1v1.1h-1.1zM152.6 659.2h1.1v1.1h-1.1zM157.7 663.4h1.1v1.1h-1.1zM150.3 625.2h1.1v1.1h-1.1zM123.7 621.0h1.1v1.1h-1.1zM156.3 668.9h1.1v1.1h-1.1zM155.2 634.2h1.1v1.1h-1.1zM152.9 641.0h1.1v1.1h-1.1zM113.2 639.3h1.1v1.1h-1.1zM152.7 647.7h1.1v1.1h-1.1zM120.6 629.6h1.1v1.1h-1.1zM146.5 622.0h1.1v1.1h-1.1zM152.3 662.5h1.1v1.1h-1.1zM118.4 618.7h1.1v1.1h-1.1zM148.3 626.6h1.1v1.1h-1.1zM120.1 631.7h1.1v1.1h-1.1zM120.8 668.1h1.1v1.1h-1.1zM115.4 667.3h1.1v1.1h-1.1zM113.0 648.8h1.1v1.1h-1.1zM118.7 630.8h1.1v1.1h-1.1zM114.8 660.9h1.1v1.1h-1.1zM128.4 618.2h1.1v1.1h-1.1zM115.7 658.1h1.1v1.1h-1.1zM152.4 647.7h1.1v1.1h-1.1zM152.1 626.0h1.1v1.1h-1.1zM124.6 622.9h1.1v1.1h-1.1zM118.0 639.3h1.1v1.1h-1.1zM114.3 638.0h1.1v1.1h-1.1zM113.6 635.4h1.1v1.1h-1.1zM157.3 661.0h1.1v1.1h-1.1zM117.6 641.2h1.1v1.1h-1.1zM120.9 622.1h1.1v1.1h-1.1zM157.1 649.3h1.1v1.1h-1.1zM115.9 655.7h1.1v1.1h-1.1zM118.0 622.9h1.1v1.1h-1.1zM117.5 658.9h1.1v1.1h-1.1zM141.8 618.7h1.1v1.1h-1.1z"/><path fill="#2e4ee4" d="M122.2 629.9h1.1v1.1h-1.1zM124.0 628.3h1.1v1.1h-1.1zM119.3 629.1h1.1v1.1h-1.1zM121.1 628.2h1.1v1.1h-1.1zM119.2 628.2h1.1v1.1h-1.1zM119.8 628.1h1.1v1.1h-1.1zM122.4 629.3h1.1v1.1h-1.1zM120.2 629.6h1.1v1.1h-1.1zM122.4 628.5h1.1v1.1h-1.1zM122.9 629.4h1.1v1.1h-1.1zM119.6 628.5h1.1v1.1h-1.1zM123.4 628.3h1.1v1.1h-1.1zM117.9 628.8h1.1v1.1h-1.1zM122.5 629.0h1.1v1.1h-1.1zM120.4 628.0h1.1v1.1h-1.1zM121.3 629.5h1.1v1.1h-1.1zM118.6 628.9h1.1v1.1h-1.1zM119.5 629.5h1.1v1.1h-1.1zM122.2 628.3h1.1v1.1h-1.1zM122.0 628.7h1.1v1.1h-1.1zM120.8 629.2h1.1v1.1h-1.1zM119.2 628.1h1.1v1.1h-1.1z"/><path fill="#a0a0e8" d="M140.0 625.7h1.1v1.1h-1.1zM139.2 626.4h1.1v1.1h-1.1zM136.5 625.4h1.1v1.1h-1.1zM136.9 626.7h1.1v1.1h-1.1zM136.1 625.7h1.1v1.1h-1.1zM138.0 626.9h1.1v1.1h-1.1zM137.1 625.4h1.1v1.1h-1.1zM136.6 625.8h1.1v1.1h-1.1zM136.8 627.3h1.1v1.1h-1.1zM136.4 625.3h1.1v1.1h-1.1zM139.5 627.0h1.1v1.1h-1.1z"/>
<g filter="url(#fblur)"><ellipse cx="119.9" cy="629" rx="11" ry="3.8" fill="#3452e4" opacity="0.95"/><ellipse cx="117.9" cy="654.5" rx="11" ry="19" fill="#3150e6" opacity="0.95"/><ellipse cx="121.9" cy="638.5" rx="9" ry="7" fill="#4a62e4" opacity="0.7"/><ellipse cx="118.9" cy="655.5" rx="6" ry="5" fill="#2aa0d0" opacity="0.9"/><ellipse cx="146.4" cy="663.5" rx="5.5" ry="15" fill="#2f54ea" opacity="1"/><ellipse cx="146.4" cy="665" rx="3.2" ry="13" fill="#22dd44" opacity="1"/></g>
</g>
<rect x="107.9" y="616.5" width="61.9" height="61.4" fill="none" stroke="#8a8a8a" stroke-width="0.9"/>
<circle cx="133.4" cy="630.8" r="9.6" fill="none" stroke="#e8b4ce" stroke-width="0.75"/>
<path d="M103.1,623.9 L105.3,624.1 L106.7,621.1" stroke="#222" stroke-width="1.2" fill="none"/>
<path d="M103.1,636.9 L105.3,637.1 L106.7,634.1" stroke="#222" stroke-width="1.2" fill="none"/>
<path d="M103.1,650.9 L105.3,651.1 L106.7,648.1" stroke="#222" stroke-width="1.2" fill="none"/>
<path d="M103.1,666.5 L105.3,666.7 L106.7,663.7" stroke="#222" stroke-width="1.2" fill="none"/>
<rect x="104.3" y="670.3" width="1.8" height="1.8" fill="#222"/>
<rect x="113.5" y="680.5" width="1.8" height="1.8" fill="#222"/>
<path d="M119.8,682.5 L122,682.7 L123.6,679.7" stroke="#222" stroke-width="1.2" fill="none"/>
<path d="M134.2,682.5 L136.4,682.7 L138,679.7" stroke="#222" stroke-width="1.2" fill="none"/>
<path d="M147.9,682.5 L150.1,682.7 L151.7,679.7" stroke="#222" stroke-width="1.2" fill="none"/>
<path d="M160.9,682.5 L163.1,682.7 L164.7,679.7" stroke="#222" stroke-width="1.2" fill="none"/>
<clipPath id="clipD2"><rect x="107.9" y="690.6" width="61.9" height="60.9"/></clipPath>
<g clip-path="url(#clipD2)"><g filter="url(#fblur)"><ellipse cx="123.9" cy="730.6" rx="12" ry="13" fill="#a8acee" opacity="0.6"/><ellipse cx="134.9" cy="716.6" rx="10" ry="10" fill="#c0c2f2" opacity="0.5"/><ellipse cx="121.9" cy="701.6" rx="12" ry="4.5" fill="#7080e4" opacity="0.75"/></g>
<path fill="#a4a6e9" d="M114.8 717.7h1.1v1.1h-1.1zM109.2 726.3h1.1v1.1h-1.1zM127.2 719.5h1.1v1.1h-1.1zM129.6 749.3h1.1v1.1h-1.1zM109.0 735.0h1.1v1.1h-1.1zM111.3 740.5h1.1v1.1h-1.1zM131.7 743.1h1.1v1.1h-1.1zM111.8 739.5h1.1v1.1h-1.1zM131.6 743.3h1.1v1.1h-1.1zM128.8 746.0h1.1v1.1h-1.1zM113.3 741.3h1.1v1.1h-1.1zM136.3 740.6h1.1v1.1h-1.1zM114.2 720.4h1.1v1.1h-1.1zM115.7 718.4h1.1v1.1h-1.1zM130.5 718.0h1.1v1.1h-1.1zM122.6 718.0h1.1v1.1h-1.1zM120.3 747.9h1.1v1.1h-1.1zM130.6 744.4h1.1v1.1h-1.1zM111.8 725.5h1.1v1.1h-1.1zM108.8 737.3h1.1v1.1h-1.1zM137.2 733.2h1.1v1.1h-1.1zM131.2 721.5h1.1v1.1h-1.1zM122.9 718.4h1.1v1.1h-1.1zM134.3 737.9h1.1v1.1h-1.1zM122.8 748.8h1.1v1.1h-1.1zM111.6 739.7h1.1v1.1h-1.1zM122.9 718.2h1.1v1.1h-1.1zM128.2 747.2h1.1v1.1h-1.1zM123.4 715.3h1.1v1.1h-1.1zM134.2 727.0h1.1v1.1h-1.1zM109.7 725.9h1.1v1.1h-1.1zM126.2 747.7h1.1v1.1h-1.1zM122.4 747.8h1.1v1.1h-1.1zM135.0 732.5h1.1v1.1h-1.1zM135.4 722.1h1.1v1.1h-1.1zM120.2 715.6h1.1v1.1h-1.1zM117.1 747.3h1.1v1.1h-1.1zM120.0 717.0h1.1v1.1h-1.1zM136.8 738.2h1.1v1.1h-1.1zM126.4 749.8h1.1v1.1h-1.1zM109.6 729.8h1.1v1.1h-1.1zM112.4 745.0h1.1v1.1h-1.1zM132.7 722.2h1.1v1.1h-1.1zM113.6 744.5h1.1v1.1h-1.1zM136.0 737.5h1.1v1.1h-1.1zM134.7 730.4h1.1v1.1h-1.1zM131.2 718.8h1.1v1.1h-1.1zM120.6 716.0h1.1v1.1h-1.1zM116.2 719.5h1.1v1.1h-1.1zM111.5 742.5h1.1v1.1h-1.1zM108.9 735.0h1.1v1.1h-1.1zM135.0 727.1h1.1v1.1h-1.1zM118.4 718.4h1.1v1.1h-1.1zM137.0 730.8h1.1v1.1h-1.1zM126.9 716.1h1.1v1.1h-1.1zM121.1 747.7h1.1v1.1h-1.1zM111.8 727.2h1.1v1.1h-1.1zM133.8 725.3h1.1v1.1h-1.1zM109.2 735.3h1.1v1.1h-1.1zM110.9 741.5h1.1v1.1h-1.1zM115.8 718.4h1.1v1.1h-1.1zM111.6 725.4h1.1v1.1h-1.1zM118.6 719.3h1.1v1.1h-1.1zM120.0 715.7h1.1v1.1h-1.1zM137.2 734.1h1.1v1.1h-1.1zM111.4 725.5h1.1v1.1h-1.1zM131.0 717.6h1.1v1.1h-1.1zM108.9 730.0h1.1v1.1h-1.1zM134.5 737.6h1.1v1.1h-1.1zM135.5 734.8h1.1v1.1h-1.1zM119.5 717.0h1.1v1.1h-1.1zM111.3 743.0h1.1v1.1h-1.1zM131.1 721.9h1.1v1.1h-1.1zM133.9 723.9h1.1v1.1h-1.1zM123.0 717.0h1.1v1.1h-1.1zM118.6 719.0h1.1v1.1h-1.1zM134.6 727.2h1.1v1.1h-1.1zM128.4 748.4h1.1v1.1h-1.1zM111.1 737.4h1.1v1.1h-1.1zM130.0 745.4h1.1v1.1h-1.1zM129.7 720.1h1.1v1.1h-1.1zM128.3 715.2h1.1v1.1h-1.1zM115.3 721.2h1.1v1.1h-1.1zM118.9 747.0h1.1v1.1h-1.1zM126.3 747.3h1.1v1.1h-1.1zM129.3 745.5h1.1v1.1h-1.1zM112.4 726.1h1.1v1.1h-1.1zM135.0 733.0h1.1v1.1h-1.1zM111.3 744.3h1.1v1.1h-1.1zM131.0 746.4h1.1v1.1h-1.1zM113.7 745.4h1.1v1.1h-1.1zM114.5 721.0h1.1v1.1h-1.1zM137.1 731.4h1.1v1.1h-1.1zM135.6 729.2h1.1v1.1h-1.1zM127.8 749.6h1.1v1.1h-1.1zM116.4 720.6h1.1v1.1h-1.1zM113.5 722.0h1.1v1.1h-1.1zM132.9 741.7h1.1v1.1h-1.1zM109.2 738.7h1.1v1.1h-1.1zM109.8 735.4h1.1v1.1h-1.1zM118.9 719.1h1.1v1.1h-1.1zM111.5 724.8h1.1v1.1h-1.1zM115.2 744.4h1.1v1.1h-1.1zM135.5 736.5h1.1v1.1h-1.1zM134.2 736.7h1.1v1.1h-1.1zM109.2 737.4h1.1v1.1h-1.1zM114.1 743.2h1.1v1.1h-1.1zM112.9 721.7h1.1v1.1h-1.1zM112.4 741.9h1.1v1.1h-1.1zM133.2 743.6h1.1v1.1h-1.1zM137.9 733.7h1.1v1.1h-1.1zM133.8 721.3h1.1v1.1h-1.1zM130.8 746.1h1.1v1.1h-1.1zM123.9 716.2h1.1v1.1h-1.1zM118.6 717.1h1.1v1.1h-1.1zM108.7 733.0h1.1v1.1h-1.1zM109.5 723.8h1.1v1.1h-1.1zM123.9 747.2h1.1v1.1h-1.1zM112.7 741.7h1.1v1.1h-1.1zM116.0 717.4h1.1v1.1h-1.1zM115.9 747.2h1.1v1.1h-1.1zM135.0 721.3h1.1v1.1h-1.1zM133.9 738.2h1.1v1.1h-1.1zM112.8 722.9h1.1v1.1h-1.1zM121.8 748.3h1.1v1.1h-1.1zM126.3 749.4h1.1v1.1h-1.1zM122.1 749.4h1.1v1.1h-1.1zM130.2 718.3h1.1v1.1h-1.1zM137.0 734.2h1.1v1.1h-1.1zM125.5 746.5h1.1v1.1h-1.1zM130.2 719.9h1.1v1.1h-1.1zM125.2 714.4h1.1v1.1h-1.1zM134.2 739.3h1.1v1.1h-1.1zM130.1 747.6h1.1v1.1h-1.1zM109.9 726.4h1.1v1.1h-1.1zM128.8 746.2h1.1v1.1h-1.1zM134.3 725.7h1.1v1.1h-1.1zM116.1 748.1h1.1v1.1h-1.1zM113.6 742.5h1.1v1.1h-1.1zM112.6 723.5h1.1v1.1h-1.1zM136.0 729.3h1.1v1.1h-1.1zM133.8 722.9h1.1v1.1h-1.1zM110.6 740.3h1.1v1.1h-1.1z"/><path fill="#707be2" d="M131.6 700.8h1.1v1.1h-1.1zM118.4 697.6h1.1v1.1h-1.1zM122.8 704.0h1.1v1.1h-1.1zM126.6 697.2h1.1v1.1h-1.1zM120.4 703.9h1.1v1.1h-1.1zM111.1 700.9h1.1v1.1h-1.1zM127.3 697.4h1.1v1.1h-1.1zM115.1 698.2h1.1v1.1h-1.1zM111.6 700.8h1.1v1.1h-1.1zM126.7 704.0h1.1v1.1h-1.1zM131.4 702.9h1.1v1.1h-1.1zM125.0 704.1h1.1v1.1h-1.1zM125.2 704.3h1.1v1.1h-1.1zM128.0 698.4h1.1v1.1h-1.1zM127.0 704.4h1.1v1.1h-1.1zM120.6 704.7h1.1v1.1h-1.1zM127.1 697.6h1.1v1.1h-1.1zM115.5 698.0h1.1v1.1h-1.1zM118.5 697.3h1.1v1.1h-1.1zM130.1 701.4h1.1v1.1h-1.1zM129.3 702.5h1.1v1.1h-1.1zM114.4 697.8h1.1v1.1h-1.1zM115.4 697.7h1.1v1.1h-1.1zM124.6 704.7h1.1v1.1h-1.1zM119.3 704.4h1.1v1.1h-1.1zM112.5 699.5h1.1v1.1h-1.1zM120.5 696.9h1.1v1.1h-1.1zM114.3 699.1h1.1v1.1h-1.1zM127.2 698.2h1.1v1.1h-1.1zM117.9 703.6h1.1v1.1h-1.1zM112.4 699.7h1.1v1.1h-1.1zM120.3 704.7h1.1v1.1h-1.1zM122.2 696.8h1.1v1.1h-1.1zM131.2 702.3h1.1v1.1h-1.1zM121.5 697.0h1.1v1.1h-1.1zM113.7 702.6h1.1v1.1h-1.1zM112.5 698.4h1.1v1.1h-1.1zM127.0 697.7h1.1v1.1h-1.1zM126.4 697.9h1.1v1.1h-1.1zM131.9 698.4h1.1v1.1h-1.1zM119.8 704.4h1.1v1.1h-1.1zM120.3 704.6h1.1v1.1h-1.1zM131.0 701.2h1.1v1.1h-1.1zM120.9 703.6h1.1v1.1h-1.1zM113.7 702.4h1.1v1.1h-1.1zM132.0 699.1h1.1v1.1h-1.1zM125.6 704.4h1.1v1.1h-1.1zM113.7 698.1h1.1v1.1h-1.1zM117.8 703.6h1.1v1.1h-1.1zM119.1 696.6h1.1v1.1h-1.1zM133.5 700.3h1.1v1.1h-1.1zM122.2 697.1h1.1v1.1h-1.1zM119.0 703.7h1.1v1.1h-1.1zM112.8 700.6h1.1v1.1h-1.1zM117.9 696.7h1.1v1.1h-1.1zM132.2 699.6h1.1v1.1h-1.1zM113.1 700.6h1.1v1.1h-1.1zM131.9 701.4h1.1v1.1h-1.1zM117.4 703.8h1.1v1.1h-1.1zM131.4 698.4h1.1v1.1h-1.1zM125.3 704.0h1.1v1.1h-1.1zM115.2 698.4h1.1v1.1h-1.1zM130.0 699.2h1.1v1.1h-1.1z"/><path fill="#3d68ea" d="M151.5 717.6h1.1v1.1h-1.1zM154.0 724.7h1.1v1.1h-1.1zM148.7 738.2h1.1v1.1h-1.1zM142.9 729.7h1.1v1.1h-1.1zM154.3 726.1h1.1v1.1h-1.1zM152.9 720.3h1.1v1.1h-1.1zM154.3 723.2h1.1v1.1h-1.1zM144.9 721.5h1.1v1.1h-1.1zM143.8 724.1h1.1v1.1h-1.1zM146.2 735.9h1.1v1.1h-1.1zM142.7 727.5h1.1v1.1h-1.1zM143.6 722.3h1.1v1.1h-1.1zM153.8 721.7h1.1v1.1h-1.1zM155.0 725.7h1.1v1.1h-1.1zM153.9 732.5h1.1v1.1h-1.1zM143.1 730.9h1.1v1.1h-1.1zM153.7 733.5h1.1v1.1h-1.1zM149.7 736.5h1.1v1.1h-1.1zM149.6 718.5h1.1v1.1h-1.1zM152.5 734.9h1.1v1.1h-1.1zM144.0 721.1h1.1v1.1h-1.1zM144.2 719.9h1.1v1.1h-1.1zM155.6 727.1h1.1v1.1h-1.1zM143.4 732.2h1.1v1.1h-1.1zM152.4 720.7h1.1v1.1h-1.1zM152.7 720.3h1.1v1.1h-1.1zM155.2 724.3h1.1v1.1h-1.1zM149.9 719.3h1.1v1.1h-1.1zM153.3 735.8h1.1v1.1h-1.1zM151.2 719.3h1.1v1.1h-1.1zM153.7 721.2h1.1v1.1h-1.1zM149.7 716.9h1.1v1.1h-1.1zM154.2 724.9h1.1v1.1h-1.1zM144.3 734.2h1.1v1.1h-1.1zM151.1 718.4h1.1v1.1h-1.1zM152.1 720.1h1.1v1.1h-1.1zM154.6 730.3h1.1v1.1h-1.1zM144.4 719.9h1.1v1.1h-1.1zM154.2 732.1h1.1v1.1h-1.1zM143.7 733.3h1.1v1.1h-1.1zM152.4 721.3h1.1v1.1h-1.1zM143.6 728.3h1.1v1.1h-1.1zM151.9 719.1h1.1v1.1h-1.1zM154.3 727.3h1.1v1.1h-1.1zM150.1 736.3h1.1v1.1h-1.1zM143.2 731.9h1.1v1.1h-1.1zM149.4 717.9h1.1v1.1h-1.1zM153.2 733.3h1.1v1.1h-1.1zM153.6 734.8h1.1v1.1h-1.1zM154.5 723.2h1.1v1.1h-1.1zM146.7 735.3h1.1v1.1h-1.1zM154.5 722.1h1.1v1.1h-1.1zM143.6 729.5h1.1v1.1h-1.1zM155.0 723.0h1.1v1.1h-1.1zM145.4 718.4h1.1v1.1h-1.1zM147.4 717.5h1.1v1.1h-1.1zM150.2 717.6h1.1v1.1h-1.1zM149.1 719.0h1.1v1.1h-1.1zM149.4 719.2h1.1v1.1h-1.1zM146.8 736.4h1.1v1.1h-1.1zM155.6 727.0h1.1v1.1h-1.1zM148.2 736.4h1.1v1.1h-1.1zM149.6 737.0h1.1v1.1h-1.1zM144.5 734.5h1.1v1.1h-1.1zM154.3 731.1h1.1v1.1h-1.1zM144.6 722.6h1.1v1.1h-1.1zM150.4 718.7h1.1v1.1h-1.1zM146.4 719.7h1.1v1.1h-1.1zM142.7 724.8h1.1v1.1h-1.1zM148.5 736.3h1.1v1.1h-1.1zM145.8 720.1h1.1v1.1h-1.1zM149.2 737.6h1.1v1.1h-1.1z"/><path fill="#606ddf" d="M116.4 701.4h1.1v1.1h-1.1zM117.1 701.5h1.1v1.1h-1.1zM116.7 702.8h1.1v1.1h-1.1zM124.6 697.8h1.1v1.1h-1.1zM121.9 702.4h1.1v1.1h-1.1zM126.6 701.2h1.1v1.1h-1.1zM126.0 703.0h1.1v1.1h-1.1zM119.8 702.9h1.1v1.1h-1.1zM128.8 702.0h1.1v1.1h-1.1zM118.6 698.8h1.1v1.1h-1.1zM114.9 701.9h1.1v1.1h-1.1zM117.3 702.1h1.1v1.1h-1.1zM126.4 700.1h1.1v1.1h-1.1zM126.0 699.5h1.1v1.1h-1.1zM127.9 702.1h1.1v1.1h-1.1zM128.5 699.1h1.1v1.1h-1.1zM117.0 699.9h1.1v1.1h-1.1zM118.0 703.0h1.1v1.1h-1.1zM115.7 699.2h1.1v1.1h-1.1zM124.1 703.0h1.1v1.1h-1.1zM114.2 700.8h1.1v1.1h-1.1zM119.4 698.4h1.1v1.1h-1.1zM123.5 702.3h1.1v1.1h-1.1zM116.2 702.6h1.1v1.1h-1.1zM117.5 702.2h1.1v1.1h-1.1zM126.2 698.0h1.1v1.1h-1.1zM117.6 702.5h1.1v1.1h-1.1zM116.1 700.6h1.1v1.1h-1.1zM114.5 701.5h1.1v1.1h-1.1zM120.7 698.9h1.1v1.1h-1.1zM118.1 699.1h1.1v1.1h-1.1zM126.0 702.0h1.1v1.1h-1.1zM115.4 702.3h1.1v1.1h-1.1zM115.2 700.8h1.1v1.1h-1.1zM117.9 701.5h1.1v1.1h-1.1zM116.6 699.1h1.1v1.1h-1.1zM114.1 700.4h1.1v1.1h-1.1zM124.3 699.2h1.1v1.1h-1.1zM126.2 698.9h1.1v1.1h-1.1zM126.2 702.3h1.1v1.1h-1.1zM116.1 699.6h1.1v1.1h-1.1zM127.8 699.1h1.1v1.1h-1.1zM114.9 700.9h1.1v1.1h-1.1zM116.4 698.7h1.1v1.1h-1.1zM114.2 700.3h1.1v1.1h-1.1zM116.9 702.0h1.1v1.1h-1.1zM120.1 698.9h1.1v1.1h-1.1zM127.1 700.2h1.1v1.1h-1.1zM127.4 701.2h1.1v1.1h-1.1zM118.0 702.0h1.1v1.1h-1.1zM128.2 700.4h1.1v1.1h-1.1zM128.7 700.8h1.1v1.1h-1.1zM114.2 701.4h1.1v1.1h-1.1zM128.6 700.7h1.1v1.1h-1.1zM119.6 698.1h1.1v1.1h-1.1zM122.2 698.8h1.1v1.1h-1.1zM124.1 703.4h1.1v1.1h-1.1zM125.5 698.0h1.1v1.1h-1.1zM129.1 700.4h1.1v1.1h-1.1zM117.1 700.2h1.1v1.1h-1.1zM121.7 702.8h1.1v1.1h-1.1zM129.1 699.7h1.1v1.1h-1.1zM126.9 698.3h1.1v1.1h-1.1zM125.9 698.7h1.1v1.1h-1.1zM114.5 701.8h1.1v1.1h-1.1zM126.7 702.4h1.1v1.1h-1.1zM115.3 699.8h1.1v1.1h-1.1zM127.4 698.3h1.1v1.1h-1.1zM129.0 701.7h1.1v1.1h-1.1zM116.9 701.4h1.1v1.1h-1.1zM121.0 703.5h1.1v1.1h-1.1zM124.7 702.5h1.1v1.1h-1.1zM126.0 698.9h1.1v1.1h-1.1zM129.4 700.4h1.1v1.1h-1.1zM124.1 702.8h1.1v1.1h-1.1zM117.6 698.6h1.1v1.1h-1.1zM116.2 699.1h1.1v1.1h-1.1zM117.7 702.8h1.1v1.1h-1.1zM118.2 703.0h1.1v1.1h-1.1zM118.8 702.2h1.1v1.1h-1.1zM118.4 699.3h1.1v1.1h-1.1zM117.2 699.5h1.1v1.1h-1.1zM117.0 703.0h1.1v1.1h-1.1zM118.3 698.9h1.1v1.1h-1.1z"/><path fill="#cbc9f2" d="M152.1 723.9h1.1v1.1h-1.1zM124.6 730.5h1.1v1.1h-1.1zM139.9 738.6h1.1v1.1h-1.1zM152.5 719.6h1.1v1.1h-1.1zM126.6 702.0h1.1v1.1h-1.1zM151.2 717.5h1.1v1.1h-1.1zM133.6 734.1h1.1v1.1h-1.1zM134.2 735.4h1.1v1.1h-1.1zM128.5 700.4h1.1v1.1h-1.1zM154.6 725.2h1.1v1.1h-1.1zM140.2 733.7h1.1v1.1h-1.1zM128.0 699.4h1.1v1.1h-1.1zM116.2 723.1h1.1v1.1h-1.1zM154.3 711.8h1.1v1.1h-1.1zM152.1 723.0h1.1v1.1h-1.1zM118.7 713.8h1.1v1.1h-1.1zM148.0 706.8h1.1v1.1h-1.1zM130.6 736.9h1.1v1.1h-1.1zM135.3 695.3h1.1v1.1h-1.1zM122.1 732.7h1.1v1.1h-1.1zM142.6 735.1h1.1v1.1h-1.1zM153.6 712.8h1.1v1.1h-1.1zM155.2 711.8h1.1v1.1h-1.1zM146.9 728.2h1.1v1.1h-1.1zM115.4 716.2h1.1v1.1h-1.1zM140.2 698.7h1.1v1.1h-1.1zM153.6 706.1h1.1v1.1h-1.1zM121.2 728.0h1.1v1.1h-1.1zM149.4 702.3h1.1v1.1h-1.1zM120.2 703.4h1.1v1.1h-1.1zM140.3 733.3h1.1v1.1h-1.1zM122.9 699.3h1.1v1.1h-1.1zM135.5 734.8h1.1v1.1h-1.1zM152.8 710.2h1.1v1.1h-1.1zM132.4 699.7h1.1v1.1h-1.1zM139.7 698.6h1.1v1.1h-1.1zM132.8 699.5h1.1v1.1h-1.1zM152.1 719.6h1.1v1.1h-1.1zM137.4 736.4h1.1v1.1h-1.1zM125.2 732.9h1.1v1.1h-1.1zM124.9 732.1h1.1v1.1h-1.1zM125.8 702.0h1.1v1.1h-1.1zM146.8 729.7h1.1v1.1h-1.1zM138.6 696.4h1.1v1.1h-1.1zM149.4 728.0h1.1v1.1h-1.1zM115.4 725.4h1.1v1.1h-1.1zM150.3 707.5h1.1v1.1h-1.1zM114.9 721.1h1.1v1.1h-1.1zM117.6 712.2h1.1v1.1h-1.1zM114.4 715.3h1.1v1.1h-1.1zM138.2 739.5h1.1v1.1h-1.1zM116.5 721.1h1.1v1.1h-1.1zM115.7 722.5h1.1v1.1h-1.1zM148.2 705.4h1.1v1.1h-1.1zM130.1 733.2h1.1v1.1h-1.1zM131.3 738.5h1.1v1.1h-1.1zM150.4 719.2h1.1v1.1h-1.1zM140.0 698.3h1.1v1.1h-1.1zM125.3 732.2h1.1v1.1h-1.1zM127.2 731.8h1.1v1.1h-1.1zM149.2 702.9h1.1v1.1h-1.1zM137.9 699.1h1.1v1.1h-1.1zM120.2 709.4h1.1v1.1h-1.1zM150.4 709.1h1.1v1.1h-1.1zM141.2 738.2h1.1v1.1h-1.1zM144.2 697.3h1.1v1.1h-1.1zM150.0 725.0h1.1v1.1h-1.1zM152.1 714.8h1.1v1.1h-1.1zM132.1 738.6h1.1v1.1h-1.1zM139.5 699.5h1.1v1.1h-1.1z"/><path fill="#3a5ae6" d="M149.3 740.3h1.1v1.1h-1.1zM148.9 742.7h1.1v1.1h-1.1zM148.2 741.0h1.1v1.1h-1.1zM150.0 744.3h1.1v1.1h-1.1zM147.6 743.5h1.1v1.1h-1.1zM150.0 743.5h1.1v1.1h-1.1zM149.6 739.6h1.1v1.1h-1.1zM148.4 743.6h1.1v1.1h-1.1zM147.7 741.2h1.1v1.1h-1.1zM148.4 741.1h1.1v1.1h-1.1zM149.3 744.0h1.1v1.1h-1.1zM149.7 744.7h1.1v1.1h-1.1zM148.0 738.7h1.1v1.1h-1.1zM149.8 741.4h1.1v1.1h-1.1zM148.1 738.6h1.1v1.1h-1.1zM148.6 743.4h1.1v1.1h-1.1zM150.0 742.9h1.1v1.1h-1.1zM148.1 739.3h1.1v1.1h-1.1zM149.1 743.2h1.1v1.1h-1.1zM150.0 739.5h1.1v1.1h-1.1zM148.7 738.6h1.1v1.1h-1.1zM148.1 738.8h1.1v1.1h-1.1zM149.5 740.6h1.1v1.1h-1.1zM148.6 739.0h1.1v1.1h-1.1zM147.8 743.8h1.1v1.1h-1.1z"/><path fill="#8088e5" d="M132.2 698.4h1.1v1.1h-1.1zM133.7 700.6h1.1v1.1h-1.1zM117.0 696.5h1.1v1.1h-1.1zM134.0 699.7h1.1v1.1h-1.1zM134.6 698.7h1.1v1.1h-1.1zM119.9 705.1h1.1v1.1h-1.1zM119.6 706.1h1.1v1.1h-1.1zM131.4 704.3h1.1v1.1h-1.1zM125.1 696.3h1.1v1.1h-1.1zM127.6 705.2h1.1v1.1h-1.1zM111.5 703.9h1.1v1.1h-1.1zM109.9 700.7h1.1v1.1h-1.1zM117.0 704.8h1.1v1.1h-1.1zM133.1 702.5h1.1v1.1h-1.1zM129.9 704.2h1.1v1.1h-1.1zM130.5 705.2h1.1v1.1h-1.1zM134.3 701.8h1.1v1.1h-1.1zM114.5 705.0h1.1v1.1h-1.1zM130.9 697.0h1.1v1.1h-1.1zM116.5 705.4h1.1v1.1h-1.1zM134.5 698.5h1.1v1.1h-1.1zM117.9 704.9h1.1v1.1h-1.1zM134.5 699.8h1.1v1.1h-1.1zM121.0 695.2h1.1v1.1h-1.1zM132.3 698.4h1.1v1.1h-1.1zM133.5 703.0h1.1v1.1h-1.1zM119.2 695.9h1.1v1.1h-1.1zM110.2 702.5h1.1v1.1h-1.1zM114.3 695.8h1.1v1.1h-1.1zM134.6 702.3h1.1v1.1h-1.1zM133.6 697.2h1.1v1.1h-1.1zM110.9 699.0h1.1v1.1h-1.1zM122.6 705.0h1.1v1.1h-1.1zM126.8 704.9h1.1v1.1h-1.1zM124.6 705.2h1.1v1.1h-1.1zM113.1 704.5h1.1v1.1h-1.1zM125.0 696.5h1.1v1.1h-1.1zM116.0 705.8h1.1v1.1h-1.1zM121.5 695.8h1.1v1.1h-1.1zM125.8 696.3h1.1v1.1h-1.1zM123.7 696.3h1.1v1.1h-1.1zM113.0 696.1h1.1v1.1h-1.1zM110.5 699.6h1.1v1.1h-1.1zM127.9 704.9h1.1v1.1h-1.1zM134.1 699.1h1.1v1.1h-1.1zM134.6 700.0h1.1v1.1h-1.1zM117.2 705.8h1.1v1.1h-1.1zM129.5 696.4h1.1v1.1h-1.1zM108.9 699.1h1.1v1.1h-1.1zM130.2 696.0h1.1v1.1h-1.1zM135.9 699.4h1.1v1.1h-1.1zM110.0 703.7h1.1v1.1h-1.1zM131.8 697.5h1.1v1.1h-1.1zM125.3 696.4h1.1v1.1h-1.1zM112.8 704.0h1.1v1.1h-1.1zM109.3 701.2h1.1v1.1h-1.1zM129.3 705.5h1.1v1.1h-1.1z"/><path fill="#a0a4ec" d="M146.0 699.9h1.1v1.1h-1.1zM118.0 691.3h1.1v1.1h-1.1zM109.1 708.5h1.1v1.1h-1.1zM125.0 708.9h1.1v1.1h-1.1zM137.1 706.8h1.1v1.1h-1.1zM128.4 709.7h1.1v1.1h-1.1zM136.9 694.3h1.1v1.1h-1.1zM121.5 708.5h1.1v1.1h-1.1zM117.4 691.6h1.1v1.1h-1.1zM128.3 708.8h1.1v1.1h-1.1zM117.4 708.2h1.1v1.1h-1.1zM118.4 708.7h1.1v1.1h-1.1zM135.8 707.1h1.1v1.1h-1.1zM110.9 693.8h1.1v1.1h-1.1zM141.0 704.6h1.1v1.1h-1.1zM115.3 709.5h1.1v1.1h-1.1zM133.4 694.0h1.1v1.1h-1.1zM133.8 707.5h1.1v1.1h-1.1zM128.9 692.7h1.1v1.1h-1.1zM118.0 709.1h1.1v1.1h-1.1z"/><path fill="#306aee" d="M147.0 724.7h1.1v1.1h-1.1zM146.0 729.6h1.1v1.1h-1.1zM145.6 726.1h1.1v1.1h-1.1zM150.0 731.8h1.1v1.1h-1.1zM146.4 730.4h1.1v1.1h-1.1zM150.1 730.6h1.1v1.1h-1.1zM151.1 723.4h1.1v1.1h-1.1zM151.6 725.4h1.1v1.1h-1.1zM146.6 727.9h1.1v1.1h-1.1zM151.2 723.6h1.1v1.1h-1.1zM146.8 725.0h1.1v1.1h-1.1zM146.9 732.0h1.1v1.1h-1.1zM151.6 728.2h1.1v1.1h-1.1zM151.6 724.9h1.1v1.1h-1.1zM147.2 729.8h1.1v1.1h-1.1zM151.6 729.6h1.1v1.1h-1.1zM150.8 729.1h1.1v1.1h-1.1zM150.7 731.1h1.1v1.1h-1.1zM146.3 731.5h1.1v1.1h-1.1zM149.7 722.7h1.1v1.1h-1.1zM148.6 731.9h1.1v1.1h-1.1zM151.0 729.4h1.1v1.1h-1.1zM149.3 723.1h1.1v1.1h-1.1zM150.5 724.4h1.1v1.1h-1.1zM151.7 725.8h1.1v1.1h-1.1zM146.9 728.6h1.1v1.1h-1.1zM151.6 730.8h1.1v1.1h-1.1zM152.1 725.8h1.1v1.1h-1.1zM145.8 727.1h1.1v1.1h-1.1zM147.9 731.6h1.1v1.1h-1.1zM145.4 726.4h1.1v1.1h-1.1zM149.5 730.9h1.1v1.1h-1.1zM151.3 723.1h1.1v1.1h-1.1zM148.1 732.6h1.1v1.1h-1.1zM146.7 722.9h1.1v1.1h-1.1zM148.0 723.9h1.1v1.1h-1.1zM146.7 727.8h1.1v1.1h-1.1zM148.1 722.6h1.1v1.1h-1.1zM149.8 731.2h1.1v1.1h-1.1zM147.5 724.1h1.1v1.1h-1.1zM146.3 726.8h1.1v1.1h-1.1zM146.9 730.9h1.1v1.1h-1.1zM147.0 730.7h1.1v1.1h-1.1zM146.0 729.5h1.1v1.1h-1.1zM146.9 724.0h1.1v1.1h-1.1zM146.1 727.2h1.1v1.1h-1.1zM149.2 722.4h1.1v1.1h-1.1zM150.7 730.3h1.1v1.1h-1.1zM148.1 723.6h1.1v1.1h-1.1zM149.0 732.5h1.1v1.1h-1.1zM145.7 730.4h1.1v1.1h-1.1zM147.0 723.8h1.1v1.1h-1.1zM146.9 723.9h1.1v1.1h-1.1zM146.5 731.7h1.1v1.1h-1.1zM150.8 731.2h1.1v1.1h-1.1zM150.6 730.9h1.1v1.1h-1.1zM150.2 730.3h1.1v1.1h-1.1zM145.2 729.0h1.1v1.1h-1.1zM149.7 733.2h1.1v1.1h-1.1zM152.0 731.0h1.1v1.1h-1.1zM150.2 730.8h1.1v1.1h-1.1zM149.7 721.9h1.1v1.1h-1.1zM150.4 723.2h1.1v1.1h-1.1zM148.0 730.5h1.1v1.1h-1.1zM150.6 723.4h1.1v1.1h-1.1zM149.5 722.9h1.1v1.1h-1.1zM150.5 725.4h1.1v1.1h-1.1z"/><path fill="#888ce3" d="M128.7 734.9h1.1v1.1h-1.1zM121.0 724.6h1.1v1.1h-1.1zM116.4 736.9h1.1v1.1h-1.1zM117.0 738.2h1.1v1.1h-1.1zM130.1 733.3h1.1v1.1h-1.1zM128.0 729.8h1.1v1.1h-1.1zM124.9 723.6h1.1v1.1h-1.1zM126.9 729.4h1.1v1.1h-1.1zM117.5 740.1h1.1v1.1h-1.1zM117.3 735.6h1.1v1.1h-1.1zM124.9 740.7h1.1v1.1h-1.1zM127.4 728.1h1.1v1.1h-1.1zM117.6 730.2h1.1v1.1h-1.1zM128.2 736.5h1.1v1.1h-1.1zM123.6 738.3h1.1v1.1h-1.1zM126.9 738.9h1.1v1.1h-1.1zM117.6 725.2h1.1v1.1h-1.1zM120.2 725.1h1.1v1.1h-1.1zM119.3 736.9h1.1v1.1h-1.1zM129.5 735.6h1.1v1.1h-1.1zM120.8 727.2h1.1v1.1h-1.1zM129.1 726.8h1.1v1.1h-1.1zM117.4 730.0h1.1v1.1h-1.1zM127.8 730.9h1.1v1.1h-1.1zM129.2 726.0h1.1v1.1h-1.1zM120.7 726.4h1.1v1.1h-1.1zM122.7 741.3h1.1v1.1h-1.1zM115.4 735.8h1.1v1.1h-1.1zM126.6 736.3h1.1v1.1h-1.1zM128.8 730.6h1.1v1.1h-1.1zM128.8 732.6h1.1v1.1h-1.1zM116.8 734.8h1.1v1.1h-1.1zM119.9 724.9h1.1v1.1h-1.1zM121.2 738.1h1.1v1.1h-1.1zM127.5 740.4h1.1v1.1h-1.1zM125.7 739.9h1.1v1.1h-1.1zM129.3 731.8h1.1v1.1h-1.1zM119.4 740.0h1.1v1.1h-1.1zM123.2 725.0h1.1v1.1h-1.1zM127.9 730.2h1.1v1.1h-1.1zM119.9 726.4h1.1v1.1h-1.1zM126.7 736.0h1.1v1.1h-1.1zM117.4 733.2h1.1v1.1h-1.1zM125.9 723.3h1.1v1.1h-1.1zM117.5 725.5h1.1v1.1h-1.1zM115.9 735.6h1.1v1.1h-1.1zM122.5 741.6h1.1v1.1h-1.1zM115.7 731.9h1.1v1.1h-1.1zM128.1 739.4h1.1v1.1h-1.1zM116.3 731.5h1.1v1.1h-1.1zM118.8 740.7h1.1v1.1h-1.1zM128.2 727.8h1.1v1.1h-1.1zM127.7 725.9h1.1v1.1h-1.1zM120.3 724.0h1.1v1.1h-1.1zM123.9 723.5h1.1v1.1h-1.1zM123.3 722.7h1.1v1.1h-1.1zM125.0 727.4h1.1v1.1h-1.1zM119.3 738.4h1.1v1.1h-1.1zM122.3 722.6h1.1v1.1h-1.1zM124.7 726.1h1.1v1.1h-1.1zM126.7 736.2h1.1v1.1h-1.1zM127.7 732.6h1.1v1.1h-1.1zM121.9 722.7h1.1v1.1h-1.1zM118.3 737.9h1.1v1.1h-1.1zM119.5 736.7h1.1v1.1h-1.1zM128.4 733.1h1.1v1.1h-1.1zM125.5 727.6h1.1v1.1h-1.1zM130.0 734.9h1.1v1.1h-1.1zM119.2 728.5h1.1v1.1h-1.1zM116.6 729.5h1.1v1.1h-1.1zM118.9 725.7h1.1v1.1h-1.1zM119.2 724.4h1.1v1.1h-1.1zM124.2 740.9h1.1v1.1h-1.1zM123.3 740.3h1.1v1.1h-1.1zM129.3 738.4h1.1v1.1h-1.1zM128.8 733.4h1.1v1.1h-1.1zM118.8 738.6h1.1v1.1h-1.1zM130.2 737.2h1.1v1.1h-1.1zM127.7 733.5h1.1v1.1h-1.1zM127.0 736.1h1.1v1.1h-1.1zM127.7 726.0h1.1v1.1h-1.1zM120.1 724.8h1.1v1.1h-1.1zM126.4 725.7h1.1v1.1h-1.1zM124.0 727.2h1.1v1.1h-1.1zM123.2 723.6h1.1v1.1h-1.1zM117.3 739.6h1.1v1.1h-1.1zM130.8 735.6h1.1v1.1h-1.1zM119.1 726.4h1.1v1.1h-1.1zM128.6 736.5h1.1v1.1h-1.1zM117.9 733.1h1.1v1.1h-1.1zM127.6 728.7h1.1v1.1h-1.1zM119.9 740.0h1.1v1.1h-1.1zM127.7 726.1h1.1v1.1h-1.1zM125.2 725.2h1.1v1.1h-1.1zM118.2 737.9h1.1v1.1h-1.1zM117.4 735.4h1.1v1.1h-1.1zM126.1 740.5h1.1v1.1h-1.1zM125.3 738.4h1.1v1.1h-1.1zM122.7 739.8h1.1v1.1h-1.1zM117.1 730.5h1.1v1.1h-1.1zM116.5 736.3h1.1v1.1h-1.1zM123.9 742.1h1.1v1.1h-1.1zM116.3 732.0h1.1v1.1h-1.1zM126.5 736.1h1.1v1.1h-1.1zM118.9 736.6h1.1v1.1h-1.1zM122.3 738.7h1.1v1.1h-1.1zM118.4 730.5h1.1v1.1h-1.1zM124.8 726.5h1.1v1.1h-1.1zM122.4 726.7h1.1v1.1h-1.1zM130.1 732.4h1.1v1.1h-1.1zM129.5 736.0h1.1v1.1h-1.1zM123.8 726.8h1.1v1.1h-1.1zM129.0 737.6h1.1v1.1h-1.1zM117.8 740.4h1.1v1.1h-1.1zM120.5 723.5h1.1v1.1h-1.1zM114.6 731.4h1.1v1.1h-1.1zM119.1 741.3h1.1v1.1h-1.1zM126.7 736.7h1.1v1.1h-1.1zM116.8 732.1h1.1v1.1h-1.1zM127.6 736.1h1.1v1.1h-1.1zM115.8 735.1h1.1v1.1h-1.1zM129.5 731.3h1.1v1.1h-1.1zM129.6 737.7h1.1v1.1h-1.1zM117.5 726.2h1.1v1.1h-1.1zM117.4 729.3h1.1v1.1h-1.1zM123.7 724.5h1.1v1.1h-1.1zM123.3 724.6h1.1v1.1h-1.1zM121.9 740.6h1.1v1.1h-1.1zM128.8 738.1h1.1v1.1h-1.1zM129.1 739.4h1.1v1.1h-1.1zM123.8 741.7h1.1v1.1h-1.1zM127.4 725.5h1.1v1.1h-1.1zM118.9 724.5h1.1v1.1h-1.1zM121.2 738.6h1.1v1.1h-1.1zM120.4 727.1h1.1v1.1h-1.1zM128.0 734.2h1.1v1.1h-1.1zM127.6 727.4h1.1v1.1h-1.1zM120.9 739.5h1.1v1.1h-1.1zM123.9 725.1h1.1v1.1h-1.1zM119.3 737.9h1.1v1.1h-1.1zM129.0 732.4h1.1v1.1h-1.1zM128.1 733.8h1.1v1.1h-1.1zM118.2 739.2h1.1v1.1h-1.1zM120.0 724.6h1.1v1.1h-1.1zM124.8 723.1h1.1v1.1h-1.1zM119.5 741.1h1.1v1.1h-1.1zM129.3 734.4h1.1v1.1h-1.1zM117.3 739.7h1.1v1.1h-1.1zM127.6 736.9h1.1v1.1h-1.1zM117.6 727.4h1.1v1.1h-1.1zM128.4 730.3h1.1v1.1h-1.1zM130.1 737.3h1.1v1.1h-1.1z"/><path fill="#b9b8ef" d="M126.5 723.3h1.1v1.1h-1.1zM130.1 707.8h1.1v1.1h-1.1zM134.9 728.8h1.1v1.1h-1.1zM126.8 710.2h1.1v1.1h-1.1zM141.9 710.8h1.1v1.1h-1.1zM130.6 706.0h1.1v1.1h-1.1zM146.4 715.8h1.1v1.1h-1.1zM132.3 726.1h1.1v1.1h-1.1zM126.2 724.3h1.1v1.1h-1.1zM126.5 725.4h1.1v1.1h-1.1zM125.5 714.7h1.1v1.1h-1.1zM136.6 727.6h1.1v1.1h-1.1zM143.1 720.0h1.1v1.1h-1.1zM136.9 705.0h1.1v1.1h-1.1zM146.0 717.1h1.1v1.1h-1.1zM136.2 706.9h1.1v1.1h-1.1zM143.3 709.0h1.1v1.1h-1.1zM142.7 726.2h1.1v1.1h-1.1zM142.9 710.9h1.1v1.1h-1.1zM132.0 707.5h1.1v1.1h-1.1zM124.7 710.7h1.1v1.1h-1.1zM143.3 718.3h1.1v1.1h-1.1zM136.2 727.7h1.1v1.1h-1.1zM144.1 718.2h1.1v1.1h-1.1zM124.9 712.3h1.1v1.1h-1.1zM139.6 706.9h1.1v1.1h-1.1zM126.0 718.6h1.1v1.1h-1.1zM143.8 710.0h1.1v1.1h-1.1zM136.5 707.1h1.1v1.1h-1.1zM142.7 723.1h1.1v1.1h-1.1zM135.2 705.4h1.1v1.1h-1.1zM142.1 721.6h1.1v1.1h-1.1zM137.7 727.1h1.1v1.1h-1.1zM129.6 724.7h1.1v1.1h-1.1zM144.4 710.6h1.1v1.1h-1.1zM145.6 713.8h1.1v1.1h-1.1zM139.2 706.0h1.1v1.1h-1.1zM125.9 721.9h1.1v1.1h-1.1zM143.9 712.6h1.1v1.1h-1.1zM144.3 722.2h1.1v1.1h-1.1zM143.6 710.4h1.1v1.1h-1.1zM129.2 724.3h1.1v1.1h-1.1zM128.7 706.9h1.1v1.1h-1.1zM137.1 705.4h1.1v1.1h-1.1zM145.0 718.2h1.1v1.1h-1.1zM144.2 718.0h1.1v1.1h-1.1zM137.7 706.3h1.1v1.1h-1.1zM140.7 706.8h1.1v1.1h-1.1zM126.7 708.5h1.1v1.1h-1.1zM131.4 725.7h1.1v1.1h-1.1zM144.3 711.2h1.1v1.1h-1.1zM133.5 704.6h1.1v1.1h-1.1zM142.5 721.6h1.1v1.1h-1.1zM133.1 706.4h1.1v1.1h-1.1zM127.0 709.5h1.1v1.1h-1.1zM126.8 719.4h1.1v1.1h-1.1zM130.6 727.8h1.1v1.1h-1.1zM125.5 715.6h1.1v1.1h-1.1zM130.0 708.1h1.1v1.1h-1.1zM144.9 714.1h1.1v1.1h-1.1zM134.3 707.2h1.1v1.1h-1.1zM132.0 705.7h1.1v1.1h-1.1zM142.0 723.9h1.1v1.1h-1.1zM131.3 727.2h1.1v1.1h-1.1zM126.9 721.7h1.1v1.1h-1.1zM133.3 705.5h1.1v1.1h-1.1zM124.2 717.2h1.1v1.1h-1.1zM126.7 710.3h1.1v1.1h-1.1zM126.7 721.1h1.1v1.1h-1.1zM142.3 710.0h1.1v1.1h-1.1zM142.6 709.3h1.1v1.1h-1.1zM144.9 719.4h1.1v1.1h-1.1zM127.0 712.6h1.1v1.1h-1.1zM126.3 717.3h1.1v1.1h-1.1zM129.1 709.6h1.1v1.1h-1.1zM141.7 707.0h1.1v1.1h-1.1zM143.7 716.0h1.1v1.1h-1.1z"/><path fill="#9699e6" d="M113.2 734.3h1.1v1.1h-1.1zM124.7 745.1h1.1v1.1h-1.1zM133.4 736.9h1.1v1.1h-1.1zM131.6 728.0h1.1v1.1h-1.1zM123.6 720.6h1.1v1.1h-1.1zM119.0 722.5h1.1v1.1h-1.1zM117.7 745.3h1.1v1.1h-1.1zM125.1 720.5h1.1v1.1h-1.1zM122.1 744.8h1.1v1.1h-1.1zM116.3 723.7h1.1v1.1h-1.1zM131.6 728.0h1.1v1.1h-1.1zM117.7 742.5h1.1v1.1h-1.1zM114.3 727.1h1.1v1.1h-1.1zM133.6 729.2h1.1v1.1h-1.1zM117.6 740.7h1.1v1.1h-1.1zM128.4 723.1h1.1v1.1h-1.1zM124.8 744.7h1.1v1.1h-1.1zM116.1 743.6h1.1v1.1h-1.1zM124.1 746.3h1.1v1.1h-1.1zM112.8 727.5h1.1v1.1h-1.1zM117.5 724.2h1.1v1.1h-1.1zM131.1 741.5h1.1v1.1h-1.1zM117.9 744.5h1.1v1.1h-1.1zM111.8 730.7h1.1v1.1h-1.1zM124.9 721.4h1.1v1.1h-1.1zM131.3 725.7h1.1v1.1h-1.1zM131.9 734.7h1.1v1.1h-1.1zM114.4 728.5h1.1v1.1h-1.1zM130.9 737.9h1.1v1.1h-1.1zM122.3 744.0h1.1v1.1h-1.1zM129.1 725.0h1.1v1.1h-1.1zM122.0 721.8h1.1v1.1h-1.1zM131.9 732.5h1.1v1.1h-1.1zM120.2 719.2h1.1v1.1h-1.1zM118.4 721.4h1.1v1.1h-1.1zM133.9 728.2h1.1v1.1h-1.1zM125.4 742.8h1.1v1.1h-1.1zM134.1 730.0h1.1v1.1h-1.1zM129.3 724.9h1.1v1.1h-1.1zM119.6 722.4h1.1v1.1h-1.1zM130.5 740.3h1.1v1.1h-1.1zM125.5 721.2h1.1v1.1h-1.1zM120.8 745.1h1.1v1.1h-1.1zM131.0 740.7h1.1v1.1h-1.1zM111.5 730.2h1.1v1.1h-1.1zM122.0 746.0h1.1v1.1h-1.1zM112.7 736.7h1.1v1.1h-1.1zM126.9 741.9h1.1v1.1h-1.1zM114.5 728.2h1.1v1.1h-1.1zM127.1 720.6h1.1v1.1h-1.1zM118.4 723.5h1.1v1.1h-1.1zM120.4 744.4h1.1v1.1h-1.1zM131.7 731.7h1.1v1.1h-1.1zM133.1 734.6h1.1v1.1h-1.1zM116.6 722.3h1.1v1.1h-1.1zM131.2 738.5h1.1v1.1h-1.1zM129.2 722.1h1.1v1.1h-1.1zM131.6 730.7h1.1v1.1h-1.1zM127.7 744.7h1.1v1.1h-1.1zM126.7 720.6h1.1v1.1h-1.1zM123.3 720.9h1.1v1.1h-1.1zM119.2 719.8h1.1v1.1h-1.1zM123.5 722.0h1.1v1.1h-1.1zM130.3 721.7h1.1v1.1h-1.1zM131.0 727.8h1.1v1.1h-1.1zM131.9 731.3h1.1v1.1h-1.1zM131.9 733.3h1.1v1.1h-1.1zM123.4 718.6h1.1v1.1h-1.1zM129.5 722.5h1.1v1.1h-1.1zM130.4 721.8h1.1v1.1h-1.1zM113.4 729.1h1.1v1.1h-1.1zM127.6 723.1h1.1v1.1h-1.1zM133.0 735.3h1.1v1.1h-1.1zM113.6 724.5h1.1v1.1h-1.1zM118.9 745.0h1.1v1.1h-1.1zM114.6 727.6h1.1v1.1h-1.1zM127.0 723.4h1.1v1.1h-1.1zM128.9 722.5h1.1v1.1h-1.1zM126.6 719.2h1.1v1.1h-1.1zM124.7 745.2h1.1v1.1h-1.1zM128.2 742.9h1.1v1.1h-1.1zM130.3 740.5h1.1v1.1h-1.1zM131.9 738.2h1.1v1.1h-1.1zM125.1 719.1h1.1v1.1h-1.1zM130.7 737.4h1.1v1.1h-1.1zM126.4 722.1h1.1v1.1h-1.1zM126.8 745.9h1.1v1.1h-1.1zM114.1 725.9h1.1v1.1h-1.1zM120.1 744.1h1.1v1.1h-1.1zM117.5 720.6h1.1v1.1h-1.1zM116.6 723.4h1.1v1.1h-1.1zM120.7 719.8h1.1v1.1h-1.1zM130.9 728.4h1.1v1.1h-1.1zM133.3 736.8h1.1v1.1h-1.1zM133.4 733.5h1.1v1.1h-1.1zM123.7 718.7h1.1v1.1h-1.1zM122.2 744.8h1.1v1.1h-1.1zM112.2 732.4h1.1v1.1h-1.1zM114.5 726.6h1.1v1.1h-1.1zM129.0 743.8h1.1v1.1h-1.1zM132.5 738.8h1.1v1.1h-1.1zM115.2 742.1h1.1v1.1h-1.1zM115.0 725.7h1.1v1.1h-1.1zM132.0 735.8h1.1v1.1h-1.1zM115.2 727.6h1.1v1.1h-1.1zM132.6 731.5h1.1v1.1h-1.1zM122.1 721.5h1.1v1.1h-1.1zM131.6 736.0h1.1v1.1h-1.1zM111.2 732.4h1.1v1.1h-1.1zM121.5 743.9h1.1v1.1h-1.1zM125.1 743.5h1.1v1.1h-1.1zM133.9 733.9h1.1v1.1h-1.1zM113.8 730.0h1.1v1.1h-1.1zM131.7 736.0h1.1v1.1h-1.1zM130.2 737.8h1.1v1.1h-1.1zM132.9 738.4h1.1v1.1h-1.1zM117.6 724.3h1.1v1.1h-1.1zM114.9 723.9h1.1v1.1h-1.1zM117.6 743.0h1.1v1.1h-1.1zM111.9 735.8h1.1v1.1h-1.1zM122.5 721.2h1.1v1.1h-1.1zM121.9 743.9h1.1v1.1h-1.1zM128.8 744.0h1.1v1.1h-1.1zM130.2 726.3h1.1v1.1h-1.1zM120.1 743.8h1.1v1.1h-1.1zM125.3 745.7h1.1v1.1h-1.1zM116.0 742.4h1.1v1.1h-1.1zM113.0 739.6h1.1v1.1h-1.1zM114.6 728.5h1.1v1.1h-1.1zM114.5 726.4h1.1v1.1h-1.1zM131.6 723.5h1.1v1.1h-1.1zM134.6 732.8h1.1v1.1h-1.1zM131.6 741.7h1.1v1.1h-1.1zM119.4 745.2h1.1v1.1h-1.1zM125.7 722.3h1.1v1.1h-1.1zM121.7 744.4h1.1v1.1h-1.1zM123.5 746.5h1.1v1.1h-1.1zM112.6 736.4h1.1v1.1h-1.1zM129.9 724.3h1.1v1.1h-1.1zM127.6 723.1h1.1v1.1h-1.1zM127.9 719.8h1.1v1.1h-1.1zM120.5 721.1h1.1v1.1h-1.1zM116.7 743.5h1.1v1.1h-1.1zM123.9 743.4h1.1v1.1h-1.1zM130.2 725.7h1.1v1.1h-1.1z"/><path fill="#6a7ae7" d="M146.7 730.5h1.1v1.1h-1.1zM154.0 740.3h1.1v1.1h-1.1zM147.0 732.3h1.1v1.1h-1.1zM143.2 739.6h1.1v1.1h-1.1zM147.0 730.6h1.1v1.1h-1.1zM145.2 733.9h1.1v1.1h-1.1zM144.6 737.6h1.1v1.1h-1.1zM153.3 737.3h1.1v1.1h-1.1zM147.7 731.3h1.1v1.1h-1.1zM149.9 730.6h1.1v1.1h-1.1zM149.1 730.1h1.1v1.1h-1.1zM152.5 747.9h1.1v1.1h-1.1zM145.3 749.0h1.1v1.1h-1.1zM144.5 736.4h1.1v1.1h-1.1zM153.6 736.5h1.1v1.1h-1.1zM145.5 731.5h1.1v1.1h-1.1zM148.2 729.7h1.1v1.1h-1.1zM147.2 730.2h1.1v1.1h-1.1zM154.9 742.9h1.1v1.1h-1.1zM143.9 744.3h1.1v1.1h-1.1zM144.9 750.2h1.1v1.1h-1.1zM154.5 744.3h1.1v1.1h-1.1zM148.4 731.2h1.1v1.1h-1.1zM152.5 748.7h1.1v1.1h-1.1zM145.2 733.6h1.1v1.1h-1.1zM152.5 735.4h1.1v1.1h-1.1zM150.7 732.2h1.1v1.1h-1.1zM154.1 743.2h1.1v1.1h-1.1zM153.7 741.2h1.1v1.1h-1.1zM153.8 734.7h1.1v1.1h-1.1zM143.4 739.9h1.1v1.1h-1.1zM152.6 734.3h1.1v1.1h-1.1zM143.5 739.0h1.1v1.1h-1.1zM152.7 748.3h1.1v1.1h-1.1zM153.4 747.1h1.1v1.1h-1.1zM149.9 729.6h1.1v1.1h-1.1zM151.4 732.1h1.1v1.1h-1.1zM145.4 734.2h1.1v1.1h-1.1zM143.7 737.5h1.1v1.1h-1.1zM143.4 739.2h1.1v1.1h-1.1zM143.8 742.3h1.1v1.1h-1.1z"/><path fill="#4a64e6" d="M149.2 737.9h1.1v1.1h-1.1zM148.1 745.6h1.1v1.1h-1.1zM149.2 746.9h1.1v1.1h-1.1zM146.8 745.0h1.1v1.1h-1.1zM149.9 745.4h1.1v1.1h-1.1zM149.8 745.8h1.1v1.1h-1.1zM151.1 741.2h1.1v1.1h-1.1zM146.8 741.3h1.1v1.1h-1.1zM151.9 740.2h1.1v1.1h-1.1zM147.1 737.2h1.1v1.1h-1.1zM151.0 741.7h1.1v1.1h-1.1zM148.7 736.6h1.1v1.1h-1.1zM147.2 744.2h1.1v1.1h-1.1zM147.3 746.0h1.1v1.1h-1.1zM146.7 745.3h1.1v1.1h-1.1zM149.0 737.5h1.1v1.1h-1.1zM148.5 746.9h1.1v1.1h-1.1zM146.3 743.4h1.1v1.1h-1.1zM146.8 739.5h1.1v1.1h-1.1zM151.6 739.9h1.1v1.1h-1.1zM148.0 746.7h1.1v1.1h-1.1zM146.9 744.4h1.1v1.1h-1.1zM148.2 747.0h1.1v1.1h-1.1zM152.0 741.7h1.1v1.1h-1.1zM146.3 741.9h1.1v1.1h-1.1zM149.7 737.6h1.1v1.1h-1.1zM146.4 742.6h1.1v1.1h-1.1zM151.3 743.2h1.1v1.1h-1.1zM149.5 747.8h1.1v1.1h-1.1zM147.6 737.7h1.1v1.1h-1.1zM148.4 737.5h1.1v1.1h-1.1zM146.8 737.4h1.1v1.1h-1.1zM148.0 736.2h1.1v1.1h-1.1zM146.3 742.0h1.1v1.1h-1.1zM147.0 739.1h1.1v1.1h-1.1zM147.0 742.4h1.1v1.1h-1.1zM151.8 743.1h1.1v1.1h-1.1zM148.8 737.9h1.1v1.1h-1.1zM152.0 739.3h1.1v1.1h-1.1zM151.7 740.0h1.1v1.1h-1.1zM146.6 743.7h1.1v1.1h-1.1zM146.3 742.1h1.1v1.1h-1.1zM149.9 745.2h1.1v1.1h-1.1zM151.1 743.3h1.1v1.1h-1.1zM151.4 743.0h1.1v1.1h-1.1z"/><path fill="#3669ec" d="M147.9 735.4h1.1v1.1h-1.1zM152.7 724.5h1.1v1.1h-1.1zM146.9 722.0h1.1v1.1h-1.1zM153.6 723.9h1.1v1.1h-1.1zM143.9 727.5h1.1v1.1h-1.1zM146.1 732.4h1.1v1.1h-1.1zM148.6 734.8h1.1v1.1h-1.1zM151.6 723.2h1.1v1.1h-1.1zM144.1 729.0h1.1v1.1h-1.1zM146.0 723.2h1.1v1.1h-1.1zM144.8 731.0h1.1v1.1h-1.1zM147.2 721.7h1.1v1.1h-1.1zM145.9 721.5h1.1v1.1h-1.1zM145.0 727.3h1.1v1.1h-1.1zM152.7 724.0h1.1v1.1h-1.1zM148.8 721.3h1.1v1.1h-1.1zM146.6 734.9h1.1v1.1h-1.1zM144.0 727.0h1.1v1.1h-1.1zM148.0 735.0h1.1v1.1h-1.1zM148.9 734.9h1.1v1.1h-1.1zM145.5 731.8h1.1v1.1h-1.1zM145.8 722.3h1.1v1.1h-1.1zM153.6 725.8h1.1v1.1h-1.1zM152.8 726.3h1.1v1.1h-1.1zM146.4 720.9h1.1v1.1h-1.1zM152.4 723.6h1.1v1.1h-1.1zM152.7 731.5h1.1v1.1h-1.1zM150.1 735.0h1.1v1.1h-1.1zM153.1 728.5h1.1v1.1h-1.1zM152.3 724.4h1.1v1.1h-1.1zM144.7 730.5h1.1v1.1h-1.1zM144.5 728.1h1.1v1.1h-1.1zM145.5 730.8h1.1v1.1h-1.1zM149.9 720.7h1.1v1.1h-1.1zM149.2 720.3h1.1v1.1h-1.1zM150.9 721.2h1.1v1.1h-1.1zM150.4 735.2h1.1v1.1h-1.1zM148.2 735.1h1.1v1.1h-1.1zM145.1 726.6h1.1v1.1h-1.1zM152.7 723.8h1.1v1.1h-1.1zM149.3 721.6h1.1v1.1h-1.1zM146.5 722.8h1.1v1.1h-1.1zM144.4 726.9h1.1v1.1h-1.1zM146.0 731.6h1.1v1.1h-1.1zM145.9 732.2h1.1v1.1h-1.1zM152.2 723.9h1.1v1.1h-1.1zM151.8 722.4h1.1v1.1h-1.1zM145.3 731.2h1.1v1.1h-1.1zM146.5 732.8h1.1v1.1h-1.1zM153.7 728.2h1.1v1.1h-1.1zM147.9 733.9h1.1v1.1h-1.1zM149.5 720.2h1.1v1.1h-1.1zM153.1 726.3h1.1v1.1h-1.1zM145.9 733.4h1.1v1.1h-1.1zM147.0 720.6h1.1v1.1h-1.1zM147.0 720.4h1.1v1.1h-1.1zM150.0 734.8h1.1v1.1h-1.1zM152.5 732.3h1.1v1.1h-1.1zM150.2 720.1h1.1v1.1h-1.1zM153.1 725.2h1.1v1.1h-1.1zM146.5 722.3h1.1v1.1h-1.1zM147.8 720.8h1.1v1.1h-1.1zM144.4 724.7h1.1v1.1h-1.1zM145.5 732.4h1.1v1.1h-1.1zM150.6 734.4h1.1v1.1h-1.1zM147.3 733.2h1.1v1.1h-1.1zM144.8 723.8h1.1v1.1h-1.1zM145.0 723.0h1.1v1.1h-1.1zM143.9 727.1h1.1v1.1h-1.1zM149.3 721.7h1.1v1.1h-1.1z"/><path fill="#d4d2f4" d="M110.1 719.9h1.1v1.1h-1.1zM113.0 717.3h1.1v1.1h-1.1zM166.0 696.1h1.1v1.1h-1.1zM154.3 732.8h1.1v1.1h-1.1zM154.8 725.6h1.1v1.1h-1.1zM157.6 731.7h1.1v1.1h-1.1zM142.4 694.5h1.1v1.1h-1.1zM156.9 733.0h1.1v1.1h-1.1zM135.3 742.5h1.1v1.1h-1.1zM110.3 716.3h1.1v1.1h-1.1zM114.2 704.9h1.1v1.1h-1.1zM113.8 710.9h1.1v1.1h-1.1zM135.3 747.8h1.1v1.1h-1.1zM115.1 732.5h1.1v1.1h-1.1zM131.3 742.1h1.1v1.1h-1.1zM123.0 693.5h1.1v1.1h-1.1zM112.9 717.0h1.1v1.1h-1.1zM143.2 739.2h1.1v1.1h-1.1zM154.5 733.0h1.1v1.1h-1.1zM134.8 742.6h1.1v1.1h-1.1zM112.3 724.8h1.1v1.1h-1.1zM152.5 739.2h1.1v1.1h-1.1zM141.0 739.3h1.1v1.1h-1.1zM121.5 737.9h1.1v1.1h-1.1zM117.1 703.1h1.1v1.1h-1.1zM147.8 738.2h1.1v1.1h-1.1zM162.4 722.2h1.1v1.1h-1.1zM140.6 740.6h1.1v1.1h-1.1zM145.9 694.9h1.1v1.1h-1.1zM132.9 750.3h1.1v1.1h-1.1zM160.0 728.2h1.1v1.1h-1.1zM121.5 692.4h1.1v1.1h-1.1z"/><path fill="#4a66e6" d="M148.8 712.2h1.1v1.1h-1.1zM143.9 742.4h1.1v1.1h-1.1zM139.3 746.8h1.1v1.1h-1.1zM155.2 715.8h1.1v1.1h-1.1zM157.1 739.9h1.1v1.1h-1.1zM151.6 712.6h1.1v1.1h-1.1zM147.9 711.5h1.1v1.1h-1.1zM156.3 746.0h1.1v1.1h-1.1zM142.1 716.4h1.1v1.1h-1.1zM153.4 713.6h1.1v1.1h-1.1zM138.9 732.9h1.1v1.1h-1.1zM139.5 719.0h1.1v1.1h-1.1zM139.7 710.5h1.1v1.1h-1.1zM142.3 705.7h1.1v1.1h-1.1zM144.9 709.6h1.1v1.1h-1.1zM148.7 710.2h1.1v1.1h-1.1zM152.5 741.6h1.1v1.1h-1.1zM144.7 711.0h1.1v1.1h-1.1zM158.3 732.4h1.1v1.1h-1.1zM138.2 725.1h1.1v1.1h-1.1zM159.2 733.4h1.1v1.1h-1.1zM146.9 745.5h1.1v1.1h-1.1zM151.2 709.2h1.1v1.1h-1.1zM139.2 723.9h1.1v1.1h-1.1zM139.4 736.6h1.1v1.1h-1.1zM147.1 711.5h1.1v1.1h-1.1zM157.9 720.0h1.1v1.1h-1.1zM153.3 743.5h1.1v1.1h-1.1zM149.2 710.6h1.1v1.1h-1.1zM137.5 733.3h1.1v1.1h-1.1zM137.5 725.3h1.1v1.1h-1.1zM136.6 724.0h1.1v1.1h-1.1zM158.4 733.4h1.1v1.1h-1.1zM142.4 713.7h1.1v1.1h-1.1zM152.9 705.9h1.1v1.1h-1.1zM152.9 748.7h1.1v1.1h-1.1zM143.9 712.5h1.1v1.1h-1.1zM150.1 712.5h1.1v1.1h-1.1zM139.2 712.9h1.1v1.1h-1.1zM139.5 722.3h1.1v1.1h-1.1zM158.7 729.8h1.1v1.1h-1.1zM141.8 715.1h1.1v1.1h-1.1zM158.7 727.3h1.1v1.1h-1.1z"/><path fill="#9096e8" d="M119.9 706.7h1.1v1.1h-1.1zM114.2 706.3h1.1v1.1h-1.1zM109.7 695.2h1.1v1.1h-1.1zM132.3 694.3h1.1v1.1h-1.1zM121.9 707.2h1.1v1.1h-1.1zM135.5 696.6h1.1v1.1h-1.1zM121.3 693.9h1.1v1.1h-1.1zM134.2 706.6h1.1v1.1h-1.1zM110.0 705.9h1.1v1.1h-1.1zM126.2 694.0h1.1v1.1h-1.1zM112.5 696.1h1.1v1.1h-1.1zM138.6 703.5h1.1v1.1h-1.1zM140.1 703.6h1.1v1.1h-1.1zM134.1 694.6h1.1v1.1h-1.1zM110.0 706.1h1.1v1.1h-1.1zM117.9 706.1h1.1v1.1h-1.1zM138.3 700.5h1.1v1.1h-1.1zM119.8 706.4h1.1v1.1h-1.1zM112.8 693.7h1.1v1.1h-1.1zM132.5 695.4h1.1v1.1h-1.1zM117.5 695.1h1.1v1.1h-1.1zM141.7 701.2h1.1v1.1h-1.1zM138.3 699.2h1.1v1.1h-1.1zM113.9 707.1h1.1v1.1h-1.1zM138.5 700.8h1.1v1.1h-1.1zM121.2 693.9h1.1v1.1h-1.1zM114.6 706.9h1.1v1.1h-1.1zM139.3 699.8h1.1v1.1h-1.1zM137.7 704.0h1.1v1.1h-1.1zM120.7 694.1h1.1v1.1h-1.1zM132.5 696.0h1.1v1.1h-1.1zM140.9 699.0h1.1v1.1h-1.1zM136.6 695.9h1.1v1.1h-1.1zM135.4 704.6h1.1v1.1h-1.1zM124.6 706.6h1.1v1.1h-1.1zM128.1 706.2h1.1v1.1h-1.1zM112.5 705.9h1.1v1.1h-1.1zM116.7 693.5h1.1v1.1h-1.1z"/><path fill="#b0b0ed" d="M130.3 710.5h1.1v1.1h-1.1zM138.4 709.7h1.1v1.1h-1.1zM138.2 723.1h1.1v1.1h-1.1zM142.0 718.0h1.1v1.1h-1.1zM128.2 717.7h1.1v1.1h-1.1zM134.7 708.2h1.1v1.1h-1.1zM132.1 710.6h1.1v1.1h-1.1zM130.2 712.1h1.1v1.1h-1.1zM139.5 715.9h1.1v1.1h-1.1zM134.5 721.7h1.1v1.1h-1.1zM141.1 713.2h1.1v1.1h-1.1zM129.1 715.6h1.1v1.1h-1.1zM130.1 722.3h1.1v1.1h-1.1zM140.5 712.9h1.1v1.1h-1.1zM135.0 721.7h1.1v1.1h-1.1zM142.8 719.0h1.1v1.1h-1.1zM135.8 708.9h1.1v1.1h-1.1zM137.1 724.3h1.1v1.1h-1.1zM142.3 719.0h1.1v1.1h-1.1zM127.5 712.8h1.1v1.1h-1.1zM132.9 725.6h1.1v1.1h-1.1zM129.5 711.4h1.1v1.1h-1.1zM131.9 723.5h1.1v1.1h-1.1zM140.9 720.9h1.1v1.1h-1.1zM127.6 714.7h1.1v1.1h-1.1zM135.6 707.5h1.1v1.1h-1.1zM135.4 723.3h1.1v1.1h-1.1zM140.2 710.2h1.1v1.1h-1.1zM132.3 708.1h1.1v1.1h-1.1zM137.0 710.5h1.1v1.1h-1.1zM139.6 723.1h1.1v1.1h-1.1zM130.1 718.1h1.1v1.1h-1.1zM140.1 712.4h1.1v1.1h-1.1zM134.8 709.8h1.1v1.1h-1.1zM127.4 714.3h1.1v1.1h-1.1zM131.1 719.7h1.1v1.1h-1.1zM141.4 711.5h1.1v1.1h-1.1zM137.4 708.1h1.1v1.1h-1.1zM128.5 715.9h1.1v1.1h-1.1zM141.4 716.1h1.1v1.1h-1.1zM130.7 720.8h1.1v1.1h-1.1zM143.1 717.4h1.1v1.1h-1.1zM142.1 715.5h1.1v1.1h-1.1zM134.2 708.0h1.1v1.1h-1.1zM127.5 720.9h1.1v1.1h-1.1zM139.5 709.0h1.1v1.1h-1.1zM141.4 714.0h1.1v1.1h-1.1zM141.1 716.6h1.1v1.1h-1.1zM139.3 720.0h1.1v1.1h-1.1zM139.9 713.4h1.1v1.1h-1.1zM133.5 707.7h1.1v1.1h-1.1zM127.6 717.5h1.1v1.1h-1.1zM132.7 709.3h1.1v1.1h-1.1zM127.1 719.0h1.1v1.1h-1.1zM140.5 714.2h1.1v1.1h-1.1zM134.3 709.3h1.1v1.1h-1.1zM131.8 711.9h1.1v1.1h-1.1zM129.4 711.3h1.1v1.1h-1.1zM129.9 714.8h1.1v1.1h-1.1zM140.7 716.0h1.1v1.1h-1.1zM129.4 716.5h1.1v1.1h-1.1zM129.8 715.5h1.1v1.1h-1.1zM131.7 710.8h1.1v1.1h-1.1zM137.8 710.7h1.1v1.1h-1.1zM134.1 722.7h1.1v1.1h-1.1zM136.1 707.8h1.1v1.1h-1.1zM135.3 722.7h1.1v1.1h-1.1zM132.4 709.0h1.1v1.1h-1.1zM131.4 712.1h1.1v1.1h-1.1zM141.8 713.3h1.1v1.1h-1.1zM133.9 725.4h1.1v1.1h-1.1zM127.6 715.1h1.1v1.1h-1.1zM139.1 714.0h1.1v1.1h-1.1zM133.4 707.9h1.1v1.1h-1.1zM126.7 717.0h1.1v1.1h-1.1zM131.9 722.9h1.1v1.1h-1.1zM140.9 713.1h1.1v1.1h-1.1zM132.0 721.5h1.1v1.1h-1.1zM131.7 710.7h1.1v1.1h-1.1zM139.2 709.0h1.1v1.1h-1.1zM130.1 722.6h1.1v1.1h-1.1zM128.5 718.5h1.1v1.1h-1.1zM129.7 712.7h1.1v1.1h-1.1zM130.0 720.5h1.1v1.1h-1.1zM126.9 714.4h1.1v1.1h-1.1zM128.7 718.0h1.1v1.1h-1.1zM133.2 722.4h1.1v1.1h-1.1zM130.4 713.6h1.1v1.1h-1.1zM130.4 712.3h1.1v1.1h-1.1zM137.1 722.8h1.1v1.1h-1.1zM138.9 721.2h1.1v1.1h-1.1z"/><path fill="#4367e8" d="M157.9 722.7h1.1v1.1h-1.1zM146.6 741.3h1.1v1.1h-1.1zM146.4 716.5h1.1v1.1h-1.1zM154.8 738.2h1.1v1.1h-1.1zM152.6 737.1h1.1v1.1h-1.1zM141.8 725.8h1.1v1.1h-1.1zM155.4 721.3h1.1v1.1h-1.1zM153.0 715.3h1.1v1.1h-1.1zM149.7 738.9h1.1v1.1h-1.1zM146.7 738.4h1.1v1.1h-1.1zM140.2 722.3h1.1v1.1h-1.1zM154.5 737.6h1.1v1.1h-1.1zM145.1 715.2h1.1v1.1h-1.1zM152.4 715.9h1.1v1.1h-1.1zM154.6 721.0h1.1v1.1h-1.1zM140.2 722.4h1.1v1.1h-1.1zM157.1 721.4h1.1v1.1h-1.1zM155.5 719.4h1.1v1.1h-1.1zM156.2 734.6h1.1v1.1h-1.1zM155.6 731.1h1.1v1.1h-1.1zM153.4 738.8h1.1v1.1h-1.1zM153.3 718.3h1.1v1.1h-1.1zM143.2 735.5h1.1v1.1h-1.1zM144.1 737.9h1.1v1.1h-1.1zM142.2 737.9h1.1v1.1h-1.1zM141.7 724.7h1.1v1.1h-1.1zM143.1 737.7h1.1v1.1h-1.1zM143.4 718.3h1.1v1.1h-1.1zM148.4 740.8h1.1v1.1h-1.1zM149.0 712.9h1.1v1.1h-1.1zM141.7 718.5h1.1v1.1h-1.1zM144.5 739.6h1.1v1.1h-1.1zM149.8 738.5h1.1v1.1h-1.1zM142.1 724.2h1.1v1.1h-1.1zM150.8 738.7h1.1v1.1h-1.1zM145.0 738.1h1.1v1.1h-1.1zM139.8 727.1h1.1v1.1h-1.1zM156.8 729.6h1.1v1.1h-1.1zM157.7 729.0h1.1v1.1h-1.1zM157.7 726.3h1.1v1.1h-1.1zM156.3 732.9h1.1v1.1h-1.1zM142.4 719.0h1.1v1.1h-1.1zM141.2 728.3h1.1v1.1h-1.1zM151.4 740.6h1.1v1.1h-1.1zM141.7 729.6h1.1v1.1h-1.1zM156.6 722.3h1.1v1.1h-1.1zM157.6 730.3h1.1v1.1h-1.1zM144.4 718.9h1.1v1.1h-1.1zM155.9 720.0h1.1v1.1h-1.1zM150.5 740.9h1.1v1.1h-1.1zM151.0 742.1h1.1v1.1h-1.1zM148.6 714.9h1.1v1.1h-1.1zM154.5 738.6h1.1v1.1h-1.1zM144.1 717.2h1.1v1.1h-1.1zM150.7 739.9h1.1v1.1h-1.1zM154.7 719.6h1.1v1.1h-1.1zM140.6 728.3h1.1v1.1h-1.1zM157.8 730.0h1.1v1.1h-1.1zM155.4 718.8h1.1v1.1h-1.1zM145.1 737.0h1.1v1.1h-1.1zM156.5 721.0h1.1v1.1h-1.1zM149.3 740.3h1.1v1.1h-1.1zM151.4 716.7h1.1v1.1h-1.1zM150.5 715.8h1.1v1.1h-1.1zM151.5 737.8h1.1v1.1h-1.1zM157.7 726.0h1.1v1.1h-1.1zM156.0 727.7h1.1v1.1h-1.1zM141.0 735.6h1.1v1.1h-1.1zM143.9 737.2h1.1v1.1h-1.1zM156.1 725.1h1.1v1.1h-1.1zM147.0 740.3h1.1v1.1h-1.1zM150.4 739.0h1.1v1.1h-1.1zM142.4 720.3h1.1v1.1h-1.1zM147.7 713.3h1.1v1.1h-1.1zM150.6 717.0h1.1v1.1h-1.1zM145.1 718.4h1.1v1.1h-1.1zM156.4 723.1h1.1v1.1h-1.1zM150.5 713.6h1.1v1.1h-1.1zM149.0 742.5h1.1v1.1h-1.1zM146.5 714.4h1.1v1.1h-1.1zM154.0 737.7h1.1v1.1h-1.1zM141.9 726.7h1.1v1.1h-1.1zM144.9 736.6h1.1v1.1h-1.1z"/><path fill="#c0c0f0" d="M145.3 717.8h1.1v1.1h-1.1zM109.0 705.1h1.1v1.1h-1.1zM151.0 722.3h1.1v1.1h-1.1zM144.5 730.5h1.1v1.1h-1.1zM115.1 699.2h1.1v1.1h-1.1zM137.4 712.3h1.1v1.1h-1.1zM116.1 704.2h1.1v1.1h-1.1zM114.0 708.8h1.1v1.1h-1.1zM141.4 749.1h1.1v1.1h-1.1zM150.1 715.3h1.1v1.1h-1.1zM142.6 745.0h1.1v1.1h-1.1zM108.7 711.5h1.1v1.1h-1.1zM125.8 705.4h1.1v1.1h-1.1zM146.1 718.8h1.1v1.1h-1.1zM116.9 706.9h1.1v1.1h-1.1zM144.6 719.7h1.1v1.1h-1.1zM125.6 706.3h1.1v1.1h-1.1zM140.2 716.3h1.1v1.1h-1.1zM116.2 702.8h1.1v1.1h-1.1zM151.3 720.0h1.1v1.1h-1.1zM129.3 699.8h1.1v1.1h-1.1zM114.8 707.6h1.1v1.1h-1.1zM143.1 742.5h1.1v1.1h-1.1zM134.9 705.2h1.1v1.1h-1.1zM142.5 745.8h1.1v1.1h-1.1zM135.4 709.1h1.1v1.1h-1.1zM151.1 726.7h1.1v1.1h-1.1zM143.2 741.4h1.1v1.1h-1.1zM123.9 705.3h1.1v1.1h-1.1zM119.5 705.2h1.1v1.1h-1.1zM134.2 704.0h1.1v1.1h-1.1zM147.8 736.8h1.1v1.1h-1.1zM117.3 696.6h1.1v1.1h-1.1zM152.7 750.2h1.1v1.1h-1.1zM111.2 707.0h1.1v1.1h-1.1zM134.5 706.4h1.1v1.1h-1.1zM147.3 721.1h1.1v1.1h-1.1z"/><path fill="#c2c1f0" d="M138.1 702.5h1.1v1.1h-1.1zM145.4 709.3h1.1v1.1h-1.1zM119.4 716.5h1.1v1.1h-1.1zM120.7 716.1h1.1v1.1h-1.1zM122.2 714.7h1.1v1.1h-1.1zM144.9 708.2h1.1v1.1h-1.1zM143.5 728.2h1.1v1.1h-1.1zM145.7 705.6h1.1v1.1h-1.1zM145.8 711.1h1.1v1.1h-1.1zM129.1 703.4h1.1v1.1h-1.1zM130.0 704.5h1.1v1.1h-1.1zM147.3 708.4h1.1v1.1h-1.1zM145.6 705.3h1.1v1.1h-1.1zM137.2 702.3h1.1v1.1h-1.1zM119.8 717.0h1.1v1.1h-1.1zM120.5 715.2h1.1v1.1h-1.1zM125.9 726.7h1.1v1.1h-1.1zM123.6 722.5h1.1v1.1h-1.1zM131.7 703.5h1.1v1.1h-1.1zM131.2 701.8h1.1v1.1h-1.1zM126.8 728.9h1.1v1.1h-1.1zM148.2 712.1h1.1v1.1h-1.1zM123.4 712.8h1.1v1.1h-1.1zM124.8 725.1h1.1v1.1h-1.1zM133.2 733.1h1.1v1.1h-1.1zM144.0 703.7h1.1v1.1h-1.1zM147.0 722.3h1.1v1.1h-1.1zM144.4 725.2h1.1v1.1h-1.1zM148.7 712.2h1.1v1.1h-1.1zM119.9 719.5h1.1v1.1h-1.1zM136.3 732.1h1.1v1.1h-1.1zM147.1 706.9h1.1v1.1h-1.1zM141.5 729.3h1.1v1.1h-1.1zM146.1 726.6h1.1v1.1h-1.1zM140.9 705.3h1.1v1.1h-1.1zM149.9 716.6h1.1v1.1h-1.1zM131.5 731.2h1.1v1.1h-1.1zM149.9 715.1h1.1v1.1h-1.1zM144.7 726.6h1.1v1.1h-1.1zM130.1 730.0h1.1v1.1h-1.1zM146.7 712.2h1.1v1.1h-1.1zM127.4 705.3h1.1v1.1h-1.1zM119.6 714.7h1.1v1.1h-1.1zM148.0 713.4h1.1v1.1h-1.1zM149.0 712.9h1.1v1.1h-1.1zM137.2 702.9h1.1v1.1h-1.1zM130.8 704.1h1.1v1.1h-1.1zM138.3 732.3h1.1v1.1h-1.1zM141.6 702.2h1.1v1.1h-1.1zM133.5 733.0h1.1v1.1h-1.1zM141.8 705.7h1.1v1.1h-1.1zM135.3 700.4h1.1v1.1h-1.1zM126.7 703.1h1.1v1.1h-1.1zM129.5 730.2h1.1v1.1h-1.1zM120.9 713.2h1.1v1.1h-1.1zM121.5 720.1h1.1v1.1h-1.1zM122.0 719.8h1.1v1.1h-1.1zM132.1 700.7h1.1v1.1h-1.1zM121.7 708.9h1.1v1.1h-1.1zM132.5 700.0h1.1v1.1h-1.1zM140.6 703.2h1.1v1.1h-1.1zM127.2 727.6h1.1v1.1h-1.1zM142.0 730.5h1.1v1.1h-1.1zM129.6 704.4h1.1v1.1h-1.1zM137.5 703.8h1.1v1.1h-1.1zM135.5 731.6h1.1v1.1h-1.1zM142.7 727.3h1.1v1.1h-1.1zM124.4 707.0h1.1v1.1h-1.1zM141.8 702.6h1.1v1.1h-1.1zM139.5 731.4h1.1v1.1h-1.1zM121.7 714.8h1.1v1.1h-1.1zM142.9 705.3h1.1v1.1h-1.1zM120.7 717.4h1.1v1.1h-1.1zM146.3 720.1h1.1v1.1h-1.1zM121.1 717.6h1.1v1.1h-1.1zM141.8 729.7h1.1v1.1h-1.1zM148.0 707.8h1.1v1.1h-1.1zM145.0 707.8h1.1v1.1h-1.1zM146.2 711.8h1.1v1.1h-1.1z"/><path fill="#b2b3ec" d="M137.6 720.4h1.1v1.1h-1.1zM139.0 727.7h1.1v1.1h-1.1zM120.7 710.3h1.1v1.1h-1.1zM114.0 710.9h1.1v1.1h-1.1zM123.1 710.2h1.1v1.1h-1.1zM121.9 708.0h1.1v1.1h-1.1zM140.4 746.4h1.1v1.1h-1.1zM141.1 730.3h1.1v1.1h-1.1zM138.3 738.8h1.1v1.1h-1.1zM133.5 716.7h1.1v1.1h-1.1zM136.5 744.4h1.1v1.1h-1.1zM122.5 712.1h1.1v1.1h-1.1zM136.9 748.9h1.1v1.1h-1.1zM111.4 746.8h1.1v1.1h-1.1zM128.7 714.2h1.1v1.1h-1.1zM110.0 717.0h1.1v1.1h-1.1zM110.5 717.0h1.1v1.1h-1.1zM133.1 713.4h1.1v1.1h-1.1zM136.3 721.0h1.1v1.1h-1.1zM142.2 738.1h1.1v1.1h-1.1zM120.1 713.2h1.1v1.1h-1.1zM118.0 714.3h1.1v1.1h-1.1zM129.8 712.3h1.1v1.1h-1.1zM139.9 739.1h1.1v1.1h-1.1zM137.4 745.2h1.1v1.1h-1.1zM126.2 708.0h1.1v1.1h-1.1zM140.2 722.3h1.1v1.1h-1.1zM110.0 721.6h1.1v1.1h-1.1zM131.9 709.9h1.1v1.1h-1.1zM110.7 746.7h1.1v1.1h-1.1zM141.6 720.8h1.1v1.1h-1.1zM128.1 712.5h1.1v1.1h-1.1zM132.9 714.8h1.1v1.1h-1.1zM121.3 710.5h1.1v1.1h-1.1zM138.4 733.5h1.1v1.1h-1.1zM110.5 717.8h1.1v1.1h-1.1zM129.4 709.7h1.1v1.1h-1.1zM139.5 720.5h1.1v1.1h-1.1zM131.6 748.6h1.1v1.1h-1.1zM123.1 712.3h1.1v1.1h-1.1zM129.6 713.1h1.1v1.1h-1.1zM139.3 730.5h1.1v1.1h-1.1zM128.7 712.4h1.1v1.1h-1.1zM133.8 749.6h1.1v1.1h-1.1zM114.7 712.6h1.1v1.1h-1.1zM110.3 746.7h1.1v1.1h-1.1zM121.1 710.0h1.1v1.1h-1.1zM118.2 712.0h1.1v1.1h-1.1zM109.7 721.3h1.1v1.1h-1.1zM137.9 725.2h1.1v1.1h-1.1zM130.1 714.4h1.1v1.1h-1.1zM140.4 730.1h1.1v1.1h-1.1zM138.3 718.7h1.1v1.1h-1.1zM109.4 747.0h1.1v1.1h-1.1zM138.2 724.8h1.1v1.1h-1.1zM118.2 713.5h1.1v1.1h-1.1zM116.0 712.4h1.1v1.1h-1.1zM128.1 715.0h1.1v1.1h-1.1zM132.1 717.5h1.1v1.1h-1.1zM126.3 713.4h1.1v1.1h-1.1zM139.9 738.2h1.1v1.1h-1.1zM138.5 744.9h1.1v1.1h-1.1zM136.1 715.8h1.1v1.1h-1.1zM144.3 733.4h1.1v1.1h-1.1zM140.1 726.4h1.1v1.1h-1.1zM123.0 711.5h1.1v1.1h-1.1zM114.5 748.7h1.1v1.1h-1.1zM117.8 708.9h1.1v1.1h-1.1zM134.7 745.9h1.1v1.1h-1.1zM139.1 740.7h1.1v1.1h-1.1zM113.1 717.5h1.1v1.1h-1.1zM130.6 710.0h1.1v1.1h-1.1zM109.8 746.3h1.1v1.1h-1.1zM134.0 714.6h1.1v1.1h-1.1zM133.1 712.4h1.1v1.1h-1.1zM136.0 717.6h1.1v1.1h-1.1zM117.2 712.2h1.1v1.1h-1.1zM129.0 711.9h1.1v1.1h-1.1zM138.2 740.6h1.1v1.1h-1.1zM111.7 746.2h1.1v1.1h-1.1zM138.4 724.0h1.1v1.1h-1.1zM138.2 722.7h1.1v1.1h-1.1zM125.1 713.3h1.1v1.1h-1.1zM134.4 748.3h1.1v1.1h-1.1zM135.8 721.2h1.1v1.1h-1.1zM135.7 748.9h1.1v1.1h-1.1zM109.4 745.0h1.1v1.1h-1.1zM123.0 709.8h1.1v1.1h-1.1zM135.7 716.1h1.1v1.1h-1.1zM141.7 729.6h1.1v1.1h-1.1zM112.6 710.7h1.1v1.1h-1.1zM119.0 713.2h1.1v1.1h-1.1zM133.5 716.6h1.1v1.1h-1.1zM138.6 733.5h1.1v1.1h-1.1zM141.2 731.2h1.1v1.1h-1.1zM140.3 738.6h1.1v1.1h-1.1zM110.1 719.8h1.1v1.1h-1.1zM111.8 719.5h1.1v1.1h-1.1z"/><path fill="#7a80e0" d="M119.6 736.3h1.1v1.1h-1.1zM127.1 732.7h1.1v1.1h-1.1zM126.4 735.3h1.1v1.1h-1.1zM122.3 728.0h1.1v1.1h-1.1zM118.7 731.3h1.1v1.1h-1.1zM121.0 733.2h1.1v1.1h-1.1zM121.5 731.9h1.1v1.1h-1.1zM126.6 729.5h1.1v1.1h-1.1zM125.9 735.6h1.1v1.1h-1.1zM120.6 734.1h1.1v1.1h-1.1zM122.7 738.1h1.1v1.1h-1.1zM121.6 734.5h1.1v1.1h-1.1zM119.2 735.7h1.1v1.1h-1.1zM124.8 735.0h1.1v1.1h-1.1zM122.7 737.2h1.1v1.1h-1.1zM121.7 730.0h1.1v1.1h-1.1zM120.1 735.4h1.1v1.1h-1.1zM120.5 733.7h1.1v1.1h-1.1zM123.1 729.0h1.1v1.1h-1.1zM124.4 733.1h1.1v1.1h-1.1zM119.0 731.4h1.1v1.1h-1.1zM121.5 732.5h1.1v1.1h-1.1zM125.0 729.9h1.1v1.1h-1.1zM122.4 737.0h1.1v1.1h-1.1zM122.9 735.0h1.1v1.1h-1.1zM122.6 732.6h1.1v1.1h-1.1zM123.7 734.9h1.1v1.1h-1.1zM121.4 730.3h1.1v1.1h-1.1zM119.1 731.9h1.1v1.1h-1.1zM118.8 734.4h1.1v1.1h-1.1zM122.8 732.9h1.1v1.1h-1.1zM125.0 735.1h1.1v1.1h-1.1zM119.4 729.8h1.1v1.1h-1.1zM126.5 734.9h1.1v1.1h-1.1zM126.7 732.5h1.1v1.1h-1.1zM122.4 730.5h1.1v1.1h-1.1zM124.0 730.7h1.1v1.1h-1.1zM123.8 732.9h1.1v1.1h-1.1zM124.8 737.3h1.1v1.1h-1.1zM123.6 736.7h1.1v1.1h-1.1zM120.4 735.2h1.1v1.1h-1.1zM121.7 733.2h1.1v1.1h-1.1zM123.3 734.4h1.1v1.1h-1.1zM118.8 732.8h1.1v1.1h-1.1zM123.6 737.7h1.1v1.1h-1.1zM124.7 731.3h1.1v1.1h-1.1zM121.4 728.8h1.1v1.1h-1.1zM124.6 734.8h1.1v1.1h-1.1zM119.7 729.4h1.1v1.1h-1.1zM120.5 731.5h1.1v1.1h-1.1zM121.1 734.8h1.1v1.1h-1.1zM124.0 730.1h1.1v1.1h-1.1zM124.5 729.2h1.1v1.1h-1.1zM122.4 737.6h1.1v1.1h-1.1zM120.1 730.9h1.1v1.1h-1.1zM121.6 729.5h1.1v1.1h-1.1zM122.8 736.0h1.1v1.1h-1.1zM118.6 734.4h1.1v1.1h-1.1zM126.6 735.7h1.1v1.1h-1.1zM119.5 732.9h1.1v1.1h-1.1zM119.6 735.3h1.1v1.1h-1.1zM126.8 731.7h1.1v1.1h-1.1z"/><path fill="#5a6fe6" d="M145.9 747.0h1.1v1.1h-1.1zM149.4 749.4h1.1v1.1h-1.1zM153.5 742.9h1.1v1.1h-1.1zM153.0 740.8h1.1v1.1h-1.1zM147.5 748.4h1.1v1.1h-1.1zM145.3 746.1h1.1v1.1h-1.1zM151.2 733.4h1.1v1.1h-1.1zM150.0 733.6h1.1v1.1h-1.1zM148.1 733.5h1.1v1.1h-1.1zM152.1 743.9h1.1v1.1h-1.1zM151.8 748.6h1.1v1.1h-1.1zM149.6 733.5h1.1v1.1h-1.1zM151.4 748.0h1.1v1.1h-1.1zM149.3 750.3h1.1v1.1h-1.1zM152.5 738.1h1.1v1.1h-1.1zM152.3 736.7h1.1v1.1h-1.1zM145.8 737.3h1.1v1.1h-1.1zM152.3 740.5h1.1v1.1h-1.1zM146.4 734.1h1.1v1.1h-1.1zM150.4 748.1h1.1v1.1h-1.1zM144.4 743.6h1.1v1.1h-1.1zM146.3 746.6h1.1v1.1h-1.1zM152.9 737.0h1.1v1.1h-1.1zM148.1 734.5h1.1v1.1h-1.1zM146.2 747.4h1.1v1.1h-1.1zM148.0 733.2h1.1v1.1h-1.1zM152.2 743.6h1.1v1.1h-1.1zM153.1 737.9h1.1v1.1h-1.1zM144.8 744.2h1.1v1.1h-1.1zM150.4 735.0h1.1v1.1h-1.1zM152.6 740.4h1.1v1.1h-1.1zM145.5 744.1h1.1v1.1h-1.1zM150.8 734.5h1.1v1.1h-1.1zM150.1 750.2h1.1v1.1h-1.1zM152.4 740.8h1.1v1.1h-1.1zM152.7 739.8h1.1v1.1h-1.1zM147.4 750.1h1.1v1.1h-1.1zM145.8 746.6h1.1v1.1h-1.1zM145.4 741.1h1.1v1.1h-1.1zM149.8 734.7h1.1v1.1h-1.1zM152.6 738.2h1.1v1.1h-1.1zM145.6 745.6h1.1v1.1h-1.1zM145.5 737.7h1.1v1.1h-1.1zM153.6 741.7h1.1v1.1h-1.1zM150.9 733.2h1.1v1.1h-1.1zM150.3 748.0h1.1v1.1h-1.1zM150.0 749.9h1.1v1.1h-1.1zM153.2 740.0h1.1v1.1h-1.1zM146.2 748.6h1.1v1.1h-1.1zM152.2 737.7h1.1v1.1h-1.1zM152.0 736.1h1.1v1.1h-1.1zM151.9 737.2h1.1v1.1h-1.1zM151.0 749.0h1.1v1.1h-1.1zM147.6 748.8h1.1v1.1h-1.1zM150.3 734.3h1.1v1.1h-1.1z"/><path fill="#5060dc" d="M121.3 701.1h1.1v1.1h-1.1zM124.8 701.2h1.1v1.1h-1.1zM124.0 701.3h1.1v1.1h-1.1zM123.7 699.8h1.1v1.1h-1.1zM122.8 700.6h1.1v1.1h-1.1zM124.0 700.5h1.1v1.1h-1.1zM120.7 700.4h1.1v1.1h-1.1zM121.0 700.3h1.1v1.1h-1.1zM120.4 699.7h1.1v1.1h-1.1zM125.0 699.7h1.1v1.1h-1.1zM118.7 701.3h1.1v1.1h-1.1zM122.9 702.1h1.1v1.1h-1.1zM123.5 702.0h1.1v1.1h-1.1zM121.3 701.5h1.1v1.1h-1.1zM122.7 699.9h1.1v1.1h-1.1zM119.1 701.8h1.1v1.1h-1.1zM120.5 700.1h1.1v1.1h-1.1zM123.2 701.8h1.1v1.1h-1.1zM117.9 700.5h1.1v1.1h-1.1zM121.6 701.4h1.1v1.1h-1.1zM119.3 699.4h1.1v1.1h-1.1zM122.6 701.3h1.1v1.1h-1.1zM121.7 700.2h1.1v1.1h-1.1zM123.2 699.9h1.1v1.1h-1.1zM118.6 699.6h1.1v1.1h-1.1zM124.8 701.0h1.1v1.1h-1.1zM125.7 700.2h1.1v1.1h-1.1zM124.8 699.7h1.1v1.1h-1.1zM121.1 701.9h1.1v1.1h-1.1zM122.0 699.7h1.1v1.1h-1.1zM120.9 699.6h1.1v1.1h-1.1zM118.9 699.6h1.1v1.1h-1.1zM125.8 701.3h1.1v1.1h-1.1zM121.4 700.2h1.1v1.1h-1.1zM125.7 700.7h1.1v1.1h-1.1zM119.9 700.3h1.1v1.1h-1.1z"/><path fill="#7a85e7" d="M142.6 740.3h1.1v1.1h-1.1zM143.7 733.2h1.1v1.1h-1.1zM154.1 749.4h1.1v1.1h-1.1zM147.4 728.6h1.1v1.1h-1.1zM156.2 745.5h1.1v1.1h-1.1zM155.6 734.3h1.1v1.1h-1.1zM153.9 733.9h1.1v1.1h-1.1zM157.2 745.0h1.1v1.1h-1.1zM144.9 730.7h1.1v1.1h-1.1zM145.7 730.5h1.1v1.1h-1.1zM147.8 725.7h1.1v1.1h-1.1zM148.5 728.7h1.1v1.1h-1.1zM142.2 736.2h1.1v1.1h-1.1zM147.2 729.1h1.1v1.1h-1.1zM142.7 749.6h1.1v1.1h-1.1zM146.2 726.8h1.1v1.1h-1.1zM156.6 736.3h1.1v1.1h-1.1zM141.7 747.8h1.1v1.1h-1.1zM142.8 747.7h1.1v1.1h-1.1zM156.0 735.9h1.1v1.1h-1.1zM151.4 728.5h1.1v1.1h-1.1zM143.2 736.1h1.1v1.1h-1.1zM156.1 742.8h1.1v1.1h-1.1zM142.8 736.1h1.1v1.1h-1.1zM148.7 727.8h1.1v1.1h-1.1zM145.4 729.4h1.1v1.1h-1.1zM145.5 729.6h1.1v1.1h-1.1zM156.6 743.8h1.1v1.1h-1.1zM148.4 727.7h1.1v1.1h-1.1zM141.4 740.6h1.1v1.1h-1.1zM152.6 730.0h1.1v1.1h-1.1z"/><path fill="#a8a8ec" d="M137.4 719.5h1.1v1.1h-1.1zM133.6 719.9h1.1v1.1h-1.1zM136.4 720.2h1.1v1.1h-1.1zM137.0 716.4h1.1v1.1h-1.1zM134.7 717.0h1.1v1.1h-1.1zM135.9 712.8h1.1v1.1h-1.1zM135.5 720.0h1.1v1.1h-1.1zM133.8 711.9h1.1v1.1h-1.1zM131.6 717.6h1.1v1.1h-1.1zM134.4 716.4h1.1v1.1h-1.1zM133.1 719.7h1.1v1.1h-1.1zM131.7 714.7h1.1v1.1h-1.1zM138.2 717.5h1.1v1.1h-1.1zM134.9 713.2h1.1v1.1h-1.1zM137.4 716.3h1.1v1.1h-1.1zM132.3 717.0h1.1v1.1h-1.1zM134.9 721.1h1.1v1.1h-1.1zM136.5 713.2h1.1v1.1h-1.1zM136.6 712.6h1.1v1.1h-1.1zM134.8 719.8h1.1v1.1h-1.1zM136.4 712.7h1.1v1.1h-1.1zM133.8 715.6h1.1v1.1h-1.1zM132.1 715.6h1.1v1.1h-1.1zM136.2 717.8h1.1v1.1h-1.1zM134.6 717.6h1.1v1.1h-1.1zM136.0 719.3h1.1v1.1h-1.1zM134.9 714.1h1.1v1.1h-1.1zM130.8 717.2h1.1v1.1h-1.1zM131.7 715.4h1.1v1.1h-1.1zM134.7 717.7h1.1v1.1h-1.1zM132.5 715.2h1.1v1.1h-1.1zM131.8 719.4h1.1v1.1h-1.1z"/><path fill="#2a6cf0" d="M149.0 730.6h1.1v1.1h-1.1zM149.3 728.4h1.1v1.1h-1.1zM148.4 726.9h1.1v1.1h-1.1zM147.3 729.2h1.1v1.1h-1.1zM150.8 727.8h1.1v1.1h-1.1zM148.7 730.3h1.1v1.1h-1.1zM149.9 729.2h1.1v1.1h-1.1zM147.8 726.2h1.1v1.1h-1.1zM148.0 724.9h1.1v1.1h-1.1zM150.0 727.1h1.1v1.1h-1.1zM148.1 729.9h1.1v1.1h-1.1zM150.6 728.8h1.1v1.1h-1.1zM148.4 727.9h1.1v1.1h-1.1zM150.6 727.8h1.1v1.1h-1.1zM150.3 728.6h1.1v1.1h-1.1zM150.2 727.5h1.1v1.1h-1.1zM147.4 726.8h1.1v1.1h-1.1zM148.9 730.6h1.1v1.1h-1.1zM147.8 727.7h1.1v1.1h-1.1zM148.1 729.3h1.1v1.1h-1.1zM149.7 727.9h1.1v1.1h-1.1zM149.2 727.1h1.1v1.1h-1.1zM149.5 728.8h1.1v1.1h-1.1zM149.8 726.0h1.1v1.1h-1.1zM147.7 730.1h1.1v1.1h-1.1zM147.3 727.8h1.1v1.1h-1.1zM149.4 727.2h1.1v1.1h-1.1zM147.9 726.5h1.1v1.1h-1.1zM149.6 726.0h1.1v1.1h-1.1zM150.2 725.5h1.1v1.1h-1.1zM148.9 727.2h1.1v1.1h-1.1zM148.3 727.0h1.1v1.1h-1.1zM150.2 725.1h1.1v1.1h-1.1z"/><path fill="#8a90e8" d="M157.3 738.1h1.1v1.1h-1.1zM159.6 731.2h1.1v1.1h-1.1zM160.0 740.6h1.1v1.1h-1.1zM144.7 724.4h1.1v1.1h-1.1zM139.4 735.4h1.1v1.1h-1.1zM139.7 729.0h1.1v1.1h-1.1zM149.9 721.6h1.1v1.1h-1.1zM142.9 728.1h1.1v1.1h-1.1zM138.8 732.3h1.1v1.1h-1.1zM157.7 746.0h1.1v1.1h-1.1zM157.1 734.2h1.1v1.1h-1.1zM140.3 738.9h1.1v1.1h-1.1zM139.1 747.6h1.1v1.1h-1.1zM144.1 727.0h1.1v1.1h-1.1zM149.4 722.6h1.1v1.1h-1.1zM144.2 724.7h1.1v1.1h-1.1zM136.6 749.6h1.1v1.1h-1.1zM154.1 725.7h1.1v1.1h-1.1zM137.7 744.7h1.1v1.1h-1.1z"/>
<g filter="url(#fblur)"><ellipse cx="125.9" cy="700.6" rx="5" ry="3" fill="#4a5cd8" opacity="0.8"/><ellipse cx="148.9" cy="741.6" rx="5" ry="10" fill="#4a66e8" opacity="0.85"/><ellipse cx="148.9" cy="726.6" rx="6.5" ry="9.5" fill="#2c5eee" opacity="1"/><ellipse cx="149.4" cy="726.6" rx="3.5" ry="5.5" fill="#3a8cf0" opacity="0.9"/></g>
</g>
<rect x="107.9" y="690.6" width="61.9" height="60.9" fill="none" stroke="#8a8a8a" stroke-width="0.9"/>
<circle cx="130.4" cy="709.6" r="10.6" fill="none" stroke="#e8b4ce" stroke-width="0.75"/>
<path d="M103.1,698 L105.3,698.2 L106.7,695.2" stroke="#222" stroke-width="1.2" fill="none"/>
<path d="M103.1,711 L105.3,711.2 L106.7,708.2" stroke="#222" stroke-width="1.2" fill="none"/>
<path d="M103.1,725 L105.3,725.2 L106.7,722.2" stroke="#222" stroke-width="1.2" fill="none"/>
<path d="M103.1,740.6 L105.3,740.8 L106.7,737.8" stroke="#222" stroke-width="1.2" fill="none"/>
<rect x="104.3" y="744.4" width="1.8" height="1.8" fill="#222"/>
<rect x="113.5" y="754.1" width="1.8" height="1.8" fill="#222"/>
<path d="M119.8,756.1 L122,756.3 L123.6,753.3" stroke="#222" stroke-width="1.2" fill="none"/>
<path d="M134.2,756.1 L136.4,756.3 L138,753.3" stroke="#222" stroke-width="1.2" fill="none"/>
<path d="M147.9,756.1 L150.1,756.3 L151.7,753.3" stroke="#222" stroke-width="1.2" fill="none"/>
<path d="M160.9,756.1 L163.1,756.3 L164.7,753.3" stroke="#222" stroke-width="1.2" fill="none"/>
<rect x="182.1" y="544.8" width="61.6" height="61.4" fill="none" stroke="#9a9a9a" stroke-width="0.9"/>
<path d="M182.1,605.6 L182.85,605.6 L183.6,605.35 L184.35,605.22 L185.1,605.44 L185.85,604.91 L186.6,605.59 L187.35,605.17 L188.1,605.13 L188.9,605.01 L189.7,605.59 L190.5,604.32 L191.3,604.99 L192.1,604.67 L192.9,604.2 L193.7,604.71 L194.5,604.3 L195.3,603.17 L196.1,603.18 L196.85,602.95 L197.6,602.53 L198.35,601.65 L199.1,601.67 L199.85,602.52 L200.6,601.2 L201.35,600.64 L202.1,600.8 L203.1,599.97 L204.1,601.94 L205.1,600.55 L206.1,598.04 L207.1,598.79 L208.1,598.2 L209.1,598.79 L210.1,599.11 L211.1,600.12 L212.1,601.92 L213.1,598.55 L214.1,598.7 L215.1,598.92 L216.1,598.9 L216.85,597.75 L217.6,597.22 L218.35,597.37 L219.1,596.25 L219.85,593.68 L220.6,593.01 L221.35,591.39 L222.1,590.55 L223.1,590.49 L224.1,588.5 L225.1,583.88 L226.1,583.91 L227.1,586.66 L228.1,579.6 L229.1,577.88 L230.1,575.32 L231.1,577.3 L232.1,574.46 L233.1,571.32 L234.1,575.47 L235.1,567.92 L236.1,567.18 L237.1,567.06 L238.1,561.51 L239.1,547.6 L240.1,556.31 L241.1,553.5 L242.1,555.36 L242.6,552.51 L243.3,551.6" fill="none" stroke="#8c8ce4" stroke-width="0.9"/>
<rect x="180.5" y="605.9" width="1.6" height="0.8" fill="#333"/>
<text x="179.5" y="607.7" font-size="4.4" font-weight="bold" text-anchor="end" fill="#333">0</text>
<rect x="180.5" y="587.3" width="1.6" height="0.8" fill="#333"/>
<text x="179.5" y="589.1" font-size="4.4" font-weight="bold" text-anchor="end" fill="#333">10</text>
<rect x="180.5" y="568.7" width="1.6" height="0.8" fill="#333"/>
<text x="179.5" y="570.5" font-size="4.4" font-weight="bold" text-anchor="end" fill="#333">20</text>
<rect x="180.5" y="550.1" width="1.6" height="0.8" fill="#333"/>
<text x="179.5" y="551.9" font-size="4.4" font-weight="bold" text-anchor="end" fill="#333">30</text>
<text x="183.3" y="611.6" font-size="4.2" font-weight="bold" text-anchor="middle" fill="#333">0</text>
<text x="198.2" y="611.6" font-size="4.2" font-weight="bold" text-anchor="middle" fill="#333" textLength="7.6" lengthAdjust="spacingAndGlyphs">1000</text>
<text x="213.1" y="611.6" font-size="4.2" font-weight="bold" text-anchor="middle" fill="#333" textLength="7.6" lengthAdjust="spacingAndGlyphs">2000</text>
<text x="228" y="611.6" font-size="4.2" font-weight="bold" text-anchor="middle" fill="#333" textLength="7.6" lengthAdjust="spacingAndGlyphs">3000</text>
<text x="242.9" y="611.6" font-size="4.2" font-weight="bold" text-anchor="middle" fill="#333" textLength="7.6" lengthAdjust="spacingAndGlyphs">4000</text>
<rect x="181.5" y="603.1" width="1" height="0.8" fill="#666"/>
<rect x="181.5" y="600" width="1" height="0.8" fill="#666"/>
<rect x="181.5" y="596.9" width="1" height="0.8" fill="#666"/>
<rect x="181.5" y="593.8" width="1" height="0.8" fill="#666"/>
<rect x="181.5" y="590.7" width="1" height="0.8" fill="#666"/>
<rect x="181.5" y="587.6" width="1" height="0.8" fill="#666"/>
<rect x="181.5" y="584.5" width="1" height="0.8" fill="#666"/>
<rect x="181.5" y="581.4" width="1" height="0.8" fill="#666"/>
<rect x="181.5" y="578.3" width="1" height="0.8" fill="#666"/>
<rect x="181.5" y="575.2" width="1" height="0.8" fill="#666"/>
<rect x="181.5" y="572.1" width="1" height="0.8" fill="#666"/>
<rect x="181.5" y="569" width="1" height="0.8" fill="#666"/>
<rect x="181.5" y="565.9" width="1" height="0.8" fill="#666"/>
<rect x="181.5" y="562.8" width="1" height="0.8" fill="#666"/>
<rect x="181.5" y="559.7" width="1" height="0.8" fill="#666"/>
<rect x="181.5" y="556.6" width="1" height="0.8" fill="#666"/>
<rect x="181.5" y="553.5" width="1" height="0.8" fill="#666"/>
<rect x="181.5" y="550.4" width="1" height="0.8" fill="#666"/>
<rect x="181.5" y="547.3" width="1" height="0.8" fill="#666"/>
<rect x="185.2" y="606" width="0.8" height="1.2" fill="#666"/>
<rect x="188.3" y="606" width="0.8" height="1.2" fill="#666"/>
<rect x="191.4" y="606" width="0.8" height="1.2" fill="#666"/>
<rect x="194.5" y="606" width="0.8" height="1.2" fill="#666"/>
<rect x="197.6" y="606" width="0.8" height="1.2" fill="#666"/>
<rect x="200.7" y="606" width="0.8" height="1.2" fill="#666"/>
<rect x="203.8" y="606" width="0.8" height="1.2" fill="#666"/>
<rect x="206.9" y="606" width="0.8" height="1.2" fill="#666"/>
<rect x="210" y="606" width="0.8" height="1.2" fill="#666"/>
<rect x="213.1" y="606" width="0.8" height="1.2" fill="#666"/>
<rect x="216.2" y="606" width="0.8" height="1.2" fill="#666"/>
<rect x="219.3" y="606" width="0.8" height="1.2" fill="#666"/>
<rect x="222.4" y="606" width="0.8" height="1.2" fill="#666"/>
<rect x="225.5" y="606" width="0.8" height="1.2" fill="#666"/>
<rect x="228.6" y="606" width="0.8" height="1.2" fill="#666"/>
<rect x="231.7" y="606" width="0.8" height="1.2" fill="#666"/>
<rect x="234.8" y="606" width="0.8" height="1.2" fill="#666"/>
<rect x="237.9" y="606" width="0.8" height="1.2" fill="#666"/>
<rect x="241" y="606" width="0.8" height="1.2" fill="#666"/>
<rect x="182.1" y="616.7" width="61.6" height="61.5" fill="none" stroke="#9a9a9a" stroke-width="0.9"/>
<path d="M182.1,677.6 L182.85,677.57 L183.6,676.88 L184.35,676.33 L185.1,675.68 L186.1,676.56 L187.1,675.5 L187.85,674.8 L188.6,673.6 L189.35,674.34 L190.1,675.83 L191.1,675.45 L192.1,676.84 L192.9,675.79 L193.7,676.53 L194.5,675.88 L195.3,675.78 L196.1,676.05 L196.9,676.19 L197.7,676.18 L198.5,676.26 L199.3,674.64 L200.1,675.05 L200.9,674.2 L201.7,674.93 L202.5,674.83 L203.3,675.25 L204.1,674.94 L204.85,675.55 L205.6,673.83 L206.35,673.65 L207.1,673.16 L208.1,669.78 L209.1,668.4 L210.1,667.22 L211.1,661.89 L212.1,659.34 L213.1,658.54 L214.1,650.58 L215.1,646.17 L216.1,642.49 L217.1,639.04 L218.1,639.67 L219.1,637.03 L220.1,638.48 L221.1,643.01 L222.1,642.19 L223.1,645.71 L224.1,641.8 L225.1,638.48 L226.1,636.76 L227.1,636.5 L228.1,632.59 L229.1,633.44 L230.1,628.16 L231.1,629.18 L232.1,623.28 L233.1,626.24 L234.1,629.53 L235.1,624.29 L236.1,627.74 L237.1,629.2 L238.1,625.97 L239.1,629.12 L240.1,636.04 L241.1,628.16 L242.1,636.5 L242.6,619.6 L243.1,635.6" fill="none" stroke="#8c8ce4" stroke-width="0.9"/>
<rect x="180.5" y="677.9" width="1.6" height="0.8" fill="#333"/>
<text x="179.5" y="679.7" font-size="4.4" font-weight="bold" text-anchor="end" fill="#333">0</text>
<rect x="180.5" y="659.3" width="1.6" height="0.8" fill="#333"/>
<text x="179.5" y="661.1" font-size="4.4" font-weight="bold" text-anchor="end" fill="#333">20</text>
<rect x="180.5" y="640.7" width="1.6" height="0.8" fill="#333"/>
<text x="179.5" y="642.5" font-size="4.4" font-weight="bold" text-anchor="end" fill="#333">40</text>
<rect x="180.5" y="622.1" width="1.6" height="0.8" fill="#333"/>
<text x="179.5" y="623.9" font-size="4.4" font-weight="bold" text-anchor="end" fill="#333">60</text>
<text x="183.3" y="683.6" font-size="4.2" font-weight="bold" text-anchor="middle" fill="#333">0</text>
<text x="198.2" y="683.6" font-size="4.2" font-weight="bold" text-anchor="middle" fill="#333" textLength="7.6" lengthAdjust="spacingAndGlyphs">1000</text>
<text x="213.1" y="683.6" font-size="4.2" font-weight="bold" text-anchor="middle" fill="#333" textLength="7.6" lengthAdjust="spacingAndGlyphs">2000</text>
<text x="228" y="683.6" font-size="4.2" font-weight="bold" text-anchor="middle" fill="#333" textLength="7.6" lengthAdjust="spacingAndGlyphs">3000</text>
<text x="242.9" y="683.6" font-size="4.2" font-weight="bold" text-anchor="middle" fill="#333" textLength="7.6" lengthAdjust="spacingAndGlyphs">4000</text>
<rect x="181.5" y="675.1" width="1" height="0.8" fill="#666"/>
<rect x="181.5" y="672" width="1" height="0.8" fill="#666"/>
<rect x="181.5" y="668.9" width="1" height="0.8" fill="#666"/>
<rect x="181.5" y="665.8" width="1" height="0.8" fill="#666"/>
<rect x="181.5" y="662.7" width="1" height="0.8" fill="#666"/>
<rect x="181.5" y="659.6" width="1" height="0.8" fill="#666"/>
<rect x="181.5" y="656.5" width="1" height="0.8" fill="#666"/>
<rect x="181.5" y="653.4" width="1" height="0.8" fill="#666"/>
<rect x="181.5" y="650.3" width="1" height="0.8" fill="#666"/>
<rect x="181.5" y="647.2" width="1" height="0.8" fill="#666"/>
<rect x="181.5" y="644.1" width="1" height="0.8" fill="#666"/>
<rect x="181.5" y="641" width="1" height="0.8" fill="#666"/>
<rect x="181.5" y="637.9" width="1" height="0.8" fill="#666"/>
<rect x="181.5" y="634.8" width="1" height="0.8" fill="#666"/>
<rect x="181.5" y="631.7" width="1" height="0.8" fill="#666"/>
<rect x="181.5" y="628.6" width="1" height="0.8" fill="#666"/>
<rect x="181.5" y="625.5" width="1" height="0.8" fill="#666"/>
<rect x="181.5" y="622.4" width="1" height="0.8" fill="#666"/>
<rect x="181.5" y="619.3" width="1" height="0.8" fill="#666"/>
<rect x="185.2" y="678" width="0.8" height="1.2" fill="#666"/>
<rect x="188.3" y="678" width="0.8" height="1.2" fill="#666"/>
<rect x="191.4" y="678" width="0.8" height="1.2" fill="#666"/>
<rect x="194.5" y="678" width="0.8" height="1.2" fill="#666"/>
<rect x="197.6" y="678" width="0.8" height="1.2" fill="#666"/>
<rect x="200.7" y="678" width="0.8" height="1.2" fill="#666"/>
<rect x="203.8" y="678" width="0.8" height="1.2" fill="#666"/>
<rect x="206.9" y="678" width="0.8" height="1.2" fill="#666"/>
<rect x="210" y="678" width="0.8" height="1.2" fill="#666"/>
<rect x="213.1" y="678" width="0.8" height="1.2" fill="#666"/>
<rect x="216.2" y="678" width="0.8" height="1.2" fill="#666"/>
<rect x="219.3" y="678" width="0.8" height="1.2" fill="#666"/>
<rect x="222.4" y="678" width="0.8" height="1.2" fill="#666"/>
<rect x="225.5" y="678" width="0.8" height="1.2" fill="#666"/>
<rect x="228.6" y="678" width="0.8" height="1.2" fill="#666"/>
<rect x="231.7" y="678" width="0.8" height="1.2" fill="#666"/>
<rect x="234.8" y="678" width="0.8" height="1.2" fill="#666"/>
<rect x="237.9" y="678" width="0.8" height="1.2" fill="#666"/>
<rect x="241" y="678" width="0.8" height="1.2" fill="#666"/>
<rect x="181.8" y="690.2" width="61.9" height="61.2" fill="none" stroke="#9a9a9a" stroke-width="0.9"/>
<path d="M181.8,750.8 L182.8,749.87 L183.8,748.89 L184.8,748.11 L185.8,746.88 L186.8,746.73 L187.8,746.96 L188.8,746.44 L189.8,747.46 L190.8,747.08 L191.8,746.53 L192.8,745.65 L193.8,744.22 L194.8,744.21 L195.8,744.22 L196.8,743.78 L197.8,742.95 L198.8,741.52 L199.8,740.2 L200.8,740.97 L201.8,740.88 L202.8,740.09 L203.8,741.33 L204.8,740.64 L205.8,740.22 L206.8,739.21 L207.8,739.39 L208.8,738.7 L209.8,738.6 L210.8,737.36 L211.8,738.13 L212.8,740.16 L213.8,738.86 L214.8,738.25 L215.8,730.88 L216.8,727.71 L217.8,733.02 L218.8,731.19 L219.8,732.19 L220.8,729.5 L221.8,730.02 L222.8,727.88 L223.8,726.1 L224.8,725.18 L225.8,723.96 L226.8,718.1 L227.8,714.4 L228.8,712.8 L229.8,711.74 L230.8,711.29 L231.8,709.66 L232.8,707.87 L233.8,705.18 L234.8,703.62 L235.8,692.8 L236.8,694.41 L237.8,700.23 L238.8,704.85 L239.8,713.18 L240.8,700.15 L241.8,719.9 L242.3,702.52 L242.8,717.8" fill="none" stroke="#8c8ce4" stroke-width="0.9"/>
<rect x="180.2" y="751.1" width="1.6" height="0.8" fill="#333"/>
<text x="179.2" y="752.9" font-size="4.4" font-weight="bold" text-anchor="end" fill="#333">0</text>
<rect x="180.2" y="732.5" width="1.6" height="0.8" fill="#333"/>
<text x="179.2" y="734.3" font-size="4.4" font-weight="bold" text-anchor="end" fill="#333">5</text>
<rect x="180.2" y="713.9" width="1.6" height="0.8" fill="#333"/>
<text x="179.2" y="715.7" font-size="4.4" font-weight="bold" text-anchor="end" fill="#333">10</text>
<rect x="180.2" y="695.3" width="1.6" height="0.8" fill="#333"/>
<text x="179.2" y="697.1" font-size="4.4" font-weight="bold" text-anchor="end" fill="#333">15</text>
<text x="183" y="756.8" font-size="4.2" font-weight="bold" text-anchor="middle" fill="#333">0</text>
<text x="197.9" y="756.8" font-size="4.2" font-weight="bold" text-anchor="middle" fill="#333" textLength="7.6" lengthAdjust="spacingAndGlyphs">1000</text>
<text x="212.8" y="756.8" font-size="4.2" font-weight="bold" text-anchor="middle" fill="#333" textLength="7.6" lengthAdjust="spacingAndGlyphs">2000</text>
<text x="227.7" y="756.8" font-size="4.2" font-weight="bold" text-anchor="middle" fill="#333" textLength="7.6" lengthAdjust="spacingAndGlyphs">3000</text>
<text x="242.6" y="756.8" font-size="4.2" font-weight="bold" text-anchor="middle" fill="#333" textLength="7.6" lengthAdjust="spacingAndGlyphs">4000</text>
<rect x="181.2" y="748.3" width="1" height="0.8" fill="#666"/>
<rect x="181.2" y="745.2" width="1" height="0.8" fill="#666"/>
<rect x="181.2" y="742.1" width="1" height="0.8" fill="#666"/>
<rect x="181.2" y="739" width="1" height="0.8" fill="#666"/>
<rect x="181.2" y="735.9" width="1" height="0.8" fill="#666"/>
<rect x="181.2" y="732.8" width="1" height="0.8" fill="#666"/>
<rect x="181.2" y="729.7" width="1" height="0.8" fill="#666"/>
<rect x="181.2" y="726.6" width="1" height="0.8" fill="#666"/>
<rect x="181.2" y="723.5" width="1" height="0.8" fill="#666"/>
<rect x="181.2" y="720.4" width="1" height="0.8" fill="#666"/>
<rect x="181.2" y="717.3" width="1" height="0.8" fill="#666"/>
<rect x="181.2" y="714.2" width="1" height="0.8" fill="#666"/>
<rect x="181.2" y="711.1" width="1" height="0.8" fill="#666"/>
<rect x="181.2" y="708" width="1" height="0.8" fill="#666"/>
<rect x="181.2" y="704.9" width="1" height="0.8" fill="#666"/>
<rect x="181.2" y="701.8" width="1" height="0.8" fill="#666"/>
<rect x="181.2" y="698.7" width="1" height="0.8" fill="#666"/>
<rect x="181.2" y="695.6" width="1" height="0.8" fill="#666"/>
<rect x="181.2" y="692.5" width="1" height="0.8" fill="#666"/>
<rect x="184.9" y="751.2" width="0.8" height="1.2" fill="#666"/>
<rect x="188" y="751.2" width="0.8" height="1.2" fill="#666"/>
<rect x="191.1" y="751.2" width="0.8" height="1.2" fill="#666"/>
<rect x="194.2" y="751.2" width="0.8" height="1.2" fill="#666"/>
<rect x="197.3" y="751.2" width="0.8" height="1.2" fill="#666"/>
<rect x="200.4" y="751.2" width="0.8" height="1.2" fill="#666"/>
<rect x="203.5" y="751.2" width="0.8" height="1.2" fill="#666"/>
<rect x="206.6" y="751.2" width="0.8" height="1.2" fill="#666"/>
<rect x="209.7" y="751.2" width="0.8" height="1.2" fill="#666"/>
<rect x="212.8" y="751.2" width="0.8" height="1.2" fill="#666"/>
<rect x="215.9" y="751.2" width="0.8" height="1.2" fill="#666"/>
<rect x="219" y="751.2" width="0.8" height="1.2" fill="#666"/>
<rect x="222.1" y="751.2" width="0.8" height="1.2" fill="#666"/>
<rect x="225.2" y="751.2" width="0.8" height="1.2" fill="#666"/>
<rect x="228.3" y="751.2" width="0.8" height="1.2" fill="#666"/>
<rect x="231.4" y="751.2" width="0.8" height="1.2" fill="#666"/>
<rect x="234.5" y="751.2" width="0.8" height="1.2" fill="#666"/>
<rect x="237.6" y="751.2" width="0.8" height="1.2" fill="#666"/>
<rect x="240.7" y="751.2" width="0.8" height="1.2" fill="#666"/>
<line x1="141.4" y1="564.8" x2="197" y2="564.8" stroke="#111" stroke-width="2.1"/>
<path d="M203.8,564.8 L195.8,561.4 L195.8,568.2 Z" fill="#111"/>
<line x1="141.4" y1="636.2" x2="197" y2="636.2" stroke="#111" stroke-width="2.1"/>
<path d="M203.8,636.2 L195.8,632.8 L195.8,639.6 Z" fill="#111"/>
<line x1="141.4" y1="709.8" x2="197" y2="709.8" stroke="#111" stroke-width="2.1"/>
<path d="M203.8,709.8 L195.8,706.4 L195.8,713.2 Z" fill="#111"/>
<text x="268" y="553.5" font-size="18.6" stroke="#000" stroke-width="0.6">E</text>
<line x1="334.4" y1="715.06" x2="506" y2="715.06" stroke="#cdcdcd" stroke-width="1"/>
<line x1="334.4" y1="697.42" x2="506" y2="697.42" stroke="#cdcdcd" stroke-width="1"/>
<line x1="334.4" y1="679.78" x2="506" y2="679.78" stroke="#cdcdcd" stroke-width="1"/>
<line x1="334.4" y1="662.14" x2="506" y2="662.14" stroke="#cdcdcd" stroke-width="1"/>
<line x1="334.4" y1="644.5" x2="506" y2="644.5" stroke="#cdcdcd" stroke-width="1"/>
<line x1="334.4" y1="626.86" x2="506" y2="626.86" stroke="#cdcdcd" stroke-width="1"/>
<line x1="334.4" y1="609.22" x2="506" y2="609.22" stroke="#cdcdcd" stroke-width="1"/>
<line x1="334.4" y1="591.58" x2="506" y2="591.58" stroke="#cdcdcd" stroke-width="1"/>
<line x1="334.4" y1="573.94" x2="506" y2="573.94" stroke="#cdcdcd" stroke-width="1"/>
<rect x="334.4" y="556.3" width="171.6" height="176.4" fill="none" stroke="#808080" stroke-width="1"/>
<line x1="334.4" y1="556.3" x2="334.4" y2="732.7" stroke="#555" stroke-width="1.1"/>
<line x1="334.4" y1="732.7" x2="506" y2="732.7" stroke="#444" stroke-width="1.3"/>
<line x1="331.4" y1="732.7" x2="334.4" y2="732.7" stroke="#555" stroke-width="1"/>
<text x="325.9" y="737.3" font-size="9.8" font-weight="bold" text-anchor="end">0</text>
<line x1="331.4" y1="715.06" x2="334.4" y2="715.06" stroke="#555" stroke-width="1"/>
<text x="325.9" y="719.66" font-size="9.8" font-weight="bold" text-anchor="end">10</text>
<line x1="331.4" y1="697.42" x2="334.4" y2="697.42" stroke="#555" stroke-width="1"/>
<text x="325.9" y="702.02" font-size="9.8" font-weight="bold" text-anchor="end">20</text>
<line x1="331.4" y1="679.78" x2="334.4" y2="679.78" stroke="#555" stroke-width="1"/>
<text x="325.9" y="684.38" font-size="9.8" font-weight="bold" text-anchor="end">30</text>
<line x1="331.4" y1="662.14" x2="334.4" y2="662.14" stroke="#555" stroke-width="1"/>
<text x="325.9" y="666.74" font-size="9.8" font-weight="bold" text-anchor="end">40</text>
<line x1="331.4" y1="644.5" x2="334.4" y2="644.5" stroke="#555" stroke-width="1"/>
<text x="325.9" y="649.1" font-size="9.8" font-weight="bold" text-anchor="end">50</text>
<line x1="331.4" y1="626.86" x2="334.4" y2="626.86" stroke="#555" stroke-width="1"/>
<text x="325.9" y="631.46" font-size="9.8" font-weight="bold" text-anchor="end">60</text>
<line x1="331.4" y1="609.22" x2="334.4" y2="609.22" stroke="#555" stroke-width="1"/>
<text x="325.9" y="613.82" font-size="9.8" font-weight="bold" text-anchor="end">70</text>
<line x1="331.4" y1="591.58" x2="334.4" y2="591.58" stroke="#555" stroke-width="1"/>
<text x="325.9" y="596.18" font-size="9.8" font-weight="bold" text-anchor="end">80</text>
<line x1="331.4" y1="573.94" x2="334.4" y2="573.94" stroke="#555" stroke-width="1"/>
<text x="325.9" y="578.54" font-size="9.8" font-weight="bold" text-anchor="end">90</text>
<line x1="331.4" y1="556.3" x2="334.4" y2="556.3" stroke="#555" stroke-width="1"/>
<text x="325.9" y="560.9" font-size="9.8" font-weight="bold" text-anchor="end">100</text>
<line x1="334.4" y1="732.7" x2="334.4" y2="735.7" stroke="#444" stroke-width="1"/>
<line x1="420.2" y1="732.7" x2="420.2" y2="735.7" stroke="#444" stroke-width="1"/>
<line x1="506" y1="732.7" x2="506" y2="735.7" stroke="#444" stroke-width="1"/>
<rect x="346.6" y="629.02" width="14.8" height="103.68" fill="#ffee1a" stroke="#9a8a10" stroke-width="0.8"/>
<rect x="362.2" y="709.29" width="14.7" height="23.41" fill="#ff8a08" stroke="#a85a00" stroke-width="0.8"/>
<rect x="377.7" y="690.76" width="15" height="41.94" fill="#d22c0c" stroke="#7a1800" stroke-width="0.8"/>
<rect x="393.5" y="726.57" width="15" height="6.13" fill="#1c8a1c" stroke="#0a520a" stroke-width="0.8"/>
<rect x="463.9" y="629.02" width="14.8" height="103.68" fill="#d22c0c" stroke="#7a1800" stroke-width="0.8"/>
<rect x="479.5" y="660.78" width="15.1" height="71.92" fill="#1c8a1c" stroke="#0a520a" stroke-width="0.8"/>
<line x1="471.2" y1="593.34" x2="471.2" y2="663.9" stroke="#333" stroke-width="0.9"/>
<line x1="470.2" y1="593.34" x2="472.2" y2="593.34" stroke="#333" stroke-width="0.9"/>
<line x1="470.2" y1="663.9" x2="472.2" y2="663.9" stroke="#333" stroke-width="0.9"/>
<line x1="487.2" y1="637.44" x2="487.2" y2="682.43" stroke="#333" stroke-width="0.9"/>
<line x1="486.2" y1="637.44" x2="488.2" y2="637.44" stroke="#333" stroke-width="0.9"/>
<line x1="486.2" y1="682.43" x2="488.2" y2="682.43" stroke="#333" stroke-width="0.9"/>
<rect x="335.8" y="557.8" width="108" height="15.8" fill="#fff" stroke="#555" stroke-width="1"/>
<rect x="343.6" y="563.7" width="4.4" height="4.4" fill="#f4ec40" stroke="#8a8010" stroke-width="0.7"/>
<text x="350.3" y="570" font-size="9.2" textLength="9.1" lengthAdjust="spacingAndGlyphs">&#949;&#947;</text>
<rect x="366.6" y="563.7" width="4.4" height="4.4" fill="#f08c20" stroke="#8a5010" stroke-width="0.7"/>
<text x="373.2" y="570" font-size="9.2" textLength="15.6" lengthAdjust="spacingAndGlyphs">&#946;H1</text>
<rect x="397" y="563.7" width="4.4" height="4.4" fill="#c83010" stroke="#701800" stroke-width="0.7"/>
<text x="403.6" y="570" font-size="9.2" textLength="9.8" lengthAdjust="spacingAndGlyphs">&#946;1</text>
<rect x="422.5" y="563.7" width="4.4" height="4.4" fill="#1c8a1c" stroke="#0a520a" stroke-width="0.7"/>
<text x="428" y="570" font-size="9.2" textLength="9.9" lengthAdjust="spacingAndGlyphs">&#946;2</text>
<text transform="translate(307.6,642.8) rotate(-90)" font-size="12" font-weight="bold" text-anchor="middle" textLength="144.4" lengthAdjust="spacingAndGlyphs">Percent of Total &#946;-Globin</text>
<text x="377.8" y="752" font-size="10.2" font-weight="bold" text-anchor="middle" textLength="57.7" lengthAdjust="spacingAndGlyphs">E12.5 Blood</text>
<text x="463.4" y="752" font-size="10.2" font-weight="bold" text-anchor="middle" textLength="54.8" lengthAdjust="spacingAndGlyphs">Extensively</text>
<text x="463.4" y="764" font-size="10.2" font-weight="bold" text-anchor="middle" textLength="59" lengthAdjust="spacingAndGlyphs">Proliferating</text>
<text x="463.3" y="776.4" font-size="10.2" font-weight="bold" text-anchor="middle" textLength="82.6" lengthAdjust="spacingAndGlyphs">Erythroid Culture</text>
</svg>
</body></html>
